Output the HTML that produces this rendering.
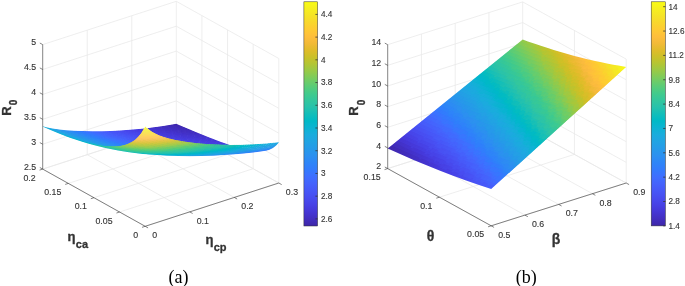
<!DOCTYPE html>
<html><head><meta charset="utf-8"><style>
html,body{margin:0;padding:0;background:#fff;}
body{width:685px;height:286px;overflow:hidden;font-family:"Liberation Sans", sans-serif;}
svg{display:block;}
.s path{fill:currentColor}
</style></head><body>
<svg width="685" height="286" viewBox="0 0 685 286" font-family='"Liberation Sans", sans-serif'>
<rect width="685" height="286" fill="#fff"/>
<line x1="42.7" y1="169.1" x2="176.3" y2="125.8" stroke="#e8e8e8" stroke-width="0.75"/>
<line x1="42.7" y1="144.2" x2="176.3" y2="100.9" stroke="#e8e8e8" stroke-width="0.75"/>
<line x1="42.7" y1="119.3" x2="176.3" y2="76" stroke="#e8e8e8" stroke-width="0.75"/>
<line x1="42.7" y1="94.4" x2="176.3" y2="51.1" stroke="#e8e8e8" stroke-width="0.75"/>
<line x1="42.7" y1="69.5" x2="176.3" y2="26.2" stroke="#e8e8e8" stroke-width="0.75"/>
<line x1="42.7" y1="44.6" x2="176.3" y2="1.3" stroke="#e8e8e8" stroke-width="0.75"/>
<line x1="87.23" y1="154.67" x2="87.23" y2="30.17" stroke="#e8e8e8" stroke-width="0.75"/>
<line x1="131.77" y1="140.23" x2="131.77" y2="15.73" stroke="#e8e8e8" stroke-width="0.75"/>
<line x1="176.3" y1="125.8" x2="176.3" y2="1.3" stroke="#e8e8e8" stroke-width="0.75"/>
<line x1="278.8" y1="183" x2="176.3" y2="125.8" stroke="#e8e8e8" stroke-width="0.75"/>
<line x1="278.8" y1="158.1" x2="176.3" y2="100.9" stroke="#e8e8e8" stroke-width="0.75"/>
<line x1="278.8" y1="133.2" x2="176.3" y2="76" stroke="#e8e8e8" stroke-width="0.75"/>
<line x1="278.8" y1="108.3" x2="176.3" y2="51.1" stroke="#e8e8e8" stroke-width="0.75"/>
<line x1="278.8" y1="83.4" x2="176.3" y2="26.2" stroke="#e8e8e8" stroke-width="0.75"/>
<line x1="278.8" y1="58.5" x2="176.3" y2="1.3" stroke="#e8e8e8" stroke-width="0.75"/>
<line x1="278.8" y1="183" x2="278.8" y2="58.5" stroke="#e8e8e8" stroke-width="0.75"/>
<line x1="253.17" y1="168.7" x2="253.17" y2="44.2" stroke="#e8e8e8" stroke-width="0.75"/>
<line x1="227.55" y1="154.4" x2="227.55" y2="29.9" stroke="#e8e8e8" stroke-width="0.75"/>
<line x1="201.92" y1="140.1" x2="201.92" y2="15.6" stroke="#e8e8e8" stroke-width="0.75"/>
<line x1="145.2" y1="226.3" x2="42.7" y2="169.1" stroke="#e8e8e8" stroke-width="0.75"/>
<line x1="189.73" y1="211.87" x2="87.23" y2="154.67" stroke="#e8e8e8" stroke-width="0.75"/>
<line x1="234.27" y1="197.43" x2="131.77" y2="140.23" stroke="#e8e8e8" stroke-width="0.75"/>
<line x1="278.8" y1="183" x2="176.3" y2="125.8" stroke="#e8e8e8" stroke-width="0.75"/>
<line x1="145.2" y1="226.3" x2="278.8" y2="183" stroke="#e8e8e8" stroke-width="0.75"/>
<line x1="119.57" y1="212" x2="253.17" y2="168.7" stroke="#e8e8e8" stroke-width="0.75"/>
<line x1="93.95" y1="197.7" x2="227.55" y2="154.4" stroke="#e8e8e8" stroke-width="0.75"/>
<line x1="68.32" y1="183.4" x2="201.92" y2="140.1" stroke="#e8e8e8" stroke-width="0.75"/>
<line x1="42.7" y1="169.1" x2="176.3" y2="125.8" stroke="#e8e8e8" stroke-width="0.75"/>
<defs><mask id="mkA" maskUnits="userSpaceOnUse" x="0" y="0" width="685" height="286"><path fill="#fff" d="M42.70 126.30 45.40 127.07 47.40 127.56 50.00 128.09 53.00 128.62 59.60 129.52 66.20 130.17 73.80 130.70 83.00 131.10 92.60 131.26 102.00 131.20 110.60 130.96 119.80 130.52 129.40 129.87 138.60 129.05 144.20 128.46 145.00 126.82 145.20 126.55 145.80 127.08 146.40 127.74 146.80 128.06 147.00 128.14 153.80 127.31 161.40 126.25 170.60 124.81 176.20 123.84 176.40 123.86 178.00 124.52 186.40 128.11 196.40 132.27 208.20 137.02 219.80 141.43 226.40 143.78 229.80 144.89 236.00 144.86 241.60 144.74 247.20 144.56 253.80 144.24 260.40 143.82 266.00 143.39 272.60 142.79 278.80 142.14 278.80 142.53 277.80 143.81 276.20 145.50 274.60 146.87 273.00 148.00 272.20 148.45 271.00 149.09 269.00 149.92 268.00 150.26 266.20 150.73 264.20 151.09 255.80 152.18 246.80 153.19 235.60 154.25 224.20 155.09 213.00 155.68 201.40 156.06 189.80 156.18 178.40 156.05 167.20 155.68 156.60 155.08 148.20 154.43 140.40 153.68 132.40 152.74 125.60 151.79 118.00 150.55 111.60 149.36 104.40 147.83 97.20 146.11 89.60 144.07 82.80 142.05 75.20 139.60 68.20 137.15 59.40 133.80 51.00 130.32 42.80 126.68z"/></mask></defs>
<g class="s" mask="url(#mkA)">
<path color="#16afda" d="M42.7 124.8L43.5 125.0 43.5 127.2 42.7 127.0z"/>
<path color="#16afd9" d="M43.3 125.0L44.1 125.3 44.1 127.5 43.3 127.2z"/>
<path color="#16afd9" d="M43.9 125.3L44.7 125.6 44.7 127.8 43.9 127.5z"/>
<path color="#16afd9" d="M44.5 125.6L45.3 125.9 45.3 128.1 44.5 127.8z"/>
<path color="#15afd9" d="M45.1 125.9L45.9 126.1 45.9 128.3 45.1 128.1z"/>
<path color="#15afd9" d="M45.7 126.1L46.5 126.4 46.5 128.6 45.7 128.3z"/>
<path color="#15b0d8" d="M46.3 126.4L47.1 126.7 47.1 128.9 46.3 128.6z"/>
<path color="#15b0d8" d="M46.9 126.7L47.7 126.9 47.7 129.1 46.9 128.9z"/>
<path color="#14b0d8" d="M47.5 126.9L48.3 127.2 48.3 129.4 47.5 129.1z"/>
<path color="#14b0d8" d="M48.1 127.2L48.9 127.4 48.9 129.6 48.1 129.4z"/>
<path color="#14b0d7" d="M48.7 127.4L49.5 127.7 49.5 129.9 48.7 129.6z"/>
<path color="#13b0d7" d="M49.3 127.7L50.1 128.0 50.1 130.2 49.3 129.9z"/>
<path color="#13b1d7" d="M49.9 128.0L50.7 128.2 50.7 130.4 49.9 130.2z"/>
<path color="#13b1d7" d="M50.5 128.2L51.3 128.5 51.3 130.7 50.5 130.4z"/>
<path color="#12b1d6" d="M51.1 128.5L51.9 128.8 51.9 131.0 51.1 130.7z"/>
<path color="#12b1d6" d="M51.7 128.8L52.5 129.0 52.5 131.2 51.7 131.0z"/>
<path color="#12b1d6" d="M52.3 129.0L53.1 129.3 53.1 131.5 52.3 131.2z"/>
<path color="#11b1d6" d="M52.9 129.3L53.7 129.5 53.7 131.7 52.9 131.5z"/>
<path color="#11b1d6" d="M53.5 129.5L54.3 129.8 54.3 132.0 53.5 131.7z"/>
<path color="#10b2d5" d="M54.1 129.8L54.9 130.0 54.9 132.2 54.1 132.0z"/>
<path color="#10b2d5" d="M54.7 130.0L55.5 130.3 55.5 132.5 54.7 132.2z"/>
<path color="#0fb2d5" d="M55.3 130.3L56.1 130.5 56.1 132.7 55.3 132.5z"/>
<path color="#0eb2d4" d="M55.9 130.5L56.7 130.8 56.7 133.0 55.9 132.7z"/>
<path color="#0eb2d4" d="M56.5 130.8L57.3 131.0 57.3 133.2 56.5 133.0z"/>
<path color="#0eb3d4" d="M57.1 131.0L57.9 131.3 57.9 133.5 57.1 133.2z"/>
<path color="#0cb3d3" d="M57.7 131.3L58.5 131.5 58.5 133.7 57.7 133.5z"/>
<path color="#0cb3d3" d="M58.3 131.5L59.1 131.7 59.1 133.9 58.3 133.7z"/>
<path color="#0cb3d2" d="M58.9 131.7L59.7 132.0 59.7 134.2 58.9 133.9z"/>
<path color="#0bb4d2" d="M59.5 132.0L60.3 132.2 60.3 134.4 59.5 134.2z"/>
<path color="#0bb4d2" d="M60.1 132.2L60.9 132.4 60.9 134.6 60.1 134.4z"/>
<path color="#09b4d1" d="M60.7 132.4L61.5 132.7 61.5 134.9 60.7 134.6z"/>
<path color="#09b4d1" d="M61.3 132.7L62.1 132.9 62.1 135.1 61.3 134.9z"/>
<path color="#09b4d1" d="M61.9 132.9L62.7 133.1 62.7 135.3 61.9 135.1z"/>
<path color="#07b5d0" d="M62.5 133.1L63.3 133.4 63.3 135.6 62.5 135.3z"/>
<path color="#07b5d0" d="M63.1 133.4L63.9 133.6 63.9 135.8 63.1 135.6z"/>
<path color="#06b5cf" d="M63.7 133.6L64.5 133.8 64.5 136.0 63.7 135.8z"/>
<path color="#05b5cf" d="M64.3 133.8L65.1 134.1 65.1 136.3 64.3 136.0z"/>
<path color="#05b5cf" d="M64.9 134.1L65.7 134.3 65.7 136.5 64.9 136.3z"/>
<path color="#04b6ce" d="M65.5 134.3L66.3 134.5 66.3 136.7 65.5 136.5z"/>
<path color="#04b6cd" d="M66.1 134.5L66.9 134.7 66.9 136.9 66.1 136.7z"/>
<path color="#04b6cd" d="M66.7 134.7L67.5 135.0 67.5 137.2 66.7 136.9z"/>
<path color="#03b6cd" d="M67.3 135.0L68.1 135.2 68.1 137.4 67.3 137.2z"/>
<path color="#03b6cd" d="M67.9 135.2L68.7 135.4 68.7 137.6 67.9 137.4z"/>
<path color="#03b6cc" d="M68.5 135.4L69.3 135.6 69.3 137.8 68.5 137.6z"/>
<path color="#02b7cb" d="M69.1 135.6L69.9 135.8 69.9 138.0 69.1 137.8z"/>
<path color="#02b7cb" d="M69.7 135.8L70.5 136.0 70.5 138.2 69.7 138.0z"/>
<path color="#01b7cb" d="M70.3 136.0L71.1 136.2 71.1 138.4 70.3 138.2z"/>
<path color="#01b7cb" d="M70.9 136.2L71.7 136.5 71.7 138.7 70.9 138.4z"/>
<path color="#01b7cb" d="M71.5 136.5L72.3 136.7 72.3 138.9 71.5 138.7z"/>
<path color="#01b7cb" d="M72.1 136.7L72.9 136.9 72.9 139.1 72.1 138.9z"/>
<path color="#01b7ca" d="M72.7 136.9L73.5 137.1 73.5 139.3 72.7 139.1z"/>
<path color="#01b8ca" d="M73.3 137.1L74.1 137.3 74.1 139.5 73.3 139.3z"/>
<path color="#01b8ca" d="M73.9 137.3L74.7 137.5 74.7 139.7 73.9 139.5z"/>
<path color="#01b8ca" d="M74.5 137.5L75.3 137.7 75.3 139.9 74.5 139.7z"/>
<path color="#01b8ca" d="M75.1 137.7L75.9 137.9 75.9 140.1 75.1 139.9z"/>
<path color="#01b8ca" d="M75.7 137.9L76.5 138.1 76.5 140.3 75.7 140.1z"/>
<path color="#01b8c9" d="M76.3 138.1L77.1 138.3 77.1 140.5 76.3 140.3z"/>
<path color="#01b8ca" d="M76.9 138.3L77.7 138.5 77.7 140.7 76.9 140.5z"/>
<path color="#01b8ca" d="M77.5 138.5L78.3 138.7 78.3 140.9 77.5 140.7z"/>
<path color="#01b8c9" d="M78.1 138.7L78.9 138.9 78.9 141.1 78.1 140.9z"/>
<path color="#00b8c9" d="M78.7 138.9L79.5 139.1 79.5 141.3 78.7 141.1z"/>
<path color="#00b8c9" d="M79.3 139.1L80.1 139.3 80.1 141.5 79.3 141.3z"/>
<path color="#00b8c9" d="M79.9 139.3L80.7 139.5 80.7 141.7 79.9 141.5z"/>
<path color="#00b8c9" d="M80.5 139.5L81.3 139.7 81.3 141.9 80.5 141.7z"/>
<path color="#00b8c8" d="M81.1 139.7L81.9 139.8 81.9 142.0 81.1 141.9z"/>
<path color="#00b9c8" d="M81.7 139.8L82.5 140.0 82.5 142.2 81.7 142.0z"/>
<path color="#00b9c8" d="M82.3 140.0L83.1 140.2 83.1 142.4 82.3 142.2z"/>
<path color="#00b9c7" d="M82.9 140.2L83.7 140.4 83.7 142.6 82.9 142.4z"/>
<path color="#00b9c7" d="M83.5 140.4L84.3 140.6 84.3 142.8 83.5 142.6z"/>
<path color="#00b9c8" d="M84.1 140.6L84.9 140.8 84.9 143.0 84.1 142.8z"/>
<path color="#00b9c7" d="M84.7 140.8L85.5 140.9 85.5 143.1 84.7 143.0z"/>
<path color="#00b9c7" d="M85.3 140.9L86.1 141.1 86.1 143.3 85.3 143.1z"/>
<path color="#00b9c7" d="M85.9 141.1L86.7 141.3 86.7 143.5 85.9 143.3z"/>
<path color="#00b9c7" d="M86.5 141.3L87.3 141.5 87.3 143.7 86.5 143.5z"/>
<path color="#00b9c7" d="M87.1 141.5L87.9 141.7 87.9 143.9 87.1 143.7z"/>
<path color="#00b9c7" d="M87.7 141.7L88.5 141.8 88.5 144.0 87.7 143.9z"/>
<path color="#00b9c7" d="M88.3 141.8L89.1 142.0 89.1 144.2 88.3 144.0z"/>
<path color="#00b9c6" d="M88.9 142.0L89.7 142.2 89.7 144.4 88.9 144.2z"/>
<path color="#00b9c6" d="M89.5 142.2L90.3 142.3 90.3 144.5 89.5 144.4z"/>
<path color="#00bac6" d="M90.1 142.3L90.9 142.5 90.9 144.7 90.1 144.5z"/>
<path color="#00b9c6" d="M90.7 142.5L91.5 142.7 91.5 144.9 90.7 144.7z"/>
<path color="#00b9c6" d="M91.3 142.7L92.1 142.8 92.1 145.0 91.3 144.9z"/>
<path color="#01bac5" d="M91.9 142.8L92.7 143.0 92.7 145.2 91.9 145.0z"/>
<path color="#01bac5" d="M92.5 143.0L93.3 143.2 93.3 145.4 92.5 145.2z"/>
<path color="#00b9c6" d="M93.1 143.2L93.9 143.3 93.9 145.5 93.1 145.4z"/>
<path color="#00b9c6" d="M93.7 143.3L94.5 143.5 94.5 145.7 93.7 145.5z"/>
<path color="#01bac5" d="M94.3 143.5L95.1 143.6 95.1 145.8 94.3 145.7z"/>
<path color="#00bac6" d="M94.9 143.6L95.7 143.8 95.7 146.0 94.9 145.8z"/>
<path color="#01bac6" d="M95.5 143.8L96.3 144.0 96.3 146.2 95.5 146.0z"/>
<path color="#01bac5" d="M96.1 144.0L96.9 144.1 96.9 146.3 96.1 146.2z"/>
<path color="#01bac5" d="M96.7 144.1L97.5 144.3 97.5 146.5 96.7 146.3z"/>
<path color="#01bac5" d="M97.3 144.3L98.1 144.4 98.1 146.6 97.3 146.5z"/>
<path color="#01bac5" d="M97.9 144.4L98.7 144.6 98.7 146.8 97.9 146.6z"/>
<path color="#01bac5" d="M98.5 144.6L99.3 144.7 99.3 146.9 98.5 146.8z"/>
<path color="#01bac5" d="M99.1 144.7L99.9 144.9 99.9 147.1 99.1 146.9z"/>
<path color="#01bac5" d="M99.7 144.9L100.5 145.0 100.5 147.2 99.7 147.1z"/>
<path color="#01bac5" d="M100.3 145.0L101.1 145.1 101.1 147.3 100.3 147.2z"/>
<path color="#01bac5" d="M100.9 145.1L101.7 145.3 101.7 147.5 100.9 147.3z"/>
<path color="#01bac5" d="M101.5 145.3L102.3 145.4 102.3 147.6 101.5 147.5z"/>
<path color="#01bac5" d="M102.1 145.4L102.9 145.6 102.9 147.8 102.1 147.6z"/>
<path color="#01bac5" d="M102.7 145.6L103.5 145.7 103.5 147.9 102.7 147.8z"/>
<path color="#01bac5" d="M103.3 145.7L104.1 145.8 104.1 148.0 103.3 147.9z"/>
<path color="#01bac5" d="M103.9 145.8L104.7 146.0 104.7 148.2 103.9 148.0z"/>
<path color="#01bac5" d="M104.5 146.0L105.3 146.1 105.3 148.3 104.5 148.2z"/>
<path color="#01bac5" d="M105.1 146.1L105.9 146.2 105.9 148.4 105.1 148.3z"/>
<path color="#01bac5" d="M105.7 146.2L106.5 146.4 106.5 148.6 105.7 148.4z"/>
<path color="#01bac5" d="M106.3 146.4L107.1 146.5 107.1 148.7 106.3 148.6z"/>
<path color="#01bac5" d="M106.9 146.5L107.7 146.6 107.7 148.8 106.9 148.7z"/>
<path color="#01bac5" d="M107.5 146.6L108.3 146.8 108.3 149.0 107.5 148.8z"/>
<path color="#01bac5" d="M108.1 146.8L108.9 146.9 108.9 149.1 108.1 149.0z"/>
<path color="#01bac5" d="M108.7 146.9L109.5 147.0 109.5 149.2 108.7 149.1z"/>
<path color="#01bac5" d="M109.3 147.0L110.1 147.1 110.1 149.3 109.3 149.2z"/>
<path color="#00b9c6" d="M109.9 147.1L110.7 147.3 110.7 149.5 109.9 149.3z"/>
<path color="#00b9c6" d="M110.5 147.3L111.3 147.4 111.3 149.6 110.5 149.5z"/>
<path color="#01bac5" d="M111.1 147.4L111.9 147.5 111.9 149.7 111.1 149.6z"/>
<path color="#00b9c6" d="M111.7 147.5L112.5 147.6 112.5 149.8 111.7 149.7z"/>
<path color="#00b9c6" d="M112.3 147.6L113.1 147.7 113.1 149.9 112.3 149.8z"/>
<path color="#00b9c6" d="M112.9 147.7L113.7 147.8 113.7 150.0 112.9 149.9z"/>
<path color="#00b9c6" d="M113.5 147.8L114.3 148.0 114.3 150.2 113.5 150.0z"/>
<path color="#00b9c6" d="M114.1 148.0L114.9 148.1 114.9 150.3 114.1 150.2z"/>
<path color="#00b9c6" d="M114.7 148.1L115.5 148.2 115.5 150.4 114.7 150.3z"/>
<path color="#00b9c7" d="M115.3 148.2L116.1 148.3 116.1 150.5 115.3 150.4z"/>
<path color="#00b9c6" d="M115.9 148.3L116.7 148.4 116.7 150.6 115.9 150.5z"/>
<path color="#00b9c7" d="M116.5 148.4L117.3 148.5 117.3 150.7 116.5 150.6z"/>
<path color="#00b9c7" d="M117.1 148.5L117.9 148.6 117.9 150.8 117.1 150.7z"/>
<path color="#00b9c7" d="M117.7 148.6L118.5 148.7 118.5 150.9 117.7 150.8z"/>
<path color="#00b9c8" d="M118.3 148.7L119.1 148.8 119.1 151.0 118.3 150.9z"/>
<path color="#00b9c8" d="M118.9 148.8L119.7 148.9 119.7 151.1 118.9 151.0z"/>
<path color="#00b8c8" d="M119.5 148.9L120.3 149.0 120.3 151.2 119.5 151.1z"/>
<path color="#00b9c8" d="M120.1 149.0L120.9 149.1 120.9 151.3 120.1 151.2z"/>
<path color="#00b8c8" d="M120.7 149.1L121.5 149.2 121.5 151.4 120.7 151.3z"/>
<path color="#00b8c9" d="M121.3 149.2L122.1 149.3 122.1 151.5 121.3 151.4z"/>
<path color="#00b8c9" d="M121.9 149.3L122.7 149.4 122.7 151.6 121.9 151.5z"/>
<path color="#01b8c9" d="M122.5 149.4L123.3 149.5 123.3 151.7 122.5 151.6z"/>
<path color="#01b8ca" d="M123.1 149.5L123.9 149.6 123.9 151.8 123.1 151.7z"/>
<path color="#01b8ca" d="M123.7 149.6L124.5 149.7 124.5 151.9 123.7 151.8z"/>
<path color="#01b8ca" d="M124.3 149.7L125.1 149.8 125.1 152.0 124.3 151.9z"/>
<path color="#01b8ca" d="M124.9 149.8L125.7 149.9 125.7 152.1 124.9 152.0z"/>
<path color="#01b8ca" d="M125.5 149.9L126.3 150.0 126.3 152.2 125.5 152.1z"/>
<path color="#01b7ca" d="M126.1 150.0L126.9 150.1 126.9 152.3 126.1 152.2z"/>
<path color="#01b7cb" d="M126.7 150.1L127.5 150.2 127.5 152.4 126.7 152.3z"/>
<path color="#02b7cb" d="M127.3 150.2L128.1 150.2 128.1 152.4 127.3 152.4z"/>
<path color="#02b7cc" d="M127.9 150.2L128.7 150.3 128.7 152.5 127.9 152.4z"/>
<path color="#02b7cc" d="M128.5 150.3L129.3 150.4 129.3 152.6 128.5 152.5z"/>
<path color="#03b7cc" d="M129.1 150.4L129.9 150.5 129.9 152.7 129.1 152.6z"/>
<path color="#03b6cd" d="M129.7 150.5L130.5 150.6 130.5 152.8 129.7 152.7z"/>
<path color="#04b6cd" d="M130.3 150.6L131.1 150.7 131.1 152.9 130.3 152.8z"/>
<path color="#04b6cd" d="M130.9 150.7L131.7 150.7 131.7 152.9 130.9 152.9z"/>
<path color="#04b6ce" d="M131.5 150.7L132.3 150.8 132.3 153.0 131.5 152.9z"/>
<path color="#04b6ce" d="M132.1 150.8L132.9 150.9 132.9 153.1 132.1 153.0z"/>
<path color="#05b6ce" d="M132.7 150.9L133.5 151.0 133.5 153.2 132.7 153.1z"/>
<path color="#05b5cf" d="M133.3 151.0L134.1 151.0 134.1 153.2 133.3 153.2z"/>
<path color="#06b5cf" d="M133.9 151.0L134.7 151.1 134.7 153.3 133.9 153.2z"/>
<path color="#06b5cf" d="M134.5 151.1L135.3 151.2 135.3 153.4 134.5 153.3z"/>
<path color="#07b5d0" d="M135.1 151.2L135.9 151.3 135.9 153.5 135.1 153.4z"/>
<path color="#07b5d0" d="M135.7 151.3L136.5 151.3 136.5 153.5 135.7 153.5z"/>
<path color="#08b5d0" d="M136.3 151.3L137.1 151.4 137.1 153.6 136.3 153.5z"/>
<path color="#09b4d1" d="M136.9 151.4L137.7 151.5 137.7 153.7 136.9 153.6z"/>
<path color="#09b4d1" d="M137.5 151.5L138.3 151.5 138.3 153.7 137.5 153.7z"/>
<path color="#0ab4d2" d="M138.1 151.5L138.9 151.6 138.9 153.8 138.1 153.7z"/>
<path color="#0ab4d2" d="M138.7 151.6L139.5 151.7 139.5 153.9 138.7 153.8z"/>
<path color="#0bb3d2" d="M139.3 151.7L140.1 151.7 140.1 153.9 139.3 153.9z"/>
<path color="#0bb3d2" d="M139.9 151.7L140.7 151.8 140.7 154.0 139.9 153.9z"/>
<path color="#0cb3d3" d="M140.5 151.8L141.3 151.9 141.3 154.1 140.5 154.0z"/>
<path color="#0db3d3" d="M141.1 151.9L141.9 151.9 141.9 154.1 141.1 154.1z"/>
<path color="#0eb3d4" d="M141.7 151.9L142.5 152.0 142.5 154.2 141.7 154.1z"/>
<path color="#0eb3d4" d="M142.3 152.0L143.1 152.0 143.1 154.2 142.3 154.2z"/>
<path color="#0fb2d4" d="M142.9 152.0L143.7 152.1 143.7 154.3 142.9 154.2z"/>
<path color="#10b2d5" d="M143.5 152.1L144.3 152.2 144.3 154.4 143.5 154.3z"/>
<path color="#10b2d5" d="M144.1 152.2L144.9 152.2 144.9 154.4 144.1 154.4z"/>
<path color="#11b1d6" d="M144.7 152.2L145.5 152.3 145.5 154.5 144.7 154.4z"/>
<path color="#12b1d6" d="M145.3 152.3L146.1 152.3 146.1 154.5 145.3 154.5z"/>
<path color="#12b1d6" d="M145.9 152.3L146.7 152.4 146.7 154.6 145.9 154.5z"/>
<path color="#13b1d7" d="M146.5 152.4L147.3 152.4 147.3 154.6 146.5 154.6z"/>
<path color="#13b0d7" d="M147.1 152.4L147.9 152.5 147.9 154.7 147.1 154.6z"/>
<path color="#13b0d7" d="M147.7 152.5L148.5 152.6 148.5 154.8 147.7 154.7z"/>
<path color="#14b0d8" d="M148.3 152.6L149.1 152.6 149.1 154.8 148.3 154.8z"/>
<path color="#15b0d8" d="M148.9 152.6L149.7 152.7 149.7 154.9 148.9 154.8z"/>
<path color="#16afd9" d="M149.5 152.7L150.3 152.7 150.3 154.9 149.5 154.9z"/>
<path color="#16afd9" d="M150.1 152.7L150.9 152.8 150.9 155.0 150.1 154.9z"/>
<path color="#16afda" d="M150.7 152.8L151.5 152.8 151.5 155.0 150.7 155.0z"/>
<path color="#17aeda" d="M151.3 152.8L152.1 152.8 152.1 155.0 151.3 155.0z"/>
<path color="#17aeda" d="M151.9 152.8L152.7 152.9 152.7 155.1 151.9 155.0z"/>
<path color="#17aeda" d="M152.5 152.9L153.3 152.9 153.3 155.1 152.5 155.1z"/>
<path color="#18aedb" d="M153.1 152.9L153.9 153.0 153.9 155.2 153.1 155.1z"/>
<path color="#18addb" d="M153.7 153.0L154.5 153.0 154.5 155.2 153.7 155.2z"/>
<path color="#19addc" d="M154.3 153.0L155.1 153.1 155.1 155.3 154.3 155.2z"/>
<path color="#19addc" d="M154.9 153.1L155.7 153.1 155.7 155.3 154.9 155.3z"/>
<path color="#19acdc" d="M155.5 153.1L156.3 153.2 156.3 155.4 155.5 155.3z"/>
<path color="#19acdc" d="M156.1 153.2L156.9 153.2 156.9 155.4 156.1 155.4z"/>
<path color="#1aacdd" d="M156.7 153.2L157.5 153.2 157.5 155.4 156.7 155.4z"/>
<path color="#1aacdd" d="M157.3 153.2L158.1 153.3 158.1 155.5 157.3 155.4z"/>
<path color="#1babde" d="M157.9 153.3L158.7 153.3 158.7 155.5 157.9 155.5z"/>
<path color="#1babde" d="M158.5 153.3L159.3 153.4 159.3 155.6 158.5 155.5z"/>
<path color="#1babde" d="M159.1 153.4L159.9 153.4 159.9 155.6 159.1 155.6z"/>
<path color="#1baade" d="M159.7 153.4L160.5 153.4 160.5 155.6 159.7 155.6z"/>
<path color="#1caadf" d="M160.3 153.4L161.1 153.5 161.1 155.7 160.3 155.6z"/>
<path color="#1caadf" d="M160.9 153.5L161.7 153.5 161.7 155.7 160.9 155.7z"/>
<path color="#1ca9df" d="M161.5 153.5L162.3 153.5 162.3 155.7 161.5 155.7z"/>
<path color="#1da9e0" d="M162.1 153.5L162.9 153.6 162.9 155.8 162.1 155.7z"/>
<path color="#1da9e0" d="M162.7 153.6L163.5 153.6 163.5 155.8 162.7 155.8z"/>
<path color="#1da8e0" d="M163.3 153.6L164.1 153.6 164.1 155.8 163.3 155.8z"/>
<path color="#1da8e0" d="M163.9 153.6L164.7 153.7 164.7 155.9 163.9 155.8z"/>
<path color="#1ea8e1" d="M164.5 153.7L165.3 153.7 165.3 155.9 164.5 155.9z"/>
<path color="#1ea7e1" d="M165.1 153.7L165.9 153.7 165.9 155.9 165.1 155.9z"/>
<path color="#1ea7e1" d="M165.7 153.7L166.5 153.7 166.5 155.9 165.7 155.9z"/>
<path color="#1ea7e1" d="M166.3 153.7L167.1 153.8 167.1 156.0 166.3 155.9z"/>
<path color="#1fa6e2" d="M166.9 153.8L167.7 153.8 167.7 156.0 166.9 156.0z"/>
<path color="#1fa6e2" d="M167.5 153.8L168.3 153.8 168.3 156.0 167.5 156.0z"/>
<path color="#1fa6e2" d="M168.1 153.8L168.9 153.8 168.9 156.0 168.1 156.0z"/>
<path color="#1fa5e2" d="M168.7 153.8L169.5 153.9 169.5 156.1 168.7 156.0z"/>
<path color="#20a5e2" d="M169.3 153.9L170.1 153.9 170.1 156.1 169.3 156.1z"/>
<path color="#20a5e3" d="M169.9 153.9L170.7 153.9 170.7 156.1 169.9 156.1z"/>
<path color="#20a4e3" d="M170.5 153.9L171.3 153.9 171.3 156.1 170.5 156.1z"/>
<path color="#21a4e3" d="M171.1 153.9L171.9 154.0 171.9 156.2 171.1 156.1z"/>
<path color="#21a3e3" d="M171.7 154.0L172.5 154.0 172.5 156.2 171.7 156.2z"/>
<path color="#21a3e3" d="M172.3 154.0L173.1 154.0 173.1 156.2 172.3 156.2z"/>
<path color="#21a3e3" d="M172.9 154.0L173.7 154.0 173.7 156.2 172.9 156.2z"/>
<path color="#21a3e4" d="M173.5 154.0L174.3 154.0 174.3 156.2 173.5 156.2z"/>
<path color="#22a2e4" d="M174.1 154.0L174.9 154.1 174.9 156.3 174.1 156.2z"/>
<path color="#22a2e4" d="M174.7 154.1L175.5 154.1 175.5 156.3 174.7 156.3z"/>
<path color="#22a2e4" d="M175.3 154.1L176.1 154.1 176.1 156.3 175.3 156.3z"/>
<path color="#22a1e4" d="M175.9 154.1L176.7 154.1 176.7 156.3 175.9 156.3z"/>
<path color="#23a1e4" d="M176.5 154.1L177.3 154.1 177.3 156.3 176.5 156.3z"/>
<path color="#23a1e5" d="M177.1 154.1L177.9 154.1 177.9 156.3 177.1 156.3z"/>
<path color="#23a0e5" d="M177.7 154.1L178.5 154.2 178.5 156.4 177.7 156.3z"/>
<path color="#23a0e5" d="M178.3 154.2L179.1 154.2 179.1 156.4 178.3 156.4z"/>
<path color="#249fe5" d="M178.9 154.2L179.7 154.2 179.7 156.4 178.9 156.4z"/>
<path color="#249fe5" d="M179.5 154.2L180.3 154.2 180.3 156.4 179.5 156.4z"/>
<path color="#249fe6" d="M180.1 154.2L180.9 154.2 180.9 156.4 180.1 156.4z"/>
<path color="#249ee6" d="M180.7 154.2L181.5 154.2 181.5 156.4 180.7 156.4z"/>
<path color="#249ee6" d="M181.3 154.2L182.1 154.2 182.1 156.4 181.3 156.4z"/>
<path color="#259de6" d="M181.9 154.2L182.7 154.2 182.7 156.4 181.9 156.4z"/>
<path color="#259de6" d="M182.5 154.2L183.3 154.2 183.3 156.4 182.5 156.4z"/>
<path color="#259de6" d="M183.1 154.2L183.9 154.2 183.9 156.4 183.1 156.4z"/>
<path color="#259de7" d="M183.7 154.2L184.5 154.2 184.5 156.4 183.7 156.4z"/>
<path color="#259ce7" d="M184.3 154.2L185.1 154.3 185.1 156.5 184.3 156.4z"/>
<path color="#259ce7" d="M184.9 154.3L185.7 154.3 185.7 156.5 184.9 156.5z"/>
<path color="#259ce7" d="M185.5 154.3L186.3 154.3 186.3 156.5 185.5 156.5z"/>
<path color="#259be8" d="M186.1 154.3L186.9 154.3 186.9 156.5 186.1 156.5z"/>
<path color="#259be8" d="M186.7 154.3L187.5 154.3 187.5 156.5 186.7 156.5z"/>
<path color="#269ae8" d="M187.3 154.3L188.1 154.3 188.1 156.5 187.3 156.5z"/>
<path color="#269ae8" d="M187.9 154.3L188.7 154.3 188.7 156.5 187.9 156.5z"/>
<path color="#269ae9" d="M188.5 154.3L189.3 154.3 189.3 156.5 188.5 156.5z"/>
<path color="#2699e9" d="M189.1 154.3L189.9 154.3 189.9 156.5 189.1 156.5z"/>
<path color="#2699e9" d="M189.7 154.3L190.5 154.3 190.5 156.5 189.7 156.5z"/>
<path color="#2699e9" d="M190.3 154.3L191.1 154.3 191.1 156.5 190.3 156.5z"/>
<path color="#2698ea" d="M190.9 154.3L191.7 154.3 191.7 156.5 190.9 156.5z"/>
<path color="#2698ea" d="M191.5 154.3L192.3 154.3 192.3 156.5 191.5 156.5z"/>
<path color="#2798ea" d="M192.1 154.3L192.9 154.3 192.9 156.5 192.1 156.5z"/>
<path color="#2797eb" d="M192.7 154.3L193.5 154.3 193.5 156.5 192.7 156.5z"/>
<path color="#2797eb" d="M193.3 154.3L194.1 154.3 194.1 156.5 193.3 156.5z"/>
<path color="#2797eb" d="M193.9 154.3L194.7 154.3 194.7 156.5 193.9 156.5z"/>
<path color="#2796eb" d="M194.5 154.3L195.3 154.3 195.3 156.5 194.5 156.5z"/>
<path color="#2896ec" d="M195.1 154.3L195.9 154.2 195.9 156.4 195.1 156.5z"/>
<path color="#2895ec" d="M195.7 154.2L196.5 154.2 196.5 156.4 195.7 156.4z"/>
<path color="#2895ec" d="M196.3 154.2L197.1 154.2 197.1 156.4 196.3 156.4z"/>
<path color="#2995ec" d="M196.9 154.2L197.7 154.2 197.7 156.4 196.9 156.4z"/>
<path color="#2994ed" d="M197.5 154.2L198.3 154.2 198.3 156.4 197.5 156.4z"/>
<path color="#2994ed" d="M198.1 154.2L198.9 154.2 198.9 156.4 198.1 156.4z"/>
<path color="#2994ed" d="M198.7 154.2L199.5 154.2 199.5 156.4 198.7 156.4z"/>
<path color="#2a93ed" d="M199.3 154.2L200.1 154.2 200.1 156.4 199.3 156.4z"/>
<path color="#2a93ee" d="M199.9 154.2L200.7 154.2 200.7 156.4 199.9 156.4z"/>
<path color="#2a93ee" d="M200.5 154.2L201.3 154.2 201.3 156.4 200.5 156.4z"/>
<path color="#2a92ee" d="M201.1 154.2L201.9 154.1 201.9 156.3 201.1 156.4z"/>
<path color="#2b92ee" d="M201.7 154.1L202.5 154.1 202.5 156.3 201.7 156.3z"/>
<path color="#2b92ef" d="M202.3 154.1L203.1 154.1 203.1 156.3 202.3 156.3z"/>
<path color="#2b91ef" d="M202.9 154.1L203.7 154.1 203.7 156.3 202.9 156.3z"/>
<path color="#2b91ef" d="M203.5 154.1L204.3 154.1 204.3 156.3 203.5 156.3z"/>
<path color="#2c90ef" d="M204.1 154.1L204.9 154.1 204.9 156.3 204.1 156.3z"/>
<path color="#2c90f0" d="M204.7 154.1L205.5 154.1 205.5 156.3 204.7 156.3z"/>
<path color="#2c90f0" d="M205.3 154.1L206.1 154.0 206.1 156.2 205.3 156.3z"/>
<path color="#2c90f0" d="M205.9 154.0L206.7 154.0 206.7 156.2 205.9 156.2z"/>
<path color="#2c8ff0" d="M206.5 154.0L207.3 154.0 207.3 156.2 206.5 156.2z"/>
<path color="#2c8ff1" d="M207.1 154.0L207.9 154.0 207.9 156.2 207.1 156.2z"/>
<path color="#2d8ef1" d="M207.7 154.0L208.5 154.0 208.5 156.2 207.7 156.2z"/>
<path color="#2d8ef1" d="M208.3 154.0L209.1 153.9 209.1 156.1 208.3 156.2z"/>
<path color="#2d8ef2" d="M208.9 153.9L209.7 153.9 209.7 156.1 208.9 156.1z"/>
<path color="#2d8ef2" d="M209.5 153.9L210.3 153.9 210.3 156.1 209.5 156.1z"/>
<path color="#2d8df2" d="M210.1 153.9L210.9 153.9 210.9 156.1 210.1 156.1z"/>
<path color="#2d8df2" d="M210.7 153.9L211.5 153.8 211.5 156.0 210.7 156.1z"/>
<path color="#2d8cf3" d="M211.3 153.8L212.1 153.8 212.1 156.0 211.3 156.0z"/>
<path color="#2d8cf3" d="M211.9 153.8L212.7 153.8 212.7 156.0 211.9 156.0z"/>
<path color="#2d8cf3" d="M212.5 153.8L213.3 153.8 213.3 156.0 212.5 156.0z"/>
<path color="#2d8bf4" d="M213.1 153.8L213.9 153.7 213.9 155.9 213.1 156.0z"/>
<path color="#2d8bf4" d="M213.7 153.7L214.5 153.7 214.5 155.9 213.7 155.9z"/>
<path color="#2d8af4" d="M214.3 153.7L215.1 153.7 215.1 155.9 214.3 155.9z"/>
<path color="#2d8af5" d="M214.9 153.7L215.7 153.7 215.7 155.9 214.9 155.9z"/>
<path color="#2d8af5" d="M215.5 153.7L216.3 153.6 216.3 155.8 215.5 155.9z"/>
<path color="#2d8af5" d="M216.1 153.6L216.9 153.6 216.9 155.8 216.1 155.8z"/>
<path color="#2d89f5" d="M216.7 153.6L217.5 153.6 217.5 155.8 216.7 155.8z"/>
<path color="#2d89f6" d="M217.3 153.6L218.1 153.5 218.1 155.7 217.3 155.8z"/>
<path color="#2d89f6" d="M217.9 153.5L218.7 153.5 218.7 155.7 217.9 155.7z"/>
<path color="#2d88f6" d="M218.5 153.5L219.3 153.5 219.3 155.7 218.5 155.7z"/>
<path color="#2d88f6" d="M219.1 153.5L219.9 153.4 219.9 155.6 219.1 155.7z"/>
<path color="#2d87f7" d="M219.7 153.4L220.5 153.4 220.5 155.6 219.7 155.6z"/>
<path color="#2e87f7" d="M220.3 153.4L221.1 153.4 221.1 155.6 220.3 155.6z"/>
<path color="#2e87f7" d="M220.9 153.4L221.7 153.3 221.7 155.5 220.9 155.6z"/>
<path color="#2e87f7" d="M221.5 153.3L222.3 153.3 222.3 155.5 221.5 155.5z"/>
<path color="#2e86f7" d="M222.1 153.3L222.9 153.3 222.9 155.5 222.1 155.5z"/>
<path color="#2e85f8" d="M222.7 153.3L223.5 153.2 223.5 155.4 222.7 155.5z"/>
<path color="#2e86f8" d="M223.3 153.2L224.1 153.2 224.1 155.4 223.3 155.4z"/>
<path color="#2e85f8" d="M223.9 153.2L224.7 153.2 224.7 155.4 223.9 155.4z"/>
<path color="#2e85f8" d="M224.5 153.2L225.3 153.1 225.3 155.3 224.5 155.4z"/>
<path color="#2e84f8" d="M225.1 153.1L225.9 153.1 225.9 155.3 225.1 155.3z"/>
<path color="#2e84f8" d="M225.7 153.1L226.5 153.0 226.5 155.2 225.7 155.3z"/>
<path color="#2e84f9" d="M226.3 153.0L227.1 153.0 227.1 155.2 226.3 155.2z"/>
<path color="#2e83f9" d="M226.9 153.0L227.7 153.0 227.7 155.2 226.9 155.2z"/>
<path color="#2e83f9" d="M227.5 153.0L228.3 152.9 228.3 155.1 227.5 155.2z"/>
<path color="#2e82f9" d="M228.1 152.9L228.9 152.9 228.9 155.1 228.1 155.1z"/>
<path color="#2f82f9" d="M228.7 152.9L229.5 152.8 229.5 155.0 228.7 155.1z"/>
<path color="#2f82fa" d="M229.3 152.8L230.1 152.8 230.1 155.0 229.3 155.0z"/>
<path color="#2f82fa" d="M229.9 152.8L230.7 152.7 230.7 154.9 229.9 155.0z"/>
<path color="#2f81fa" d="M230.5 152.7L231.3 152.7 231.3 154.9 230.5 154.9z"/>
<path color="#2f81fa" d="M231.1 152.7L231.9 152.7 231.9 154.9 231.1 154.9z"/>
<path color="#2f81fa" d="M231.7 152.7L232.5 152.6 232.5 154.8 231.7 154.9z"/>
<path color="#2f81fa" d="M232.3 152.6L233.1 152.6 233.1 154.8 232.3 154.8z"/>
<path color="#2f80fa" d="M232.9 152.6L233.7 152.5 233.7 154.7 232.9 154.8z"/>
<path color="#2f80fb" d="M233.5 152.5L234.3 152.5 234.3 154.7 233.5 154.7z"/>
<path color="#2f7ffb" d="M234.1 152.5L234.9 152.4 234.9 154.6 234.1 154.7z"/>
<path color="#307ffb" d="M234.7 152.4L235.5 152.4 235.5 154.6 234.7 154.6z"/>
<path color="#307ffb" d="M235.3 152.4L236.1 152.3 236.1 154.5 235.3 154.6z"/>
<path color="#307efb" d="M235.9 152.3L236.7 152.3 236.7 154.5 235.9 154.5z"/>
<path color="#307efb" d="M236.5 152.3L237.3 152.2 237.3 154.4 236.5 154.5z"/>
<path color="#307efc" d="M237.1 152.2L237.9 152.2 237.9 154.4 237.1 154.4z"/>
<path color="#317dfc" d="M237.7 152.2L238.5 152.1 238.5 154.3 237.7 154.4z"/>
<path color="#317dfc" d="M238.3 152.1L239.1 152.0 239.1 154.2 238.3 154.3z"/>
<path color="#317dfc" d="M238.9 152.0L239.7 152.0 239.7 154.2 238.9 154.2z"/>
<path color="#317dfc" d="M239.5 152.0L240.3 151.9 240.3 154.1 239.5 154.2z"/>
<path color="#327cfc" d="M240.1 151.9L240.9 151.9 240.9 154.1 240.1 154.1z"/>
<path color="#327cfc" d="M240.7 151.9L241.5 151.8 241.5 154.0 240.7 154.1z"/>
<path color="#327cfc" d="M241.3 151.8L242.1 151.8 242.1 154.0 241.3 154.0z"/>
<path color="#327bfc" d="M241.9 151.8L242.7 151.7 242.7 153.9 241.9 154.0z"/>
<path color="#337bfc" d="M242.5 151.7L243.3 151.7 243.3 153.9 242.5 153.9z"/>
<path color="#337bfd" d="M243.1 151.7L243.9 151.6 243.9 153.8 243.1 153.9z"/>
<path color="#347afd" d="M243.7 151.6L244.5 151.5 244.5 153.7 243.7 153.8z"/>
<path color="#347afd" d="M244.3 151.5L245.1 151.5 245.1 153.7 244.3 153.7z"/>
<path color="#347afd" d="M244.9 151.5L245.7 151.4 245.7 153.6 244.9 153.7z"/>
<path color="#3479fd" d="M245.5 151.4L246.3 151.4 246.3 153.6 245.5 153.6z"/>
<path color="#3579fd" d="M246.1 151.4L246.9 151.3 246.9 153.5 246.1 153.6z"/>
<path color="#3578fd" d="M246.7 151.3L247.5 151.2 247.5 153.4 246.7 153.5z"/>
<path color="#3678fd" d="M247.3 151.2L248.1 151.2 248.1 153.4 247.3 153.4z"/>
<path color="#3678fd" d="M247.9 151.2L248.7 151.1 248.7 153.3 247.9 153.4z"/>
<path color="#3677fe" d="M248.5 151.1L249.3 151.0 249.3 153.2 248.5 153.3z"/>
<path color="#3677fe" d="M249.1 151.0L249.9 151.0 249.9 153.2 249.1 153.2z"/>
<path color="#3777fe" d="M249.7 151.0L250.5 150.9 250.5 153.1 249.7 153.2z"/>
<path color="#3777fe" d="M250.3 150.9L251.1 150.8 251.1 153.0 250.3 153.1z"/>
<path color="#3777fe" d="M250.9 150.8L251.7 150.8 251.7 153.0 250.9 153.0z"/>
<path color="#3776fe" d="M251.5 150.8L252.3 150.7 252.3 152.9 251.5 153.0z"/>
<path color="#3876fe" d="M252.1 150.7L252.9 150.6 252.9 152.8 252.1 152.9z"/>
<path color="#3876fe" d="M252.7 150.6L253.5 150.6 253.5 152.8 252.7 152.8z"/>
<path color="#3975fe" d="M253.3 150.6L254.1 150.5 254.1 152.7 253.3 152.8z"/>
<path color="#3975fe" d="M253.9 150.5L254.7 150.4 254.7 152.6 253.9 152.7z"/>
<path color="#3974ff" d="M254.5 150.4L255.3 150.3 255.3 152.5 254.5 152.6z"/>
<path color="#3a74ff" d="M255.1 150.3L255.9 150.3 255.9 152.5 255.1 152.5z"/>
<path color="#3a74ff" d="M255.7 150.3L256.5 150.2 256.5 152.4 255.7 152.5z"/>
<path color="#3a73ff" d="M256.3 150.2L257.1 150.1 257.1 152.3 256.3 152.4z"/>
<path color="#3b73ff" d="M256.9 150.1L257.7 150.1 257.7 152.3 256.9 152.3z"/>
<path color="#3b73ff" d="M257.5 150.1L258.3 150.0 258.3 152.2 257.5 152.3z"/>
<path color="#3b73ff" d="M258.1 150.0L258.9 149.9 258.9 152.1 258.1 152.2z"/>
<path color="#3b72ff" d="M258.7 149.9L259.5 149.8 259.5 152.0 258.7 152.1z"/>
<path color="#3c72ff" d="M259.3 149.8L260.1 149.8 260.1 152.0 259.3 152.0z"/>
<path color="#3c72ff" d="M259.9 149.8L260.7 149.7 260.7 151.9 259.9 152.0z"/>
<path color="#3c72ff" d="M260.5 149.7L261.3 149.6 261.3 151.8 260.5 151.9z"/>
<path color="#3c71ff" d="M261.1 149.6L261.9 149.5 261.9 151.7 261.1 151.8z"/>
<path color="#3c71ff" d="M261.7 149.5L262.5 149.4 262.5 151.6 261.7 151.7z"/>
<path color="#3d71ff" d="M262.3 149.4L263.1 149.4 263.1 151.6 262.3 151.6z"/>
<path color="#3d71ff" d="M262.9 149.4L263.7 149.3 263.7 151.5 262.9 151.6z"/>
<path color="#3d71ff" d="M263.5 149.3L264.3 149.2 264.3 151.4 263.5 151.5z"/>
<path color="#3c72ff" d="M264.1 149.2L264.9 149.1 264.9 151.3 264.1 151.4z"/>
<path color="#3a74ff" d="M264.7 149.1L265.5 149.0 265.5 151.2 264.7 151.3z"/>
<path color="#3875fe" d="M265.3 149.0L266.1 148.9 266.1 151.1 265.3 151.2z"/>
<path color="#3677fe" d="M265.9 148.9L266.7 148.7 266.7 150.9 265.9 151.1z"/>
<path color="#3479fd" d="M266.5 148.7L267.3 148.6 267.3 150.8 266.5 150.9z"/>
<path color="#337bfc" d="M267.1 148.6L267.9 148.4 267.9 150.6 267.1 150.8z"/>
<path color="#317dfc" d="M267.7 148.4L268.5 148.2 268.5 150.4 267.7 150.6z"/>
<path color="#307ffb" d="M268.3 148.2L269.1 148.0 269.1 150.2 268.3 150.4z"/>
<path color="#2f81fa" d="M268.9 148.0L269.7 147.8 269.7 150.0 268.9 150.2z"/>
<path color="#2e83f9" d="M269.5 147.8L270.3 147.5 270.3 149.7 269.5 150.0z"/>
<path color="#2e85f8" d="M270.1 147.5L270.9 147.3 270.9 149.5 270.1 149.7z"/>
<path color="#2d87f7" d="M270.7 147.3L271.5 147.0 271.5 149.2 270.7 149.5z"/>
<path color="#2d8af5" d="M271.3 147.0L272.1 146.7 272.1 148.9 271.3 149.2z"/>
<path color="#2d8cf3" d="M271.9 146.7L272.7 146.3 272.7 148.5 271.9 148.9z"/>
<path color="#2d8ef1" d="M272.5 146.3L273.3 145.9 273.3 148.1 272.5 148.5z"/>
<path color="#2b91ef" d="M273.1 145.9L273.9 145.5 273.9 147.7 273.1 148.1z"/>
<path color="#2a93ee" d="M273.7 145.5L274.5 145.1 274.5 147.3 273.7 147.7z"/>
<path color="#2896ec" d="M274.3 145.1L275.1 144.6 275.1 146.8 274.3 147.3z"/>
<path color="#2698ea" d="M274.9 144.6L275.7 144.1 275.7 146.3 274.9 146.8z"/>
<path color="#259be8" d="M275.5 144.1L276.3 143.6 276.3 145.8 275.5 146.3z"/>
<path color="#249ee6" d="M276.1 143.6L276.9 143.0 276.9 145.2 276.1 145.8z"/>
<path color="#23a1e5" d="M276.7 143.0L277.5 142.3 277.5 144.5 276.7 145.2z"/>
<path color="#21a3e3" d="M277.3 142.3L278.1 141.7 278.1 143.9 277.3 144.5z"/>
<path color="#1ea7e1" d="M277.9 141.7L278.7 140.9 278.7 143.1 277.9 143.9z"/>
<path color="#3e27ac" d="M175.5 125.6l3.3-.9-2.3-1.4-3.3 .9z"/>
<path color="#3f28af" d="M172.9 126.1l3.3-.9-2.3-1.4-3.3 .9z"/>
<path color="#3f28ae" d="M177.4 126.5l3.4-.9-2.3-1.4-3.4 .9z"/>
<path color="#3f29b2" d="M170.3 126.5l3.4-.9-2.3-1.4-3.4 .9zM181.3 128.1l3.4-.9-2.2-1.3-3.4 .9z"/>
<path color="#3f29b1" d="M174.9 126.9l3.3-.9-2.3-1.4-3.3 .9z"/>
<path color="#3f29b0" d="M179.4 127.3l3.4-.9-2.3-1.4-3.4 .9z"/>
<path color="#402ab5" d="M167.8 126.9l3.3-.8-2.3-1.5-3.3 .9zM178.8 128.6l3.3-.9-2.2-1.4-3.4 .9z"/>
<path color="#402ab4" d="M172.3 127.3l3.3-.8-2.2-1.4-3.4 .9zM183.3 129l3.4-1-2.3-1.3-3.4 .9z"/>
<path color="#402ab3" d="M176.8 127.8l3.4-.9-2.3-1.4-3.4 .9z"/>
<path color="#412cb8" d="M165.3 127.3l3.3-.8-2.4-1.5-3.3 .9z"/>
<path color="#402bb7" d="M169.8 127.8l3.3-.9-2.3-1.4-3.3 .9zM180.7 129.4l3.4-.9-2.3-1.3-3.3 .8z"/>
<path color="#402bb6" d="M174.3 128.2l3.3-.9-2.3-1.4-3.3 .9zM185.2 129.8l3.4-.9-2.2-1.4-3.4 .9z"/>
<path color="#412dbb" d="M162.7 127.7l3.3-.8-2.3-1.5-3.3 .9zM173.7 129.4l3.3-.8-2.3-1.4-3.3 .8zM184.6 131l3.3-.9-2.2-1.3-3.4 .9z"/>
<path color="#412cba" d="M167.2 128.1l3.3-.8-2.3-1.4-3.3 .8zM178.2 129.8l3.3-.8-2.2-1.4-3.4 .9zM189 131.4l3.4-.9-2.2-1.4-3.4 .9z"/>
<path color="#412cb9" d="M171.7 128.6l3.3-.9-2.2-1.4-3.4 .9zM182.6 130.2l3.4-.9-2.2-1.3-3.4 .9z"/>
<path color="#402bb8" d="M176.2 129l3.4-.9-2.3-1.3-3.3 .8zM187.1 130.6l3.4-.9-2.2-1.4-3.4 .9z"/>
<path color="#422ebf" d="M160.3 128l3.2-.8-2.3-1.4-3.3 .8zM166.7 129.4l3.3-.9-2.3-1.4-3.3 .9zM177.5 131.1l3.4-.9-2.3-1.4-3.3 .9zM188.3 132.6l3.4-.9-2.1-1.3-3.4 .9z"/>
<path color="#412ebd" d="M164.7 128.5l3.3-.8-2.3-1.4-3.3 .8z"/>
<path color="#412dbc" d="M169.2 129l3.3-.9-2.3-1.3-3.3 .8zM180.1 130.6l3.3-.8-2.2-1.4-3.4 .9zM190.9 132.1l3.4-.9-2.2-1.3-3.4 .9z"/>
<path color="#422fc2" d="M157.8 128.4l3.2-.8-2.3-1.4-3.3 .8zM164.2 129.7l3.3-.8-2.3-1.4-3.3 .8zM175 131.4l3.3-.8-2.2-1.3-3.3 .8zM181.4 132.6l3.3-.8-2.2-1.3-3.3 .8zM196.5 134.4l3.4-.9-2.1-1.2-3.4 .9z"/>
<path color="#422fc0" d="M162.2 128.9l3.3-.8-2.3-1.4-3.3 .8z"/>
<path color="#412ebe" d="M171.1 129.8l3.4-.8-2.3-1.4-3.3 .8zM182 131.4l3.4-.8-2.3-1.4-3.3 .9zM192.8 132.9l3.4-.9-2.2-1.3-3.4 .9z"/>
<path color="#4330c5" d="M155.3 128.7l3.2-.8-2.3-1.4-3.2 .8zM172.5 131.8l3.3-.8-2.2-1.4-3.3 .9zM189.5 134.6l3.4-.9-2.1-1.3-3.4 .9zM193.9 134.9l3.4-.9-2.1-1.3-3.4 .9z"/>
<path color="#412dbd" d="M175.6 130.2l3.3-.8-2.2-1.4-3.3 .9zM186.5 131.8l3.3-.9-2.2-1.3-3.3 .9z"/>
<path color="#4230c4" d="M159.7 129.2l3.3-.8-2.3-1.4-3.3 .8zM166.1 130.6l3.3-.8-2.3-1.4-3.2 .8zM176.9 132.3l3.3-.9-2.2-1.3-3.3 .8zM198.4 135.2l3.4-.9-2.1-1.3-3.4 .9z"/>
<path color="#422fc1" d="M168.6 130.2l3.3-.8-2.2-1.4-3.3 .8zM179.4 131.9l3.4-.9-2.2-1.3-3.4 .8zM185.8 133l3.4-.8-2.2-1.4-3.4 .9zM190.2 133.4l3.4-.9-2.1-1.3-3.4 .9z"/>
<path color="#4332c9" d="M152.8 129l3.3-.7-2.4-1.5-3.2 .8zM159.2 130.4l3.3-.8-2.3-1.4-3.3 .8zM165.6 131.7l3.2-.8-2.2-1.3-3.3 .8zM176.3 133.4l3.3-.8-2.2-1.3-3.3 .8zM182.6 134.6l3.3-.8-2.1-1.3-3.4 .8zM193.2 136.1l3.4-.9-2.1-1.3-3.4 .9zM197.6 136.4l3.4-.9-2.1-1.3-3.4 .9z"/>
<path color="#422ec0" d="M173.1 130.6l3.3-.8-2.3-1.4-3.3 .9zM183.9 132.2l3.4-.8-2.2-1.4-3.4 .9zM194.7 133.7l3.4-.9-2.2-1.3-3.4 .9z"/>
<path color="#4331c7" d="M157.3 129.6l3.2-.8-2.3-1.4-3.2 .7zM163.6 130.9l3.3-.8-2.3-1.4-3.2 .8zM174.4 132.6l3.3-.8-2.2-1.3-3.3 .8zM180.7 133.8l3.4-.8-2.2-1.3-3.4 .8zM191.4 135.3l3.4-.8-2.2-1.3-3.3 .8zM195.8 135.6l3.4-.8-2.1-1.3-3.4 .9z"/>
<path color="#4331c6" d="M161.7 130.1l3.3-.8-2.3-1.4-3.3 .8zM168.1 131.4l3.2-.8-2.2-1.4-3.3 .8zM185.1 134.2l3.4-.8-2.2-1.3-3.3 .8zM200.2 135.9l3.4-.9-2.1-1.2-3.4 .9z"/>
<path color="#4433cc" d="M150.4 129.3l3.2-.7-2.3-1.5-3.2 .8zM156.8 130.7l3.2-.7-2.3-1.4-3.2 .7zM173.8 133.8l3.3-.8-2.2-1.3-3.3 .8zM180.1 135l3.3-.8-2.2-1.3-3.3 .8zM190.7 136.5l3.4-.9-2.2-1.2-3.3 .8zM195.1 136.8l3.4-.9-2.1-1.2-3.4 .8zM205.6 138.1l3.4-.9-2-1.2-3.4 .9z"/>
<path color="#4230c3" d="M170.6 131l3.3-.8-2.3-1.4-3.3 .8zM187.7 133.8l3.3-.9-2.1-1.3-3.4 .9z"/>
<path color="#4332cb" d="M154.8 129.9l3.2-.8-2.3-1.4-3.2 .8zM178.2 134.2l3.3-.8-2.2-1.3-3.3 .8z"/>
<path color="#4434d0" d="M148 129.6l3.2-.7-2.4-1.5-3.1 .8zM154.3 131l3.2-.7-2.3-1.4-3.2 .7zM160.7 132.4l3.2-.8-2.3-1.4-3.2 .8zM167 133.7l3.2-.8-2.2-1.3-3.3 .7zM198.7 138.2l3.4-.8-2.1-1.2-3.4 .8z"/>
<path color="#4434ce" d="M152.4 130.2l3.2-.8-2.3-1.4-3.2 .8zM158.7 131.6l3.2-.8-2.2-1.4-3.3 .8zM165 132.9l3.3-.8-2.3-1.4-3.2 .8zM181.9 135.8l3.4-.9-2.2-1.3-3.3 .9zM192.5 137.2l3.4-.8-2.1-1.3-3.4 .9zM207.4 138.8l3.4-.9-2-1.2-3.4 .9z"/>
<path color="#4432cb" d="M161.2 131.2l3.2-.7-2.3-1.4-3.2 .7zM199.4 137.1l3.5-.9-2.1-1.2-3.4 .9z"/>
<path color="#4536d3" d="M145.6 129.9l3.1-.7-2.3-1.5-3.1 .7zM151.9 131.3l3.2-.7-2.3-1.4-3.2 .7zM158.2 132.7l3.2-.7-2.2-1.4-3.2 .7zM164.5 134l3.2-.7-2.2-1.4-3.2 .7zM181.3 136.9l3.3-.8-2.1-1.3-3.3 .8zM191.8 138.3l3.4-.8-2.1-1.2-3.4 .8zM202.2 139.6l3.5-.8-2.1-1.2-3.4 .8zM206.6 139.9l3.4-.9-2-1.1-3.4 .8z"/>
<path color="#4435d1" d="M150 130.5l3.1-.8-2.3-1.4-3.2 .7zM156.3 131.9l3.2-.8-2.3-1.4-3.2 .8zM173.2 134.9l3.3-.8-2.2-1.3-3.3 .8zM179.4 136.1l3.4-.8-2.2-1.3-3.3 .8zM190 137.6l3.3-.8-2-1.3-3.4 .9zM204.8 139.2l3.4-.9-2-1.1-3.4 .8z"/>
<path color="#4331c8" d="M170 132.2l3.3-.8-2.3-1.4-3.2 .8zM202 136.6l3.4-.8-2-1.3-3.5 .9z"/>
<path color="#4331c5" d="M178.8 133l3.4-.8-2.2-1.3-3.4 .8z"/>
<path color="#4537d6" d="M143.2 130.2l3.1-.7-2.3-1.5-3.1 .7zM149.5 131.6l3.2-.7-2.3-1.4-3.2 .7zM155.8 133l3.2-.7-2.3-1.4-3.2 .7zM162.1 134.3l3.2-.7-2.2-1.4-3.3 .7zM178.8 137.2l3.3-.8-2.1-1.2-3.3 .7zM189.3 138.7l3.3-.8-2-1.2-3.4 .8zM199.7 140l3.4-.8-2-1.2-3.4 .8zM214.4 141.4l3.4-.9-1.9-1.1-3.5 .9z"/>
<path color="#4330c4" d="M183.2 133.4l3.4-.8-2.2-1.3-3.3 .8z"/>
<path color="#4433cd" d="M163.1 132.1l3.3-.8-2.3-1.4-3.2 .8zM169.4 133.4l3.3-.8-2.2-1.4-3.3 .8zM186.3 136.1l3.4-.8-2.2-1.3-3.3 .8zM201.2 137.8l3.5-.9-2.1-1.2-3.4 .9z"/>
<path color="#4536d5" d="M147.6 130.8l3.1-.8-2.3-1.4-3.2 .7zM153.9 132.2l3.2-.8-2.3-1.4-3.2 .7zM160.2 133.5l3.2-.7-2.3-1.4-3.2 .7z"/>
<path color="#4433cb" d="M167.5 132.5l3.3-.7-2.3-1.4-3.2 .8zM184.5 135.4l3.3-.9-2.1-1.3-3.4 .9z"/>
<path color="#422fc3" d="M192.1 134.1l3.4-.9-2.2-1.2-3.4 .8z"/>
<path color="#4332ca" d="M171.9 133l3.3-.8-2.2-1.4-3.3 .8zM188.8 135.7l3.4-.8-2.1-1.3-3.4 .9zM203.8 137.4l3.5-.9-2.1-1.2-3.4 .8z"/>
<path color="#4639d9" d="M140.8 130.4l3.1-.7-2.3-1.5-3.1 .7zM147.1 131.9l3.2-.7-2.3-1.5-3.2 .7zM153.4 133.3l3.2-.7-2.3-1.5-3.2 .8zM159.6 134.6l3.2-.7-2.2-1.4-3.2 .7zM165.9 135.9l3.2-.7-2.2-1.4-3.2 .8zM182.5 138.7l3.3-.8-2.1-1.2-3.3 .7zM192.9 140.1l3.3-.8-2-1.2-3.4 .8zM207.5 141.6l3.4-.8-1.9-1.1-3.5 .8z"/>
<path color="#4538d8" d="M145.2 131l3.1-.7-2.3-1.4-3.2 .7zM151.5 132.4l3.1-.7-2.3-1.4-3.1 .7zM157.7 133.8l3.2-.7-2.2-1.4-3.2 .7zM164 135.1l3.2-.7-2.2-1.4-3.2 .8zM170.2 136.4l3.2-.8-2.1-1.3-3.3 .7zM180.7 138l3.3-.8-2.2-1.3-3.3 .8zM186.8 139.1l3.3-.8-2.1-1.3-3.3 .8zM191.1 139.4l3.3-.8-2-1.2-3.4 .8zM201.5 140.7l3.4-.8-2-1.2-3.4 .8zM216.1 142l3.4-.8-1.9-1.1-3.5 .8z"/>
<path color="#463bdc" d="M138.5 130.6l3.1-.6-2.4-1.5-3.1 .7zM169.6 137.4l3.2-.7-2.1-1.3-3.3 .7zM215.2 143.1l3.5-.9-1.9-1-3.5 .8z"/>
<path color="#463adb" d="M142.8 131.3l3.1-.7-2.3-1.5-3.1 .7zM149.1 132.7l3.1-.7-2.3-1.4-3.1 .7zM155.3 134.1l3.2-.7-2.3-1.4-3.1 .7zM161.5 135.4l3.3-.7-2.3-1.4-3.2 .7zM167.7 136.7l3.3-.8-2.2-1.3-3.2 .7zM173.9 137.9l3.3-.8-2.2-1.3-3.3 .8zM184.3 139.4l3.3-.8-2.1-1.2-3.3 .8zM194.6 140.8l3.4-.8-2-1.2-3.4 .8zM204.9 142l3.5-.8-2-1.1-3.4 .8zM209.2 142.2l3.5-.8-2-1.1-3.4 .8z"/>
<path color="#4535d2" d="M162.6 133.2l3.2-.8-2.2-1.3-3.3 .7zM168.9 134.5l3.2-.8-2.2-1.3-3.3 .7zM175.1 135.7l3.3-.8-2.2-1.3-3.3 .8zM185.6 137.2l3.4-.8-2.1-1.2-3.4 .8zM196.1 138.6l3.4-.8-2-1.2-3.4 .8zM200.5 138.9l3.4-.8-2.1-1.2-3.4 .8zM210.9 140.1l3.5-.9-2-1.1-3.5 .9z"/>
<path color="#4332c8" d="M187 135l3.4-.9-2.2-1.3-3.4 .9z"/>
<path color="#4434cf" d="M171.3 134.1l3.3-.7-2.2-1.4-3.3 .8zM177.6 135.4l3.3-.8-2.2-1.4-3.3 .8zM188.1 136.9l3.4-.9-2.1-1.2-3.4 .8zM203 138.5l3.5-.9-2.1-1.2-3.4 .9z"/>
<path color="#463cdf" d="M136.2 130.9l3-.7-2.4-1.5-3 .7zM142.4 132.3l3.1-.6-2.3-1.5-3.1 .7zM148.7 133.8l3.1-.7-2.3-1.4-3.1 .7zM154.9 135.2l3.1-.7-2.2-1.4-3.2 .7zM161 136.5l3.2-.7-2.2-1.4-3.2 .7zM167.2 137.7l3.2-.7-2.2-1.3-3.2 .7zM183.6 140.5l3.3-.8-2-1.2-3.3 .7zM193.9 141.8l3.4-.7-2-1.2-3.4 .8zM208.4 143.3l3.4-.8-1.9-1.1-3.4 .8z"/>
<path color="#4433ce" d="M175.7 134.6l3.3-.8-2.2-1.3-3.3 .8zM196.9 137.5l3.4-.8-2.1-1.3-3.4 .9z"/>
<path color="#463bde" d="M140.5 131.5l3-.7-2.3-1.4-3.1 .6zM165.3 137l3.2-.8-2.1-1.3-3.3 .7zM181.8 139.8l3.3-.8-2.1-1.2-3.3 .7zM202.4 142.4l3.4-.8-1.9-1.1-3.4 .8zM221.1 143.8l3.5-.8-1.9-1-3.5 .8z"/>
<path color="#463adc" d="M144.8 132.1l3.1-.7-2.3-1.4-3.1 .7zM151 133.5l3.2-.7-2.3-1.4-3.2 .7zM157.2 134.9l3.2-.7-2.2-1.4-3.2 .7zM163.4 136.2l3.2-.7-2.2-1.4-3.2 .7zM180 139l3.3-.7-2.1-1.3-3.3 .8zM190.4 140.5l3.3-.8-2-1.2-3.4 .8zM200.7 141.8l3.4-.8-2-1.2-3.4 .8zM219.4 143.2l3.5-.8-1.8-1-3.5 .8z"/>
<path color="#473ee2" d="M133.8 131.1l3.1-.7-2.4-1.5-3 .7zM170.9 139.2l3.2-.7-2.1-1.3-3.3 .7zM187.2 141.8l3.3-.7-2-1.2-3.3 .7zM216 144.7l3.4-.8-1.8-1.1-3.5 .8z"/>
<path color="#463de0" d="M138.1 131.7l3.1-.6-2.4-1.5-3 .6zM144.4 133.2l3.1-.7-2.3-1.4-3.1 .7zM150.6 134.6l3.1-.7-2.3-1.4-3.1 .7zM156.8 136l3.1-.7-2.2-1.4-3.2 .7zM162.9 137.2l3.2-.7-2.2-1.3-3.2 .7zM169 138.5l3.3-.7-2.2-1.3-3.2 .7zM179.4 140.1l3.3-.8-2.1-1.2-3.3 .7zM185.4 141.2l3.3-.8-2-1.2-3.3 .7zM189.7 141.5l3.3-.8-2-1.1-3.4 .7zM199.9 142.8l3.4-.8-2-1.1-3.4 .7zM210.1 143.9l3.4-.8-1.9-1.1-3.4 .8zM214.3 144.1l3.5-.8-1.9-1.1-3.5 .8zM218.5 144.3l3.5-.9-1.8-1-3.5 .8z"/>
<path color="#463bdd" d="M146.7 132.9l3.1-.6-2.3-1.5-3.1 .7zM152.9 134.3l3.2-.7-2.3-1.3-3.1 .7zM159.1 135.7l3.2-.7-2.2-1.4-3.2 .7zM175.7 138.6l3.3-.7-2.1-1.3-3.3 .7zM186.1 140.1l3.3-.7-2-1.3-3.4 .8zM192.1 141.2l3.4-.8-2-1.2-3.4 .8zM196.4 141.5l3.4-.8-2-1.2-3.4 .8zM206.7 142.7l3.4-.9-1.9-1.1-3.5 .8zM210.9 142.9l3.5-.8-1.9-1.1-3.5 .8z"/>
<path color="#4740e4" d="M131.5 131.2l3-.6-2.3-1.5-3 .7zM137.8 132.8l3-.7-2.3-1.4-3.1 .6zM144 134.2l3-.6-2.2-1.4-3.1 .6zM156.3 137l3.1-.7-2.2-1.3-3.1 .6zM162.4 138.3l3.2-.7-2.2-1.3-3.2 .7zM168.5 139.5l3.2-.7-2.1-1.3-3.3 .7zM174.5 140.7l3.3-.7-2.1-1.3-3.3 .7zM184.7 142.1l3.3-.7-2-1.2-3.3 .8zM194.9 143.5l3.4-.8-2-1.1-3.4 .7zM209.2 144.9l3.5-.8-1.9-1.1-3.5 .8zM213.4 145.1l3.5-.8-1.9-1-3.4 .7zM227.6 146l3.6-.8-1.8-.9-3.6 .8z"/>
<path color="#4537d5" d="M166.4 134.8l3.2-.7-2.2-1.4-3.2 .8zM172.6 136l3.3-.7-2.2-1.3-3.3 .7zM183.1 137.6l3.4-.8-2.2-1.2-3.3 .7zM193.6 139l3.4-.8-2.1-1.2-3.4 .8zM204 140.3l3.4-.8-2-1.2-3.4 .8zM208.3 140.5l3.5-.8-2-1.2-3.5 .9z"/>
<path color="#4536d4" d="M170.7 135.3l3.3-.8-2.2-1.3-3.2 .7zM177 136.5l3.3-.8-2.2-1.3-3.3 .8zM187.5 138l3.3-.8-2.1-1.3-3.3 .8zM197.9 139.3l3.4-.8-2-1.2-3.4 .8zM212.6 140.8l3.5-.9-2-1.1-3.4 .8z"/>
<path color="#473fe3" d="M135.8 131.9l3-.6-2.3-1.5-3 .6zM166.6 138.8l3.2-.7-2.1-1.3-3.2 .7zM172.7 139.9l3.2-.7-2.1-1.2-3.2 .7zM183 141.5l3.3-.8-2.1-1.2-3.3 .8zM193.2 142.8l3.3-.7-1.9-1.2-3.4 .8zM203.3 144l3.4-.7-1.9-1.1-3.4 .7zM221.8 145.4l3.5-.8-1.8-1-3.5 .8zM226 145.5l3.5-.8-1.8-1-3.5 .8z"/>
<path color="#473ee1" d="M140.1 132.6l3-.7-2.3-1.4-3 .6zM146.3 134l3.1-.7-2.3-1.4-3.1 .7zM158.6 136.7l3.2-.7-2.2-1.3-3.2 .7zM164.8 138l3.2-.7-2.2-1.3-3.2 .7zM181.2 140.8l3.3-.8-2.1-1.2-3.3 .7zM191.4 142.2l3.4-.8-2-1.1-3.4 .7zM201.6 143.4l3.4-.8-1.9-1.1-3.4 .8zM220.2 144.8l3.5-.8-1.9-1-3.5 .8zM224.4 145l3.5-.9-1.8-.9-3.5 .8z"/>
<path color="#4742e6" d="M129.2 131.4l3-.6-2.3-1.5-3 .6zM135.5 133l3-.7-2.4-1.4-3 .6zM141.6 134.4l3.1-.6-2.3-1.4-3.1 .6zM147.8 135.9l3.1-.7-2.3-1.4-3.1 .7zM153.9 137.2l3.2-.6-2.3-1.4-3.1 .7zM160 138.5l3.2-.7-2.2-1.3-3.2 .7zM166.1 139.8l3.2-.7-2.2-1.3-3.2 .7zM172.1 140.9l3.2-.6-2-1.3-3.3 .7zM182.3 142.5l3.3-.8-2-1.2-3.3 .8zM192.4 143.8l3.4-.7-2-1.2-3.3 .8zM202.5 145l3.4-.8-1.9-1-3.4 .7zM206.7 145.2l3.4-.7-1.8-1.1-3.5 .8zM220.9 146.3l3.5-.8-1.8-.9-3.5 .8zM225 146.4l3.6-.8-1.8-.9-3.5 .8zM229.2 146.5l3.6-.8-1.8-.9-3.5 .8z"/>
<path color="#4435d0" d="M183.8 136.5l3.3-.8-2.1-1.3-3.3 .8zM194.3 137.9l3.4-.8-2.1-1.2-3.4 .8zM209.1 139.4l3.5-.8-2-1.2-3.5 .9z"/>
<path color="#4741e5" d="M133.5 132.1l3-.6-2.3-1.5-3.1 .6zM139.7 133.6l3.1-.6-2.4-1.5-3 .7zM145.9 135.1l3.1-.7-2.3-1.4-3.1 .6zM152 136.4l3.2-.6-2.3-1.4-3.1 .7zM158.2 137.8l3.1-.7-2.2-1.4-3.1 .7zM164.2 139l3.2-.7-2.1-1.3-3.2 .7zM170.3 140.2l3.2-.7-2.1-1.2-3.2 .7zM180.5 141.8l3.3-.7-2-1.3-3.3 .8zM186.5 142.8l3.3-.7-2-1.2-3.3 .7zM190.7 143.2l3.3-.8-1.9-1.1-3.4 .7zM196.6 144.1l3.4-.7-1.9-1.1-3.4 .7zM200.8 144.4l3.4-.8-1.9-1.1-3.4 .8zM210.9 145.4l3.4-.7-1.8-1-3.5 .7zM215.1 145.6l3.4-.8-1.8-1-3.5 .8zM219.3 145.8l3.4-.8-1.8-1-3.5 .8zM223.4 145.9l3.5-.8-1.7-.9-3.6 .8z"/>
<path color="#4537d7" d="M168.3 135.6l3.2-.8-2.2-1.3-3.2 .8zM185 138.3l3.3-.7-2.1-1.3-3.3 .8zM210.1 141.2l3.4-.9-2-1.1-3.4 .9z"/>
<path color="#473fe2" d="M142 133.4l3.1-.7-2.3-1.4-3.1 .7zM148.2 134.8l3.1-.6-2.2-1.4-3.1 .6zM154.4 136.2l3.1-.7-2.2-1.4-3.1 .7zM160.5 137.5l3.2-.7-2.2-1.3-3.2 .7zM176.9 140.4l3.3-.7-2.1-1.3-3.2 .7zM197.4 143.1l3.4-.7-2-1.2-3.4 .8zM207.5 144.3l3.5-.8-1.9-1.1-3.5 .8zM211.8 144.5l3.4-.8-1.9-1.1-3.4 .8z"/>
<path color="#4744e9" d="M127 131.6l2.9-.6-2.3-1.5-3 .6zM175.7 142.3l3.2-.6-2-1.3-3.2 .7zM195.9 145l3.3-.7-1.9-1.1-3.3 .8zM210 146.4l3.5-.8-1.9-1-3.4 .8z"/>
<path color="#4743e7" d="M131.2 132.3l3-.6-2.4-1.5-2.9 .6zM137.4 133.8l3-.6-2.3-1.5-3 .7zM143.6 135.3l3-.7-2.2-1.4-3.1 .7zM149.7 136.7l3.1-.7-2.2-1.4-3.1 .7zM155.8 138l3.1-.7-2.2-1.3-3.1 .7zM161.9 139.3l3.1-.7-2.1-1.3-3.2 .7zM167.9 140.5l3.2-.7-2.1-1.3-3.2 .7zM178.1 142.1l3.3-.7-2.1-1.3-3.2 .7zM184.1 143.1l3.3-.7-2-1.2-3.3 .7zM194.2 144.4l3.3-.7-1.9-1.1-3.4 .7zM198.3 144.7l3.4-.7-1.9-1.1-3.4 .7zM208.4 145.8l3.4-.7-1.9-1.1-3.4 .8zM212.5 146l3.5-.8-1.8-1-3.5 .8zM230.8 147l3.5-.8-1.7-.9-3.5 .8z"/>
<path color="#4538d7" d="M174.5 136.8l3.3-.8-2.2-1.3-3.3 .8zM195.4 139.7l3.4-.8-2.1-1.2-3.4 .8zM205.8 141l3.4-.9-2-1.1-3.4 .8z"/>
<path color="#4746eb" d="M124.7 131.8l3-.6-2.4-1.5-3 .5zM173.3 142.6l3.2-.7-2-1.2-3.2 .7zM203.4 146.5l3.4-.7-1.9-1.1-3.4 .8zM225.7 147.8l3.5-.7-1.8-.9-3.5 .7z"/>
<path color="#4745e9" d="M129 132.5l2.9-.6-2.3-1.5-3 .6zM135.1 134l3-.6-2.3-1.5-3 .6zM141.3 135.5l3-.7-2.3-1.4-3 .6zM147.4 136.9l3.1-.7-2.3-1.4-3.1 .7zM153.5 138.2l3.1-.6-2.2-1.4-3.1 .7zM159.5 139.5l3.2-.6-2.2-1.4-3.1 .7zM165.5 140.7l3.2-.6-2.1-1.3-3.2 .7zM171.5 141.9l3.2-.7-2-1.2-3.2 .7zM181.6 143.4l3.3-.7-2-1.2-3.3 .7zM191.7 144.7l3.3-.7-1.9-1.1-3.3 .7zM201.7 145.9l3.4-.7-1.9-1.1-3.4 .8zM205.9 146.1l3.4-.7-1.9-1-3.4 .7zM219.9 147.2l3.5-.7-1.7-1-3.5 .8zM224.1 147.3l3.5-.7-1.8-.9-3.5 .7zM228.2 147.4l3.5-.8-1.7-.8-3.5 .7zM232.4 147.5l3.5-.8-1.7-.9-3.6 .8z"/>
<path color="#4744e8" d="M133.2 133.2l3-.7-2.4-1.4-3 .6zM139.3 134.6l3.1-.6-2.3-1.4-3.1 .6zM145.5 136.1l3.1-.7-2.3-1.4-3.1 .7zM151.6 137.4l3.1-.6-2.2-1.4-3.1 .7zM157.7 138.8l3.1-.7-2.2-1.3-3.1 .6zM163.7 140l3.2-.7-2.1-1.2-3.2 .6zM169.7 141.2l3.2-.7-2.1-1.2-3.2 .7zM179.9 142.7l3.3-.7-2.1-1.2-3.2 .7zM185.8 143.8l3.3-.7-2-1.2-3.3 .7zM190 144.1l3.3-.7-1.9-1.1-3.4 .7zM200 145.3l3.4-.7-1.9-1.1-3.4 .8zM214.2 146.5l3.4-.7-1.8-1-3.4 .8zM218.3 146.7l3.5-.8-1.8-.9-3.5 .7zM222.5 146.8l3.5-.7-1.8-1-3.5 .8z"/>
<path color="#463ee1" d="M152.5 135.4l3.1-.7-2.2-1.4-3.2 .7zM175.1 139.7l3.3-.8-2.1-1.2-3.3 .7zM205.8 143.7l3.5-.8-1.9-1.1-3.5 .8z"/>
<path color="#4639da" d="M172 137.1l3.3-.7-2.2-1.3-3.2 .7zM178.2 138.3l3.3-.8-2.1-1.2-3.3 .7zM188.6 139.8l3.3-.8-2-1.2-3.4 .8zM198.9 141.1l3.4-.8-2-1.2-3.4 .8zM203.2 141.4l3.4-.8-2-1.2-3.4 .8zM213.5 142.5l3.5-.9-2-1.1-3.4 .9zM217.8 142.6l3.4-.8-1.9-1.1-3.4 .9z"/>
<path color="#4849ed" d="M122.5 131.9l2.9-.6-2.4-1.5-2.9 .6zM124.5 132.8l2.9-.6-2.4-1.5-2.9 .6zM130.6 134.3l3-.6-2.4-1.4-2.9 .6zM136.7 135.8l3-.6-2.3-1.4-3 .6zM142.8 137.3l3-.7-2.2-1.4-3.1 .7zM148.8 138.6l3.1-.6-2.2-1.3-3.1 .6zM154.9 139.9l3.1-.6-2.2-1.3-3.1 .6zM160.8 141.2l3.2-.6-2.1-1.3-3.2 .6zM166.8 142.4l3.2-.7-2.1-1.2-3.2 .6zM172.7 143.5l3.2-.6-2-1.2-3.2 .6zM176.8 143.9l3.3-.6-2-1.2-3.3 .7zM182.7 145l3.3-.7-2-1.1-3.2 .6zM192.7 146.2l3.3-.6-1.9-1.1-3.3 .7zM196.8 146.5l3.4-.7-1.9-1-3.4 .7zM206.7 147.6l3.4-.7-1.8-1-3.4 .7zM210.8 147.8l3.4-.7-1.8-1-3.4 .7zM224.7 148.6l3.5-.7-1.7-.8-3.5 .7zM228.8 148.7l3.5-.7-1.7-.8-3.5 .7zM232.8 148.7l3.6-.7-1.7-.8-3.5 .8zM236.9 148.7l3.6-.7-1.6-.8-3.6 .8z"/>
<path color="#4539d9" d="M176.3 137.6l3.3-.8-2.1-1.3-3.3 .8z"/>
<path color="#4847eb" d="M126.7 132.6l2.9-.6-2.3-1.5-3 .6zM185.1 144.7l3.3-.7-1.9-1.1-3.3 .7z"/>
<path color="#4746ea" d="M130.9 133.3l3-.6-2.4-1.5-2.9 .6zM137.1 134.8l3-.6-2.3-1.4-3 .6zM143.2 136.3l3-.7-2.2-1.4-3.1 .7zM149.3 137.7l3.1-.7-2.3-1.3-3.1 .6zM155.3 139l3.2-.7-2.2-1.3-3.2 .7zM161.4 140.2l3.1-.6-2.1-1.3-3.2 .7zM167.4 141.5l3.1-.7-2-1.3-3.2 .7zM177.5 143l3.2-.7-2-1.2-3.3 .7zM183.4 144.1l3.3-.7-2-1.2-3.3 .7zM193.4 145.3l3.4-.6-2-1.1-3.3 .7zM197.6 145.6l3.3-.7-1.9-1-3.3 .7zM207.5 146.7l3.4-.7-1.8-1-3.4 .7zM211.7 146.9l3.4-.7-1.8-1-3.5 .7zM229.8 147.9l3.5-.8-1.7-.8-3.5 .7zM233.9 147.9l3.6-.8-1.7-.8-3.6 .8z"/>
<path color="#4740e3" d="M150.1 135.6l3.2-.6-2.3-1.4-3.1 .7zM178.7 141.1l3.3-.7-2.1-1.3-3.2 .8zM189 142.5l3.3-.7-2-1.2-3.3 .7zM199.1 143.8l3.4-.8-1.9-1.1-3.4 .8zM217.6 145.2l3.5-.8-1.8-1-3.5 .8z"/>
<path color="#484bef" d="M120.3 132l2.9-.5-2.4-1.6-2.9 .6zM128.4 134.5l2.9-.6-2.3-1.5-3 .6zM134.5 136l2.9-.6-2.3-1.4-2.9 .5zM158.5 141.4l3.1-.6-2.1-1.3-3.1 .6zM164.5 142.6l3.1-.6-2.1-1.3-3.1 .7zM170.4 143.7l3.2-.6-2.1-1.2-3.2 .6zM180.3 145.2l3.3-.6-2-1.2-3.2 .7zM190.3 146.5l3.3-.6-1.9-1.1-3.3 .6zM200.1 147.6l3.4-.6-1.8-1-3.4 .6zM204.2 147.9l3.4-.7-1.8-1-3.4 .7zM218.1 148.9l3.4-.7-1.7-.9-3.5 .7zM222.1 149l3.5-.7-1.7-.8-3.5 .7zM226.2 149.1l3.5-.7-1.6-.8-3.6 .7zM230.3 149.1l3.5-.7-1.6-.8-3.6 .7zM234.4 149.1l3.5-.7-1.6-.7-3.6 .7zM238.4 149.1l3.6-.7-1.6-.7-3.6 .7z"/>
<path color="#4848ec" d="M128.7 133.5l2.9-.6-2.3-1.5-3 .6zM134.8 135l3-.6-2.3-1.5-3 .7zM140.9 136.5l3-.7-2.3-1.4-3 .6zM147 137.9l3-.7-2.2-1.3-3.1 .6zM153 139.2l3.1-.6-2.2-1.4-3.1 .7zM159 140.5l3.2-.7-2.2-1.3-3.1 .7zM165 141.7l3.2-.7-2.1-1.2-3.2 .6zM170.9 142.8l3.3-.6-2.1-1.2-3.2 .6zM181 144.3l3.3-.6-2-1.2-3.3 .7zM191 145.6l3.3-.6-1.9-1.1-3.3 .7zM200.9 146.8l3.4-.7-1.9-1-3.3 .7zM205 147l3.4-.7-1.8-1-3.4 .7zM214.9 147.9l3.4-.7-1.7-.9-3.5 .7zM219 148.1l3.5-.8-1.8-.8-3.5 .7zM223.1 148.2l3.5-.7-1.7-.9-3.5 .7zM227.2 148.3l3.5-.8-1.7-.8-3.5 .7zM231.3 148.3l3.6-.7-1.7-.8-3.6 .7zM235.4 148.3l3.6-.7-1.7-.8-3.5 .8z"/>
<path color="#484df0" d="M118.1 132.1l2.9-.5-2.5-1.5-2.8 .5zM132.2 136.1l3-.6-2.3-1.4-3 .6zM138.3 137.6l3-.6-2.3-1.4-3 .6zM144.3 139l3-.6-2.2-1.4-3 .6zM150.3 140.3l3-.6-2.1-1.3-3.1 .6zM156.2 141.6l3.1-.6-2.1-1.3-3.1 .6zM162.1 142.8l3.2-.6-2.1-1.3-3.1 .7zM178 145.5l3.2-.7-2-1.1-3.2 .6zM187.8 146.8l3.3-.7-1.9-1-3.3 .6zM197.7 147.9l3.3-.6-1.8-1-3.4 .6zM201.7 148.2l3.4-.7-1.8-1-3.4 .7zM215.5 149.2l3.5-.7-1.7-.8-3.5 .7zM219.6 149.3l3.5-.6-1.7-.9-3.5 .7zM223.7 149.4l3.5-.7-1.7-.8-3.5 .7zM227.7 149.5l3.6-.7-1.7-.8-3.5 .7zM239.9 149.5l3.6-.7-1.6-.7-3.6 .7z"/>
<path color="#4747eb" d="M132.9 134.2l2.9-.6-2.3-1.5-3 .6zM139 135.6l3-.6-2.3-1.4-3 .6zM145.1 137.1l3-.7-2.2-1.3-3.1 .6zM151.1 138.4l3.1-.6-2.2-1.4-3.1 .7zM157.2 139.7l3.1-.6-2.2-1.3-3.1 .6zM163.2 141l3.1-.7-2.1-1.3-3.1 .7zM169.2 142.2l3.2-.7-2.1-1.2-3.2 .6zM179.2 143.7l3.3-.7-2-1.2-3.3 .7zM189.3 145l3.3-.7-1.9-1.1-3.4 .7zM199.2 146.2l3.4-.7-1.9-1-3.3 .7zM213.3 147.4l3.4-.7-1.8-.9-3.4 .7zM217.4 147.6l3.5-.8-1.8-.9-3.5 .8zM221.5 147.7l3.5-.7-1.7-.9-3.5 .7z"/>
<path color="#463cde" d="M171.5 138.2l3.2-.7-2.1-1.3-3.3 .7zM177.6 139.4l3.2-.8-2.1-1.2-3.2 .7zM187.9 140.8l3.3-.7-2-1.2-3.4 .7zM198.2 142.1l3.4-.8-2-1.1-3.4 .8zM212.6 143.5l3.5-.8-1.9-1.1-3.5 .8zM216.9 143.7l3.4-.9-1.8-1-3.5 .8z"/>
<path color="#484cef" d="M122.3 132.9l2.9-.6-2.4-1.5-2.9 .6zM136.4 136.8l3-.6-2.3-1.4-3 .6zM142.4 138.2l3-.6-2.2-1.4-3 .6zM148.4 139.6l3.1-.6-2.2-1.4-3.1 .6zM154.4 140.9l3.1-.6-2.2-1.3-3.1 .6zM160.3 142.1l3.2-.6-2.1-1.3-3.2 .7zM176.2 144.8l3.3-.6-2-1.2-3.3 .7zM186.2 146.2l3.2-.7-1.9-1.1-3.3 .7zM196 147.4l3.4-.7-1.9-1-3.3 .7zM209.9 148.6l3.4-.7-1.7-.9-3.5 .7zM214 148.7l3.4-.6-1.7-.9-3.5 .7z"/>
<path color="#484aee" d="M126.4 133.6l3-.6-2.4-1.4-2.9 .5zM132.5 135.2l3-.6-2.3-1.5-3 .6zM138.6 136.6l3-.6-2.2-1.4-3 .6zM144.7 138l3-.6-2.2-1.3-3.1 .6zM150.7 139.4l3.1-.6-2.2-1.4-3.1 .7zM156.7 140.7l3.1-.6-2.1-1.3-3.1 .6zM162.7 141.9l3.1-.6-2.1-1.3-3.1 .6zM168.6 143.1l3.2-.7-2.1-1.2-3.2 .7zM178.6 144.6l3.3-.7-2-1.1-3.3 .6zM184.4 145.6l3.3-.7-1.9-1.1-3.3 .7zM188.6 145.9l3.3-.6-2-1.1-3.3 .6zM194.4 146.8l3.3-.7-1.9-1-3.3 .7zM198.5 147.1l3.3-.7-1.8-1-3.4 .7zM208.3 148.1l3.4-.7-1.8-.9-3.4 .6zM212.4 148.3l3.4-.7-1.7-1-3.5 .7zM216.5 148.4l3.4-.7-1.7-.9-3.5 .7zM220.6 148.5l3.5-.7-1.8-.8-3.5 .7z"/>
<path color="#484ff2" d="M115.9 132.2l2.9-.5-2.5-1.5-2.8 .5zM122 133.9l2.9-.6-2.4-1.5-2.8 .6zM124 134.7l2.9-.5-2.4-1.5-2.9 .5zM130 136.3l2.9-.6-2.3-1.4-2.9 .5zM136.1 137.7l2.9-.5-2.3-1.4-2.9 .5zM142 139.1l3-.5-2.2-1.4-3 .6zM148 140.5l3-.6-2.1-1.3-3.1 .6zM153.9 141.8l3.1-.6-2.1-1.3-3.1 .6zM159.8 143l3.2-.6-2.1-1.2-3.2 .6zM165.7 144.2l3.2-.6-2.1-1.2-3.1 .6zM175.6 145.7l3.2-.6-1.9-1.2-3.3 .6zM181.4 146.7l3.2-.6-1.9-1.1-3.2 .6zM185.5 147l3.2-.6-1.9-1.1-3.2 .7zM191.2 147.9l3.3-.6-1.8-1-3.4 .6zM195.2 148.2l3.4-.6-1.8-1-3.4 .6zM205 149.2l3.4-.7-1.8-.9-3.4 .7zM209 149.4l3.4-.7-1.7-.9-3.4 .7zM213.1 149.5l3.4-.6-1.7-.9-3.5 .7zM217.1 149.7l3.5-.7-1.7-.8-3.5 .6z"/>
<path color="#484ef1" d="M120.1 133l2.8-.5-2.4-1.5-2.8 .5zM128.1 135.4l2.9-.5-2.3-1.5-2.9 .6zM134.2 136.9l2.9-.5-2.3-1.5-2.9 .6zM140.2 138.4l3-.6-2.3-1.4-3 .6zM146.2 139.8l3-.6-2.2-1.4-3 .6zM152.1 141.1l3.1-.6-2.2-1.4-3 .7zM158 142.3l3.1-.6-2.1-1.3-3.1 .6zM163.9 143.5l3.2-.6-2.1-1.2-3.1 .6zM169.8 144.6l3.2-.6-2-1.2-3.2 .6zM173.9 145l3.2-.6-2-1.1-3.2 .6zM179.7 146.1l3.2-.7-1.9-1.1-3.3 .7zM189.5 147.3l3.3-.6-1.8-1-3.4 .6zM193.6 147.6l3.3-.6-1.8-1-3.4 .6zM199.3 148.5l3.4-.7-1.8-1-3.4 .7zM203.4 148.7l3.4-.7-1.8-.9-3.4 .6zM207.4 148.9l3.4-.7-1.7-.9-3.4 .7zM221.2 149.8l3.4-.7-1.6-.8-3.5 .7zM225.2 149.8l3.5-.6-1.6-.8-3.6 .7zM229.2 149.9l3.6-.7-1.6-.7-3.6 .6zM241.4 149.8l3.6-.7-1.6-.6-3.6 .7zM233.3 149.9l3.5-.7-1.6-.7-3.5 .7zM237.3 149.9l3.6-.7-1.6-.7-3.6 .7z"/>
<path color="#4538d9" d="M197.2 140.4l3.4-.8-2.1-1.2-3.4 .8zM211.8 141.8l3.4-.8-1.9-1.1-3.5 .8z"/>
<path color="#463ddf" d="M173.3 138.9l3.2-.7-2.1-1.3-3.2 .7zM204.1 143l3.5-.7-2-1.2-3.4 .8zM222.8 144.4l3.5-.8-1.9-1-3.5 .8z"/>
<path color="#484cf0" d="M124.2 133.8l2.9-.6-2.4-1.5-2.8 .6zM130.3 135.3l3-.6-2.4-1.4-2.9 .5zM166.2 143.3l3.2-.6-2-1.3-3.2 .7zM172.1 144.4l3.2-.6-2-1.2-3.2 .6zM182.1 145.8l3.2-.6-1.9-1.1-3.3 .6zM191.9 147.1l3.4-.7-1.9-1-3.3 .6zM205.8 148.4l3.4-.7-1.8-.9-3.4 .6zM231.8 149.5l3.5-.7-1.6-.7-3.5 .7zM235.9 149.5l3.5-.7-1.6-.7-3.6 .7z"/>
<path color="#4851f4" d="M113.8 132.3l2.8-.5-2.5-1.5-2.8 .5zM127.8 136.4l2.9-.6-2.3-1.4-2.9 .5zM163.4 144.4l3.1-.6-2-1.2-3.1 .6zM179 146.9l3.3-.6-2-1.1-3.2 .6zM188.8 148.1l3.3-.6-1.9-1-3.3 .6zM202.5 149.5l3.4-.7-1.7-.9-3.4 .6zM224.2 150.6l3.5-.7-1.6-.7-3.5 .6zM228.2 150.6l3.5-.7-1.6-.7-3.5 .7zM232.2 150.6l3.6-.7-1.6-.6-3.6 .6zM236.2 150.6l3.6-.7-1.6-.6-3.5 .6z"/>
<path color="#4850f3" d="M117.9 133.1l2.8-.5-2.4-1.5-2.8 .5zM125.9 135.6l2.9-.6-2.3-1.5-2.9 .6zM131.9 137.1l3-.6-2.3-1.4-3 .5zM155.8 142.5l3-.6-2.1-1.3-3.1 .6zM161.6 143.7l3.2-.6-2.1-1.2-3.1 .6zM167.5 144.8l3.1-.6-2-1.2-3.2 .6zM177.3 146.3l3.3-.6-2-1.1-3.2 .6zM187.1 147.6l3.3-.6-1.9-1.1-3.2 .7zM196.9 148.7l3.3-.6-1.8-1-3.3 .7zM200.9 149l3.4-.7-1.8-.9-3.4 .6zM214.6 150l3.5-.7-1.7-.8-3.5 .6zM218.7 150.1l3.4-.7-1.6-.8-3.5 .7zM222.7 150.2l3.5-.7-1.7-.8-3.5 .7zM242.8 150.1l3.6-.7-1.5-.6-3.6 .7z"/>
<path color="#4853f5" d="M111.6 132.4l2.8-.5-2.4-1.5-2.8 .5zM117.7 134.1l2.8-.6-2.4-1.5-2.8 .6zM125.7 136.5l2.8-.5-2.3-1.5-2.9 .5zM131.6 138l3-.6-2.3-1.4-2.9 .6zM137.6 139.4l3-.5-2.3-1.4-2.9 .6zM143.5 140.8l3-.6-2.2-1.3-3 .6zM149.4 142.1l3.1-.6-2.2-1.3-3 .6zM155.3 143.4l3.1-.6-2.1-1.3-3.1 .6zM161.1 144.5l3.1-.5-2-1.3-3.1 .6zM170.9 146.1l3.2-.6-1.9-1.1-3.2 .6zM176.7 147.1l3.2-.6-1.9-1.1-3.2 .6zM186.4 148.4l3.3-.6-1.8-1-3.3 .6zM190.4 148.7l3.4-.6-1.9-1-3.3 .6zM200.1 149.7l3.4-.6-1.8-.9-3.4 .6zM204.1 149.9l3.4-.6-1.7-.9-3.4 .6zM217.7 150.8l3.5-.6-1.7-.8-3.5 .6zM221.7 150.9l3.5-.7-1.6-.7-3.5 .7zM241.7 150.8l3.6-.7-1.6-.5-3.6 .6zM225.7 150.9l3.5-.6-1.6-.7-3.5 .6zM237.7 150.9l3.5-.7-1.5-.6-3.6 .7zM229.7 150.9l3.5-.6-1.6-.7-3.5 .7zM233.7 150.9l3.5-.6-1.5-.7-3.6 .7z"/>
<path color="#484df1" d="M126.2 134.6l2.9-.6-2.4-1.4-2.9 .5zM168 144l3.2-.7-2-1.2-3.2 .7zM183.8 146.4l3.2-.6-1.9-1.1-3.3 .6zM211.5 149.1l3.4-.7-1.7-.9-3.5 .7z"/>
<path color="#4852f4" d="M115.7 133.2l2.9-.5-2.5-1.5-2.8 .5zM121.8 134.8l2.9-.5-2.4-1.5-2.9 .6zM123.7 135.7l2.9-.6-2.4-1.4-2.8 .5zM129.7 137.2l2.9-.6-2.3-1.4-2.9 .6zM135.7 138.7l3-.6-2.3-1.4-2.9 .6zM141.7 140.1l3-.6-2.2-1.4-3 .6zM147.6 141.4l3-.6-2.1-1.3-3.1 .6zM153.5 142.7l3.1-.6-2.2-1.3-3 .6zM159.3 143.9l3.1-.6-2-1.2-3.1 .5zM165.2 145l3.1-.6-2-1.2-3.2 .6zM169.2 145.5l3.2-.6-2-1.2-3.2 .6zM175 146.5l3.2-.6-2-1.1-3.2 .6zM184.8 147.8l3.2-.6-1.8-1-3.3 .6zM194.5 149l3.3-.6-1.8-1-3.3 .6zM198.5 149.2l3.4-.6-1.8-.9-3.4 .6zM208.1 150.1l3.5-.6-1.8-.9-3.4 .7zM212.2 150.3l3.4-.7-1.7-.8-3.4 .6zM216.2 150.4l3.4-.6-1.6-.8-3.5 .6zM220.2 150.5l3.5-.6-1.7-.8-3.5 .6zM244.2 150.4l3.6-.7-1.5-.5-3.6 .7zM240.2 150.5l3.6-.7-1.5-.6-3.6 .7z"/>
<path color="#4851f3" d="M119.9 134l2.8-.6-2.4-1.5-2.8 .6zM133.8 137.9l3-.6-2.3-1.4-2.9 .6zM139.8 139.3l3-.6-2.2-1.4-3 .6zM145.8 140.7l3-.6-2.2-1.4-3 .6zM151.7 142l3-.6-2.1-1.3-3.1 .6zM157.6 143.2l3-.6-2-1.3-3.1 .6zM173.3 145.9l3.2-.6-2-1.2-3.2 .7zM183.1 147.3l3.3-.7-2-1-3.2 .6zM192.8 148.4l3.4-.6-1.9-1-3.3 .7zM206.6 149.7l3.4-.7-1.8-.9-3.4 .7zM210.6 149.8l3.4-.6-1.7-.9-3.4 .7z"/>
<path color="#4756f6" d="M109.5 132.5l2.8-.5-2.5-1.5-2.7 .5zM164.6 145.8l3.2-.5-2-1.2-3.2 .6z"/>
<path color="#4854f6" d="M113.6 133.3l2.8-.5-2.4-1.5-2.8 .5zM127.6 137.3l2.8-.5-2.3-1.5-2.8 .6zM162.9 145.2l3.1-.6-2-1.2-3.2 .6zM205.7 150.4l3.4-.6-1.7-.9-3.4 .6z"/>
<path color="#4758f8" d="M107.4 132.6l2.7-.5-2.4-1.6-2.7 .5zM115.4 135.1l2.8-.5-2.4-1.5-2.8 .5zM121.4 136.7l2.8-.5-2.4-1.5-2.8 .5zM129.2 139l2.9-.5-2.3-1.4-2.9 .5zM135.1 140.4l2.9-.5-2.2-1.4-2.9 .6zM141 141.8l2.9-.5-2.2-1.4-2.9 .6zM146.8 143.1l3-.5-2.1-1.3-3 .5zM152.6 144.3l3-.5-2.1-1.3-3 .6zM162.4 146l3.1-.6-2-1.1-3.2 .5zM168.1 147.1l3.1-.6-1.9-1.1-3.2 .5zM177.7 148.4l3.3-.5-1.9-1.1-3.2 .6zM187.4 149.6l3.2-.5-1.8-1-3.3 .6zM196.9 150.7l3.3-.6-1.7-.9-3.3 .6zM200.9 150.9l3.3-.6-1.7-.8-3.4 .5zM204.8 151.1l3.4-.6-1.7-.8-3.4 .6zM218.2 151.8l3.5-.6-1.6-.6-3.5 .5zM222.2 151.9l3.5-.6-1.6-.7-3.5 .6zM234 151.8l3.6-.6-1.5-.5-3.6 .6zM226.1 151.9l3.5-.6-1.5-.6-3.5 .6zM230.1 151.9l3.5-.6-1.5-.6-3.6 .6z"/>
<path color="#4756f7" d="M111.5 133.4l2.7-.5-2.4-1.6-2.7 .6zM117.5 135l2.8-.5-2.4-1.5-2.8 .5zM125.4 137.4l2.9-.5-2.4-1.5-2.8 .6zM131.4 138.9l2.9-.5-2.3-1.5-2.9 .6zM137.3 140.3l2.9-.5-2.2-1.4-3 .6zM143.2 141.7l2.9-.6-2.1-1.3-3 .6zM149 143l3-.6-2.1-1.3-3 .6zM154.8 144.2l3.1-.6-2.1-1.2-3.1 .6zM160.6 145.4l3.1-.6-2-1.2-3.1 .6zM170.4 146.9l3.1-.6-1.9-1.1-3.2 .6zM180.1 148.3l3.2-.6-1.9-1.1-3.2 .6zM189.7 149.4l3.3-.5-1.8-1-3.3 .6zM203.3 150.6l3.4-.5-1.8-.9-3.3 .6zM207.3 150.8l3.4-.6-1.7-.8-3.4 .6z"/>
<path color="#484bee" d="M140.5 137.4l3-.6-2.2-1.4-3 .6zM146.6 138.8l3-.6-2.2-1.4-3.1 .7zM152.6 140.1l3-.6-2.1-1.3-3.1 .6zM174.5 144.2l3.2-.7-2-1.2-3.2 .7z"/>
<path color="#4855f6" d="M115.6 134.2l2.8-.6-2.4-1.5-2.8 .6zM121.6 135.8l2.8-.6-2.3-1.4-2.9 .5zM129.5 138.1l2.9-.5-2.3-1.5-2.9 .6zM135.4 139.6l2.9-.6-2.2-1.4-2.9 .6zM141.3 140.9l3-.5-2.2-1.4-3 .6zM147.2 142.3l3-.6-2.1-1.3-3.1 .6zM153 143.5l3.1-.6-2.1-1.2-3.1 .6zM158.8 144.7l3.1-.6-2-1.2-3.1 .6zM168.6 146.3l3.2-.6-2-1.1-3.1 .5zM174.4 147.3l3.2-.6-2-1.1-3.2 .6zM178.4 147.7l3.2-.6-1.9-1.1-3.2 .6zM184.1 148.6l3.2-.6-1.8-1-3.3 .6zM188.1 148.9l3.3-.6-1.9-1-3.3 .6zM197.7 150l3.4-.6-1.8-.9-3.4 .6zM201.7 150.2l3.4-.6-1.8-.9-3.3 .6zM211.2 151l3.5-.6-1.7-.8-3.4 .6zM215.2 151.1l3.5-.6-1.7-.8-3.4 .6zM247 150.9l3.7-.7-1.5-.4-3.6 .6zM219.2 151.2l3.5-.6-1.6-.8-3.5 .7zM243.1 151.1l3.6-.7-1.5-.5-3.6 .6zM223.2 151.2l3.5-.6-1.6-.7-3.5 .6zM239.1 151.2l3.6-.7-1.5-.5-3.6 .6zM227.2 151.3l3.5-.7-1.6-.6-3.5 .6zM235.1 151.2l3.6-.6-1.5-.6-3.6 .6zM231.1 151.3l3.6-.7-1.6-.6-3.5 .6z"/>
<path color="#475af9" d="M105.4 132.6l2.6-.5-2.4-1.5-2.7 .5zM111.4 134.3l2.7-.5-2.4-1.5-2.8 .5zM113.3 135.2l2.7-.5-2.4-1.5-2.7 .5zM119.3 136.8l2.7-.5-2.3-1.5-2.8 .5zM125.2 138.3l2.8-.5-2.3-1.5-2.8 .6zM127.1 139.1l2.8-.5-2.3-1.4-2.8 .5zM132.9 140.5l2.9-.5-2.2-1.4-2.9 .6zM138.8 141.9l2.9-.5-2.2-1.4-2.9 .6zM144.6 143.2l3-.5-2.2-1.3-2.9 .5zM150.4 144.5l3-.6-2.1-1.2-3 .5zM160.1 146.1l3.1-.5-2-1.2-3.1 .6zM165.8 147.2l3.1-.5-1.9-1.1-3.2 .5zM175.4 148.6l3.2-.5-1.8-1.1-3.2 .6zM185 149.8l3.3-.5-1.8-1-3.3 .6zM194.5 150.9l3.4-.6-1.8-.8-3.3 .5zM198.5 151.1l3.3-.5-1.7-.9-3.3 .6zM202.4 151.3l3.4-.5-1.7-.9-3.4 .6zM215.8 152.1l3.4-.6-1.6-.7-3.4 .6zM239.3 152l3.6-.6-1.4-.5-3.6 .6zM219.7 152.2l3.5-.6-1.6-.7-3.5 .6zM235.4 152.1l3.6-.6-1.5-.5-3.6 .6zM223.6 152.2l3.5-.6-1.5-.6-3.5 .6zM231.5 152.1l3.5-.5-1.5-.6-3.5 .6zM227.6 152.2l3.5-.6-1.5-.6-3.6 .6z"/>
<path color="#4854f5" d="M119.7 134.9l2.8-.5-2.4-1.5-2.8 .5zM133.5 138.8l3-.6-2.3-1.4-2.9 .6zM139.5 140.2l2.9-.6-2.2-1.3-3 .5zM145.4 141.5l3-.5-2.2-1.3-3 .5zM151.2 142.8l3.1-.5-2.1-1.3-3.1 .5zM157.1 144l3.1-.5-2.1-1.3-3.1 .6zM166.9 145.7l3.2-.6-2-1.2-3.2 .6zM172.7 146.7l3.2-.6-2-1.1-3.2 .6zM182.4 148l3.3-.5-1.9-1.1-3.3 .6zM192.1 149.2l3.3-.6-1.8-1-3.3 .6zM196.1 149.5l3.3-.6-1.7-1-3.4 .6zM209.7 150.6l3.4-.7-1.7-.8-3.4 .6zM213.7 150.7l3.4-.6-1.6-.8-3.5 .6zM245.6 150.7l3.7-.7-1.5-.5-3.6 .7z"/>
<path color="#463de1" d="M195.7 142.5l3.3-.8-1.9-1.1-3.4 .7z"/>
<path color="#4759f8" d="M109.4 133.4l2.7-.5-2.4-1.5-2.7 .5zM117.3 135.9l2.8-.5-2.4-1.5-2.7 .6zM123.3 137.5l2.8-.5-2.3-1.5-2.8 .6zM136.9 141.2l3-.6-2.2-1.3-3 .5zM142.8 142.5l2.9-.5-2.1-1.3-3 .5zM158.4 145.5l3-.5-2-1.2-3.1 .5zM164.1 146.6l3.1-.5-2-1.2-3.1 .6zM173.8 148.1l3.2-.6-2-1.1-3.2 .6zM183.4 149.3l3.2-.5-1.8-1-3.3 .5zM192.9 150.4l3.4-.5-1.8-1-3.3 .6zM210.3 151.6l3.5-.5-1.7-.8-3.4 .6zM245.8 151.5l3.6-.7-1.4-.4-3.6 .6zM214.3 151.7l3.4-.5-1.6-.8-3.4 .6zM241.9 151.6l3.6-.6-1.5-.5-3.6 .7zM238 151.7l3.5-.6-1.4-.5-3.6 .6z"/>
<path color="#4741e6" d="M176.3 141.4l3.3-.7-2.1-1.3-3.3 .7z"/>
<path color="#4757f7" d="M113.5 134.2l2.7-.5-2.4-1.5-2.8 .5zM119.5 135.9l2.8-.6-2.4-1.4-2.8 .5zM127.3 138.2l2.9-.5-2.3-1.4-2.9 .5zM133.2 139.7l2.9-.6-2.2-1.4-2.9 .6zM139.1 141.1l3-.6-2.2-1.3-3 .5zM145 142.4l3-.6-2.2-1.3-3 .6zM150.8 143.7l3-.6-2.1-1.3-3 .6zM156.6 144.9l3.1-.6-2.1-1.2-3.1 .5zM166.4 146.5l3.1-.6-2-1.2-3.1 .6zM172.1 147.5l3.2-.6-2-1.1-3.2 .6zM176.1 147.9l3.2-.6-1.9-1.1-3.2 .6zM181.7 148.8l3.3-.6-1.9-1-3.2 .6zM185.7 149.1l3.3-.5-1.8-1-3.3 .5zM195.3 150.2l3.3-.6-1.7-.9-3.4 .6zM199.3 150.4l3.4-.5-1.8-.9-3.3 .6zM208.8 151.2l3.4-.5-1.6-.8-3.5 .5zM212.8 151.4l3.4-.6-1.6-.8-3.5 .6zM244.4 151.3l3.7-.7-1.5-.4-3.6 .6zM216.7 151.5l3.5-.6-1.6-.8-3.5 .6zM240.5 151.4l3.6-.6-1.5-.5-3.6 .6zM220.7 151.5l3.5-.6-1.6-.7-3.5 .7zM236.5 151.5l3.6-.6-1.5-.6-3.6 .7zM224.7 151.6l3.5-.6-1.6-.7-3.5 .6zM232.6 151.6l3.5-.7-1.5-.5-3.5 .6zM228.6 151.6l3.6-.6-1.6-.7-3.5 .7z"/>
<path color="#475cfa" d="M103.3 132.7l2.7-.5-2.5-1.6-2.7 .5zM109.3 134.4l2.7-.5-2.4-1.5-2.7 .4zM117.2 136.8l2.7-.5-2.3-1.4-2.8 .5zM123.1 138.4l2.8-.5-2.3-1.5-2.8 .5zM130.8 140.6l2.9-.5-2.3-1.4-2.8 .5zM136.6 142l2.9-.5-2.2-1.4-2.9 .6zM142.4 143.3l3-.5-2.2-1.3-2.9 .5zM148.2 144.6l3-.5-2.1-1.3-3 .5zM152.1 145.1l3.1-.5-2.1-1.2-3 .5zM157.9 146.3l3-.5-2-1.2-3 .5zM163.6 147.4l3.1-.6-2-1.1-3.1 .5zM173.1 148.8l3.2-.5-1.9-1.1-3.1 .5zM182.7 150l3.2-.5-1.8-1-3.2 .6zM192.2 151.1l3.3-.6-1.8-.8-3.3 .5zM196.1 151.3l3.3-.5-1.7-.9-3.3 .6zM251.1 151.4l3.6-.6-1.4-.3-3.6 .6zM209.4 152.2l3.4-.5-1.6-.7-3.4 .5zM240.7 152.2l3.6-.6-1.4-.5-3.6 .6zM213.3 152.3l3.5-.5-1.6-.7-3.5 .6zM236.8 152.3l3.6-.6-1.5-.5-3.5 .6zM217.2 152.4l3.5-.5-1.6-.7-3.4 .6zM232.9 152.4l3.6-.6-1.5-.5-3.6 .6zM221.2 152.5l3.5-.6-1.6-.6-3.5 .6zM229 152.4l3.5-.5-1.5-.6-3.5 .6zM225.1 152.5l3.5-.6-1.5-.6-3.5 .6z"/>
<path color="#475bf9" d="M107.3 133.5l2.7-.5-2.4-1.5-2.7 .5zM121.2 137.6l2.8-.5-2.4-1.5-2.8 .5zM156.1 145.7l3.1-.6-2.1-1.2-3 .6zM161.8 146.8l3.1-.6-1.9-1.1-3.2 .5zM171.5 148.2l3.1-.5-1.9-1.1-3.1 .6zM181.1 149.5l3.2-.5-1.8-1-3.3 .5zM190.6 150.6l3.3-.5-1.8-.9-3.3 .5zM207.9 151.9l3.4-.6-1.6-.7-3.4 .5zM211.8 152l3.5-.6-1.6-.7-3.5 .6zM243.3 151.8l3.6-.6-1.5-.4-3.6 .6z"/>
<path color="#4743e8" d="M173.9 141.6l3.3-.6-2.1-1.3-3.3 .7zM204.2 145.6l3.4-.8-1.9-1-3.4 .7zM226.6 146.9l3.6-.7-1.8-.9-3.5 .7z"/>
<path color="#465ffb" d="M101.3 132.7l2.6-.5-2.5-1.5-2.6 .4zM103.3 133.6l2.6-.5-2.5-1.5-2.6 .4zM109.2 135.3l2.7-.5-2.5-1.5-2.6 .4zM117 137.7l2.7-.5-2.3-1.5-2.7 .5zM122.9 139.2l2.7-.5-2.3-1.4-2.7 .5zM128.7 140.7l2.8-.5-2.2-1.4-2.9 .5zM134.5 142.1l2.9-.5-2.2-1.4-2.9 .6zM140.3 143.4l2.9-.5-2.2-1.3-2.9 .5zM146 144.7l3-.5-2.1-1.3-3 .5zM151.7 145.9l3-.5-2-1.2-3 .5zM157.4 147l3-.5-1.9-1.1-3.1 .5zM166.9 148.5l3.2-.5-1.9-1.1-3.2 .6zM172.5 149.5l3.2-.5-1.8-1.1-3.2 .6zM176.5 149.9l3.2-.6-1.9-1-3.2 .6zM185.9 151l3.3-.5-1.8-.9-3.2 .5zM199.2 152.1l3.4-.5-1.7-.7-3.4 .5zM249.8 151.9l3.6-.6-1.3-.3-3.6 .6zM203.1 152.3l3.4-.5-1.7-.7-3.3 .5zM245.9 152.1l3.7-.6-1.4-.3-3.6 .6zM242.1 152.3l3.6-.6-1.4-.3-3.6 .5z"/>
<path color="#465dfb" d="M105.3 133.5l2.6-.4-2.4-1.6-2.7 .5zM113.2 136.1l2.7-.5-2.4-1.5-2.7 .5zM138.5 142.7l2.9-.5-2.2-1.3-2.9 .5zM165.3 148l3.1-.6-2-1.1-3.1 .6zM174.8 149.3l3.2-.5-1.9-1-3.2 .5zM184.3 150.5l3.3-.5-1.8-.9-3.3 .5zM197.7 151.7l3.3-.5-1.7-.8-3.3 .5zM248.5 151.8l3.6-.6-1.3-.4-3.7 .6z"/>
<path color="#4661fc" d="M99.3 132.7l2.6-.4-2.6-1.6-2.5 .4zM113 136.9l2.7-.5-2.4-1.4-2.6 .5zM126.6 140.8l2.8-.5-2.3-1.4-2.8 .5zM132.4 142.2l2.8-.5-2.2-1.4-2.8 .5zM138.1 143.5l2.9-.5-2.1-1.3-2.9 .5zM143.9 144.8l2.9-.5-2.1-1.3-3 .5zM159.1 147.6l3.1-.5-2-1.1-3.1 .5zM164.7 148.7l3.1-.5-1.9-1.1-3.1 .5zM174.2 150l3.2-.5-1.9-1-3.1 .5zM187.5 151.4l3.3-.5-1.8-.8-3.2 .5zM200.7 152.5l3.4-.5-1.6-.7-3.4 .5zM243.4 152.4l3.6-.5-1.4-.3-3.6 .5z"/>
<path color="#4856f6" d="M123.5 136.6l2.8-.5-2.3-1.5-2.8 .5zM193.7 149.7l3.3-.6-1.8-.9-3.3 .6z"/>
<path color="#4850f2" d="M137.9 138.5l3-.6-2.2-1.3-3 .5zM143.9 139.9l3-.6-2.2-1.3-3 .6zM149.8 141.2l3.1-.6-2.2-1.3-3 .6zM171.5 145.3l3.2-.6-2-1.2-3.2 .6zM226.7 150.2l3.5-.6-1.6-.8-3.5 .7zM230.7 150.3l3.6-.7-1.6-.7-3.6 .7zM238.8 150.2l3.6-.7-1.6-.6-3.6 .7zM234.8 150.3l3.5-.7-1.6-.7-3.5 .7z"/>
<path color="#4742e7" d="M188.3 143.5l3.3-.7-2-1.2-3.3 .7zM216.7 146.2l3.5-.8-1.8-1-3.5 .8z"/>
<path color="#465efb" d="M107.2 134.4l2.7-.5-2.4-1.5-2.7 .5zM115.1 136.9l2.7-.5-2.4-1.5-2.7 .5zM121 138.4l2.7-.5-2.3-1.4-2.7 .5zM126.8 139.9l2.8-.5-2.2-1.4-2.8 .5zM132.7 141.4l2.8-.6-2.2-1.3-2.9 .5zM144.2 144l3-.5-2.1-1.3-3 .5zM150 145.3l3-.6-2.1-1.2-3 .5zM155.7 146.4l3-.5-2-1.2-3.1 .5zM161.3 147.5l3.1-.5-2-1.1-3 .5zM170.9 148.9l3.1-.5-1.8-1-3.2 .5zM180.4 150.2l3.2-.5-1.8-1-3.2 .5zM189.8 151.3l3.3-.5-1.7-.9-3.3 .5zM193.7 151.5l3.4-.5-1.7-.8-3.4 .5zM252.4 151.5l3.6-.6-1.3-.3-3.7 .6zM207 152.5l3.4-.6-1.6-.7-3.4 .6zM210.9 152.6l3.4-.5-1.6-.7-3.4 .5zM238.2 152.5l3.6-.6-1.5-.4-3.6 .6zM214.8 152.7l3.5-.6-1.6-.6-3.5 .5zM234.3 152.6l3.5-.6-1.4-.4-3.6 .5zM218.7 152.7l3.5-.5-1.6-.6-3.4 .5zM230.4 152.7l3.5-.6-1.4-.5-3.6 .6zM222.6 152.7l3.5-.5-1.5-.6-3.5 .6zM226.5 152.7l3.5-.5-1.5-.6-3.5 .6z"/>
<path color="#4563fd" d="M97.3 132.7l2.5-.4-2.5-1.6-2.5 .4zM111 137l2.7-.5-2.4-1.5-2.7 .5zM124.5 140.8l2.8-.5-2.3-1.4-2.7 .5zM130.3 142.2l2.8-.5-2.2-1.3-2.8 .5zM136 143.6l2.9-.5-2.2-1.3-2.8 .5zM141.7 144.9l2.9-.5-2.1-1.3-2.9 .5zM147.4 146.1l2.9-.5-2-1.2-3 .5zM162.5 148.8l3.1-.5-1.9-1.1-3.1 .5zM171.9 150.1l3.2-.4-1.8-1-3.2 .4zM181.3 151.3l3.3-.5-1.8-.9-3.2 .5zM194.5 152.5l3.3-.5-1.6-.7-3.4 .5zM198.4 152.7l3.3-.5-1.6-.7-3.4 .5zM244.7 152.5l3.6-.5-1.3-.3-3.7 .6z"/>
<path color="#475dfa" d="M111.2 135.2l2.7-.5-2.4-1.5-2.7 .5zM125 139.2l2.8-.5-2.3-1.5-2.8 .5zM153.9 145.8l3-.5-2-1.3-3 .6zM169.2 148.4l3.2-.5-2-1.1-3.1 .5zM178.7 149.7l3.3-.5-1.9-1-3.2 .5zM188.2 150.8l3.3-.5-1.7-.9-3.3 .5zM205.5 152.1l3.4-.5-1.6-.8-3.4 .6zM244.6 152l3.6-.6-1.4-.4-3.6 .6z"/>
<path color="#4741e4" d="M205 144.6l3.4-.7-1.9-1.1-3.4 .8z"/>
<path color="#4562fc" d="M101.2 133.6l2.6-.5-2.5-1.5-2.5 .4zM109.1 136.1l2.6-.4-2.4-1.5-2.6 .4zM115 137.7l2.6-.4-2.3-1.5-2.7 .5zM122.7 140.1l2.7-.5-2.3-1.4-2.7 .5zM128.5 141.5l2.8-.5-2.3-1.4-2.8 .5zM134.2 142.9l2.9-.5-2.2-1.3-2.9 .5zM139.9 144.2l2.9-.5-2.1-1.3-2.9 .5zM145.6 145.5l3-.5-2.1-1.3-3 .5zM151.3 146.6l3-.5-2-1.2-3 .5zM160.8 148.2l3.1-.5-2-1.1-3 .5zM166.4 149.2l3.1-.5-1.9-1-3.1 .5zM170.3 149.6l3.1-.5-1.8-1-3.2 .5zM175.8 150.5l3.2-.5-1.8-1-3.2 .5zM179.7 150.8l3.2-.4-1.7-1-3.3 .5zM189.1 151.9l3.3-.5-1.7-.8-3.3 .4zM193 152.1l3.3-.5-1.7-.8-3.3 .5zM254.9 151.6l3.7-.5-1.3-.2-3.7 .6zM251.1 151.9l3.6-.5-1.3-.3-3.6 .6zM206.1 153l3.4-.5-1.6-.6-3.4 .5zM237 152.9l3.6-.5-1.4-.4-3.6 .6zM210 153.1l3.4-.5-1.6-.6-3.4 .5zM233.2 153.1l3.5-.6-1.4-.4-3.6 .6zM213.8 153.2l3.5-.5-1.6-.6-3.4 .5zM229.3 153.2l3.5-.6-1.4-.4-3.5 .5zM217.7 153.2l3.5-.5-1.5-.5-3.5 .5zM225.4 153.2l3.5-.5-1.4-.5-3.5 .5zM221.6 153.2l3.5-.5-1.5-.5-3.5 .5z"/>
<path color="#475bfa" d="M115.2 136l2.8-.5-2.4-1.5-2.7 .5zM128.9 139.9l2.9-.6-2.3-1.4-2.8 .6zM134.8 141.3l2.9-.6-2.2-1.3-2.9 .5zM140.6 142.6l2.9-.5-2.1-1.3-3 .5zM146.4 143.9l3-.5-2.1-1.3-3 .5zM167.5 147.8l3.2-.5-2-1.1-3.1 .5zM177.1 149.2l3.2-.6-1.8-1-3.3 .5zM186.6 150.3l3.3-.5-1.8-.9-3.3 .5zM200 151.5l3.4-.5-1.7-.8-3.4 .5zM204 151.7l3.4-.5-1.7-.8-3.4 .5zM247.2 151.6l3.6-.6-1.4-.4-3.6 .7z"/>
<path color="#4660fc" d="M105.2 134.4l2.6-.4-2.4-1.6-2.6 .5zM111.1 136.1l2.7-.5-2.4-1.5-2.7 .5zM118.9 138.5l2.7-.5-2.3-1.4-2.7 .5zM124.7 140l2.8-.5-2.3-1.4-2.7 .5zM130.5 141.4l2.9-.5-2.3-1.3-2.8 .5zM136.3 142.8l2.9-.5-2.2-1.3-2.9 .5zM142.1 144.1l2.9-.5-2.1-1.3-3 .5zM147.8 145.4l3-.6-2.1-1.2-3 .5zM153.5 146.5l3-.5-2-1.2-3.1 .5zM163 148.1l3.1-.5-1.9-1.1-3.1 .5zM168.6 149.1l3.2-.5-1.9-1.1-3.2 .5zM178.1 150.4l3.2-.5-1.8-1-3.2 .5zM191.4 151.7l3.3-.5-1.7-.8-3.3 .5zM253.7 151.6l3.6-.6-1.3-.2-3.7 .6zM204.6 152.7l3.4-.5-1.6-.7-3.4 .5zM208.5 152.8l3.4-.5-1.6-.7-3.4 .5zM239.5 152.6l3.6-.5-1.4-.4-3.6 .6zM212.4 152.9l3.4-.5-1.5-.6-3.5 .5zM235.7 152.8l3.5-.6-1.4-.4-3.6 .6zM216.3 153l3.4-.6-1.5-.6-3.5 .6zM231.8 152.9l3.5-.6-1.4-.4-3.6 .5zM220.1 153l3.5-.5-1.5-.6-3.5 .5zM227.9 153l3.5-.6-1.4-.5-3.6 .6zM224 153l3.5-.5-1.5-.6-3.5 .6z"/>
<path color="#4466fd" d="M95.3 132.7l2.5-.4-2.5-1.6-2.5 .4zM103.2 135.3l2.5-.4-2.4-1.5-2.6 .4zM110.9 137.8l2.6-.5-2.3-1.4-2.7 .4zM116.7 139.4l2.7-.5-2.3-1.4-2.7 .4zM122.5 140.9l2.7-.5-2.3-1.4-2.7 .5zM145.2 146.2l3-.5-2.1-1.2-2.9 .5zM150.9 147.3l2.9-.4-2-1.2-2.9 .5zM156.4 148.4l3.1-.5-2-1.1-3 .5zM165.8 149.9l3.2-.5-1.9-1-3.1 .4zM175.2 151.1l3.2-.4-1.8-1-3.2 .5zM188.3 152.5l3.3-.5-1.7-.8-3.3 .5zM249.8 152.3l3.6-.5-1.3-.2-3.6 .5zM205.2 153.5l3.4-.4-1.6-.7-3.4 .5zM235.8 153.3l3.6-.5-1.4-.3-3.5 .5zM209 153.6l3.5-.4-1.6-.6-3.4 .4zM232 153.5l3.6-.5-1.4-.4-3.6 .5zM212.9 153.7l3.4-.5-1.5-.5-3.4 .4zM228.2 153.6l3.5-.5-1.4-.4-3.5 .5zM216.7 153.7l3.5-.5-1.5-.5-3.5 .5zM224.4 153.7l3.5-.5-1.5-.4-3.5 .4zM220.5 153.7l3.5-.5-1.4-.4-3.5 .4z"/>
<path color="#4464fd" d="M99.3 133.6l2.5-.4-2.5-1.6-2.5 .4zM107.1 136.2l2.6-.5-2.4-1.5-2.7 .5zM126.4 141.6l2.8-.5-2.3-1.4-2.8 .5zM132.1 143l2.8-.5-2.2-1.4-2.8 .5zM137.8 144.3l2.9-.5-2.2-1.3-2.8 .5zM143.5 145.5l2.9-.5-2.1-1.2-2.9 .5zM186.8 152l3.2-.4-1.7-.9-3.2 .5zM203.7 153.2l3.4-.5-1.6-.6-3.4 .5zM238.3 153l3.6-.5-1.4-.3-3.5 .5z"/>
<path color="#4847ec" d="M175.1 143.3l3.2-.7-2-1.2-3.2 .7zM195.1 145.9l3.4-.6-1.9-1.1-3.4 .7zM209.2 147.2l3.4-.7-1.8-.9-3.5 .7z"/>
<path color="#4563fc" d="M103.2 134.5l2.6-.5-2.5-1.5-2.6 .4zM116.9 138.5l2.7-.4-2.4-1.5-2.7 .5zM156.9 147.7l3.1-.5-2-1.1-3.1 .5zM185.2 151.6l3.3-.5-1.8-.8-3.2 .4zM202.2 152.9l3.4-.5-1.6-.7-3.4 .5zM240.9 152.7l3.5-.5-1.3-.3-3.6 .5z"/>
<path color="#4368fe" d="M93.4 132.7l2.4-.4-2.5-1.6-2.5 .4zM101.2 135.3l2.5-.4-2.4-1.5-2.6 .4zM107 137l2.6-.4-2.4-1.5-2.6 .4zM114.7 139.4l2.6-.5-2.3-1.4-2.7 .5zM120.4 140.9l2.7-.5-2.3-1.4-2.7 .5zM126.2 142.3l2.7-.4-2.2-1.4-2.8 .5zM131.8 143.7l2.9-.5-2.2-1.3-2.8 .5zM137.5 145l2.9-.5-2.2-1.2-2.8 .4zM143.1 146.3l2.9-.5-2-1.2-2.9 .4zM148.7 147.4l3-.5-2-1.1-3 .4zM158.1 149l3.1-.5-2-1.1-3 .5zM163.6 150l3.1-.5-1.8-1-3.1 .4zM167.5 150.4l3.1-.5-1.8-1-3.2 .5zM173 151.2l3.1-.4-1.8-.9-3.1 .4zM176.8 151.6l3.2-.5-1.8-.9-3.2 .5zM186 152.6l3.3-.4-1.7-.9-3.2 .5zM189.9 152.8l3.3-.4-1.7-.8-3.3 .5zM247.3 152.6l3.6-.5-1.3-.2-3.6 .6zM202.8 153.7l3.4-.4-1.5-.7-3.4 .5zM233.3 153.6l3.6-.5-1.4-.3-3.5 .5zM206.7 153.8l3.4-.4-1.6-.6-3.4 .4zM229.5 153.7l3.6-.4-1.4-.4-3.5 .5zM210.5 153.9l3.4-.5-1.5-.5-3.4 .4zM225.7 153.8l3.5-.4-1.4-.4-3.5 .4zM214.3 153.9l3.4-.4-1.4-.5-3.5 .4zM221.9 153.9l3.5-.5-1.4-.4-3.5 .5zM218.1 153.9l3.5-.4-1.5-.5-3.5 .5z"/>
<path color="#4745ea" d="M187.5 144.4l3.4-.7-2-1.1-3.3 .7zM215.8 147.1l3.5-.8-1.8-.9-3.5 .7z"/>
<path color="#4561fc" d="M107.2 135.3l2.6-.5-2.4-1.5-2.7 .5zM120.8 139.3l2.7-.5-2.3-1.4-2.7 .5zM149.5 146l3-.5-2-1.2-3 .5zM155.2 147.1l3-.5-2-1.1-3 .5zM183.6 151.2l3.3-.5-1.8-.9-3.3 .5zM196.8 152.3l3.4-.5-1.7-.7-3.3 .5zM247.2 152.2l3.7-.6-1.4-.2-3.6 .5z"/>
<path color="#4467fd" d="M97.3 133.6l2.5-.4-2.5-1.6-2.5 .4zM124.3 141.6l2.8-.5-2.3-1.3-2.7 .4zM130 143l2.8-.5-2.2-1.3-2.8 .5zM135.7 144.3l2.9-.4-2.2-1.3-2.8 .5zM141.4 145.6l2.9-.5-2.1-1.2-2.9 .5zM184.5 152.2l3.2-.5-1.7-.8-3.2 .5zM253.6 152l3.7-.6-1.3-.1-3.7 .6zM201.4 153.4l3.3-.5-1.5-.6-3.4 .4z"/>
<path color="#4465fd" d="M101.2 134.5l2.6-.5-2.5-1.5-2.6 .4zM109 137l2.6-.5-2.4-1.5-2.6 .5zM114.8 138.6l2.7-.5-2.4-1.4-2.6 .4zM120.6 140.1l2.7-.5-2.3-1.4-2.7 .5zM128.2 142.3l2.8-.5-2.2-1.3-2.8 .4zM133.9 143.7l2.9-.5-2.2-1.3-2.9 .4zM139.6 145l2.9-.5-2.1-1.3-2.9 .5zM149.1 146.7l3-.5-2-1.2-3 .5zM154.7 147.8l3.1-.4-2-1.2-3 .5zM160.3 148.9l3.1-.5-1.9-1.1-3.1 .5zM164.2 149.3l3.1-.5-1.9-1-3.1 .5zM169.7 150.3l3.2-.5-1.9-1-3.1 .5zM173.6 150.6l3.1-.4-1.8-1-3.1 .5zM179 151.5l3.3-.5-1.8-.9-3.2 .5zM182.9 151.8l3.3-.5-1.8-.9-3.2 .5zM256.2 151.6l3.7-.5-1.3-.2-3.7 .6zM192.2 152.7l3.3-.5-1.7-.7-3.3 .4zM196 152.9l3.4-.5-1.7-.7-3.3 .5zM246 152.6l3.6-.5-1.3-.2-3.6 .5zM199.9 153.1l3.3-.5-1.6-.7-3.3 .5zM242.2 152.8l3.6-.5-1.4-.2-3.6 .5z"/>
<path color="#416bfe" d="M91.5 132.7l2.4-.4-2.6-1.6-2.4 .4zM99.2 135.3l2.5-.4-2.4-1.5-2.5 .4zM107 137.8l2.5-.4-2.4-1.5-2.6 .4zM112.7 139.4l2.6-.4-2.3-1.5-2.7 .5zM120.3 141.7l2.7-.5-2.3-1.4-2.7 .5zM126 143.1l2.7-.5-2.2-1.3-2.8 .4zM131.6 144.4l2.8-.4-2.2-1.3-2.8 .4zM137.2 145.7l2.8-.4-2.1-1.3-2.8 .5zM146.6 147.5l2.9-.5-2-1.2-2.9 .5zM152.1 148.6l3-.5-1.9-1.1-3 .5zM161.5 150.1l3-.5-1.8-1-3.1 .4zM166.9 151l3.1-.5-1.8-.9-3.1 .4zM170.7 151.3l3.2-.4-1.8-.9-3.2 .4zM179.9 152.4l3.3-.4-1.7-.8-3.3 .4zM252.3 152.2l3.6-.5-1.2 0-3.7 .5zM192.9 153.5l3.3-.4-1.6-.7-3.3 .5zM196.7 153.7l3.3-.4-1.5-.6-3.4 .4zM238.4 153.4l3.6-.4-1.3-.2-3.6 .5zM200.5 153.9l3.4-.5-1.6-.6-3.4 .5zM234.7 153.7l3.5-.5-1.3-.2-3.6 .4z"/>
<path color="#4564fd" d="M105.1 135.3l2.6-.4-2.4-1.6-2.6 .5zM112.9 137.8l2.7-.5-2.4-1.5-2.7 .5zM118.7 139.3l2.8-.4-2.4-1.5-2.7 .5zM153 147.2l3-.4-2-1.2-3 .5zM158.6 148.3l3.1-.5-2-1.1-3 .5zM168.1 149.7l3.1-.4-1.9-1.1-3.1 .5zM177.4 151l3.3-.5-1.8-.9-3.2 .5zM190.6 152.3l3.3-.5-1.7-.8-3.3 .5zM252.4 152l3.6-.6-1.3-.2-3.6 .6zM248.5 152.3l3.7-.6-1.4-.2-3.6 .6zM207.6 153.3l3.4-.4-1.6-.7-3.4 .5zM234.5 153.2l3.6-.5-1.4-.4-3.6 .6zM211.4 153.4l3.5-.5-1.6-.6-3.4 .5zM230.7 153.3l3.5-.5-1.4-.4-3.6 .5zM215.3 153.5l3.4-.5-1.5-.6-3.4 .5zM226.8 153.4l3.5-.5-1.4-.4-3.5 .5zM219.1 153.5l3.5-.5-1.5-.5-3.5 .5zM223 153.5l3.5-.5-1.5-.5-3.5 .5z"/>
<path color="#4269fe" d="M95.3 133.6l2.5-.4-2.5-1.6-2.5 .4zM103.1 136.2l2.6-.5-2.5-1.5-2.5 .5zM116.6 140.2l2.6-.5-2.3-1.4-2.7 .4zM122.3 141.6l2.7-.4-2.3-1.4-2.7 .5zM128 143.1l2.7-.5-2.2-1.4-2.7 .5zM133.6 144.4l2.9-.5-2.2-1.3-2.8 .5zM139.3 145.7l2.8-.5-2.1-1.3-2.8 .5zM144.9 146.9l2.9-.5-2-1.2-3 .5zM159.8 149.5l3.1-.4-1.9-1.1-3.1 .5zM169.1 150.9l3.2-.5-1.9-.9-3.1 .4zM178.4 152l3.2-.4-1.7-.9-3.3 .5zM254.8 151.9l3.7-.5-1.2-.1-3.7 .6zM195.2 153.4l3.3-.4-1.6-.7-3.3 .4zM240.9 153.2l3.6-.5-1.3-.2-3.6 .5z"/>
<path color="#465dfa" d="M119.1 137.6l2.7-.5-2.3-1.4-2.8 .5zM159.6 146.9l3.1-.5-2-1.2-3.1 .6zM201.6 151.9l3.4-.5-1.7-.8-3.4 .6z"/>
<path color="#4367fd" d="M99.2 134.5l2.6-.5-2.5-1.5-2.5 .4zM105.1 136.2l2.6-.5-2.5-1.5-2.6 .5zM112.8 138.6l2.6-.5-2.3-1.4-2.7 .5zM118.6 140.1l2.7-.4-2.3-1.4-2.7 .4zM147 146.8l2.9-.5-2-1.2-2.9 .5zM152.6 147.9l3-.4-2-1.2-3 .5zM162 149.4l3.1-.4-1.9-1.1-3.1 .5zM171.3 150.8l3.2-.5-1.8-1-3.2 .5zM180.6 151.9l3.3-.5-1.8-.8-3.2 .4zM193.7 153.1l3.3-.5-1.6-.7-3.3 .4zM197.5 153.2l3.4-.4-1.6-.7-3.4 .4zM243.5 152.9l3.6-.5-1.4-.2-3.6 .5zM239.6 153.1l3.6-.5-1.3-.2-3.6 .5z"/>
<path color="#406dfe" d="M89.6 132.7l2.4-.4-2.6-1.6-2.4 .4zM97.3 135.3l2.5-.4-2.5-1.5-2.5 .4zM103.1 137l2.5-.4-2.4-1.5-2.5 .4zM110.7 139.4l2.6-.4-2.4-1.5-2.5 .5zM116.4 140.9l2.7-.4-2.3-1.4-2.7 .4zM122.1 142.4l2.7-.5-2.3-1.3-2.6 .4zM127.8 143.8l2.7-.5-2.2-1.3-2.7 .5zM133.4 145.1l2.8-.5-2.2-1.2-2.8 .4zM139 146.4l2.8-.5-2.1-1.2-2.8 .4zM144.5 147.5l2.9-.4-2-1.2-2.9 .5zM150 148.7l3-.5-2-1.1-2.9 .4zM153.8 149.1l3-.4-1.9-1.1-3 .5zM159.3 150.1l3.1-.4-1.9-1-3.1 .4zM168.5 151.4l3.2-.4-1.8-.9-3.2 .4zM259.8 151.4l3.7-.5-1.2 0-3.7 .6zM177.7 152.6l3.2-.5-1.7-.8-3.2 .4zM181.5 152.8l3.2-.4-1.6-.8-3.3 .5zM249.7 152.5l3.7-.4-1.3-.1-3.6 .5zM194.4 153.9l3.3-.4-1.6-.7-3.3 .4zM198.2 154l3.3-.4-1.5-.6-3.4 .4zM235.9 153.7l3.6-.4-1.3-.2-3.6 .4zM202 154.1l3.3-.4-1.5-.5-3.4 .4zM232.2 153.9l3.5-.4-1.3-.3-3.6 .5zM228.4 154.1l3.5-.5-1.3-.2-3.5 .4z"/>
<path color="#416cfe" d="M93.4 133.6l2.5-.4-2.6-1.6-2.4 .4zM101.2 136.2l2.5-.5-2.5-1.5-2.5 .5zM108.9 138.6l2.5-.4-2.4-1.5-2.5 .5zM114.6 140.2l2.6-.5-2.3-1.4-2.7 .5zM142.8 146.9l2.9-.4-2.1-1.2-2.9 .4zM148.3 148.1l3-.5-2-1.1-3 .4zM157.6 149.6l3.1-.4-1.9-1.1-3.1 .5zM176.1 152.1l3.2-.4-1.7-.9-3.2 .5zM256 151.8l3.7-.5-1.2 0-3.7 .6zM189.1 153.3l3.3-.4-1.6-.7-3.3 .4zM242.2 153.2l3.6-.5-1.3-.1-3.6 .5z"/>
<path color="#4848ed" d="M186.8 145.3l3.4-.7-2-1.1-3.3 .7z"/>
<path color="#4759f9" d="M131.1 139.8l2.9-.6-2.3-1.4-2.9 .6zM148.6 143.8l3-.6-2.1-1.2-3 .5zM154.4 145l3-.5-2-1.3-3.1 .6zM169.8 147.7l3.1-.6-1.9-1.1-3.2 .6zM179.4 149l3.2-.6-1.8-1-3.3 .6zM189 150.1l3.3-.5-1.8-.9-3.3 .5zM206.4 151.5l3.4-.6-1.7-.8-3.4 .6zM249.7 151.3l3.7-.7-1.4-.3-3.7 .6z"/>
<path color="#3e70ff" d="M87.7 132.6l2.3-.4-2.5-1.5-2.4 .3zM95.4 135.3l2.5-.4-2.6-1.6-2.4 .4zM108.8 139.4l2.5-.4-2.3-1.5-2.6 .5zM147.9 148.7l3-.4-2-1.2-2.9 .5zM157.2 150.2l3-.4-1.9-1.1-3 .5zM166.4 151.5l3.1-.4-1.8-.9-3.1 .4zM175.5 152.7l3.2-.4-1.7-.9-3.2 .4zM192.1 154l3.3-.4-1.6-.6-3.3 .4zM233.5 153.9l3.5-.4-1.3-.1-3.5 .4z"/>
<path color="#426afe" d="M97.3 134.5l2.5-.5-2.5-1.5-2.5 .4zM105 137l2.6-.4-2.4-1.5-2.6 .4zM110.8 138.6l2.6-.4-2.4-1.5-2.6 .5zM118.4 140.9l2.7-.4-2.3-1.4-2.7 .4zM124.1 142.4l2.8-.5-2.3-1.4-2.7 .5zM129.8 143.8l2.8-.5-2.2-1.3-2.8 .4zM135.4 145.1l2.9-.5-2.2-1.3-2.8 .5zM141 146.3l2.9-.5-2.1-1.2-2.8 .5zM150.4 148l3-.5-2-1.1-2.9 .5zM156 149.1l3-.5-1.9-1.1-3.1 .5zM165.3 150.5l3.1-.5-1.8-1-3.2 .5zM174.6 151.7l3.1-.4-1.7-.9-3.2 .4zM258.6 151.5l3.7-.5-1.2 0-3.7 .5zM187.6 153l3.3-.5-1.7-.7-3.3 .4zM191.4 153.2l3.3-.4-1.6-.8-3.3 .5zM244.7 152.9l3.6-.5-1.3-.1-3.6 .5zM204.3 154l3.4-.4-1.5-.6-3.4 .4zM208.1 154.1l3.4-.5-1.5-.5-3.4 .4zM227.1 154l3.5-.5-1.4-.3-3.5 .4zM211.9 154.1l3.4-.4-1.4-.5-3.5 .4zM223.3 154l3.5-.4-1.4-.4-3.5 .5zM215.7 154.1l3.5-.4-1.5-.5-3.5 .5zM219.5 154.1l3.5-.4-1.5-.4-3.4 .4z"/>
<path color="#3f6eff" d="M91.5 133.5l2.4-.3-2.5-1.6-2.4 .4zM99.3 136.2l2.4-.5-2.5-1.5-2.4 .4zM112.6 140.2l2.6-.5-2.4-1.4-2.5 .5zM118.3 141.7l2.6-.5-2.3-1.4-2.6 .5zM123.9 143.1l2.7-.4-2.2-1.4-2.7 .5zM129.6 144.5l2.7-.5-2.2-1.3-2.7 .5zM135.1 145.8l2.9-.5-2.2-1.3-2.8 .5zM140.7 147l2.9-.5-2.1-1.2-2.9 .5zM146.2 148.1l2.9-.4-2-1.2-2.9 .5zM155.5 149.7l3-.5-1.9-1-3 .4zM164.7 151.1l3.1-.5-1.8-.9-3.1 .4zM173.9 152.2l3.2-.4-1.7-.8-3.2 .4zM253.5 152.1l3.6-.4-1.2 0-3.6 .5zM186.8 153.5l3.3-.4-1.6-.8-3.3 .4zM239.7 153.4l3.6-.4-1.3-.1-3.6 .4zM210.9 154.5l3.5-.4-1.5-.4-3.4 .4zM214.7 154.5l3.5-.4-1.5-.4-3.4 .4zM218.5 154.5l3.4-.4-1.4-.4-3.4 .4z"/>
<path color="#3b72ff" d="M85.8 132.6l2.4-.4-2.6-1.6-2.4 .4zM93.6 135.2l2.3-.3-2.5-1.6-2.4 .4zM106.9 139.4l2.5-.4-2.4-1.5-2.5 .4zM145.8 148.8l3-.5-2-1.1-2.9 .4zM258.4 151.5l3.6-.4-1.1 .1-3.7 .5zM173.3 152.7l3.2-.3-1.7-.9-3.2 .4zM248.4 152.7l3.6-.4-1.2 0-3.6 .5zM186.1 153.9l3.2-.4-1.6-.6-3.2 .3zM234.7 153.9l3.6-.4-1.3-.1-3.5 .4z"/>
<path color="#406cfe" d="M95.4 134.4l2.4-.4-2.5-1.5-2.4 .4zM163.1 150.6l3.1-.5-1.9-1-3 .5zM172.3 151.8l3.2-.4-1.8-.9-3.1 .4zM185.3 153.1l3.3-.4-1.7-.8-3.3 .5zM246 152.9l3.6-.5-1.3-.1-3.6 .5zM205.7 154.2l3.4-.4-1.5-.5-3.4 .4zM209.5 154.3l3.5-.4-1.5-.5-3.5 .4zM224.6 154.2l3.6-.4-1.4-.4-3.5 .5zM213.3 154.3l3.5-.4-1.5-.4-3.4 .4zM220.9 154.3l3.5-.5-1.5-.3-3.4 .4zM217.1 154.3l3.5-.4-1.5-.4-3.4 .4z"/>
<path color="#3d71ff" d="M89.6 133.5l2.4-.4-2.5-1.5-2.4 .3zM97.4 136.1l2.4-.4-2.5-1.5-2.4 .4zM110.7 140.2l2.5-.4-2.3-1.5-2.6 .5zM138.6 147l2.9-.4-2.1-1.2-2.8 .4zM144.1 148.2l2.9-.5-2-1.1-2.9 .4zM254.7 152l3.6-.4-1.2 0-3.6 .5zM180.8 153.3l3.2-.4-1.6-.7-3.2 .4zM184.6 153.6l3.2-.4-1.6-.7-3.3 .4zM240.9 153.4l3.6-.4-1.2-.1-3.6 .5zM204.8 154.6l3.4-.4-1.5-.4-3.4 .3zM223.5 154.5l3.5-.4-1.3-.3-3.5 .4zM208.6 154.7l3.4-.4-1.5-.4-3.4 .3zM219.8 154.6l3.5-.4-1.4-.3-3.5 .4zM212.3 154.7l3.5-.4-1.5-.4-3.4 .4zM216.1 154.6l3.4-.3-1.4-.4-3.4 .4z"/>
<path color="#3975fe" d="M84 132.5l2.3-.3-2.6-1.6-2.3 .3zM91.7 135.2l2.3-.4-2.5-1.5-2.3 .4zM105 139.4l2.4-.4-2.4-1.5-2.4 .4zM143.8 148.8l2.9-.4-2-1.2-2.9 .5zM171.1 152.8l3.2-.4-1.7-.8-3.2 .4zM183.8 154l3.3-.3-1.6-.7-3.3 .3zM236 153.9l3.5-.4-1.2 0-3.6 .4z"/>
<path color="#3e6fff" d="M93.5 134.4l2.4-.4-2.5-1.5-2.5 .4zM101.2 137l2.5-.4-2.5-1.5-2.5 .4zM114.5 140.9l2.6-.4-2.4-1.4-2.6 .4zM120.1 142.4l2.7-.4-2.3-1.4-2.6 .4zM125.8 143.8l2.7-.4-2.3-1.4-2.7 .5zM131.3 145.1l2.8-.4-2.1-1.3-2.8 .5zM136.9 146.4l2.8-.5-2.1-1.2-2.8 .5zM142.4 147.6l2.9-.5-2-1.1-2.9 .4zM151.7 149.2l3-.4-2-1.1-2.9 .4zM257.2 151.7l3.7-.5-1.2 .1-3.7 .5zM179.3 153l3.2-.4-1.7-.8-3.2 .4zM247.2 152.8l3.6-.4-1.2 0-3.6 .4zM195.9 154.2l3.3-.4-1.5-.6-3.4 .4zM199.6 154.3l3.4-.4-1.5-.6-3.4 .4zM229.7 154.1l3.6-.4-1.4-.2-3.5 .4zM226 154.3l3.5-.4-1.4-.3-3.5 .4z"/>
<path color="#3a73ff" d="M87.8 133.5l2.3-.4-2.6-1.6-2.3 .4zM95.5 136.1l2.4-.4-2.5-1.5-2.4 .4zM108.8 140.2l2.5-.5-2.4-1.4-2.5 .4zM142.1 148.2l2.9-.4-2.1-1.2-2.8 .5zM242.2 153.4l3.6-.4-1.3-.1-3.6 .5zM198.8 154.7l3.3-.4-1.5-.5-3.3 .4zM202.5 154.8l3.4-.4-1.5-.5-3.4 .4zM206.2 154.8l3.4-.3-1.4-.5-3.4 .4zM221.1 154.7l3.5-.4-1.3-.2-3.5 .3zM217.4 154.8l3.5-.4-1.4-.3-3.5 .4z"/>
<path color="#484aed" d="M202.6 147.3l3.4-.6-1.9-1-3.4 .6z"/>
<path color="#3678fe" d="M82.2 132.4l2.2-.3-2.6-1.6-2.2 .4zM89.9 135.1l2.3-.3-2.6-1.6-2.3 .4zM141.8 148.8l2.8-.4-2-1.2-2.8 .5zM181.6 154.1l3.3-.3-1.6-.7-3.3 .3z"/>
<path color="#3c71ff" d="M91.6 134.4l2.4-.4-2.6-1.6-2.3 .4zM105 138.6l2.5-.4-2.4-1.5-2.5 .4zM123.8 143.8l2.6-.4-2.2-1.4-2.7 .5zM149.6 149.3l3-.5-2-1.1-2.9 .5zM158.8 150.7l3.1-.4-1.9-1-3 .4zM168 152l3.1-.4-1.8-.9-3.1 .4zM244.7 153.1l3.6-.4-1.3 0-3.6 .4zM197.3 154.4l3.4-.3-1.6-.6-3.3 .4zM201.1 154.5l3.3-.3-1.5-.6-3.3 .4zM227.3 154.3l3.5-.3-1.3-.3-3.6 .4z"/>
<path color="#3876fe" d="M86 133.4l2.3-.4-2.6-1.5-2.3 .3zM93.6 136l2.4-.3-2.5-1.6-2.4 .4zM106.9 140.1l2.4-.4-2.4-1.4-2.4 .4zM112.5 141.7l2.5-.5-2.3-1.4-2.6 .5zM134.6 147.1l2.8-.5-2.1-1.2-2.8 .5zM140.1 148.2l2.8-.4-2-1.2-2.9 .5zM149.2 149.8l2.9-.4-1.9-1.1-2.9 .5zM167.4 152.5l3.1-.4-1.7-.9-3.2 .4zM176.4 153.5l3.2-.4-1.7-.7-3.2 .4zM180.1 153.8l3.2-.4-1.6-.7-3.2 .4zM239.7 153.6l3.6-.4-1.3 0-3.5 .4zM196.5 154.8l3.3-.3-1.5-.6-3.3 .4zM200.2 154.9l3.4-.3-1.5-.5-3.4 .3zM203.9 154.9l3.4-.3-1.5-.4-3.3 .3zM222.4 154.7l3.5-.3-1.3-.2-3.5 .3zM207.6 155l3.4-.4-1.4-.3-3.4 .3zM218.7 154.8l3.5-.3-1.3-.2-3.5 .3zM211.3 155l3.5-.4-1.4-.3-3.5 .3zM215 154.9l3.5-.3-1.4-.3-3.4 .3z"/>
<path color="#337afd" d="M80.4 132.4l2.2-.4-2.6-1.5-2.2 .3zM88.1 135.1l2.2-.4-2.5-1.5-2.3 .3zM139.7 148.8l2.9-.4-2-1.1-2.9 .4zM234.8 154l3.5-.3-1.2 0-3.6 .4zM203 155.2l3.4-.3-1.5-.3-3.3 .3zM206.7 155.2l3.4-.3-1.4-.3-3.4 .3zM210.3 155.2l3.5-.3-1.4-.3-3.4 .3z"/>
<path color="#4369fe" d="M108.9 137.8l2.6-.4-2.4-1.5-2.6 .4zM154.3 148.5l3-.5-2-1.1-3 .5zM182.2 152.3l3.2-.4-1.7-.9-3.2 .5zM251 152.3l3.7-.5-1.3-.1-3.6 .5zM199 153.6l3.4-.5-1.6-.6-3.4 .4zM237.1 153.4l3.6-.5-1.3-.2-3.6 .5z"/>
<path color="#3a74ff" d="M89.8 134.3l2.3-.3-2.6-1.6-2.3 .4zM103.1 138.6l2.5-.4-2.5-1.5-2.4 .4zM121.8 143.8l2.6-.4-2.2-1.3-2.6 .4zM127.3 145.2l2.7-.5-2.1-1.3-2.7 .5zM147.5 149.3l3-.4-2-1.1-2.9 .4zM156.7 150.8l3-.4-1.8-1-3.1 .4zM165.8 152l3.1-.3-1.8-.9-3.1 .3zM178.6 153.4l3.2-.4-1.7-.7-3.2 .4zM191.3 154.4l3.3-.4-1.5-.5-3.3 .3zM195 154.5l3.4-.3-1.6-.6-3.3 .4zM228.6 154.4l3.5-.4-1.3-.2-3.5 .4zM224.9 154.5l3.5-.3-1.4-.2-3.5 .3z"/>
<path color="#3578fd" d="M84.2 133.3l2.2-.3-2.6-1.6-2.2 .4zM110.6 141.6l2.5-.4-2.4-1.4-2.5 .4zM132.6 147.1l2.8-.4-2.1-1.3-2.8 .5zM147.2 149.9l2.9-.4-2-1.1-2.9 .4zM197.9 155l3.3-.3-1.4-.5-3.4 .3zM220.1 154.9l3.4-.3-1.3-.2-3.5 .3zM216.4 155l3.4-.3-1.3-.2-3.5 .3z"/>
<path color="#317dfc" d="M78.7 132.3l2.1-.3-2.6-1.6-2.2 .3zM86.3 135l2.2-.3-2.6-1.6-2.2 .4zM93.8 137.6l2.3-.4-2.5-1.5-2.3 .4zM99.4 139.2l2.4-.3-2.5-1.5-2.3 .4zM106.8 141.6l2.5-.4-2.4-1.4-2.4 .4zM112.4 143l2.4-.4-2.3-1.3-2.5 .4zM117.8 144.5l2.6-.5-2.3-1.3-2.5 .4zM123.3 145.8l2.6-.4-2.2-1.3-2.6 .4zM128.7 147.1l2.7-.4-2.2-1.3-2.6 .4zM137.8 148.8l2.7-.4-2-1.1-2.8 .4zM143.1 149.9l2.9-.4-2-1.1-2.8 .4zM152.1 151.3l2.9-.3-1.8-1-3 .4zM161 152.6l3.1-.3-1.8-.9-3 .3zM173.6 154l3.1-.4-1.6-.7-3.2 .4zM177.2 154.2l3.2-.3-1.6-.6-3.2 .3zM236 153.9l3.5-.3-1.2 .1-3.5 .3zM232.3 154.2l3.6-.3-1.3 .1-3.5 .3zM189.7 155.1l3.3-.3-1.5-.5-3.3 .3zM193.4 155.2l3.3-.3-1.5-.4-3.3 .2zM197 155.3l3.4-.3-1.5-.4-3.3 .3zM200.7 155.3l3.4-.2-1.5-.4-3.3 .3zM219 155.1l3.4-.3-1.3-.1-3.4 .2zM204.4 155.3l3.3-.2-1.4-.3-3.3 .2zM215.3 155.2l3.5-.3-1.4-.2-3.4 .3zM208 155.3l3.4-.2-1.4-.3-3.4 .3zM211.7 155.3l3.4-.3-1.4-.2-3.4 .3z"/>
<path color="#3777fe" d="M87.9 134.3l2.3-.4-2.6-1.5-2.3 .3zM95.6 136.9l2.3-.4-2.5-1.5-2.3 .4zM108.7 140.9l2.5-.4-2.4-1.4-2.5 .4zM114.3 142.4l2.5-.4-2.3-1.4-2.5 .4zM119.9 143.8l2.6-.4-2.3-1.3-2.6 .4zM125.4 145.2l2.6-.5-2.1-1.3-2.7 .5zM130.9 146.5l2.7-.5-2.1-1.2-2.8 .4zM145.5 149.3l2.9-.4-2-1.1-2.9 .4zM159.9 151.7l3.1-.4-1.8-.9-3.1 .4zM172.7 153.2l3.1-.4-1.6-.7-3.2 .3zM243.4 153.2l3.6-.3-1.2 0-3.6 .4zM185.3 154.3l3.3-.3-1.6-.7-3.2 .4zM189 154.5l3.3-.3-1.5-.6-3.3 .3zM229.8 154.4l3.6-.4-1.3-.1-3.5 .4z"/>
<path color="#337bfc" d="M82.4 133.3l2.2-.4-2.6-1.5-2.2 .3zM90 135.9l2.3-.3-2.6-1.5-2.2 .3zM103.1 140.1l2.4-.4-2.4-1.5-2.4 .4zM130.6 147.1l2.8-.4-2.2-1.3-2.7 .4zM238.4 153.7l3.6-.3-1.2 0-3.6 .4zM191.9 155l3.4-.3-1.5-.5-3.3 .3zM221.3 154.9l3.5-.3-1.3-.1-3.5 .3zM217.7 155l3.4-.3-1.3-.1-3.4 .3z"/>
<path color="#307ffb" d="M76.9 132.2l2.2-.3-2.7-1.6-2.1 .3zM84.6 134.9l2.1-.3-2.6-1.5-2.2 .3zM90.2 136.7l2.2-.4-2.6-1.5-2.2 .4zM97.6 139.2l2.3-.4-2.5-1.4-2.3 .3zM103.2 140.8l2.3-.4-2.4-1.4-2.4 .3zM130.4 147.7l2.7-.4-2.1-1.3-2.7 .5zM135.8 148.8l2.7-.4-2-1.1-2.7 .4zM144.8 150.4l2.8-.4-1.9-1-2.9 .4zM153.7 151.8l3-.4-1.8-.9-3 .4zM162.6 153l3.1-.3-1.8-.9-3 .4zM175.1 154.3l3.2-.3-1.6-.7-3.2 .3zM178.7 154.5l3.2-.3-1.5-.6-3.2 .3zM229.9 154.4l3.5-.3-1.2 .1-3.5 .3zM198.4 155.4l3.4-.2-1.5-.4-3.3 .3zM202.1 155.5l3.3-.3-1.4-.3-3.3 .3zM205.7 155.4l3.4-.2-1.4-.3-3.4 .3zM209.3 155.4l3.5-.3-1.4-.2-3.4 .3z"/>
<path color="#3479fd" d="M86.1 134.2l2.3-.3-2.6-1.6-2.3 .4zM112.4 142.4l2.5-.4-2.3-1.4-2.5 .4zM117.9 143.8l2.6-.4-2.3-1.4-2.5 .5zM123.4 145.2l2.7-.5-2.2-1.3-2.7 .5zM128.9 146.5l2.7-.5-2.1-1.2-2.7 .4zM143.4 149.4l2.9-.5-2-1.1-2.8 .4zM170.5 153.3l3.2-.4-1.7-.8-3.2 .4zM186.8 154.6l3.3-.3-1.6-.6-3.2 .3zM227.4 154.5l3.5-.3-1.2-.1-3.6 .4z"/>
<path color="#3f6efe" d="M105 137.8l2.5-.4-2.4-1.5-2.5 .4zM190.6 153.7l3.3-.4-1.6-.7-3.3 .4z"/>
<path color="#307efc" d="M80.6 133.2l2.2-.3-2.6-1.6-2.2 .3zM88.2 135.9l2.3-.4-2.6-1.5-2.2 .3zM101.3 140l2.4-.4-2.5-1.4-2.3 .4zM169.9 153.7l3.1-.3-1.6-.8-3.1 .3z"/>
<path color="#3c72ff" d="M99.3 137l2.4-.4-2.5-1.5-2.4 .4zM112.5 140.9l2.6-.4-2.4-1.4-2.5 .4zM118.2 142.4l2.6-.4-2.3-1.4-2.6 .4zM129.3 145.2l2.8-.5-2.2-1.3-2.7 .5zM134.9 146.4l2.8-.4-2.1-1.3-2.8 .5zM140.4 147.6l2.8-.4-2-1.2-2.9 .4zM155 150.3l3.1-.5-1.9-1-3 .4zM164.2 151.6l3.1-.4-1.8-.9-3.1 .4zM177.1 153l3.2-.3-1.7-.8-3.2 .4zM189.8 154.1l3.3-.4-1.6-.6-3.2 .4zM193.6 154.3l3.3-.4-1.6-.6-3.3 .4zM231 154.2l3.6-.4-1.4-.2-3.5 .4z"/>
<path color="#2f82fa" d="M75.2 132.1l2.1-.3-2.7-1.6-2 .3zM82.8 134.8l2.2-.3-2.7-1.5-2.1 .3zM90.3 137.4l2.2-.3-2.5-1.5-2.2 .3zM103.2 141.4l2.3-.3-2.4-1.4-2.3 .3zM108.7 142.9l2.4-.3-2.4-1.4-2.4 .4zM114.1 144.4l2.5-.4-2.3-1.4-2.5 .4zM119.5 145.7l2.5-.4-2.2-1.3-2.5 .4zM139.1 149.9l2.8-.4-1.9-1.1-2.8 .4zM148 151.4l2.9-.4-1.8-1-2.9 .4zM156.9 152.6l3-.3-1.8-.9-3 .4zM169.3 154l3.1-.3-1.6-.7-3.1 .3zM188.9 155.3l3.3-.2-1.5-.4-3.3 .2zM192.5 155.4l3.3-.2-1.4-.4-3.3 .3zM196.2 155.5l3.3-.2-1.4-.4-3.4 .3zM214.3 155.3l3.4-.2-1.3-.1-3.4 .2zM207 155.5l3.4-.2-1.3-.2-3.4 .2zM210.7 155.4l3.4-.2-1.4-.1-3.4 .2z"/>
<path color="#327cfc" d="M84.4 134.1l2.2-.3-2.6-1.5-2.3 .3zM91.9 136.8l2.3-.4-2.5-1.5-2.3 .4zM105 140.8l2.4-.4-2.4-1.4-2.4 .4zM110.5 142.3l2.5-.4-2.4-1.4-2.4 .4zM116 143.8l2.6-.4-2.3-1.4-2.5 .4zM121.5 145.1l2.6-.4-2.2-1.3-2.6 .4zM127 146.4l2.6-.4-2.1-1.2-2.7 .4zM141.4 149.4l2.9-.4-2-1.2-2.8 .5zM155.8 151.8l3-.4-1.9-.9-3 .3zM168.4 153.3l3.1-.3-1.7-.8-3.1 .3zM180.9 154.5l3.2-.3-1.5-.7-3.3 .3zM184.6 154.7l3.2-.3-1.5-.6-3.3 .3zM228.7 154.5l3.5-.3-1.3 0-3.5 .3z"/>
<path color="#3d70ff" d="M103.1 137.8l2.5-.4-2.5-1.5-2.5 .4zM116.3 141.7l2.6-.5-2.3-1.3-2.6 .4zM122 143.1l2.6-.4-2.2-1.4-2.7 .5zM127.5 144.5l2.8-.5-2.2-1.3-2.7 .5zM133.1 145.8l2.8-.5-2.1-1.2-2.8 .4zM153.4 149.7l3-.4-1.9-1.1-3 .5zM162.6 151.1l3.1-.4-1.9-1-3 .5zM260.9 151.2l3.7-.5-1.1 .2-3.7 .5zM171.7 152.3l3.2-.4-1.8-.8-3.1 .4zM250.9 152.4l3.7-.4-1.2 0-3.7 .5zM188.3 153.8l3.3-.4-1.6-.7-3.3 .4zM237.2 153.7l3.6-.4-1.3-.1-3.6 .4z"/>
<path color="#4853f4" d="M180.7 147.5l3.3-.6-1.9-1.1-3.3 .6z"/>
<path color="#2f80fb" d="M78.9 133.1l2.1-.3-2.6-1.6-2.1 .3zM86.5 135.8l2.2-.4-2.6-1.5-2.2 .4zM99.5 139.9l2.3-.3-2.5-1.5-2.3 .4zM105 141.5l2.4-.4-2.4-1.4-2.4 .4zM110.5 143l2.4-.4-2.3-1.4-2.4 .4zM121.4 145.8l2.6-.4-2.3-1.3-2.5 .4zM126.8 147l2.6-.4-2.1-1.2-2.7 .4zM141.1 149.9l2.8-.4-1.9-1.1-2.8 .4zM158.9 152.6l3.1-.3-1.8-.9-3 .4zM187.5 155.1l3.3-.2-1.5-.5-3.3 .3zM191.1 155.3l3.3-.3-1.4-.4-3.3 .2zM220.2 155l3.5-.2-1.3-.1-3.4 .3zM216.6 155.2l3.5-.3-1.3-.1-3.5 .3z"/>
<path color="#3f6fff" d="M106.9 138.6l2.5-.4-2.4-1.5-2.5 .5zM161 150.6l3-.4-1.8-1-3.1 .4zM170.1 151.9l3.2-.4-1.8-.9-3.1 .4zM183 153.2l3.3-.4-1.7-.7-3.2 .4zM243.4 153.2l3.7-.5-1.3-.1-3.6 .5zM203.4 154.4l3.4-.4-1.5-.5-3.4 .4zM207.2 154.5l3.4-.4-1.5-.5-3.4 .4zM222.2 154.4l3.5-.4-1.4-.3-3.5 .4z"/>
<path color="#3974ff" d="M97.4 136.9l2.4-.4-2.5-1.5-2.4 .4zM110.6 140.9l2.5-.4-2.3-1.4-2.5 .4zM116.2 142.4l2.6-.4-2.3-1.4-2.6 .4zM132.9 146.5l2.7-.5-2.1-1.2-2.8 .4zM174.9 153.1l3.1-.3-1.6-.8-3.2 .3zM245.9 153l3.6-.4-1.2 0-3.6 .5zM232.3 154.1l3.5-.3-1.3-.1-3.5 .4z"/>
<path color="#2e84f9" d="M73.6 132l2-.3-2.7-1.6-2 .3zM81.1 134.7l2.1-.3-2.6-1.5-2.1 .3zM94.1 139l2.2-.3-2.5-1.5-2.2 .4zM131.9 148.8l2.7-.4-2-1.2-2.7 .4zM158.4 153l3.1-.3-1.7-.8-3.1 .3zM170.8 154.3l3.2-.2-1.6-.7-3.2 .3zM190.3 155.5l3.3-.2-1.4-.4-3.3 .2zM193.9 155.6l3.3-.2-1.4-.4-3.3 .2zM197.5 155.6l3.4-.2-1.4-.3-3.4 .2zM201.1 155.6l3.4-.2-1.4-.2-3.3 .2zM204.7 155.6l3.4-.2-1.3-.2-3.4 .2zM208.3 155.5l3.4-.2-1.3-.1-3.4 .2z"/>
<path color="#307efb" d="M82.6 134.1l2.2-.4-2.7-1.5-2.1 .3zM95.7 138.4l2.3-.4-2.5-1.5-2.3 .4zM108.7 142.3l2.4-.4-2.4-1.4-2.4 .4zM114.2 143.7l2.5-.4-2.4-1.3-2.4 .4zM119.6 145.1l2.6-.4-2.3-1.3-2.5 .4zM125 146.4l2.7-.4-2.2-1.2-2.6 .4zM134.1 148.3l2.7-.5-2-1.1-2.8 .4zM139.4 149.4l2.8-.4-1.9-1.2-2.8 .4zM148.4 150.9l2.9-.4-1.8-1-3 .4zM157.4 152.2l3-.3-1.8-.9-3 .3zM166.2 153.4l3.1-.4-1.6-.8-3.1 .4zM182.4 154.7l3.2-.3-1.5-.5-3.3 .3zM186 154.9l3.3-.3-1.5-.5-3.3 .3zM226.3 154.7l3.5-.3-1.3 0-3.5 .3zM222.6 154.9l3.5-.3-1.3-.1-3.5 .3z"/>
<path color="#3579fd" d="M91.8 136l2.3-.4-2.5-1.5-2.3 .4zM99.4 138.5l2.3-.4-2.4-1.5-2.4 .4zM105 140.1l2.4-.4-2.4-1.4-2.4 .4zM138 148.3l2.9-.5-2.1-1.1-2.8 .4zM152.5 150.9l3-.4-1.9-1.1-3 .4zM161.5 152.2l3.1-.4-1.8-.9-3 .4zM174.2 153.6l3.2-.4-1.7-.7-3.1 .3zM240.9 153.5l3.6-.4-1.2 .1-3.6 .4zM190.5 154.8l3.3-.4-1.5-.5-3.3 .3zM194.2 154.9l3.3-.3-1.5-.5-3.3 .3zM223.7 154.7l3.5-.3-1.3-.1-3.5 .3z"/>
<path color="#3b73ff" d="M101.2 137.8l2.4-.4-2.4-1.5-2.5 .4zM114.4 141.7l2.6-.4-2.4-1.4-2.5 .4zM120 143.1l2.6-.4-2.2-1.4-2.7 .5zM125.6 144.5l2.6-.4-2.2-1.3-2.6 .4zM131.1 145.8l2.8-.4-2.2-1.3-2.7 .5zM136.6 147.1l2.8-.5-2.1-1.2-2.8 .4zM151.3 149.8l3-.4-2-1.1-2.9 .4zM160.4 151.2l3.1-.4-1.8-1-3.1 .4zM169.5 152.4l3.2-.4-1.8-.8-3.1 .3zM252.1 152.3l3.6-.4-1.1 .1-3.7 .4zM182.3 153.7l3.3-.4-1.7-.7-3.2 .4zM238.5 153.7l3.5-.4-1.2-.1-3.6 .4zM210 154.8l3.4-.3-1.4-.4-3.5 .3zM213.7 154.8l3.4-.3-1.4-.4-3.4 .4z"/>
<path color="#2f82f9" d="M77.2 133l2.1-.3-2.7-1.6-2.1 .3zM84.8 135.7l2.1-.3-2.6-1.5-2.2 .3zM97.7 139.9l2.3-.4-2.5-1.4-2.2 .3zM124.9 147l2.6-.4-2.2-1.2-2.6 .4zM165.7 153.7l3.1-.3-1.7-.7-3.1 .3zM181.7 155l3.2-.2-1.5-.5-3.3 .2zM185.3 155.2l3.2-.2-1.4-.5-3.3 .2zM217.9 155.2l3.4-.3-1.2 0-3.5 .2z"/>
<path color="#2e86f7" d="M71.9 131.9l2-.3-2.7-1.6-2 .3zM79.5 134.6l2-.3-2.7-1.5-2 .3zM86.9 137.2l2.1-.3-2.6-1.4-2.1 .3zM92.4 138.9l2.2-.3-2.6-1.4-2.2 .3zM105.1 142.8l2.3-.4-2.4-1.3-2.3 .3zM110.5 144.2l2.4-.3-2.4-1.4-2.3 .4zM130 148.7l2.7-.3-2.1-1.2-2.6 .4zM144.1 151.3l2.8-.3-1.9-1-2.8 .3zM156.4 153l3-.3-1.7-.8-3 .3zM165.1 154.1l3.1-.3-1.6-.7-3.1 .3zM168.7 154.4l3.1-.3-1.6-.6-3.1 .2zM184.5 155.4l3.3-.2-1.5-.4-3.2 .2zM188.1 155.5l3.3-.2-1.4-.3-3.3 .2zM191.7 155.6l3.3-.2-1.4-.3-3.3 .2zM195.3 155.7l3.3-.2-1.4-.3-3.3 .2zM198.9 155.7l3.3-.2-1.3-.2-3.4 .2zM202.5 155.7l3.3-.2-1.3-.2-3.4 .2zM209.6 155.5l3.4-.2-1.3 0-3.4 .2zM206.1 155.6l3.3-.2-1.3-.1-3.4 .2z"/>
<path color="#2f81fa" d="M80.9 134l2.1-.3-2.6-1.6-2.2 .3zM88.4 136.6l2.2-.3-2.6-1.5-2.2 .3zM95.9 139.1l2.2-.4-2.5-1.4-2.2 .3zM101.4 140.7l2.3-.4-2.5-1.4-2.3 .4zM106.9 142.2l2.3-.3-2.3-1.4-2.4 .3zM112.3 143.7l2.5-.4-2.4-1.4-2.4 .4zM117.7 145.1l2.6-.4-2.3-1.3-2.5 .4zM123.1 146.4l2.6-.4-2.2-1.3-2.5 .4zM128.5 147.6l2.7-.4-2.2-1.2-2.6 .4zM133.8 148.8l2.8-.4-2.1-1.2-2.7 .4zM137.5 149.4l2.7-.4-1.9-1.2-2.8 .4zM142.8 150.4l2.8-.4-1.9-1-2.9 .3zM151.7 151.8l2.9-.3-1.8-1-3 .4zM160.5 153l3.1-.3-1.8-.8-3 .3zM164.1 153.4l3.1-.3-1.7-.8-3 .3zM172.9 154.3l3.2-.3-1.6-.6-3.2 .3zM176.6 154.6l3.2-.3-1.6-.6-3.2 .3zM227.5 154.6l3.5-.3-1.2 .1-3.5 .2zM199.8 155.5l3.3-.2-1.4-.3-3.3 .3zM203.4 155.5l3.4-.2-1.4-.2-3.4 .2z"/>
<path color="#3875fe" d="M99.3 137.7l2.4-.4-2.4-1.4-2.5 .4zM118 143.1l2.6-.4-2.2-1.4-2.6 .5zM123.6 144.5l2.6-.4-2.2-1.3-2.6 .4zM129.1 145.8l2.7-.4-2.1-1.3-2.7 .5zM158.3 151.3l3.1-.4-1.9-1-3 .4zM249.6 152.6l3.6-.4-1.2 .1-3.6 .4z"/>
<path color="#2e85f8" d="M75.5 132.9l2.1-.3-2.7-1.5-2 .2zM77.5 133.8l2-.3-2.6-1.6-2.1 .3zM83.1 135.6l2.1-.3-2.7-1.5-2.1 .3zM85 136.4l2.1-.3-2.6-1.5-2.1 .3zM90.5 138.1l2.2-.3-2.6-1.5-2.2 .4zM96 139.8l2.2-.3-2.5-1.5-2.2 .3zM103.3 142.1l2.3-.4-2.5-1.4-2.2 .4zM108.7 143.6l2.4-.4-2.4-1.4-2.4 .4zM114.1 145l2.4-.4-2.3-1.3-2.4 .4zM119.4 146.3l2.5-.4-2.2-1.3-2.5 .4zM128.3 148.2l2.7-.4-2.1-1.2-2.7 .4zM133.6 149.3l2.7-.4-2-1.1-2.7 .4zM142.4 150.9l2.9-.4-1.9-1-2.9 .3zM151.2 152.2l3-.3-1.8-.9-2.9 .3zM160 153.4l3-.3-1.6-.8-3.1 .3zM163.6 153.7l3.1-.2-1.7-.8-3.1 .3zM175.9 154.9l3.2-.3-1.6-.5-3.1 .2zM179.5 155.1l3.2-.3-1.5-.5-3.2 .3zM219.1 155.1l3.5-.2-1.3 0-3.4 .2z"/>
<path color="#2d88f6" d="M70.3 131.7l2-.2-2.8-1.6-1.9 .3zM75.9 133.6l2-.2-2.7-1.6-2 .3zM77.8 134.5l2-.3-2.7-1.5-2 .3zM83.3 136.3l2.1-.3-2.7-1.5-2 .3zM90.7 138.8l2.1-.3-2.6-1.4-2.1 .3zM96.1 140.5l2.2-.4-2.5-1.4-2.2 .3zM101.5 142l2.3-.3-2.5-1.4-2.2 .3zM106.9 143.5l2.3-.4-2.4-1.3-2.3 .3zM112.3 144.9l2.4-.4-2.4-1.3-2.3 .4zM117.6 146.2l2.5-.3-2.3-1.3-2.4 .4zM122.9 147.5l2.5-.4-2.1-1.2-2.6 .4zM128.1 148.7l2.7-.4-2.1-1.2-2.6 .4zM136.9 150.3l2.8-.3-2-1.1-2.7 .4zM145.7 151.8l2.8-.3-1.8-1-2.9 .3zM154.4 153l3-.3-1.8-.8-2.9 .3zM158 153.4l3-.3-1.7-.8-3 .3zM166.6 154.4l3.1-.3-1.6-.6-3.1 .2zM170.2 154.6l3.1-.2-1.5-.6-3.2 .2zM189.5 155.7l3.3-.2-1.4-.3-3.3 .2zM193.1 155.7l3.3-.1-1.4-.3-3.3 .2zM196.6 155.8l3.4-.2-1.4-.2-3.3 .1zM200.2 155.7l3.4-.1-1.4-.2-3.3 .2zM203.8 155.7l3.4-.2-1.4-.1-3.3 .2z"/>
<path color="#347afd" d="M93.7 136.8l2.4-.3-2.6-1.5-2.3 .3zM101.3 139.3l2.3-.4-2.4-1.5-2.4 .4zM106.8 140.9l2.5-.4-2.4-1.5-2.4 .4zM134.3 147.7l2.8-.4-2.1-1.2-2.7 .4zM148.8 150.4l2.9-.4-1.9-1.1-2.9 .4zM157.8 151.8l3.1-.4-1.8-1-3.1 .4zM166.8 152.9l3.1-.3-1.7-.8-3.1 .3zM179.4 154.2l3.2-.4-1.6-.6-3.2 .3zM183.1 154.4l3.3-.3-1.6-.7-3.3 .4zM231.1 154.3l3.5-.3-1.2 0-3.6 .3z"/>
<path color="#2e83f9" d="M79.2 133.9l2.1-.3-2.7-1.6-2.1 .3zM86.7 136.5l2.1-.3-2.6-1.5-2.1 .3zM92.2 138.2l2.2-.3-2.5-1.5-2.2 .4zM99.6 140.6l2.3-.3-2.5-1.5-2.3 .4zM105.1 142.2l2.3-.4-2.4-1.4-2.3 .4zM110.5 143.6l2.4-.3-2.3-1.4-2.4 .4zM115.9 145l2.5-.4-2.3-1.3-2.5 .4zM121.3 146.4l2.5-.4-2.2-1.3-2.5 .4zM126.6 147.6l2.6-.4-2.1-1.2-2.6 .4zM135.5 149.3l2.8-.3-2-1.2-2.8 .4zM140.8 150.4l2.8-.4-1.9-1-2.8 .3zM144.4 150.9l2.9-.4-1.9-1-2.9 .4zM149.6 151.8l3-.3-1.9-1-2.9 .4zM153.3 152.2l2.9-.3-1.8-.9-2.9 .3zM162.1 153.4l3-.3-1.7-.8-3 .3zM174.4 154.6l3.2-.3-1.6-.6-3.1 .3zM178 154.8l3.2-.2-1.5-.6-3.2 .3zM225.1 154.7l3.5-.2-1.2 .1-3.5 .2zM221.5 155l3.5-.3-1.3 0-3.5 .3z"/>
<path color="#3678fd" d="M97.5 137.7l2.3-.4-2.5-1.5-2.3 .4zM116.1 143.1l2.6-.4-2.3-1.4-2.6 .4zM121.7 144.5l2.6-.4-2.3-1.3-2.6 .4zM127.1 145.8l2.7-.4-2.1-1.3-2.7 .5zM156.2 151.3l3-.4-1.8-1-3 .4zM165.2 152.5l3.1-.3-1.7-.9-3.1 .4zM177.9 153.8l3.2-.3-1.6-.7-3.2 .3zM237.2 153.8l3.6-.3-1.3 0-3.5 .3zM201.6 155.1l3.4-.3-1.5-.5-3.4 .4zM205.3 155.1l3.4-.3-1.4-.4-3.4 .3zM209 155.1l3.4-.3-1.4-.3-3.4 .3zM212.7 155.1l3.4-.3-1.4-.3-3.4 .3z"/>
<path color="#2e87f7" d="M73.9 132.8l2-.3-2.7-1.5-2 .2zM81.4 135.5l2-.3-2.6-1.5-2.1 .3zM94.3 139.7l2.1-.3-2.5-1.5-2.2 .4zM99.7 141.3l2.2-.4-2.4-1.4-2.3 .4zM115.8 145.6l2.5-.4-2.3-1.3-2.4 .4zM121.2 146.9l2.5-.4-2.2-1.2-2.5 .4zM126.5 148.1l2.5-.3-2.1-1.2-2.6 .3zM135.3 149.8l2.7-.3-2-1.1-2.7 .3zM152.8 152.6l3-.3-1.8-.8-2.9 .3zM161.5 153.7l3.1-.2-1.7-.8-3 .3zM177.4 155.1l3.2-.2-1.6-.5-3.2 .2zM180.9 155.3l3.3-.2-1.5-.5-3.2 .2zM216.8 155.2l3.4-.2-1.2 .1-3.5 .2zM213.2 155.4l3.4-.2-1.2 0-3.5 .2z"/>
<path color="#2d8bf4" d="M68.7 131.6l1.9-.2-2.7-1.6-1.9 .2zM70.7 132.5l1.9-.2-2.7-1.6-1.9 .3zM76.2 134.4l2-.3-2.8-1.5-1.9 .3zM83.6 137l2-.3-2.6-1.4-2 .2zM90.9 139.5l2.1-.3-2.6-1.4-2.1 .3zM96.3 141.1l2.1-.3-2.5-1.4-2.1 .3zM101.7 142.6l2.2-.3-2.5-1.4-2.2 .4zM107 144.1l2.2-.4-2.3-1.3-2.3 .3zM112.3 145.5l2.3-.4-2.3-1.3-2.3 .4zM117.5 146.8l2.5-.4-2.3-1.2-2.4 .3zM126.3 148.6l2.6-.3-2.1-1.2-2.6 .4zM131.5 149.7l2.6-.3-2-1.1-2.6 .3zM140.2 151.3l2.8-.4-1.9-1-2.8 .4zM148.8 152.6l3-.3-1.8-.9-2.9 .3zM152.4 153l2.9-.3-1.7-.8-2.9 .3zM161 154l3.1-.2-1.7-.7-3 .3zM164.6 154.4l3-.3-1.5-.6-3.1 .2zM176.7 155.3l3.2-.2-1.5-.4-3.2 .2zM180.2 155.5l3.2-.2-1.4-.4-3.2 .2zM183.8 155.6l3.2-.2-1.4-.3-3.3 .2zM187.3 155.7l3.3-.1-1.4-.4-3.3 .2zM190.9 155.8l3.3-.2-1.4-.2-3.3 .1zM194.4 155.8l3.3-.1-1.3-.2-3.3 .1zM198 155.8l3.3-.1-1.3-.2-3.4 .2zM201.5 155.8l3.4-.2-1.3-.1-3.4 .2zM208.6 155.6l3.4-.2-1.3 0-3.4 .2zM205.1 155.7l3.3-.2-1.3 0-3.3 .1z"/>
<path color="#3776fe" d="M101.2 138.5l2.4-.4-2.4-1.4-2.4 .4zM154.6 150.8l3-.4-1.9-1-3 .4zM163.7 152.1l3-.4-1.7-.9-3.1 .4zM192.8 154.7l3.3-.4-1.5-.5-3.4 .3zM226.1 154.6l3.6-.4-1.3-.1-3.6 .3z"/>
<path color="#2d89f5" d="M72.3 132.6l1.9-.2-2.7-1.5-1.9 .2zM79.8 135.4l2-.3-2.7-1.5-2 .2zM92.6 139.6l2.1-.3-2.6-1.4-2.1 .3zM98 141.2l2.2-.3-2.5-1.4-2.2 .3zM119.3 146.9l2.5-.4-2.2-1.3-2.5 .4zM124.6 148.1l2.6-.4-2.2-1.2-2.5 .4zM133.4 149.8l2.7-.4-2-1.1-2.7 .4zM150.8 152.6l3-.3-1.8-.9-2.9 .4zM159.5 153.7l3-.2-1.6-.8-3.1 .3zM175.2 155.1l3.2-.2-1.5-.5-3.2 .2zM178.8 155.3l3.2-.2-1.5-.5-3.2 .2zM214.5 155.3l3.4-.2-1.3 .1-3.4 .2z"/>
<path color="#337bfd" d="M95.6 137.6l2.4-.3-2.5-1.5-2.4 .4zM108.7 141.6l2.4-.4-2.3-1.4-2.5 .4zM114.2 143.1l2.5-.4-2.3-1.4-2.5 .4zM119.7 144.5l2.6-.4-2.2-1.4-2.6 .5zM125.2 145.8l2.6-.4-2.1-1.3-2.7 .4zM145.1 149.9l2.9-.4-1.9-1.1-2.9 .4zM154.1 151.3l3-.4-1.8-.9-3 .4zM163.1 152.6l3.1-.4-1.7-.8-3.1 .3zM175.7 153.9l3.2-.3-1.6-.7-3.2 .3zM195.6 155.1l3.4-.3-1.5-.4-3.3 .3zM199.3 155.2l3.4-.3-1.5-.4-3.3 .3zM214 155.1l3.5-.2-1.4-.3-3.4 .3z"/>
<path color="#2d8df2" d="M67.2 131.5l1.8-.2-2.8-1.6-1.8 .2zM69.2 132.4l1.8-.2-2.8-1.6-1.8 .2zM74.6 134.2l1.9-.2-2.7-1.5-1.9 .2zM82 136.9l1.9-.3-2.6-1.4-2 .2zM87.4 138.6l2-.3-2.6-1.4-2 .3zM94.6 141l2.1-.3-2.5-1.4-2.1 .3zM100 142.5l2.1-.3-2.5-1.4-2.1 .4zM105.3 144l2.2-.3-2.4-1.4-2.2 .4zM110.5 145.4l2.3-.4-2.3-1.3-2.3 .4zM119.3 147.4l2.4-.4-2.2-1.2-2.4 .3zM124.5 148.6l2.5-.4-2.1-1.2-2.5 .4zM129.6 149.7l2.7-.4-2.1-1.1-2.6 .4zM133.1 150.2l2.7-.3-2-1.1-2.6 .4zM138.3 151.2l2.7-.3-1.9-1-2.7 .3zM141.8 151.7l2.8-.3-1.8-1-2.9 .3zM146.9 152.6l2.9-.3-1.8-.9-2.9 .3zM150.4 153l2.9-.3-1.7-.8-2.9 .2zM159 154l3-.2-1.6-.7-3 .2zM162.5 154.3l3.1-.2-1.6-.6-3.1 .2zM178.1 155.5l3.2-.2-1.5-.4-3.2 .2zM181.6 155.6l3.2-.1-1.4-.4-3.2 .2zM185.2 155.7l3.2-.1-1.4-.3-3.3 .1zM188.7 155.8l3.3-.1-1.4-.3-3.3 .2zM192.2 155.8l3.3-.1-1.3-.2-3.3 .2zM195.8 155.8l3.3-.1-1.4-.1-3.3 .1zM199.3 155.8l3.3-.1-1.3-.1-3.3 .1zM202.8 155.7l3.4-.1-1.3 0-3.4 .1zM206.3 155.6l3.4-.1-1.3 0-3.3 .2z"/>
<path color="#3677fe" d="M103.1 139.3l2.4-.4-2.4-1.4-2.4 .4zM136.3 147.7l2.8-.5-2-1.2-2.8 .5zM150.9 150.4l2.9-.5-1.9-1-2.9 .4zM169 152.9l3.1-.4-1.7-.8-3.2 .4zM247.1 152.9l3.6-.4-1.2 .1-3.6 .4zM233.5 154.1l3.6-.3-1.3-.1-3.5 .4z"/>
<path color="#2c8ff0" d="M65.7 131.3l1.7-.2-2.7-1.5-1.8 .2zM80.4 136.7l1.9-.2-2.7-1.4-1.9 .2zM98.3 142.4l2.1-.3-2.5-1.4-2.1 .3zM103.6 143.9l2.1-.3-2.4-1.4-2.2 .4zM122.7 148.5l2.5-.4-2.2-1.2-2.5 .4zM148.5 152.9l2.9-.2-1.8-.9-2.9 .3zM160.5 154.3l3-.2-1.6-.6-3 .2zM179.5 155.6l3.2-.1-1.4-.3-3.2 .1zM183 155.7l3.2-.1-1.4-.3-3.2 .2zM186.5 155.8l3.3-.1-1.4-.2-3.3 .1zM190 155.9l3.3-.1-1.3-.2-3.3 .1zM193.6 155.9l3.3-.1-1.4-.2-3.3 .1zM197.1 155.9l3.3-.1-1.3-.1-3.3 .1zM200.6 155.8l3.3-.1-1.3 0-3.3 .1zM204.1 155.7l3.3-.1-1.2 0-3.4 .1z"/>
<path color="#2d8af5" d="M74.3 133.5l1.9-.2-2.7-1.6-2 .3zM81.7 136.2l2-.3-2.7-1.5-2 .3zM87.1 137.9l2.1-.3-2.6-1.4-2.1 .3zM94.4 140.4l2.2-.4-2.6-1.4-2.1 .3zM99.8 141.9l2.2-.3-2.5-1.4-2.1 .3zM105.2 143.4l2.2-.3-2.4-1.4-2.2 .4zM110.5 144.8l2.3-.3-2.3-1.4-2.3 .4zM115.8 146.2l2.4-.4-2.3-1.3-2.4 .4zM129.8 149.2l2.7-.3-2.1-1.2-2.6 .4zM138.6 150.8l2.7-.3-1.9-1.1-2.8 .4zM147.3 152.2l2.9-.3-1.8-.9-2.9 .3zM155.9 153.4l3-.3-1.7-.8-3 .3zM168.1 154.6l3.1-.2-1.5-.6-3.2 .2zM171.7 154.9l3.1-.2-1.5-.6-3.2 .2z"/>
<path color="#327bfc" d="M97.5 138.4l2.4-.3-2.5-1.5-2.3 .4zM136.1 148.3l2.7-.5-2-1.1-2.8 .4zM150.5 150.9l2.9-.4-1.9-1-2.9 .4zM159.4 152.2l3.1-.4-1.8-.9-3 .4zM172 153.6l3.2-.3-1.6-.8-3.2 .4zM188.3 154.8l3.2-.3-1.5-.5-3.3 .3zM225 154.7l3.5-.3-1.3-.1-3.5 .4z"/>
<path color="#4757f8" d="M191.3 149.9l3.3-.5-1.7-1-3.4 .6zM248.4 151.1l3.6-.6-1.4-.5-3.6 .7z"/>
<path color="#2b91ef" d="M64.2 131.1l1.7-.1-2.8-1.5-1.7 .1zM71.5 133.9l1.8-.1-2.7-1.5-1.8 .2zM78.9 136.6l1.8-.2-2.7-1.5-1.8 .2zM84.2 138.3l1.9-.2-2.6-1.4-1.9 .2zM89.5 140l2-.3-2.6-1.4-2 .3zM110.6 145.9l2.2-.3-2.3-1.3-2.3 .3zM115.8 147.2l2.3-.3-2.3-1.3-2.3 .4zM120.9 148.4l2.4-.3-2.1-1.2-2.5 .3zM129.5 150.1l2.6-.3-2.1-1.1-2.5 .3zM138 151.6l2.8-.3-1.9-1-2.8 .3zM146.5 152.9l2.9-.3-1.7-.8-2.9 .2zM150 153.3l2.9-.3-1.7-.8-2.9 .3zM158.5 154.3l3-.2-1.6-.6-3 .1zM162 154.6l3-.2-1.5-.6-3.1 .2zM180.9 155.7l3.2-.1-1.4-.2-3.2 .1zM184.4 155.8l3.2-.1-1.4-.2-3.2 .1zM187.9 155.9l3.2-.1-1.3-.2-3.3 .1zM191.4 155.9l3.3-.1-1.4-.1-3.3 .1zM194.9 155.9l3.3-.1-1.3-.1-3.3 .1zM198.4 155.8l3.3 0-1.3-.1-3.3 .1z"/>
<path color="#2f7ffb" d="M92.1 137.5l2.2-.3-2.5-1.5-2.3 .3zM116 144.4l2.5-.4-2.3-1.3-2.5 .4zM150 151.4l3-.4-1.9-1-2.9 .4zM171.4 154l3.2-.3-1.6-.7-3.2 .3zM194.8 155.4l3.3-.3-1.4-.4-3.4 .3zM213 155.3l3.4-.2-1.3-.2-3.4 .3z"/>
<path color="#2d8cf3" d="M72.7 133.4l1.9-.2-2.8-1.6-1.9 .3zM80.1 136.1l1.9-.3-2.7-1.5-1.9 .3zM85.5 137.8l2-.3-2.6-1.4-2 .3zM92.8 140.2l2.1-.3-2.6-1.4-2.1 .3zM98.1 141.8l2.2-.3-2.5-1.4-2.2 .3zM103.5 143.3l2.2-.3-2.5-1.4-2.2 .4zM108.8 144.7l2.2-.3-2.3-1.3-2.3 .3zM114 146.1l2.4-.4-2.3-1.2-2.3 .3zM122.8 148l2.5-.4-2.2-1.2-2.5 .4zM128 149.2l2.6-.4-2.1-1.1-2.6 .3zM136.7 150.8l2.7-.4-1.9-1-2.8 .3zM145.3 152.2l2.9-.3-1.8-1-2.9 .3zM153.9 153.4l3-.3-1.7-.8-3 .3zM157.5 153.7l3-.2-1.7-.8-3 .3zM166 154.6l3.1-.2-1.5-.6-3.1 .2zM169.6 154.9l3.1-.2-1.5-.6-3.2 .2zM173.1 155.1l3.2-.2-1.5-.5-3.2 .2z"/>
<path color="#2c90f0" d="M67.6 132.2l1.8-.2-2.8-1.5-1.7 .2zM75 134.9l1.9-.2-2.8-1.4-1.8 .2zM82.3 137.5l1.9-.2-2.6-1.4-2 .2zM87.7 139.2l1.9-.2-2.6-1.4-2 .2zM93 140.9l2-.3-2.5-1.4-2.1 .3zM108.8 145.3l2.3-.4-2.4-1.3-2.2 .4zM114 146.6l2.4-.3-2.3-1.3-2.3 .4zM119.2 147.9l2.4-.4-2.2-1.2-2.4 .3zM127.8 149.6l2.6-.3-2.1-1.2-2.5 .4zM136.4 151.2l2.7-.4-1.9-1-2.7 .4zM145 152.5l2.8-.3-1.8-.9-2.8 .3zM153.5 153.6l3-.2-1.7-.7-3 .2zM157 154l3-.2-1.6-.7-3 .2zM169 155.1l3.1-.2-1.5-.5-3.1 .2zM172.5 155.3l3.1-.1-1.4-.5-3.2 .2zM176 155.5l3.2-.2-1.5-.3-3.2 .1z"/>
<path color="#2a93ed" d="M62.7 131l1.7-.2-2.8-1.5-1.7 .1zM70.1 133.8l1.7-.2-2.8-1.5-1.7 .2zM114.1 147.1l2.2-.3-2.3-1.3-2.2 .4zM127.7 150l2.5-.3-2-1.1-2.6 .3zM136.2 151.5l2.7-.3-1.9-1-2.7 .3zM160 154.5l3-.1-1.5-.6-3.1 .2z"/>
<path color="#2d8ef1" d="M71.1 133.2l1.9-.2-2.8-1.5-1.8 .2zM78.5 135.9l1.9-.2-2.7-1.5-1.9 .2zM83.9 137.7l2-.3-2.7-1.4-2 .2zM96.5 141.7l2.1-.3-2.6-1.4-2 .3zM101.8 143.2l2.1-.3-2.4-1.4-2.2 .4zM107.1 144.6l2.2-.3-2.4-1.3-2.2 .3zM121 147.9l2.4-.3-2.1-1.2-2.5 .3zM126.2 149.1l2.5-.4-2.1-1.1-2.5 .3zM134.8 150.7l2.7-.3-2-1.1-2.7 .4zM143.4 152.1l2.8-.3-1.8-.9-2.8 .3zM152 153.3l2.9-.2-1.7-.8-2.9 .2zM155.5 153.7l3-.2-1.7-.8-3 .3zM167.5 154.9l3.1-.2-1.5-.5-3.1 .1zM171 155.1l3.2-.2-1.5-.5-3.2 .2z"/>
<path color="#2b92ee" d="M66.1 132l1.8-.1-2.8-1.5-1.8 .1zM73.5 134.8l1.8-.2-2.8-1.5-1.8 .2zM86.1 139.1l1.9-.2-2.6-1.5-2 .3zM91.4 140.7l2-.2-2.6-1.4-2 .2zM107.1 145.2l2.2-.3-2.4-1.3-2.2 .3zM112.3 146.5l2.3-.3-2.3-1.3-2.3 .4zM126 149.5l2.5-.3-2-1.1-2.5 .3zM134.6 151.1l2.6-.3-1.9-1-2.7 .3zM143.1 152.5l2.8-.3-1.8-.9-2.8 .3zM155 153.9l3-.1-1.6-.7-3 .2zM170.4 155.3l3.1-.2-1.4-.4-3.2 .1zM173.9 155.4l3.2-.1-1.5-.3-3.2 .1z"/>
<path color="#2f80fa" d="M94 138.3l2.2-.3-2.5-1.5-2.3 .3zM132.1 148.2l2.7-.4-2-1.1-2.7 .4zM146.4 150.9l2.9-.4-1.9-1-2.9 .4zM155.3 152.2l3-.3-1.8-.9-3 .3zM167.8 153.7l3.1-.3-1.7-.7-3.1 .3zM180.2 154.8l3.2-.3-1.5-.6-3.2 .3zM183.8 155l3.3-.3-1.5-.5-3.3 .3zM223.9 154.8l3.5-.2-1.3 0-3.5 .2z"/>
<path color="#2895ec" d="M61.3 130.8l1.6-.1-2.8-1.5-1.7 .1zM68.6 133.6l1.7-.1-2.8-1.5-1.7 .1zM81.1 138l1.8-.2-2.7-1.4-1.8 .2zM86.4 139.7l1.9-.2-2.7-1.4-1.8 .2zM91.7 141.3l1.9-.2-2.6-1.4-1.9 .2zM96.9 142.8l2-.2-2.6-1.4-2 .3zM102.1 144.3l2-.3-2.4-1.3-2.1 .3zM107.2 145.7l2.2-.3-2.4-1.3-2.2 .3zM112.4 147l2.2-.3-2.3-1.3-2.2 .3zM120.9 148.9l2.3-.4-2.1-1.2-2.4 .4zM129.3 150.5l2.6-.3-2-1.1-2.6 .3zM137.7 151.9l2.8-.2-1.9-1-2.7 .3zM146.2 153.2l2.8-.3-1.7-.8-2.8 .3zM158 154.5l3-.2-1.5-.5-3.1 .1zM161.4 154.8l3.1-.2-1.5-.5-3.1 .1z"/>
<path color="#2e84f8" d="M88.6 137.3l2.2-.3-2.6-1.5-2.2 .3zM101.5 141.4l2.2-.4-2.4-1.4-2.3 .4zM106.9 142.9l2.3-.4-2.4-1.4-2.3 .4zM112.3 144.3l2.4-.4-2.3-1.3-2.4 .4zM117.7 145.7l2.5-.4-2.3-1.3-2.5 .4zM123 147l2.6-.4-2.2-1.3-2.6 .4zM137.2 149.9l2.8-.4-2-1.1-2.8 .4zM146 151.4l2.9-.4-1.8-1-2.9 .4zM154.8 152.6l3-.3-1.7-.8-3 .3zM167.2 154.1l3.1-.3-1.6-.7-3.1 .3zM183.1 155.2l3.2-.2-1.4-.5-3.3 .3zM186.7 155.4l3.3-.2-1.5-.5-3.3 .3zM215.5 155.3l3.5-.2-1.3-.1-3.4 .3zM211.9 155.4l3.5-.2-1.3-.1-3.5 .3z"/>
<path color="#2c90ef" d="M69.6 133.1l1.8-.2-2.8-1.5-1.8 .2zM100.1 143.1l2.1-.3-2.5-1.4-2.1 .4zM132.9 150.7l2.7-.4-2-1-2.6 .3zM141.5 152.1l2.8-.3-1.8-1-2.8 .3z"/>
<path color="#2994ed" d="M64.7 131.9l1.7-.2-2.8-1.5-1.7 .2zM72 134.6l1.7-.1-2.7-1.5-1.8 .2zM79.2 137.2l1.8-.2-2.7-1.4-1.8 .2zM84.5 138.9l1.9-.2-2.7-1.4-1.8 .2zM89.8 140.6l1.9-.3-2.6-1.3-1.9 .2zM95.1 142.1l1.9-.2-2.5-1.4-2 .3zM100.3 143.6l2-.2-2.5-1.4-2 .3zM105.5 145.1l2.1-.3-2.4-1.3-2.1 .3zM110.6 146.4l2.2-.3-2.3-1.3-2.2 .3zM115.8 147.7l2.3-.4-2.3-1.2-2.3 .3zM119.2 148.3l2.3-.3-2.1-1.2-2.4 .3zM124.3 149.5l2.4-.4-2.1-1.1-2.4 .3zM132.7 151l2.7-.3-2-1-2.6 .3zM141.2 152.4l2.8-.3-1.8-.9-2.8 .3zM144.6 152.8l2.9-.2-1.8-.9-2.8 .3zM153 153.9l3-.2-1.6-.7-3 .2zM156.5 154.2l3-.1-1.6-.7-3 .2zM168.4 155.2l3.1-.1-1.5-.4-3.1 .1zM171.8 155.4l3.2-.1-1.5-.3-3.1 .1zM175.3 155.6l3.2-.1-1.4-.3-3.2 .1zM178.8 155.7l3.2-.1-1.4-.2-3.2 .1zM182.3 155.8l3.2-.1-1.4-.2-3.2 .1zM185.7 155.9l3.3-.1-1.4-.1-3.2 0zM189.2 155.9l3.3-.1-1.4-.1-3.2 .1zM192.7 155.9l3.3-.1-1.3 0-3.3 0zM196.2 155.8l3.3 0-1.3 0-3.3 0z"/>
<path color="#2797ea" d="M59.9 130.6l1.6-.1-2.9-1.5-1.6 .1zM67.2 133.4l1.6-.1-2.8-1.4-1.6 .1zM79.6 137.9l1.8-.2-2.7-1.4-1.8 .2zM110.7 146.9l2.2-.3-2.4-1.3-2.1 .3zM144.3 153.1l2.8-.2-1.7-.8-2.8 .2zM159.5 154.7l3-.1-1.5-.5-3.1 .1z"/>
<path color="#2d8bf3" d="M78.1 135.2l2-.2-2.7-1.5-1.9 .2z"/>
<path color="#2c8ff1" d="M73.1 134.1l1.8-.2-2.7-1.5-1.9 .2zM85.8 138.5l1.9-.3-2.6-1.4-1.9 .2zM91.1 140.1l2.1-.3-2.6-1.4-2 .3zM112.3 146l2.3-.3-2.3-1.3-2.3 .3zM117.5 147.3l2.4-.4-2.2-1.2-2.4 .4zM131.3 150.2l2.6-.4-2-1.1-2.6 .4zM139.9 151.7l2.8-.4-1.9-.9-2.8 .3zM164 154.6l3.1-.2-1.6-.6-3.1 .2z"/>
<path color="#2a92ee" d="M68.1 132.9l1.7-.1-2.7-1.5-1.8 .1zM80.8 137.4l1.8-.2-2.7-1.5-1.8 .3zM117.5 147.8l2.3-.4-2.2-1.2-2.3 .4zM151.5 153.6l3-.2-1.7-.8-2.9 .3zM166.9 155l3.1-.1-1.5-.5-3.1 .2z"/>
<path color="#2896ec" d="M63.3 131.7l1.6-.1-2.8-1.5-1.7 .1zM75.8 136.3l1.8-.2-2.7-1.4-1.8 .1zM93.5 142l1.9-.2-2.6-1.4-1.9 .3zM98.7 143.5l2-.3-2.5-1.3-2 .3zM117.5 148.2l2.3-.3-2.2-1.2-2.4 .3zM125.9 149.9l2.5-.3-2.1-1.1-2.4 .3zM134.3 151.5l2.7-.3-1.9-1-2.7 .3zM142.7 152.8l2.9-.3-1.8-.8-2.8 .2zM154.5 154.2l3-.2-1.6-.6-2.9 .1zM180.2 155.8l3.2-.1-1.4-.2-3.2 .1zM183.6 155.9l3.2-.1-1.3-.1-3.2 0zM187.1 155.9l3.2 0-1.3-.1-3.3 0zM190.5 155.9l3.3 0-1.3-.1-3.3 .1zM194 155.9l3.3-.1-1.3 0-3.3 .1z"/>
<path color="#2699e9" d="M58.5 130.4l1.6 0-2.9-1.5-1.5 0zM65.8 133.3l1.6-.1-2.8-1.5-1.6 .1zM71 135.1l1.7-.1-2.8-1.4-1.6 .1zM78.2 137.7l1.7-.2-2.7-1.3-1.7 .1zM83.4 139.4l1.8-.2-2.7-1.4-1.8 .2zM88.6 141l1.8-.2-2.6-1.3-1.9 .2zM93.8 142.5l1.8-.2-2.6-1.3-1.8 .2zM98.9 144l1.9-.2-2.5-1.3-1.9 .2zM104 145.4l2-.3-2.4-1.2-2.1 .2zM112.4 147.4l2.2-.3-2.3-1.2-2.2 .3zM117.5 148.6l2.2-.3-2.2-1.2-2.3 .4zM125.8 150.3l2.5-.3-2.1-1.1-2.4 .3zM134.1 151.8l2.7-.3-1.9-1-2.7 .3zM145.8 153.4l2.9-.2-1.7-.7-2.9 .2zM157.5 154.6l3-.1-1.5-.5-3 .1zM160.9 154.9l3.1-.1-1.5-.4-3.1 0zM164.3 155.1l3.1 0-1.5-.4-3 0z"/>
<path color="#2d8ef2" d="M76.6 135.1l1.9-.2-2.7-1.5-1.9 .2zM89.3 139.4l2-.3-2.6-1.4-2 .2zM115.8 146.7l2.3-.4-2.2-1.2-2.4 .3zM174.6 155.3l3.1-.2-1.4-.4-3.2 .2z"/>
<path color="#2d89f6" d="M85.2 137.1l2.1-.3-2.6-1.4-2.1 .2zM103.4 142.7l2.2-.3-2.4-1.4-2.3 .3zM108.7 144.2l2.3-.4-2.3-1.3-2.3 .3zM114.1 145.6l2.3-.4-2.2-1.3-2.4 .4zM142.1 151.3l2.8-.3-1.8-1-2.9 .3zM163 154.1l3.1-.3-1.6-.7-3.1 .3zM182.4 155.4l3.2-.1-1.5-.4-3.2 .1zM185.9 155.6l3.3-.2-1.4-.4-3.3 .2zM210.9 155.5l3.4-.2-1.3 0-3.4 .2zM207.3 155.6l3.4-.2-1.3 0-3.3 .2z"/>
<path color="#2995ec" d="M66.6 132.8l1.7-.2-2.8-1.5-1.7 .2zM73.9 135.5l1.8-.2-2.8-1.5-1.7 .2zM149.6 153.5l2.9-.2-1.6-.7-3 .2zM164.9 155l3.1-.1-1.5-.5-3.1 .1z"/>
<path color="#2698ea" d="M61.9 131.5l1.6-.1-2.9-1.5-1.6 .1zM69.1 134.3l1.7-.1-2.8-1.5-1.7 .1zM76.3 136.9l1.7-.1-2.8-1.4-1.6 .1zM81.5 138.6l1.8-.1-2.7-1.4-1.8 .1zM86.7 140.3l1.9-.2-2.7-1.4-1.8 .2zM91.9 141.9l1.9-.3-2.6-1.3-1.9 .2zM97.1 143.4l1.9-.3-2.5-1.3-1.9 .3zM102.2 144.8l2.1-.3-2.5-1.3-2 .3zM107.4 146.2l2-.3-2.4-1.3-2 .3zM120.8 149.3l2.4-.4-2.2-1.1-2.3 .3zM129.2 150.9l2.5-.4-2-1-2.5 .3zM140.9 152.7l2.8-.3-1.8-.8-2.8 .2zM152.6 154.1l3-.1-1.6-.7-3 .2zM171.2 155.5l3.1 0-1.4-.3-3.1 0zM174.6 155.6l3.2 0-1.4-.2-3.2 0zM178.1 155.8l3.1-.1-1.3-.2-3.2 .1zM181.5 155.8l3.2 0-1.3-.1-3.3 0zM184.9 155.9l3.3 0-1.4-.1-3.2 0zM188.4 155.9l3.2 0-1.3-.1-3.2 .1z"/>
<path color="#259be8" d="M57.2 130.2l1.5 0-2.9-1.5-1.5 0zM64.4 133.1l1.6-.1-2.9-1.5-1.5 .1zM69.7 134.9l1.5-.1-2.8-1.4-1.5 .1zM76.8 137.5l1.6-.1-2.7-1.4-1.7 .1zM81.9 139.2l1.7-.2-2.7-1.3-1.7 .1zM87.1 140.8l1.8-.2-2.7-1.3-1.8 .2zM92.2 142.4l1.9-.2-2.7-1.3-1.8 .2zM97.4 143.9l1.8-.3-2.5-1.3-1.9 .3zM102.4 145.3l2-.3-2.5-1.3-2 .3zM110.8 147.3l2.1-.3-2.3-1.2-2.2 .3zM115.8 148.5l2.2-.3-2.2-1.2-2.2 .3zM124.1 150.2l2.4-.3-2.1-1.1-2.4 .3zM132.3 151.7l2.7-.3-1.9-1-2.6 .3zM135.7 152.2l2.7-.3-1.9-.9-2.6 .2zM143.9 153.3l2.9-.2-1.7-.7-2.8 .2zM147.3 153.7l2.9-.2-1.6-.7-2.9 .2zM159 154.8l3 0-1.5-.5-3 .1zM162.4 155.1l3-.1-1.5-.4-3 .1zM165.8 155.3l3.1-.1-1.5-.3-3.1 0z"/>
<path color="#2d87f7" d="M88.8 138l2.1-.3-2.6-1.4-2.1 .3zM140.5 150.8l2.8-.3-1.9-1-2.8 .3zM149.2 152.2l3-.3-1.8-.9-3 .3zM173.8 154.9l3.1-.2-1.5-.6-3.2 .2z"/>
<path color="#4660fb" d="M182 150.7l3.2-.5-1.7-1-3.3 .6zM195.3 151.9l3.3-.5-1.7-.8-3.3 .5z"/>
<path color="#2797eb" d="M65.2 132.6l1.7-.1-2.9-1.5-1.6 .1zM72.5 135.3l1.7-.2-2.8-1.4-1.7 .2zM84.9 139.5l1.8-.2-2.7-1.3-1.8 .2zM90.1 141.2l1.9-.3-2.6-1.3-1.9 .2zM95.3 142.7l1.9-.3-2.5-1.3-2 .3zM100.5 144.2l2-.3-2.5-1.3-2 .3zM105.6 145.6l2.1-.3-2.4-1.3-2.1 .3zM114.1 147.6l2.2-.4-2.3-1.2-2.2 .3zM119.1 148.7l2.4-.3-2.2-1.2-2.3 .4zM127.5 150.4l2.6-.3-2.1-1.1-2.5 .3zM135.9 151.9l2.7-.3-1.8-1-2.7 .3zM147.7 153.5l2.9-.2-1.7-.8-2.9 .2zM162.9 155l3.1-.1-1.5-.5-3.1 .1zM166.3 155.2l3.1-.1-1.4-.4-3.1 .1z"/>
<path color="#259de6" d="M55.9 130l1.5 0-2.9-1.5-1.4 0zM63.1 132.9l1.5-.1-2.9-1.4-1.4 0zM70.2 135.5l1.6 0-2.8-1.4-1.6 .1zM75.4 137.3l1.6-.1-2.8-1.3-1.6 .1zM80.5 139l1.7-.1-2.8-1.3-1.6 .1zM90.8 142.2l1.7-.2-2.6-1.3-1.8 .2zM95.8 143.7l1.9-.2-2.6-1.3-1.8 .2zM100.9 145.1l1.9-.2-2.5-1.3-1.9 .3zM114.2 148.4l2.1-.3-2.3-1.2-2.1 .3zM122.4 150.1l2.4-.3-2.2-1.1-2.3 .3zM130.6 151.6l2.6-.3-2-1-2.5 .3zM142.1 153.2l2.8-.2-1.7-.7-2.8 .2zM157 154.7l3 0-1.5-.4-3 0zM160.4 155l3 0-1.4-.4-3.1 0z"/>
<path color="#269ae9" d="M60.5 131.3l1.5-.1-2.8-1.4-1.5 0zM73 135.9l1.6-.1-2.8-1.4-1.6 .1zM90.4 141.7l1.8-.2-2.6-1.3-1.8 .2zM109.1 146.7l2.1-.3-2.4-1.2-2.1 .3zM122.5 149.7l2.3-.3-2.1-1.1-2.4 .3zM130.8 151.3l2.5-.3-1.9-1-2.6 .3zM142.4 153l2.8-.2-1.7-.8-2.8 .2zM154.1 154.3l3-.1-1.6-.5-3 .1z"/>
<path color="#249fe5" d="M54.7 129.8l1.4 0-2.9-1.5-1.4 0zM56.7 130.7l1.4 0-2.9-1.5-1.4 0zM61.8 132.6l1.5 0-2.9-1.4-1.4 0zM68.9 135.3l1.5 0-2.8-1.4-1.5 .1zM74 137.1l1.6-.1-2.8-1.3-1.6 .1zM79.1 138.8l1.6-.1-2.7-1.3-1.6 .1zM84.2 140.4l1.7-.1-2.7-1.3-1.7 .2zM89.3 142l1.7-.1-2.7-1.3-1.7 .1zM94.4 143.5l1.7-.2-2.6-1.2-1.7 .2zM99.4 144.9l1.8-.2-2.5-1.2-1.9 .2zM107.6 147l2-.3-2.4-1.2-2 .3zM112.6 148.2l2.1-.3-2.4-1.1-2 .3zM120.8 150l2.2-.3-2.1-1.2-2.3 .4zM128.9 151.5l2.5-.3-1.9-1-2.6 .3zM132.2 152l2.6-.3-1.9-1-2.6 .3zM140.3 153.1l2.8-.2-1.7-.7-2.8 .2zM143.6 153.5l2.8-.1-1.6-.7-2.8 .1zM155.1 154.6l3 0-1.5-.4-3 0zM158.5 154.9l3 0-1.5-.4-3 0zM161.8 155.1l3.1 0-1.5-.3-3 0zM165.2 155.3l3.1 0-1.5-.2-3 0z"/>
<path color="#2699ea" d="M63.8 132.4l1.6-.1-2.8-1.5-1.6 .1zM137.5 152.2l2.7-.2-1.8-.9-2.7 .2zM149.2 153.8l2.9-.2-1.6-.7-2.9 .2zM167.8 155.3l3.1 0-1.5-.4-3.1 .1z"/>
<path color="#259ce7" d="M59.2 131.1l1.5 0-2.9-1.5-1.5 0zM61.2 132l1.4-.1-2.8-1.4-1.5 0zM66.4 133.9l1.5-.1-2.8-1.4-1.5 .1zM73.5 136.5l1.6-.1-2.8-1.3-1.6 .1zM78.7 138.3l1.6-.2-2.7-1.3-1.7 .1zM83.8 139.9l1.7-.1-2.7-1.4-1.7 .2zM88.9 141.5l1.8-.2-2.7-1.3-1.7 .2zM94 143l1.9-.2-2.6-1.3-1.8 .3zM99.1 144.5l1.9-.2-2.5-1.3-1.9 .2zM104.2 145.9l2-.3-2.5-1.2-2 .2zM107.5 146.6l2-.3-2.4-1.2-2 .3zM112.5 147.8l2.1-.3-2.3-1.2-2.1 .3zM120.8 149.6l2.3-.3-2.2-1.1-2.3 .3zM129 151.2l2.5-.3-1.9-1-2.5 .3zM137.2 152.5l2.8-.2-1.8-.9-2.7 .2zM140.6 152.9l2.8-.2-1.8-.8-2.7 .2zM148.8 153.9l2.9-.1-1.6-.6-2.9 .1zM152.2 154.3l2.9-.1-1.5-.6-3 .1zM155.6 154.6l3-.1-1.6-.5-3 .1zM170.6 155.5l3.1 .1-1.4-.3-3.1 0zM174 155.7l3.1 0-1.4-.2-3.1 0zM177.4 155.8l3.1 0-1.3-.1-3.2-.1zM180.8 155.8l3.1 0-1.3 0-3.2 0z"/>
<path color="#2c91ef" d="M76.9 135.8l1.9-.2-2.7-1.5-1.9 .2zM94.8 141.6l2.1-.3-2.6-1.4-2 .3zM105.4 144.5l2.1-.3-2.4-1.3-2.2 .3zM124.4 149l2.5-.3-2.1-1.2-2.5 .4zM165.5 154.8l3.1-.1-1.6-.6-3.1 .2z"/>
<path color="#23a1e5" d="M53.5 129.6l1.3 0-2.9-1.5-1.3 0zM114.3 148.7l2.1-.3-2.4-1.1-2 .3zM122.4 150.4l2.3-.3-2.1-1.1-2.3 .3zM145.1 153.7l2.9-.1-1.6-.6-2.9 .1zM166.6 155.4l3.1 0-1.4-.1-3.1-.1zM169.9 155.5l3.1 .1-1.3-.1-3.1-.1z"/>
<path color="#249ee6" d="M57.9 130.9l1.4 0-2.8-1.5-1.5 0zM59.9 131.8l1.4 0-2.9-1.5-1.4 0zM65.1 133.7l1.4 0-2.8-1.5-1.5 .1zM67 134.5l1.5 0-2.9-1.4-1.4 0zM72.1 136.3l1.6 0-2.8-1.4-1.6 .1zM77.3 138.1l1.6-.1-2.8-1.4-1.6 .1zM82.4 139.7l1.6-.1-2.7-1.3-1.6 .1zM87.5 141.3l1.7-.1-2.7-1.3-1.7 .1zM92.6 142.9l1.7-.2-2.6-1.3-1.8 .2zM97.6 144.3l1.8-.2-2.5-1.2-1.8 .2zM102.7 145.7l1.8-.2-2.5-1.3-1.9 .3zM105.9 146.4l2-.2-2.5-1.2-1.9 .2zM110.9 147.7l2.1-.3-2.4-1.2-2.1 .3zM119.1 149.5l2.3-.3-2.2-1.2-2.3 .4zM127.3 151.1l2.5-.3-2-1.1-2.5 .3zM135.5 152.4l2.6-.2-1.8-.9-2.6 .2zM138.8 152.8l2.7-.2-1.7-.8-2.8 .2zM146.9 153.8l2.9-.1-1.6-.6-2.8 .1zM150.3 154.2l2.9-.1-1.5-.6-3 .1zM153.7 154.5l2.9-.1-1.5-.5-3 .1zM171.9 155.6l3.2 0-1.4-.1-3.1 0zM175.3 155.7l3.2 0-1.4-.1-3.1 0zM178.7 155.8l3.2 0-1.4 0-3.1-.1z"/>
<path color="#259ae8" d="M62.5 132.2l1.5-.1-2.8-1.4-1.6 0zM119.1 149.1l2.3-.3-2.2-1.1-2.3 .3z"/>
<path color="#2a93ee" d="M75.4 135.6l1.8-.2-2.7-1.4-1.8 .2zM82.7 138.2l1.8-.2-2.7-1.5-1.8 .3zM88 139.8l1.9-.2-2.7-1.4-1.9 .3zM93.2 141.4l2-.2-2.6-1.4-1.9 .3zM98.5 143l2-.3-2.5-1.4-2 .3zM103.7 144.4l2.1-.3-2.4-1.3-2.1 .3zM108.9 145.8l2.2-.3-2.4-1.3-2.2 .3zM122.6 148.9l2.4-.3-2.1-1.2-2.4 .4zM131.1 150.6l2.6-.3-2-1.1-2.6 .3zM139.6 152l2.8-.3-1.9-.9-2.7 .3zM148.1 153.2l2.9-.2-1.7-.8-2.9 .2zM163.4 154.8l3.1-.1-1.5-.6-3.1 .2z"/>
<path color="#2d8af4" d="M89 138.7l2.1-.3-2.6-1.4-2.1 .3zM121.1 147.4l2.5-.3-2.2-1.3-2.5 .4zM135 150.3l2.7-.4-1.9-1-2.7 .3zM143.7 151.7l2.9-.3-1.9-.9-2.8 .3z"/>
<path color="#22a2e4" d="M52.4 129.4l1.2 0-2.9-1.4-1.2-.1zM57.5 131.3l1.3 .1-2.9-1.4-1.3-.1zM64.5 134.1l1.4 0-2.9-1.4-1.4 0zM69.6 135.9l1.4 0-2.9-1.3-1.4 0zM74.6 137.7l1.5-.1-2.8-1.3-1.5 .1zM79.7 139.3l1.5 0-2.8-1.3-1.5 .1zM84.7 140.9l1.6-.1-2.7-1.2-1.6 .1zM89.7 142.5l1.6-.1-2.6-1.3-1.7 .1zM94.7 143.9l1.7-.1-2.6-1.2-1.7 .1zM99.7 145.3l1.7-.2-2.5-1.1-1.8 .1zM102.9 146.1l1.8-.2-2.5-1.2-1.8 .2zM107.8 147.4l1.9-.3-2.4-1.1-1.9 .2zM115.9 149.2l2.1-.3-2.2-1.1-2.1 .3zM124 150.8l2.3-.3-2-1-2.4 .3zM132 152.2l2.6-.3-1.9-.9-2.5 .3zM135.2 152.6l2.7-.2-1.7-.8-2.7 .2zM146.6 154l2.9-.1-1.6-.6-2.9 .1zM149.9 154.3l2.9-.1-1.5-.5-2.9 .1zM153.2 154.5l3 0-1.5-.4-3 0z"/>
<path color="#2896eb" d="M70.5 134.5l1.7-.2-2.7-1.4-1.7 .1zM83 138.8l1.8-.2-2.7-1.4-1.8 .2zM88.3 140.4l1.8-.2-2.6-1.4-1.9 .3zM103.8 144.9l2.1-.3-2.4-1.3-2.1 .3zM173.2 155.5l3.2 0-1.4-.3-3.2 .1zM176.7 155.7l3.2-.1-1.4-.2-3.2 0z"/>
<path color="#2e86f8" d="M97.9 140.5l2.2-.3-2.5-1.4-2.2 .3zM124.7 147.6l2.6-.4-2.1-1.3-2.6 .4zM138.8 150.4l2.8-.4-1.9-1.1-2.8 .4zM147.6 151.8l2.9-.3-1.8-1-2.9 .3zM172.3 154.6l3.2-.2-1.6-.6-3.2 .2z"/>
<path color="#20a4e3" d="M51.3 129.1l1.2 .1-3-1.4-1.2-.1zM58.3 132l1.2 0-2.9-1.4-1.2 0zM63.3 133.9l1.3 0-2.9-1.4-1.3 0zM93.3 143.7l1.6-.1-2.6-1.2-1.7 .1zM98.2 145.1l1.7-.1-2.6-1.2-1.7 .2zM106.3 147.2l1.9-.2-2.5-1.2-1.9 .2zM114.4 149l2-.2-2.3-1.2-2.1 .3zM122.4 150.7l2.2-.3-2.1-1.1-2.2 .3zM133.5 152.5l2.6-.2-1.7-.9-2.7 .2zM144.8 153.8l2.8 0-1.5-.6-2.9 .1zM148 154.1l3 0-1.6-.4-2.9 0z"/>
<path color="#22a1e4" d="M55.5 130.5l1.3 0-2.9-1.4-1.3-.1zM62.6 133.3l1.3 0-2.8-1.4-1.4 0zM67.6 135.1l1.5 0-2.9-1.4-1.4 .1zM97.9 144.7l1.8-.1-2.6-1.3-1.8 .2zM111 148.1l2-.3-2.3-1.2-2 .3zM119.2 149.8l2.2-.3-2.2-1.1-2.2 .3zM127.2 151.4l2.4-.3-1.9-1.1-2.5 .3zM138.5 153l2.8-.2-1.7-.7-2.8 .2zM156.5 154.8l3 0-1.4-.3-3-.1z"/>
<path color="#1fa6e2" d="M50.2 128.9l1.2 .1-3-1.5-1.1 0zM52.2 129.8l1.1 .1-2.9-1.4-1.1-.1zM57.2 131.7l1.2 .1-2.9-1.4-1.2 0zM62.2 133.6l1.2 .1-2.9-1.4-1.2 0zM67.1 135.5l1.3 0-2.8-1.3-1.3 0zM69 136.2l1.3 .1-2.8-1.3-1.3-.1zM74 138l1.3 0-2.8-1.3-1.3 0zM78.9 139.6l1.4 0-2.8-1.2-1.4 0zM87 142.1l1.5-.1-2.7-1.2-1.5 .1zM91.9 143.5l1.6-.1-2.7-1.1-1.6 .1zM96.8 144.9l1.7-.1-2.7-1.1-1.6 .1zM100 145.7l1.7-.2-2.6-1.1-1.7 .2zM104.9 147l1.7-.2-2.5-1.1-1.8 .2zM112.9 148.9l1.9-.3-2.4-1.1-1.9 .3zM120.8 150.5l2.2-.3-2.2-1-2.2 .3zM123.9 151.1l2.3-.3-2-1-2.3 .3zM131.8 152.4l2.6-.3-1.8-.8-2.6 .2zM135 152.8l2.7-.2-1.7-.8-2.7 .2zM143 153.7l2.8 0-1.5-.6-2.9 .1zM146.2 154l2.9 0-1.5-.4-2.9 0zM149.5 154.3l2.9 0-1.5-.4-2.9 0zM152.8 154.6l2.9 0-1.4-.3-3-.1z"/>
<path color="#2993ed" d="M77.3 136.4l1.8-.1-2.7-1.5-1.8 .2z"/>
<path color="#21a3e3" d="M54.4 130.2l1.2 .1-2.9-1.4-1.3-.1zM61.4 133l1.3 .1-2.9-1.4-1.3 0zM66.4 134.9l1.4 0-2.9-1.3-1.3 0zM91.5 143.1l1.6-.1-2.6-1.2-1.7 .1zM96.5 144.5l1.7-.1-2.6-1.2-1.7 .2zM104.6 146.6l1.8-.2-2.5-1.1-1.8 .2zM109.5 147.9l1.9-.3-2.4-1.1-1.9 .2zM117.6 149.7l2.1-.3-2.3-1.1-2.1 .3zM128.8 151.7l2.4-.3-1.9-.9-2.5 .3zM140 153.3l2.8-.2-1.6-.7-2.8 .2zM154.7 154.7l2.9 0-1.4-.3-3-.1zM158 154.9l3 .1-1.5-.3-3-.1zM161.3 155.1l3 .1-1.4-.2-3-.1zM164.6 155.3l3.1 .1-1.4-.2-3.1-.1z"/>
<path color="#23a0e5" d="M58.7 131.6l1.3 0-2.9-1.5-1.3 0zM63.8 133.5l1.4 0-2.8-1.4-1.5 0zM65.7 134.3l1.4 0-2.8-1.4-1.4 0zM70.8 136.1l1.5 0-2.8-1.4-1.5 .1zM75.9 137.9l1.6-.1-2.8-1.3-1.6 0zM81 139.5l1.6-.1-2.8-1.3-1.5 .1zM86.1 141.1l1.6-.1-2.7-1.3-1.6 .2zM91.1 142.7l1.7-.2-2.6-1.2-1.7 .1zM96.1 144.1l1.8-.1-2.6-1.3-1.8 .2zM101.1 145.5l1.9-.2-2.6-1.2-1.8 .2zM104.4 146.3l1.9-.3-2.5-1.2-1.9 .3zM109.4 147.5l1.9-.2-2.4-1.2-2 .3zM117.5 149.4l2.2-.3-2.2-1.2-2.2 .3zM125.6 151l2.4-.3-2-1.1-2.4 .3zM133.7 152.3l2.6-.2-1.8-.9-2.6 .2zM137 152.7l2.7-.2-1.7-.8-2.7 .2zM148.4 154.1l2.9-.1-1.5-.6-2.9 .1zM151.8 154.4l2.9-.1-1.5-.5-3 .1zM173.3 155.6l3.1 .1-1.3-.1-3.2-.1z"/>
<path color="#269ae8" d="M67.7 134.1l1.6-.1-2.8-1.4-1.6 .1zM74.9 136.7l1.6-.1-2.7-1.4-1.7 .1zM80.1 138.4l1.7-.1-2.7-1.4-1.7 .2zM85.3 140.1l1.7-.2-2.7-1.3-1.7 .2zM95.6 143.2l1.8-.2-2.5-1.3-1.9 .2zM100.7 144.6l1.9-.2-2.5-1.3-1.9 .3zM105.8 146l2-.3-2.5-1.2-2 .3zM114.1 148l2.2-.3-2.3-1.2-2.2 .3zM127.4 150.8l2.5-.4-2-1-2.5 .3zM139 152.6l2.8-.2-1.8-.9-2.7 .2zM150.7 154l2.9-.1-1.5-.6-3 .1zM169.2 155.5l3.1-.1-1.4-.3-3.1 .1zM172.6 155.6l3.1 0-1.4-.2-3.1 0zM176 155.7l3.2 0-1.4-.2-3.2 0zM179.4 155.8l3.2 0-1.4-.1-3.1 0zM182.8 155.9l3.2 0-1.3-.1-3.2 0zM186.3 155.9l3.2 0-1.3 0-3.3-.1z"/>
<path color="#1ea7e1" d="M49.3 128.6l1 .2-2.9-1.5-1.1-.1zM54.2 130.6l1.1 .1-2.9-1.3-1.1-.1zM59.1 132.6l1.2 .1-2.9-1.4-1.2-.1zM61.1 133.4l1.1 .1-2.9-1.4-1.1 0zM64.1 134.4l1.2 .1-2.9-1.3-1.2-.1zM66 135.2l1.2 .1-2.8-1.3-1.3-.1zM70.9 137l1.3 0-2.8-1.2-1.3-.1zM75.8 138.7l1.4 0-2.8-1.2-1.4-.1zM80.8 140.3l1.4 0-2.8-1.2-1.4 0zM85.7 141.8l1.4 0-2.7-1.2-1.5 .1zM88.8 142.7l1.5-.1-2.7-1.1-1.5 0zM93.7 144.1l1.6-.1-2.7-1.1-1.6 .1zM98.6 145.5l1.6-.1-2.6-1.2-1.7 .2zM101.7 146.2l1.7-.1-2.6-1.1-1.7 .1zM106.6 147.5l1.7-.2-2.5-1.1-1.8 .2zM109.7 148.2l1.9-.2-2.5-1.1-1.8 .2zM114.5 149.3l2-.2-2.4-1.1-1.9 .2zM117.6 149.9l2.1-.2-2.3-1.1-2 .3zM125.5 151.5l2.3-.3-2-1-2.3 .3zM128.6 151.9l2.5-.2-1.9-1-2.4 .3zM136.5 153l2.7-.1-1.6-.7-2.7 .1zM139.7 153.4l2.8-.1-1.6-.6-2.8 .1zM154.2 154.7l3 .1-1.5-.3-2.9-.1zM157.5 154.9l3 .1-1.4-.2-3-.1zM160.8 155.1l3 .1-1.4-.1-3-.2zM164.1 155.2l3 .2-1.4-.1-3-.2z"/>
<path color="#20a5e2" d="M53.3 130l1.2 .1-3-1.4-1.2-.1zM60.2 132.8l1.3 .1-2.9-1.4-1.3 0zM65.2 134.7l1.3 0-2.8-1.3-1.3-.1zM90.1 142.9l1.6-.1-2.7-1.2-1.6 .1zM95.1 144.3l1.6-.1-2.6-1.2-1.7 .2zM103.1 146.4l1.8-.1-2.5-1.2-1.8 .2zM127.1 151.6l2.4-.3-1.9-1-2.4 .3zM159.4 155l3 .1-1.4-.2-3-.1zM162.7 155.2l3 .1-1.4-.2-3-.1zM166 155.3l3.1 .2-1.4-.2-3.1-.1z"/>
<path color="#3975ff" d="M138.3 147.7l2.9-.5-2.1-1.2-2.8 .5zM152.9 150.3l3-.4-1.9-1-2.9 .4zM162.1 151.7l3-.4-1.8-1-3 .4zM187.6 154.2l3.3-.3-1.6-.7-3.3 .4z"/>
<path color="#1da9e0" d="M48.3 128.4l1 .1-2.9-1.4-1-.1zM53.2 130.4l1.1 .1-3-1.4-1-.1zM64.9 135l1.2 .1-2.9-1.3-1.2-.1zM69.8 136.7l1.2 .1-2.8-1.2-1.3-.1zM74.7 138.4l1.2 .1-2.8-1.2-1.3-.1zM87.5 142.5l1.4-.1-2.7-1.1-1.5 0zM92.3 143.9l1.5-.1-2.6-1.1-1.6 .1zM100.3 146l1.6-.1-2.6-1.1-1.6 .1zM108.2 148l1.8-.2-2.5-1.1-1.8 .2zM116.1 149.8l2-.3-2.3-1.1-2 .3zM123.9 151.3l2.3-.3-2.1-1-2.2 .3zM127 151.8l2.4-.3-1.9-.9-2.4 .2zM138 153.2l2.7 0-1.5-.7-2.8 .1z"/>
<path color="#4368fd" d="M257.4 151.6l3.7-.6-1.3 0-3.6 .5z"/>
<path color="#1baade" d="M47.5 128.2l.9 .1-3-1.4-.9-.1zM98.9 145.8l1.6-.1-2.7-1-1.5 0zM106.8 147.8l1.7-.2-2.5-1-1.7 .1zM125.5 151.6l2.3-.2-2-1-2.3 .3zM139.5 153.4l2.7 0-1.5-.5-2.8 0z"/>
<path color="#21a4e3" d="M56.3 131.1l1.3 .1-2.9-1.4-1.3-.1zM68.3 135.7l1.4 0-2.9-1.3-1.3 0zM73.3 137.4l1.5 0-2.9-1.3-1.4 0zM78.3 139.1l1.5 0-2.8-1.3-1.4 .1zM83.3 140.7l1.6 0-2.8-1.3-1.5 .1zM88.3 142.3l1.6-.1-2.7-1.2-1.6 .1zM101.4 145.9l1.8-.2-2.6-1.2-1.7 .2zM125.6 151.2l2.3-.3-2-1-2.4 .3zM136.7 152.9l2.8-.2-1.7-.7-2.7 .1zM151.3 154.4l3 0-1.5-.4-2.9 0z"/>
<path color="#2798ea" d="M74.4 136.1l1.7-.1-2.8-1.5-1.7 .2zM115.8 148.1l2.2-.3-2.2-1.2-2.3 .3zM124.2 149.9l2.4-.4-2.1-1.1-2.4 .3zM132.5 151.4l2.7-.3-2-1-2.6 .3zM156 154.4l3-.1-1.5-.6-3 .1z"/>
<path color="#23a1e4" d="M60.6 132.4l1.4 0-2.9-1.4-1.4 0zM72.7 136.9l1.5 0-2.8-1.4-1.5 .1zM77.8 138.6l1.5-.1-2.7-1.3-1.6 .1zM82.9 140.2l1.5 0-2.7-1.3-1.6 .1zM87.9 141.8l1.6-.1-2.7-1.3-1.6 .2zM92.9 143.3l1.7-.1-2.6-1.3-1.7 .2zM106.1 146.8l1.9-.2-2.4-1.2-2 .2zM130.4 151.8l2.6-.2-1.9-1-2.5 .3zM141.8 153.4l2.8-.1-1.6-.7-2.8 .1zM159.9 155l3 .1-1.4-.3-3.1-.1zM163.2 155.2l3.1 .1-1.4-.3-3.1 0z"/>
<path color="#1da8e0" d="M51.2 129.5l1.1 .1-3-1.3-1-.2zM58.1 132.3l1.1 .1-2.9-1.3-1.1-.1zM63 134.2l1.2 .1-2.9-1.3-1.2-.1zM67.9 136l1.2 .1-2.8-1.3-1.3-.1zM72.8 137.7l1.3 .1-2.8-1.3-1.3 0zM77.7 139.4l1.3 0-2.8-1.2-1.3 0zM82.6 140.9l1.4 0-2.8-1.1-1.4 0zM95.4 144.7l1.6-.1-2.6-1.1-1.6 .1zM103.4 146.8l1.7-.2-2.5-1.1-1.7 .2zM119.3 150.4l2-.3-2.2-1.1-2.1 .3zM130.2 152.2l2.5-.2-1.8-.9-2.6 .3zM141.2 153.6l2.8-.1-1.5-.5-2.8 0zM144.4 153.9l2.9 0-1.5-.5-2.9 0z"/>
<path color="#1aacdd" d="M46.7 127.9l.8 .2-2.9-1.4-.8-.1zM48.7 128.8l.8 .2-3-1.4-.8-.1zM51.4 129.9l.9 .2-2.9-1.4-.9-.1zM53.4 130.8l.9 .1-3-1.3-.8-.1zM58.1 132.7l1 .1-2.9-1.3-1-.1zM62.9 134.5l1 .1-2.9-1.2-1-.2zM67.6 136.2l1.1 .2-2.8-1.3-1.1-.1zM72.4 137.9l1.2 .1-2.9-1.1-1.1-.1zM80.2 140.5l1.2 0-2.7-1.1-1.3-.1zM85 142l1.3 0-2.8-1.1-1.3 0zM92.8 144.2l1.4 0-2.7-1.1-1.4 .1zM97.6 145.6l1.5-.1-2.7-1-1.5 0zM100.6 146.3l1.6 0-2.6-1.1-1.6 .1zM105.4 147.5l1.6-.1-2.6-1-1.6 .1zM108.5 148.2l1.7-.1-2.6-1-1.6 .1zM116.3 150l1.9-.3-2.4-1-1.9 .2zM127 152l2.3-.3-1.9-.9-2.4 .2zM140.9 153.6l2.8 0-1.5-.4-2.8-.1zM144.1 153.9l2.9 .1-1.5-.4-2.9-.1zM147.3 154.1l2.9 .2-1.4-.3-2.9-.1z"/>
<path color="#1fa5e2" d="M55.2 130.9l1.2 .1-2.9-1.4-1.2-.1zM72.1 137.2l1.4 0-2.9-1.3-1.3 0zM77.1 138.9l1.4 0-2.8-1.3-1.4 0zM82 140.5l1.5 0-2.8-1.2-1.4 0zM108 147.7l1.9-.2-2.5-1.1-1.9 .2zM116 149.5l2.1-.3-2.3-1.1-2.1 .3zM138.2 153.1l2.8-.1-1.6-.7-2.8 .2zM156.1 154.8l3 .1-1.5-.3-3-.1z"/>
<path color="#2796eb" d="M77.8 137.1l1.7-.2-2.7-1.4-1.8 .2zM109 146.3l2.1-.3-2.3-1.3-2.2 .3zM122.5 149.4l2.4-.4-2.1-1.1-2.4 .3zM130.9 151l2.6-.4-1.9-1-2.6 .3zM139.3 152.3l2.8-.2-1.8-1-2.8 .3zM151.1 153.8l3-.1-1.7-.7-2.9 .2zM169.8 155.4l3.1-.1-1.4-.3-3.2 0z"/>
<path color="#21a3e4" d="M59.4 132.2l1.3 0-2.9-1.4-1.3 0zM71.4 136.7l1.5 0-2.9-1.3-1.4 0zM76.5 138.4l1.5 0-2.8-1.3-1.5 0zM81.5 140l1.5 0-2.7-1.3-1.5 .1zM86.5 141.6l1.6-.1-2.7-1.2-1.6 .1zM112.7 148.6l2-.3-2.3-1.2-2 .3zM120.8 150.3l2.2-.3-2.2-1.1-2.2 .3zM143.3 153.6l2.8-.1-1.6-.6-2.8 .1zM168 155.4l3 .1-1.3-.1-3.1-.1zM171.3 155.5l3.1 .1-1.4 0-3.1-.1z"/>
<path color="#19addc" d="M46.1 127.7l.7 .2-3-1.4-.7-.1zM50.7 129.7l.8 .2-3-1.4-.8-.1zM55.3 131.6l.9 .2-2.9-1.3-.9-.2zM60 133.5l1 .1-2.9-1.3-1-.1zM64.8 135.2l1 .2-2.9-1.2-1-.2zM69.5 137l1.1 .1-2.8-1.2-1.1-.1zM74.3 138.6l1.1 .1-2.8-1.1-1.2-.1zM82 141.1l1.3 .1-2.8-1.1-1.3-.1zM86.8 142.6l1.3 0-2.8-1.1-1.3 0zM94.5 144.8l1.5 0-2.7-1.1-1.5 0zM102.3 146.8l1.6 0-2.6-1.1-1.6 .1zM110.1 148.7l1.7-.2-2.5-1-1.7 .2zM120.9 151l2-.3-2.2-1-2 .2zM131.5 152.6l2.6-.1-1.7-.8-2.6 .1zM134.6 152.9l2.7 0-1.6-.7-2.7 .1zM152 154.5l2.9 .2-1.4-.2-2.9-.2z"/>
<path color="#259de7" d="M68.3 134.7l1.5 0-2.8-1.4-1.5 0zM85.7 140.6l1.7-.1-2.7-1.3-1.7 .1zM109.2 147.2l2.1-.3-2.4-1.2-2.1 .2zM117.5 149l2.2-.3-2.2-1.2-2.2 .4zM125.7 150.7l2.4-.4-2-1-2.4 .3zM133.9 152.1l2.6-.3-1.8-.9-2.6 .2zM145.4 153.6l2.9-.2-1.6-.6-2.9 .1zM163.8 155.2l3 0-1.4-.3-3.1 0zM167.2 155.4l3.1 0-1.5-.3-3 0z"/>
<path color="#1caadf" d="M50.3 129.3l1 .1-3-1.4-.9-.1zM52.3 130.2l1 .1-3-1.4-1-.1zM57.1 132.1l1.1 .1-3-1.3-1-.1zM61.9 134l1.2 .1-2.9-1.3-1.2-.1zM66.8 135.7l1.2 .1-2.9-1.2-1.2-.1zM71.6 137.5l1.3 0-2.9-1.2-1.2-.1zM76.5 139.1l1.3 .1-2.8-1.2-1.3-.1zM81.4 140.7l1.3 0-2.8-1.1-1.3 0zM89.3 143.1l1.4 0-2.7-1.2-1.5 0zM94.1 144.5l1.5-.1-2.7-1.1-1.5 .1zM102 146.6l1.6-.2-2.6-1-1.6 .1zM109.9 148.5l1.8-.2-2.5-1.1-1.8 .2zM117.8 150.2l1.9-.3-2.3-1-1.9 .2zM128.5 152.1l2.5-.2-1.9-.9-2.4 .2zM131.6 152.5l2.6-.2-1.7-.8-2.6 .2zM142.7 153.7l2.8 .1-1.5-.5-2.8 0zM145.9 154l2.9 .1-1.5-.4-2.9 0zM149.1 154.3l2.9 .1-1.4-.3-2.9-.1z"/>
<path color="#18aedb" d="M45.5 127.6l.6 .1-3-1.4-.6-.1zM50 129.5l.7 .1-3-1.3-.7-.1zM66.7 136l1 .1-2.9-1.2-1-.1zM71.4 137.7l1.1 .1-2.9-1.2-1.1-.1zM76.1 139.3l1.2 .1-2.9-1.1-1.1-.1zM83.8 141.7l1.3 .1-2.8-1.1-1.3-.1zM88.5 143.2l1.4 0-2.8-1-1.3-.1zM96.3 145.3l1.4 0-2.7-1-1.4 0zM104 147.3l1.6-.1-2.6-1-1.6 .1zM114.8 149.7l1.8-.1-2.4-1-1.8 .2zM125.4 151.8l2.3-.3-2-.9-2.3 .3zM139.2 153.4l2.8 .1-1.5-.4-2.8-.1zM142.4 153.7l2.8 .1-1.5-.3-2.8-.1z"/>
<path color="#1babde" d="M49.5 129.1l.9 .1-3-1.4-.9-.1zM54.2 131l1 .1-2.9-1.3-1-.1zM59 132.9l1.1 .1-2.9-1.3-1.1-.1zM63.9 134.7l1.1 .1-2.9-1.2-1.1-.1zM68.7 136.5l1.2 .1-2.9-1.2-1.2-.1zM73.5 138.2l1.2 .1-2.8-1.2-1.2-.1zM78.3 139.8l1.3 .1-2.8-1.2-1.3-.1zM83.2 141.4l1.3 0-2.8-1.1-1.3-.1zM88 142.8l1.4 0-2.8-1.1-1.4 0zM91 143.7l1.5-.1-2.7-1.1-1.5 .1zM95.8 145l1.5 0-2.6-1.1-1.5 .1zM103.7 147.1l1.6-.2-2.5-1-1.7 .1zM111.6 148.9l1.7-.2-2.4-1-1.8 .2zM114.7 149.6l1.8-.3-2.4-1-1.8 .2zM122.4 151.1l2.2-.2-2.2-1.1-2.1 .3zM133.1 152.7l2.7-.1-1.7-.7-2.6 .1zM136.3 153.1l2.7-.1-1.6-.6-2.7 .1zM153.8 154.6l2.9 .2-1.4-.2-2.9-.1zM157 154.8l3 .2-1.4-.1-3-.2z"/>
<path color="#17afda" d="M45.2 127.4l.3 .1-3-1.3-.3-.1zM52 130.3l.7 .2-3-1.3-.7-.2zM73.2 138.4l1.1 .1-2.8-1.1-1.1-.2zM85.6 142.3l1.2 .1-2.7-1.1-1.3 0zM108.8 148.4l1.6-.1-2.6-.9-1.6 .1z"/>
<path color="#259be7" d="M71.6 135.7l1.6-.1-2.8-1.4-1.6 .1z"/>
<path color="#426bfe" d="M183.8 152.7l3.2-.4-1.7-.8-3.2 .4zM248.5 152.6l3.6-.5-1.2-.1-3.7 .5zM230.9 153.8l3.5-.4-1.4-.3-3.5 .4z"/>
<path color="#18addb" d="M48 128.6l.7 .2-2.9-1.4-.7-.1zM52.6 130.5l.8 .2-2.9-1.3-.8-.2zM57.3 132.4l.9 .2-3-1.3-.9-.2zM62 134.2l.9 .2-2.9-1.3-1-.1zM79 140.2l1.2 .1-2.8-1.1-1.2-.1zM91.5 144l1.4 0-2.7-1-1.4-.1zM99.3 146.1l1.5 0-2.7-1.1-1.5 .1zM107.1 148l1.6-.1-2.6-1-1.6 .1zM128.4 152.2l2.5-.2-1.8-.9-2.5 .3zM145.6 154l2.8 .1-1.4-.2-2.9-.2zM148.8 154.2l2.8 .2-1.4-.2-2.9-.2z"/>
<path color="#317cfc" d="M132.4 147.7l2.7-.4-2.1-1.2-2.7 .4zM146.8 150.4l2.9-.4-1.9-1-2.9 .3zM164.7 153l3.1-.4-1.7-.8-3.1 .3z"/>
<path color="#17aeda" d="M47.5 128.4l.6 .2-3-1.4-.6-.1zM54.6 131.4l.8 .1-3-1.3-.8-.1zM59.2 133.2l.9 .2-2.9-1.3-.9-.1zM63.9 135l.9 .2-2.9-1.3-.9-.1zM68.5 136.7l1.1 .2-2.9-1.2-1-.2zM80.8 140.8l1.3 .1-2.8-1-1.3-.1zM93.3 144.5l1.3 .1-2.7-1.1-1.4 0zM101 146.6l1.5 0-2.7-1-1.4 0zM111.8 149.1l1.7-.1-2.5-1-1.7 .1zM119.5 150.7l1.9-.2-2.3-1-1.9 .3zM122.5 151.3l2-.3-2.1-1-2.1 .3zM132.9 152.8l2.7-.1-1.6-.6-2.7 0zM136 153.1l2.8 0-1.5-.5-2.8 0z"/>
<path color="#1ea8e1" d="M56.1 131.5l1.2 .1-3-1.4-1.1-.1zM122.4 150.9l2.2-.3-2.1-1-2.2 .3zM133.3 152.6l2.7-.1-1.8-.8-2.6 .1zM150.9 154.4l3 .1-1.5-.3-2.9-.1z"/>
<path color="#16afd9" d="M47.2 128.3l.3 .1-3-1.3-.3-.1zM49.5 129.3l.5 .1-2.9-1.3-.6-.1zM53.9 131.2l.7 .1-2.9-1.3-.7-.1zM61.1 134l.9 .2-2.9-1.3-.9-.1zM65.7 135.7l1 .2-2.9-1.2-.9-.1zM70.4 137.4l1 .2-2.8-1.2-1.1-.1zM77.9 140l1.2 .1-2.8-1.1-1.2-.1zM82.6 141.5l1.3 .1-2.8-1.1-1.3-.1zM90.3 143.7l1.3 .1-2.7-1-1.4-.1zM98 145.8l1.4 0-2.7-.9-1.4-.1zM105.7 147.7l1.6 0-2.6-1-1.6 .1zM116.5 150.1l1.7-.1-2.4-1-1.8 .2zM126.9 152.1l2.4-.3-1.9-.9-2.4 .3zM129.9 152.4l2.5-.1-1.7-.8-2.5 .2zM143.8 153.8l2.9 .2-1.5-.3-2.8-.1zM147 154l2.9 .3-1.5-.2-2.8-.2zM150.2 154.3l2.9 .2-1.5-.1-2.8-.2z"/>
<path color="#1ca9df" d="M55.2 131.3l1 .1-2.9-1.4-1.1-.1zM84.4 141.6l1.4 0-2.8-1.2-1.4 0zM97.2 145.3l1.6-.1-2.7-1.1-1.6 .1zM113 149.1l1.9-.2-2.4-1.1-1.9 .3zM120.8 150.8l2.2-.3-2.2-1.1-2.1 .3zM134.8 152.9l2.7-.1-1.7-.8-2.7 .2zM152.4 154.5l2.9 .2-1.4-.3-3-.1zM155.6 154.8l3 .1-1.4-.2-3-.1z"/>
<path color="#15b0d8" d="M49.1 129.2l.4 .1-3-1.3-.3-.1zM55.8 132l.7 .1-2.9-1.2-.7-.2zM67.6 136.5l1 .1-2.9-1.1-1-.2zM79.7 140.6l1.2 .1-2.8-1.1-1.2-.1zM102.7 147l1.5 0-2.7-.9-1.4 0zM110.4 148.9l1.6-.1-2.5-1-1.7 .1zM121 151.1l2-.3-2.3-.9-1.9 .2zM137.5 153.2l2.8 .1-1.5-.4-2.8-.1z"/>
<path color="#2b92ef" d="M96.7 142.3l2-.3-2.5-1.4-2.1 .3zM101.9 143.8l2.1-.3-2.4-1.4-2.1 .3zM177.4 155.6l3.2-.1-1.4-.3-3.2 .1z"/>
<path color="#1aabdd" d="M56.2 131.8l1 .2-3-1.3-.9-.2zM61 133.7l1 .1-2.9-1.2-1-.2zM70.6 137.2l1.1 .1-2.8-1.2-1.2-.1zM75.4 138.9l1.2 .1-2.8-1.2-1.3-.1zM119.3 150.6l2-.3-2.2-1-2 .2zM130 152.4l2.5-.2-1.7-.9-2.6 .2zM150.5 154.4l3 .1-1.5-.2-2.9-.1z"/>
<path color="#15afd9" d="M51.4 130.1l.6 .2-3-1.3-.5-.1zM58.4 133l.8 .1-2.9-1.2-.8-.2zM75.1 139l1.1 .2-2.9-1.1-1.1-.2zM95 145.1l1.4 0-2.7-1-1.4 0zM113.4 149.5l1.7-.1-2.5-1-1.7 .2zM124 151.6l2.1-.2-2.1-1-2.1 .3zM140.7 153.5l2.8 .2-1.5-.3-2.8-.2z"/>
<path color="#1ca9e0" d="M60 133.2l1.1 .1-2.9-1.4-1.1-.1zM79.5 140l1.4 .1-2.8-1.2-1.4 0zM105.1 147.3l1.7-.2-2.5-1-1.7 .1zM158.9 154.9l3 .2-1.4-.1-3-.2z"/>
<path color="#2e82f9" d="M130.2 148.2l2.7-.4-2.1-1.2-2.7 .4z"/>
<path color="#14b0d8" d="M51.1 130l.3 .1-2.9-1.3-.4-.1zM53.4 131l.5 .1-2.9-1.3-.6-.1zM60.3 133.8l.8 .1-2.9-1.2-.8-.2zM72.2 138.1l1.1 .2-2.9-1.2-1-.1zM84.4 142.1l1.2 .1-2.8-1.1-1.2-.1zM92 144.3l1.4 0-2.8-.9-1.3-.1zM99.7 146.3l1.4 0-2.7-.9-1.4 0zM107.4 148.2l1.5-.1-2.6-.9-1.5 .1zM118.1 150.5l1.7-.2-2.4-.9-1.8 .2zM131.3 152.6l2.6-.1-1.6-.6-2.6 .1zM134.4 152.9l2.7 0-1.5-.5-2.7 0z"/>
<path color="#13b1d7" d="M53 130.9l.4 .1-3-1.3-.3-.1zM55.3 131.8l.6 .1-3-1.2-.6-.2zM62.2 134.5l.8 .2-2.9-1.2-.8-.2zM74.1 138.8l1 .1-2.8-1.1-1.1-.1zM81.5 141.2l1.2 .1-2.8-1-1.2-.1zM104.4 147.5l1.5 0-2.7-.9-1.5 0zM115.1 149.9l1.6-.1-2.5-1-1.6 .2zM125.4 151.9l2.3-.2-2-1-2.3 .3z"/>
<path color="#20a5e3" d="M70.2 136.5l1.4 0-2.9-1.3-1.3 0zM75.2 138.2l1.4 0-2.8-1.3-1.4 0zM80.2 139.8l1.5 0-2.8-1.3-1.5 .1zM85.2 141.4l1.5-.1-2.7-1.2-1.6 .1zM111.2 148.4l1.9-.3-2.4-1.1-1.9 .3zM119.2 150.1l2.1-.3-2.2-1.1-2.1 .3zM130.3 152.1l2.5-.3-1.8-.9-2.6 .2zM141.5 153.5l2.8-.1-1.6-.6-2.8 .1z"/>
<path color="#16afda" d="M56.5 132.2l.8 .2-2.9-1.3-.8-.2z"/>
<path color="#11b1d6" d="M55 131.7l.3 .1-2.9-1.3-.4-.1zM57.2 132.6l.6 .1-3-1.2-.5-.1zM64.1 135.2l.8 .2-2.9-1.1-.8-.2zM71.3 137.8l1 .2-2.9-1.1-.9-.2zM83.3 141.8l1.2 .1-2.8-1-1.2-.1zM90.9 144l1.2 .1-2.7-1-1.3-.1zM109 148.6l1.6 0-2.6-.9-1.6 0zM119.6 150.8l1.8-.1-2.4-1-1.8 .2zM135.8 153l2.8 .2-1.5-.4-2.7-.2z"/>
<path color="#2d87f6" d="M131.7 149.3l2.7-.4-2.1-1.1-2.6 .3z"/>
<path color="#13b0d7" d="M57.8 132.8l.6 .1-2.9-1.2-.7-.2zM69.5 137.2l.9 .1-2.8-1.1-1-.2zM89.1 143.5l1.3 .1-2.8-1-1.3-.1zM96.7 145.6l1.4 0-2.7-.9-1.4-.1zM128.3 152.3l2.5-.2-1.8-.8-2.4 .2z"/>
<path color="#1babdd" d="M65.8 135.5l1.1 .1-2.9-1.2-1.1-.1z"/>
<path color="#10b2d5" d="M56.9 132.5l.3 .1-2.9-1.3-.4-.1zM59.1 133.3l.6 .2-2.9-1.2-.6-.1zM61.6 134.3l.7 .2-3-1.2-.6-.2zM68.6 136.9l.9 .2-2.9-1.1-.9-.2zM80.5 140.9l1.1 .2-2.8-1-1.1-.2zM88 143.2l1.2 .1-2.8-.9-1.2-.2zM95.5 145.3l1.3 .1-2.7-.9-1.3-.1zM106.1 147.9l1.4 0-2.6-.9-1.5 0zM116.7 150.2l1.6-.1-2.5-.9-1.6 .1zM129.7 152.4l2.6 0-1.6-.7-2.6 .1z"/>
<path color="#12b1d6" d="M59.7 133.5l.7 .2-3-1.2-.7-.2zM66.8 136.2l.8 .2-2.8-1.2-.9-.1zM78.7 140.3l1.1 .2-2.8-1.1-1.1-.1zM86.2 142.6l1.2 .2-2.8-1-1.2-.2zM93.8 144.8l1.3 .1-2.7-1-1.4-.1zM101.4 146.8l1.4 0-2.7-.9-1.4 0zM112 149.2l1.6 0-2.5-.9-1.6 0zM122.6 151.4l1.9-.2-2.2-1-2 .3zM139 153.3l2.7 .2-1.4-.3-2.8-.2zM142.1 153.6l2.8 .2-1.4-.2-2.8-.2z"/>
<path color="#15afd8" d="M63 134.7l.9 .2-2.9-1.2-.9-.2zM87.3 142.9l1.3 .1-2.8-1-1.2-.1z"/>
<path color="#0eb3d4" d="M58.8 133.2l.3 .1-2.9-1.2-.3-.1zM61 134.1l.6 .2-2.9-1.2-.6-.2zM100.1 146.5l1.4 .1-2.7-.9-1.4-.1zM121.2 151.2l1.8-.2-2.4-.9-1.8 .2zM140.4 153.4l2.8 .3-1.5-.2-2.7-.3z"/>
<path color="#14b0d7" d="M64.9 135.5l.9 .2-2.9-1.2-.9-.2zM76.9 139.7l1.1 .1-2.8-1-1.1-.2z"/>
<path color="#0cb3d3" d="M60.7 134l.3 .1-2.9-1.2-.3-.1zM62.9 134.8l.6 .2-2.9-1.1-.6-.2zM65.3 135.7l.7 .2-2.9-1.1-.7-.2zM72.3 138.3l.9 .2-2.9-1.1-.8-.2zM79.5 140.7l1 .2-2.8-1.1-1-.1zM86.9 142.9l1.1 .2-2.8-1-1.1-.1zM104.7 147.6l1.4 .1-2.6-.8-1.4-.1zM115.3 149.9l1.6 0-2.6-.8-1.6 0zM131.1 152.5l2.7 .1-1.5-.5-2.7-.1z"/>
<path color="#0eb2d4" d="M63.4 135l.7 .2-2.9-1.1-.7-.2zM70.5 137.6l.8 .2-2.8-1.1-.9-.2zM77.7 140.1l1 .1-2.8-1-1-.2zM85.1 142.4l1.1 .1-2.7-1-1.2-.1zM92.6 144.5l1.2 .1-2.7-.9-1.3-.1zM110.7 149l1.5 0-2.6-.9-1.5 0zM124.1 151.7l2-.2-2.2-1-2 .3z"/>
<path color="#1ea6e1" d="M83.9 141.2l1.4-.1-2.7-1.2-1.5 .1z"/>
<path color="#0ab4d1" d="M62.6 134.7l.3 .1-2.9-1.1-.3-.1zM64.8 135.6l.5 .1-2.9-1.1-.5-.2zM98.9 146.2l1.3 .2-2.7-.9-1.3-.1zM109.3 148.7l1.5 0-2.6-.8-1.5 0zM122.7 151.4l1.8-.1-2.3-.9-1.8 .2z"/>
<path color="#0fb2d5" d="M66 136l.8 .2-2.9-1.2-.8-.2zM73.2 138.5l.9 .2-2.8-1.1-1-.2zM113.7 149.6l1.6 0-2.6-.9-1.6 0zM126.8 152.1l2.4-.2-1.9-.8-2.3 .2z"/>
<path color="#19acdc" d="M77.2 139.6l1.2 0-2.8-1.1-1.2-.1zM113.2 149.3l1.8-.1-2.5-1.1-1.7 .2z"/>
<path color="#08b5d0" d="M64.4 135.4l.4 .1-2.9-1.1-.4-.1zM69 137.1l.7 .2-2.9-1.1-.6-.2zM85.8 142.6l1.1 .2-2.8-.9-1.1-.2z"/>
<path color="#0db3d3" d="M67.9 136.7l.7 .2-2.8-1.2-.8-.1zM75 139.2l.9 .2-2.8-1.1-1-.2zM82.3 141.5l1.1 .2-2.8-1-1.1-.2zM89.7 143.7l1.2 .2-2.8-1-1.2-.1zM97.2 145.8l1.3 .1-2.7-.9-1.3-.1zM107.7 148.3l1.5 0-2.7-.8-1.4 0zM118.3 150.6l1.6-.1-2.5-.9-1.6 .1zM134.2 152.8l2.7 .2-1.5-.4-2.7-.2zM137.3 153.1l2.8 .2-1.5-.2-2.8-.3z"/>
<path color="#0ab4d2" d="M67.2 136.4l.7 .2-2.9-1.1-.7-.2zM84.1 142.1l1 .2-2.8-1-1-.2zM91.4 144.3l1.2 .1-2.7-.9-1.2-.2z"/>
<path color="#07b5d0" d="M66.6 136.2l.6 .2-2.9-1.1-.5-.1zM75.9 139.5l.9 .2-2.8-1-.9-.2zM83.1 141.8l1 .2-2.8-.9-1-.2zM93.2 144.7l1.2 .2-2.8-.9-1.2-.1zM103.5 147.4l1.3 .1-2.7-.8-1.3-.1zM113.9 149.7l1.5 0-2.6-.8-1.5 0zM126.8 152.2l2.3-.2-1.8-.8-2.3 .2zM129.6 152.3l2.6 .1-1.5-.5-2.7-.1z"/>
<path color="#06b5cf" d="M66.3 136.1l.3 .1-2.8-1.1-.4-.1zM70.9 137.8l.7 .2-2.9-1.1-.7-.2zM73.4 138.6l.7 .3-2.8-1.1-.8-.2zM80.4 141l.9 .2-2.8-1-.9-.2zM90.4 144l1.1 .2-2.8-.9-1.1-.2zM100.6 146.7l1.3 .1-2.7-.8-1.3-.1zM111 149l1.4 .1-2.6-.7-1.5-.1zM124.3 151.7l1.8-.2-2.3-.8-1.9 .2z"/>
<path color="#0bb4d2" d="M69.7 137.3l.8 .2-2.9-1-.8-.2zM76.8 139.8l.9 .2-2.8-1-.9-.2zM101.8 146.9l1.4 .1-2.7-.8-1.4-.1zM112.3 149.3l1.5 0-2.6-.8-1.5 0zM125.5 152l2.1-.3-2-.9-2.1 .3z"/>
<path color="#1da8e1" d="M90.6 143.3l1.5-.1-2.7-1.1-1.5 .1zM111.4 148.7l1.8-.3-2.4-1-1.9 .2zM147.7 154.2l2.9 0-1.5-.4-2.9 0z"/>
<path color="#1baadf" d="M86.2 142.2l1.4 0-2.8-1.1-1.4 0z"/>
<path color="#05b5cf" d="M68.5 136.9l.5 .2-2.8-1.1-.6-.1zM87.6 143.2l1 .2-2.7-.9-1.1-.2zM97.7 146l1.2 .1-2.7-.8-1.2-.2zM108 148.4l1.4 .1-2.6-.7-1.4-.1zM121.4 151.1l1.6 0-2.5-.8-1.6 .1z"/>
<path color="#04b6ce" d="M68.2 136.8l.3 .1-2.9-1-.3-.2zM75.2 139.3l.8 .2-2.9-1-.8-.2zM84.8 142.4l1 .2-2.7-.9-1.1-.2zM115.5 149.9l1.5 .1-2.6-.7-1.5 0zM131 152.2l2.7 .4-1.5-.2-2.7-.4z"/>
<path color="#11b2d5" d="M75.9 139.4l1 .2-2.8-1.1-1-.1zM98.4 146.1l1.4 0-2.7-.9-1.4-.1zM132.8 152.7l2.6 .1-1.5-.5-2.7-.1z"/>
<path color="#08b4d1" d="M71.5 138l.8 .2-2.8-1-.8-.2zM96 145.5l1.3 .1-2.8-.8-1.2-.2zM106.4 148l1.4 .1-2.7-.8-1.4-.1zM135.7 152.8l2.7 .4-1.5-.3-2.7-.2z"/>
<path color="#04b6cd" d="M70.3 137.6l.6 .2-2.9-1.1-.5-.2zM72.7 138.4l.7 .2-2.9-1-.7-.2zM82.2 141.5l.9 .3-2.8-1-1-.2zM92.1 144.5l1.1 .2-2.8-.9-1.1-.2zM102.2 147.1l1.3 .1-2.7-.7-1.3-.2z"/>
<path color="#249fe6" d="M115.9 148.9l2.1-.3-2.2-1.2-2.2 .3zM124 150.5l2.4-.3-2.1-1.1-2.3 .4zM168.6 155.5l3.1 0-1.4-.2-3.1 0z"/>
<path color="#09b4d1" d="M74.1 138.9l.9 .2-2.8-1-.9-.2zM81.3 141.3l1 .1-2.8-.9-1-.2zM88.6 143.5l1.1 .1-2.7-.9-1.2-.2zM119.8 150.8l1.7 0-2.5-.8-1.6 0z"/>
<path color="#02b7cc" d="M70 137.5l.3 .1-2.8-1.1-.4-.1zM72.1 138.2l.6 .2-2.9-1-.5-.2zM74.5 139l.7 .3-2.9-1-.6-.3zM83.9 142.1l1 .2-2.8-.9-1-.2zM86.6 142.9l1 .2-2.8-.9-1-.2zM93.8 144.9l1.1 .2-2.8-.8-1.1-.2zM96.6 145.7l1.1 .2-2.7-.8-1.2-.2zM106.8 148.1l1.3 .2-2.7-.7-1.3-.2zM120.1 150.7l1.5 .1-2.6-.6-1.5-.1z"/>
<path color="#1aacdc" d="M89.8 143.4l1.3 0-2.7-1-1.4-.1zM123.9 151.5l2.2-.3-2-1-2.2 .3zM137.7 153.2l2.8 .1-1.5-.6-2.8 0z"/>
<path color="#08b4d0" d="M78.6 140.4l.9 .2-2.8-1-.9-.2zM116.9 150.3l1.5-.1-2.5-.7-1.6 0zM132.6 152.5l2.7 .3-1.5-.3-2.7-.2z"/>
<path color="#05b6ce" d="M77.7 140.1l.9 .3-2.8-1-.9-.3zM94.9 145.2l1.2 .2-2.8-.8-1.2-.2zM105.1 147.8l1.4 .1-2.7-.8-1.3-.1zM118.5 150.5l1.5 0-2.6-.7-1.5 0z"/>
<path color="#03b7cc" d="M77 139.9l.8 .2-2.9-1-.8-.2zM123 151.3l1.6 0-2.6-.7-1.5 .1z"/>
<path color="#01b7ca" d="M76.3 139.6l.7 .3-2.9-1-.6-.2zM88.3 143.4l1 .2-2.8-.8-1-.2zM111.3 149.1l1.3 .1-2.6-.6-1.4-.2z"/>
<path color="#03b6cd" d="M79.5 140.7l.9 .2-2.8-.9-.9-.2zM89.3 143.7l1.1 .2-2.8-.9-1.1-.2zM99.4 146.4l1.2 .2-2.7-.8-1.2-.2zM109.7 148.7l1.3 .2-2.6-.7-1.4-.2zM112.6 149.4l1.4 .1-2.6-.7-1.4-.1zM125.8 152l1.8-.2-2.3-.9-1.8 .2zM128 152l2.6 .2-1.5-.4-2.6-.2z"/>
<path color="#01b7cb" d="M78.8 140.5l.7 .2-2.8-1-.8-.2zM101.1 146.8l1.2 .2-2.7-.8-1.3-.2z"/>
<path color="#02b7cb" d="M81.3 141.3l.9 .2-2.8-.9-.9-.2zM91 144.2l1.1 .2-2.8-.8-1-.3zM103.9 147.5l1.3 .1-2.7-.7-1.3-.2zM114.2 149.6l1.4 .2-2.6-.6-1.4-.2zM117.1 150.2l1.5 .1-2.6-.6-1.5-.1z"/>
<path color="#00b8c9" d="M80.5 141l.8 .3-2.8-.9-.8-.3zM102.7 147.2l1.2 .2-2.7-.7-1.2-.2zM115.8 149.9l1.4 .2-2.7-.6-1.4-.2z"/>
<path color="#01b8c9" d="M83.1 141.8l.8 .3-2.8-.9-.8-.3zM92.7 144.6l1.1 .3-2.8-.8-1-.3zM105.5 147.8l1.3 .2-2.7-.7-1.2-.2zM118.7 150.4l1.4 .2-2.6-.5-1.4-.2zM121.6 150.9l1.5 .2-2.6-.5-1.5-.2z"/>
<path color="#0bb3d2" d="M94.3 145l1.3 .2-2.8-.9-1.2-.2zM128.2 152.3l2.5-.1-1.7-.7-2.5 .1z"/>
<path color="#01b8ca" d="M85.7 142.6l.9 .3-2.8-.9-.9-.3zM95.5 145.4l1.1 .2-2.8-.8-1.1-.2zM98.2 146.1l1.2 .2-2.7-.8-1.2-.2zM108.4 148.4l1.3 .2-2.7-.6-1.3-.2zM124.6 151.3l1.5 .3-2.6-.5-1.5-.2z"/>
<path color="#00b9c8" d="M87.4 143.1l.9 .3-2.8-.9-.9-.2zM97.1 145.8l1.2 .2-2.8-.7-1.1-.2zM110 148.8l1.3 .2-2.7-.6-1.3-.2z"/>
<path color="#0fb2d4" d="M103.1 147.2l1.4 .1-2.7-.9-1.4-.1z"/>
<path color="#19addb" d="M117.9 150.4l1.9-.3-2.4-1-1.9 .3z"/>
<path color="#00b8c8" d="M90 143.9l1 .2-2.7-.8-1-.2zM99.9 146.5l1.2 .2-2.7-.7-1.2-.2zM112.9 149.3l1.3 .2-2.6-.5-1.4-.2z"/>
<path color="#00b9c7" d="M91.7 144.3l1 .3-2.7-.8-1-.2zM94.4 145.1l1.1 .2-2.8-.7-1-.3zM104.3 147.5l1.3 .3-2.7-.7-1.3-.2zM107.2 148.1l1.2 .3-2.7-.6-1.2-.3z"/>
<path color="#01bac5" d="M98.8 146.2l1.1 .3-2.7-.7-1.1-.3z"/>
<path color="#00b9c6" d="M101.6 146.9l1.1 .2-2.7-.6-1.1-.3z"/>
<path color="#12b1d7" d="M145.2 153.9l2.9 .2-1.4-.1-2.9-.3z"/>
<path color="#3a73ff" d="M262.1 151l3.7-.5-1.2 .2-3.7 .5z"/>
<path color="#3777fe" d="M263.2 150.8l3.7-.5-1.1 .3-3.7 .4z"/>
<path color="#3875fe" d="M259.5 151.3l3.7-.4-1.2 .2-3.6 .4z"/>
<path color="#3974ff" d="M255.8 151.8l3.7-.4-1.2 .2-3.6 .4z"/>
<path color="#337afd" d="M264.3 150.5l3.6-.5-1 .4-3.7 .4z"/>
<path color="#3579fd" d="M260.6 151.1l3.7-.5-1.1 .3-3.7 .5z"/>
<path color="#3678fe" d="M256.9 151.6l3.7-.4-1.1 .2-3.7 .5z"/>
<path color="#3776fe" d="M253.3 152.1l3.6-.4-1.2 .2-3.6 .4z"/>
<path color="#307efb" d="M265.3 150.1l3.7-.4-1.1 .4-3.6 .4zM259.1 151.1l3.7-.4-1.1 .3-3.7 .4zM249.3 152.4l3.7-.3-1.2 .2-3.6 .4zM239.6 153.5l3.6-.3-1.2 .2-3.6 .3z"/>
<path color="#327cfc" d="M261.7 150.8l3.7-.4-1.1 .3-3.7 .4zM251.9 152.2l3.6-.4-1.1 .2-3.7 .4zM242.1 153.3l3.5-.3-1.1 .1-3.6 .4z"/>
<path color="#337bfc" d="M258 151.4l3.7-.4-1.1 .3-3.7 .4z"/>
<path color="#347afd" d="M254.4 151.9l3.6-.4-1.1 .2-3.6 .5zM244.6 153.1l3.5-.4-1.1 .2-3.6 .3z"/>
<path color="#3578fd" d="M250.7 152.4l3.7-.4-1.2 .2-3.6 .4z"/>
<path color="#2f81fa" d="M266.3 149.7l3.7-.4-1 .5-3.7 .4zM260.2 150.7l3.6-.4-1 .5-3.7 .4zM250.4 152.2l3.7-.4-1.1 .4-3.7 .3zM240.8 153.3l3.5-.2-1.1 .2-3.6 .3z"/>
<path color="#2f80fb" d="M262.7 150.4l3.7-.4-1 .4-3.7 .5zM246.8 152.7l3.6-.4-1.1 .3-3.6 .3z"/>
<path color="#317dfc" d="M255.5 151.6l3.6-.3-1.1 .3-3.6 .4zM245.7 152.9l3.6-.3-1.1 .2-3.6 .3z"/>
<path color="#337bfd" d="M248.2 152.7l3.6-.4-1.1 .2-3.6 .4z"/>
<path color="#2e84f8" d="M267.3 149.3l3.7-.4-1 .6-3.7 .4zM251.5 151.8l3.6-.3-1 .4-3.6 .3zM232.3 154.1l3.5-.2-1.2 .1-3.5 .3z"/>
<path color="#2e83f9" d="M263.8 150l3.6-.4-1 .5-3.7 .4zM257.6 151l3.7-.4-1.1 .5-3.6 .3zM247.9 152.4l3.6-.3-1.1 .3-3.6 .3zM238.3 153.5l3.5-.2-1.1 .2-3.6 .3z"/>
<path color="#2f80fa" d="M256.6 151.3l3.6-.3-1.1 .3-3.6 .4zM237.1 153.7l3.6-.2-1.2 .1-3.5 .3z"/>
<path color="#307ffb" d="M253 151.9l3.6-.3-1.1 .3-3.6 .3zM243.2 153.1l3.6-.3-1.1 .2-3.6 .3z"/>
<path color="#2d88f6" d="M268.3 148.8l3.7-.4-1 .7-3.7 .3zM262.2 149.9l3.6-.4-1 .6-3.6 .4zM246.5 152.3l3.6-.3-1.1 .4-3.5 .3zM237 153.5l3.5-.3-1.1 .4-3.5 .2zM223.9 154.7l3.5-.2-1.2 .2-3.5 .2z"/>
<path color="#2e86f7" d="M264.7 149.6l3.7-.4-1 .6-3.6 .4zM249 152.1l3.6-.3-1.1 .4-3.5 .3zM239.4 153.3l3.6-.3-1.1 .3-3.6 .3zM229.9 154.3l3.5-.3-1.2 .2-3.5 .3z"/>
<path color="#2e85f8" d="M261.2 150.3l3.6-.3-1 .5-3.6 .3zM255.1 151.2l3.6-.3-1 .5-3.7 .3zM245.5 152.6l3.5-.3-1.1 .4-3.5 .3zM235.9 153.7l3.5-.2-1.2 .2-3.5 .3zM222.7 154.9l3.5-.2-1.2 0-3.5 .2z"/>
<path color="#2f82f9" d="M254 151.6l3.7-.3-1.1 .3-3.6 .4zM234.7 153.9l3.5-.2-1.1 .1-3.6 .3z"/>
<path color="#2d8bf3" d="M269.2 148.3l3.7-.4-.9 .7-3.7 .4zM228.6 154.2l3.5-.2-1.1 .3-3.5 .2zM212.2 155.4l3.4-.1-1.3 0-3.4 .2z"/>
<path color="#2d8af5" d="M265.7 149.1l3.7-.4-1 .7-3.6 .3zM259.6 150.1l3.7-.3-1 .6-3.6 .3zM244.1 152.5l3.5-.3-1 .5-3.6 .2zM234.6 153.6l3.5-.2-1.1 .4-3.6 .2zM221.6 154.8l3.4-.1-1.2 .1-3.4 .2zM218 155.1l3.5-.2-1.3 .1-3.4 .2z"/>
<path color="#2e87f7" d="M258.6 150.6l3.7-.4-1 .6-3.7 .3zM243 152.8l3.6-.2-1.1 .3-3.6 .3z"/>
<path color="#2c8ff1" d="M270.1 147.7l3.7-.3-.9 .7-3.7 .4z"/>
<path color="#2d8df2" d="M266.6 148.6l3.7-.4-.9 .7-3.7 .4zM260.6 149.6l3.6-.3-.9 .7-3.7 .3zM245.1 152.1l3.6-.2-1.1 .5-3.5 .2zM235.7 153.3l3.5-.1-1.1 .3-3.5 .2zM222.7 154.7l3.5-.2-1.2 .2-3.4 .2z"/>
<path color="#2f82fa" d="M244.4 152.9l3.5-.3-1.1 .3-3.6 .3zM231.1 154.3l3.5-.3-1.2 .1-3.5 .3z"/>
<path color="#2d8cf3" d="M263.1 149.4l3.7-.4-1 .7-3.6 .3zM257.1 150.4l3.6-.3-1 .6-3.6 .3zM251.1 151.3l3.6-.3-1 .6-3.6 .2zM241.6 152.7l3.6-.2-1.1 .4-3.6 .2zM232.2 153.8l3.5-.2-1.2 .3-3.5 .2zM219.2 155l3.5-.2-1.2 .2-3.5 .1zM215.7 155.2l3.4-.1-1.2 .1-3.4 .1z"/>
<path color="#2f7ffb" d="M233.5 154.1l3.6-.3-1.2 .1-3.6 .3z"/>
<path color="#2a92ee" d="M270.9 147.1l3.7-.3-.8 .8-3.7 .3zM265 148.3l3.6-.3-.9 .7-3.6 .4zM243.7 151.9l3.5-.2-1 .6-3.5 .2zM234.3 153.1l3.5-.1-1 .5-3.5 .1zM208.8 155.4l3.4-.1-1.2 .2-3.4 .1z"/>
<path color="#2d89f6" d="M256.1 150.8l3.6-.3-1 .5-3.6 .4zM227.5 154.4l3.5-.2-1.2 .2-3.5 .2z"/>
<path color="#2d87f7" d="M252.6 151.5l3.6-.3-1.1 .4-3.6 .4zM233.4 153.9l3.6-.2-1.2 .2-3.5 .3zM220.4 155l3.4-.2-1.2 .1-3.5 .2z"/>
<path color="#2c91ef" d="M267.5 148l3.7-.3-.9 .7-3.7 .4zM214.6 155.1l3.4-.1-1.2 .2-3.4 .1z"/>
<path color="#2c8ff0" d="M264.1 148.8l3.6-.3-.9 .7-3.6 .4zM258.1 149.9l3.6-.3-1 .7-3.6 .3zM242.7 152.3l3.5-.2-1 .5-3.6 .2zM233.3 153.5l3.5-.2-1.1 .4-3.5 .2zM220.4 154.8l3.4-.2-1.1 .3-3.5 .1z"/>
<path color="#2e84f9" d="M241.9 153.1l3.6-.3-1.2 .3-3.5 .3zM228.7 154.4l3.5-.2-1.2 .1-3.5 .3z"/>
<path color="#2896ec" d="M271.7 146.5l3.7-.4-.8 .9-3.7 .4zM265.8 147.7l3.6-.3-.8 .8-3.6 .3zM244.7 151.4l3.5-.2-1 .7-3.5 .2z"/>
<path color="#2994ed" d="M268.4 147.4l3.6-.3-.8 .8-3.7 .3zM262.4 148.5l3.6-.3-.8 .8-3.7 .3zM247.1 151.2l3.6-.2-1 .7-3.6 .2zM241.3 152l3.5-.1-1 .6-3.6 .1zM232 153.3l3.4-.2-1 .5-3.5 .2zM219.2 154.6l3.5-.1-1.2 .3-3.4 .1zM199.6 155.8l3.4-.1-1.3 .1-3.3 0zM203.1 155.6l3.3 0-1.2 .1-3.3 0z"/>
<path color="#2d8bf4" d="M253.6 151.1l3.6-.3-1 .5-3.6 .3zM247.6 151.9l3.6-.2-1.1 .4-3.6 .3zM238.1 153.2l3.5-.2-1.1 .3-3.5 .3zM225.1 154.5l3.5-.1-1.2 .2-3.5 .2z"/>
<path color="#2d89f5" d="M250.1 151.7l3.6-.3-1.1 .5-3.6 .3zM240.5 153l3.6-.2-1.1 .3-3.6 .3zM231 154.1l3.5-.3-1.1 .3-3.5 .2z"/>
<path color="#2699e9" d="M272.5 145.8l3.7-.3-.8 .9-3.6 .3zM266.6 147l3.6-.3-.8 .9-3.6 .3zM260.7 148.1l3.6-.2-.8 .8-3.6 .3zM245.6 150.9l3.6-.2-1 .7-3.5 .2zM230.6 153l3.5-.1-1.1 .6-3.4 .1zM218.1 154.4l3.4 0-1.2 .4-3.4 0zM205.5 155.3l3.4 0-1.2 .2-3.4 .1zM202.1 155.5l3.3 0-1.2 .2-3.3 0z"/>
<path color="#2b91ef" d="M261.5 149.1l3.6-.3-.9 .7-3.6 .3zM255.5 150.1l3.6-.2-.9 .6-3.6 .3zM240.2 152.5l3.6-.2-1.1 .5-3.5 .2zM230.9 153.6l3.5-.1-1.1 .4-3.5 .1zM218.1 154.9l3.4-.2-1.2 .3-3.4 .1z"/>
<path color="#2798ea" d="M269.2 146.8l3.6-.4-.8 .9-3.6 .3zM263.3 147.9l3.6-.3-.9 .9-3.6 .3zM242.2 151.6l3.6-.2-1 .7-3.5 .1zM223.8 153.9l3.4 0-1.1 .4-3.4 .1zM211.2 155l3.4 0-1.2 .3-3.4 0z"/>
<path color="#2d8ef1" d="M254.6 150.6l3.6-.3-1 .6-3.6 .3zM248.6 151.5l3.6-.2-1 .5-3.6 .3zM239.2 152.8l3.5-.2-1.1 .5-3.5 .2zM229.8 153.9l3.5-.1-1.2 .3-3.5 .2zM216.9 155l3.4-.1-1.2 .2-3.4 .1zM213.4 155.3l3.4-.1-1.2 .1-3.4 .1z"/>
<path color="#259de7" d="M273.2 145.1l3.7-.3-.7 .9-3.7 .4zM267.4 146.4l3.6-.3-.8 .9-3.6 .3zM261.5 147.5l3.6-.3-.8 .9-3.6 .3zM240.8 151.2l3.5-.1-1 .7-3.5 .1zM191 155.8l3.2 0-1.3 .1-3.2 0zM194.4 155.7l3.2 0-1.2 .2-3.3-.1z"/>
<path color="#259be8" d="M269.9 146.1l3.7-.3-.8 .9-3.6 .3zM264.1 147.3l3.6-.3-.8 .9-3.6 .3zM258.2 148.4l3.6-.3-.8 .9-3.6 .2zM243.2 151l3.5-.1-.9 .7-3.6 .2zM228.3 153.1l3.4-.1-1 .6-3.5 .1zM215.8 154.5l3.4-.1-1.2 .4-3.4 .1zM203.3 155.3l3.3 .1-1.2 .2-3.3 0zM196.5 155.7l3.3 0-1.3 .1-3.2 0zM199.9 155.5l3.3 0-1.2 .2-3.3 0z"/>
<path color="#2a93ee" d="M259 149.3l3.6-.2-.9 .7-3.6 .3zM253 150.3l3.6-.2-.9 .7-3.6 .2zM225 154.2l3.5-.2-1.1 .4-3.5 .1zM212.3 155.2l3.4-.1-1.2 .2-3.4 .1z"/>
<path color="#23a0e5" d="M273.9 144.5l3.6-.4-.6 1-3.7 .3zM268.1 145.7l3.6-.3-.7 .9-3.6 .3zM262.3 146.8l3.6-.2-.8 .9-3.6 .3zM256.5 147.9l3.6-.2-.8 .9-3.6 .2zM241.7 150.6l3.5-.1-.9 .8-3.5 .1zM227 152.7l3.4 0-1 .6-3.5 .1zM214.6 154.2l3.4 0-1.1 .5-3.4 0zM202.3 155.1l3.3 .1-1.2 .3-3.3 0zM199 155.3l3.2 .1-1.2 .3-3.3-.1zM176.7 155.7l3.1 .1-1.3-.1-3.2 0z"/>
<path color="#2e86f8" d="M226.3 154.6l3.5-.2-1.2 .1-3.5 .2z"/>
<path color="#2c90f0" d="M252.1 150.8l3.6-.2-1 .6-3.6 .3zM236.8 153l3.5-.2-1.1 .5-3.5 .2zM223.9 154.4l3.5-.1-1.2 .3-3.4 .1zM211.1 155.4l3.4-.1-1.2 .1-3.4 .1zM207.6 155.5l3.4-.1-1.3 .1-3.4 .1z"/>
<path color="#249ee6" d="M270.6 145.4l3.7-.3-.7 .9-3.7 .4zM264.8 146.6l3.6-.3-.7 1-3.6 .2zM244.1 150.5l3.5-.2-.9 .8-3.5 .2zM229.3 152.6l3.4 0-1 .6-3.4 .1zM220.3 153.7l3.4 0-1.1 .5-3.4 .1zM216.9 154.1l3.4 0-1.1 .5-3.4 0zM207.9 154.9l3.3 0-1.1 .4-3.4-.1zM204.5 155.1l3.3 .1-1.2 .3-3.3-.1zM182.1 155.8l3.2 0-1.4 .1-3.1-.1zM185.5 155.8l3.2 0-1.3 .1-3.2-.1z"/>
<path color="#2896eb" d="M259.9 148.8l3.6-.3-.9 .8-3.6 .3zM216.9 154.7l3.4-.1-1.1 .4-3.4 0zM197.4 155.8l3.3-.1-1.2 .1-3.3 0z"/>
<path color="#21a3e4" d="M274.5 143.8l3.6-.3-.6 .9-3.6 .3zM248.3 149.1l3.5-.2-.8 .9-3.5 .2zM233.6 151.5l3.5 0-1 .7-3.5 .1zM215.7 153.8l3.4 0-1.1 .6-3.4 0zM203.5 154.9l3.3 0-1.2 .4-3.3 0zM174.6 155.6l3.2 .1-1.4 0-3.1-.1zM178 155.7l3.1 .1-1.3 0-3.1-.1zM181.3 155.7l3.2 .1-1.3 .1-3.2-.1z"/>
<path color="#2995ec" d="M256.5 149.6l3.6-.3-1 .8-3.5 .2zM222.7 154.3l3.4-.1-1.1 .3-3.4 .1z"/>
<path color="#22a1e4" d="M271.3 144.7l3.6-.3-.6 1-3.6 .3zM245 149.9l3.5-.2-.9 .9-3.5 .1zM230.3 152.1l3.4 0-1 .7-3.4 .1zM221.3 153.3l3.4 0-1.1 .6-3.3 0zM193.4 155.5l3.3 .1-1.3 .2-3.2-.1z"/>
<path color="#2b92ee" d="M249.6 151l3.6-.2-1 .6-3.6 .3zM221.6 154.5l3.4-.1-1.2 .3-3.4 .1zM205.3 155.6l3.4-.1-1.3 .1-3.3 .1zM201.9 155.7l3.3 0-1.3 0-3.3 .1z"/>
<path color="#1fa6e2" d="M275 143.2l3.6-.3-.5 .8-3.6 .4zM269.3 144.3l3.7-.3-.6 1-3.6 .3zM249.1 148.4l3.5-.1-.8 .9-3.5 .2zM243.4 149.4l3.5-.1-.8 .9-3.5 .1zM234.5 150.9l3.5 0-1 .8-3.4 .1zM220.1 152.9l3.3 0-1 .7-3.4 0zM207.9 154.2l3.3 .1-1.1 .5-3.3-.1zM189.2 155.4l3.2 .1-1.2 .3-3.2-.1zM192.5 155.2l3.2 .2-1.2 .3-3.2-.1zM195.8 155.1l3.3 .1-1.2 .3-3.3-.1z"/>
<path color="#2c90ef" d="M246.1 151.7l3.6-.2-1 .5-3.6 .3zM227.4 154.1l3.5-.2-1.2 .4-3.4 .1z"/>
<path color="#2698ea" d="M257.4 149l3.6-.3-.9 .8-3.6 .3zM251.5 150l3.6-.2-1 .7-3.5 .2zM236.4 152.3l3.5-.1-1 .6-3.5 .1zM227.2 153.5l3.5-.1-1.1 .5-3.5 .1zM214.6 154.8l3.4-.1-1.1 .3-3.4 .1zM191.8 155.9l3.3-.1-1.3 .1-3.3 0zM195.3 155.8l3.2 0-1.2 0-3.3 .1z"/>
<path color="#20a4e3" d="M271.9 144.1l3.6-.3-.5 .9-3.7 .3zM251.6 148.3l3.5-.2-.8 .9-3.5 .2zM245.9 149.2l3.5-.1-.9 .9-3.5 .1zM222.3 152.8l3.4 0-1 .7-3.4 0zM210.1 154.2l3.4 .1-1.2 .5-3.3-.1zM198 155.1l3.2 .1-1.2 .3-3.2 0z"/>
<path color="#1da8e0" d="M275.4 142.7l3.7-.4-.4 .8-3.7 .3zM261.2 145.7l3.5-.3-.6 1-3.6 .2zM241 149.5l3.5-.1-.9 .9-3.4 .1zM226.6 151.7l3.4 0-1 .8-3.4 0zM217.8 152.9l3.3 .1-1 .7-3.4-.1zM205.7 154.2l3.3 .1-1.1 .5-3.3-.1zM190.4 155.2l3.2 .1-1.2 .4-3.2-.2zM193.7 155l3.2 .2-1.2 .3-3.2-.1z"/>
<path color="#2796eb" d="M254 149.8l3.6-.2-1 .7-3.5 .2zM238.8 152.2l3.5-.2-1 .6-3.5 .2zM229.6 153.4l3.4-.1-1 .5-3.5 .1zM200.9 155.7l3.3-.1-1.2 .1-3.4 .1z"/>
<path color="#2895ec" d="M250.6 150.5l3.5-.2-.9 .7-3.6 .2zM235.4 152.8l3.5-.2-1.1 .6-3.5 .1zM226.1 153.8l3.5-.1-1.1 .5-3.5 .1zM213.5 155l3.4-.1-1.2 .3-3.4 .1zM210 155.3l3.4-.1-1.2 .2-3.4 .1z"/>
<path color="#1caadf" d="M275.7 142.4l3.6-.4-.2 .5-3.7 .4zM272.8 143l3.7-.4-.4 .8-3.7 .3zM258.7 145.8l3.5-.2-.6 1-3.6 .2zM244.3 148.7l3.4-.1-.8 1-3.5 .1zM238.7 149.6l3.4-.1-.9 1-3.4 0zM229.8 151.1l3.4 0-.9 .8-3.4 0zM203.5 154.2l3.3 .1-1.1 .6-3.3-.2zM185.1 155.3l3.1 .1-1.2 .3-3.2-.1zM188.3 155.1l3.2 .2-1.2 .3-3.2-.1z"/>
<path color="#21a3e3" d="M268.7 145l3.7-.3-.7 1-3.6 .2zM263 146.1l3.6-.2-.7 1-3.6 .2zM242.6 150l3.5-.1-.9 .9-3.5 .1zM228 152.2l3.4 0-1 .7-3.4 0zM219 153.3l3.4 .1-1.1 .6-3.3 0zM206.8 154.6l3.3 0-1.1 .5-3.3-.1zM184.6 155.6l3.2 .1-1.3 .2-3.1-.1zM188 155.6l3.2 .1-1.3 .2-3.2-.1zM191.3 155.4l3.2 .2-1.2 .2-3.2-.1z"/>
<path color="#1ea7e1" d="M272.4 143.5l3.7-.4-.5 .9-3.7 .3zM258 146.5l3.6-.2-.8 1-3.5 .2zM252.3 147.6l3.6-.2-.8 1-3.5 .2zM237.8 150.2l3.5 0-.9 .9-3.5 0zM223.3 152.3l3.4 0-1 .8-3.4 0zM211.2 153.8l3.3 .1-1.1 .6-3.3-.1zM202.4 154.5l3.3 .1-1.2 .5-3.2-.1zM199.1 154.8l3.3 .1-1.2 .5-3.2-.2zM167.4 155.4l3 .1-1.3 0-3.1-.2zM170.7 155.4l3 .2-1.3 0-3.1-.1zM173.9 155.5l3.1 .2-1.3 0-3.1-.1zM177.2 155.5l3.2 .2-1.3 .1-3.2-.2zM180.5 155.5l3.2 .2-1.3 .1-3.1-.1zM183.8 155.4l3.2 .2-1.3 .2-3.1-.1z"/>
<path color="#22a2e4" d="M265.5 145.9l3.7-.3-.8 1-3.6 .3zM259.8 147l3.6-.2-.8 1-3.6 .2zM254 148.1l3.6-.2-.8 .9-3.6 .2zM239.3 150.7l3.5-.1-1 .9-3.4 .1zM224.6 152.8l3.4 0-1 .6-3.4 .1zM212.4 154.2l3.3 0-1.1 .5-3.3 0zM200.1 155.1l3.3 .1-1.2 .3-3.3 0zM196.8 155.3l3.2 .1-1.2 .3-3.2-.1z"/>
<path color="#269ae9" d="M254.9 149.2l3.5-.2-.8 .8-3.6 .2zM239.8 151.7l3.5-.1-1 .6-3.5 .2zM221.5 154l3.4 0-1.1 .4-3.4 .1zM209 155.1l3.3 0-1.2 .3-3.3 0z"/>
<path color="#2d8ef2" d="M226.3 154.3l3.4-.1-1.1 .2-3.5 .2zM209.9 155.5l3.4-.1-1.3 0-3.4 .2z"/>
<path color="#2797eb" d="M248.1 150.7l3.5-.2-.9 .7-3.6 .2zM220.4 154.3l3.4 0-1.1 .4-3.5 0zM207.8 155.3l3.3 0-1.2 .2-3.3 0zM204.3 155.5l3.4 0-1.3 .1-3.3 .1z"/>
<path color="#249fe6" d="M259 147.7l3.6-.2-.8 .9-3.6 .2zM238.4 151.3l3.5-.1-1 .8-3.5 .1zM188.8 155.7l3.3 .1-1.3 .1-3.2-.1z"/>
<path color="#1babde" d="M273.1 142.7l3.6-.4-.2 .5-3.7 .3zM270.3 143.2l3.6-.3-.4 .7-3.6 .4zM261.7 145l3.6-.2-.6 .9-3.5 .2zM247.4 147.9l3.5-.1-.7 .9-3.5 .2zM241.9 148.8l3.4-.1-.8 1-3.5 .1zM233.1 150.4l3.4 0-.9 .9-3.4 0zM218.8 152.4l3.3 .1-1 .7-3.3 0zM206.8 153.8l3.3 .1-1.1 .6-3.3-.1zM194.9 154.7l3.2 .2-1.2 .4-3.2-.1zM160.3 155l2.9 .2-1.3-.1-3-.2zM163.5 155.1l3 .2-1.3 0-3.1-.2zM166.8 155.2l3 .2-1.4 .1-3-.2zM170 155.3l3.1 .2-1.4 .1-3-.2zM173.3 155.3l3 .2-1.3 .2-3-.2zM176.5 155.3l3.1 .2-1.3 .2-3.1-.2z"/>
<path color="#20a5e2" d="M266.2 145.2l3.6-.2-.6 .9-3.7 .3zM260.5 146.3l3.6-.2-.7 1-3.6 .2zM240.2 150.1l3.5-.1-.9 .9-3.5 .1zM169.3 155.5l3.1 .1-1.4-.1-3-.1zM175.9 155.6l3.2 .1-1.4 .1-3.1-.2zM179.3 155.6l3.1 .1-1.3 .1-3.1-.1zM182.6 155.6l3.1 .1-1.2 .2-3.2-.2z"/>
<path color="#1da9e0" d="M269.9 143.7l3.6-.3-.5 .9-3.7 .3zM255.5 146.7l3.6-.2-.8 1-3.5 .2zM249.9 147.7l3.5-.1-.8 1-3.5 .1zM235.4 150.3l3.5 0-.9 .9-3.5 0zM209 153.8l3.3 .1-1.1 .6-3.3-.1zM197 154.8l3.2 .1-1.2 .5-3.2-.2zM162.1 155.1l3.1 .2-1.4-.1-3-.2zM165.4 155.2l3.1 .2-1.4 0-3-.2zM168.7 155.3l3 .2-1.3 0-3-.1zM172 155.4l3 .2-1.3 .1-3.1-.2z"/>
<path color="#259de6" d="M255.7 148.6l3.6-.2-.9 .8-3.5 .2zM249.9 149.6l3.5-.2-.8 .8-3.6 .2zM235 151.9l3.5 0-1 .7-3.5 0zM225.9 153.2l3.5-.1-1.1 .6-3.4 .1zM213.5 154.5l3.4 0-1.2 .4-3.3 0zM201.1 155.3l3.3 .1-1.2 .2-3.3 0zM197.7 155.5l3.3 .1-1.2 .2-3.3-.1z"/>
<path color="#2a93ed" d="M237.8 152.6l3.5-.1-1 .5-3.5 .2zM228.5 153.7l3.5-.1-1.1 .4-3.5 .2zM215.8 154.9l3.4-.1-1.2 .3-3.4 .1z"/>
<path color="#259ce7" d="M252.4 149.4l3.5-.2-.9 .8-3.5 .2zM246.6 150.3l3.5-.1-.9 .7-3.6 .2zM231.7 152.5l3.4 0-1 .6-3.5 .1zM222.6 153.6l3.4 0-1.1 .5-3.4 .1zM219.2 154.1l3.4 0-1.1 .4-3.4 .1zM210.1 154.8l3.4 0-1.2 .4-3.3 0zM206.7 155.1l3.4 0-1.2 .3-3.4 0zM184.2 155.8l3.2 .1-1.4 0-3.2-.1zM187.6 155.8l3.2 .1-1.3 0-3.2 0z"/>
<path color="#1da8e1" d="M266.8 144.6l3.6-.3-.6 .9-3.6 .3z"/>
<path color="#269ae8" d="M249 150.2l3.6-.2-1 .8-3.5 .1zM234 152.4l3.5-.1-1 .7-3.5 .1zM224.9 153.6l3.4-.1-1.1 .5-3.4 .1zM212.4 154.8l3.3 0-1.1 .3-3.4 .1zM189.7 155.8l3.2 .1-1.3 0-3.2 0zM193.1 155.8l3.3 0-1.3 .1-3.3 0z"/>
<path color="#19addc" d="M270.5 142.9l3.7-.3-.3 .5-3.6 .3zM267.7 143.4l3.6-.3-.4 .8-3.6 .3zM259.2 145.2l3.6-.2-.6 .9-3.5 .2zM245 148l3.5-.1-.8 1-3.5 .1zM239.5 148.9l3.4-.1-.8 1-3.5 .1zM216.5 152.4l3.3 .1-1 .8-3.3-.1zM204.6 153.8l3.3 .1-1.1 .6-3.3-.1zM155.2 154.7l2.9 .2-1.4-.1-2.9-.2zM158.4 154.8l3 .3-1.4-.1-3-.2zM192.8 154.7l3.2 .2-1.2 .4-3.2-.2zM161.6 155l3 .2-1.4 0-2.9-.2zM164.9 155.1l3 .2-1.4 .1-3-.2zM168.1 155.2l3 .2-1.3 .1-3-.2zM171.3 155.2l3.1 .2-1.4 .2-3-.2zM174.5 155.2l3.1 .2-1.3 .3-3-.3z"/>
<path color="#1ea6e1" d="M263.7 145.5l3.6-.3-.7 1-3.6 .2zM228.9 151.7l3.4 0-.9 .8-3.5 0z"/>
<path color="#1baade" d="M267.3 144l3.6-.3-.5 .8-3.6 .3zM253 146.9l3.6-.2-.7 1-3.6 .2zM224.3 151.8l3.4 0-1 .8-3.4 0zM215.5 152.9l3.4 .1-1.1 .7-3.3-.1zM191.6 154.9l3.2 .2-1.2 .4-3.2-.1z"/>
<path color="#249fe5" d="M253.2 148.8l3.6-.2-.9 .8-3.5 .2zM247.5 149.7l3.5-.1-.9 .8-3.5 .2zM232.7 152.1l3.4-.1-1 .7-3.4 .1zM223.6 153.2l3.4 0-1 .6-3.4 0zM211.3 154.5l3.3 .1-1.1 .4-3.4 0zM192.2 155.6l3.2 .1-1.2 .2-3.2-.1zM195.6 155.5l3.2 .1-1.2 .2-3.3-.1z"/>
<path color="#01b7cb" d="M71.8 138.1l.3 .1-2.8-1-.3-.1zM228.5 148.5l3.4 0-.8 1.1-3.4-.1zM129.5 151.9l2.6 .5-1.5-.1-2.6-.5zM132.5 152.3l2.7 .5-1.5-.1-2.7-.5zM183.7 153.8l3.1 .4-1.2 .6-3.1-.3zM166.3 154.3l2.9 .4-1.3 .4-2.9-.4z"/>
<path color="#1ca9df" d="M264.3 144.8l3.6-.3-.6 1-3.6 .2zM221 152.4l3.4 0-1 .8-3.4-.1zM212.3 153.4l3.3 .1-1.1 .6-3.3 0zM200.3 154.5l3.2 .1-1.1 .5-3.3-.1zM178.5 155.4l3.1 .2-1.2 .2-3.2-.2zM181.8 155.4l3.1 .1-1.2 .3-3.2-.2z"/>
<path color="#21a4e3" d="M257.3 147.2l3.5-.2-.7 1-3.6 .2zM236.9 150.8l3.5 0-1 .8-3.4 .1zM194.7 155.3l3.2 .1-1.2 .3-3.3-.1z"/>
<path color="#17aeda" d="M268 143.1l3.6-.3-.2 .5-3.7 .3zM265.2 143.7l3.6-.3-.4 .7-3.6 .3zM256.8 145.3l3.5-.1-.6 .9-3.5 .2zM242.6 148.1l3.5-.1-.8 1-3.5 .1zM228.4 150.5l3.4 0-.9 1-3.4-.1zM219.7 151.8l3.4 .1-1 .8-3.3 0zM211.1 152.9l3.3 .1-1.1 .8-3.3-.2zM202.5 153.7l3.2 .2-1.1 .6-3.2-.1zM187.5 154.8l3.1 .2-1.2 .4-3.1-.2z"/>
<path color="#1aacdd" d="M264.8 144.2l3.6-.3-.5 .9-3.6 .3zM256.2 146l3.5-.2-.6 1-3.6 .2zM250.6 147l3.5-.1-.7 1-3.5 .1zM236.3 149.7l3.4-.1-.9 1-3.4 0zM222 151.8l3.4 .1-1 .8-3.4-.1zM213.3 152.9l3.3 .1-1 .7-3.3-.1zM201.4 154.1l3.2 .2-1.1 .6-3.2-.2zM183 155.2l3.2 .2-1.3 .3-3.1-.2zM186.3 155.1l3.1 .2-1.2 .3-3.1-.2z"/>
<path color="#23a1e4" d="M250.8 148.9l3.5-.1-.9 .9-3.5 .1zM209 154.6l3.3 0-1.1 .4-3.3 0zM186.7 155.7l3.2 .1-1.2 .1-3.2-.1zM190.1 155.6l3.2 .1-1.3 .2-3.2-.1z"/>
<path color="#2797ea" d="M233 152.9l3.5-.1-1.1 .5-3.4 .1z"/>
<path color="#01b7ca" d="M74 138.8l.5 .2-2.8-1-.6-.1zM245.1 145.4l3.5-.1-.6 .9-3.4 .1zM126.7 151.2l2.4 .8-1.6 0-2.5-.6zM169.4 154.3l2.9 .4-1.3 .4-2.9-.4z"/>
<path color="#01b8c9" d="M73.6 138.7l.4 .1-2.9-.9-.3-.2zM247.9 144.7l3.5-.1-.4 .8-3.5 .1zM231.6 147.7l3.3 0-.7 1.1-3.4 0zM189.9 153.3l3.1 .3-1.1 .7-3.1-.3zM175.6 154.1l2.9 .3-1.2 .6-3-.4z"/>
<path color="#1fa5e2" d="M254.8 147.4l3.5-.2-.7 1-3.6 .2zM225.6 152.3l3.4 0-1 .7-3.4 0zM216.8 153.4l3.3 0-1.1 .6-3.3 0zM204.6 154.6l3.3 0-1.2 .5-3.2-.1zM185.9 155.5l3.2 .1-1.3 .2-3.2-.1z"/>
<path color="#259be7" d="M237.4 151.8l3.5-.1-1 .7-3.5 .1z"/>
<path color="#15b0d8" d="M265.4 143.4l3.7-.3-.3 .4-3.6 .3zM262.7 143.9l3.6-.3-.4 .8-3.6 .2zM254.3 145.5l3.5-.2-.6 1-3.5 .2zM217.5 151.8l3.3 .1-1 .9-3.3-.1zM197.1 154l3.2 .2-1.1 .6-3.2-.2zM182.2 154.9l3.1 .2-1.2 .4-3.1-.2z"/>
<path color="#18aedb" d="M262.3 144.4l3.5-.3-.5 .9-3.6 .3zM248.2 147.2l3.4-.1-.7 1-3.5 .1zM233.9 149.7l3.4 0-.8 1-3.4 0zM199.2 154.1l3.3 .2-1.2 .5-3.2-.1zM181 155.1l3.1 .2-1.2 .3-3.1-.2zM184.2 155l3.2 .2-1.3 .4-3.1-.3z"/>
<path color="#00b8c9" d="M75.8 139.4l.5 .2-2.8-.9-.6-.2zM78.1 140.2l.7 .2-2.9-.9-.6-.2zM239.8 146.1l3.4 0-.6 1-3.4 .1zM209.6 151.1l3.2 .2-1 1-3.2-.2zM140 153l2.7 .5-1.5 .1-2.6-.5zM143.1 153.3l2.6 .5-1.4 .1-2.7-.5zM146.1 153.5l2.7 .5-1.4 .1-2.7-.4zM149.1 153.7l2.8 .5-1.4 .2-2.8-.5zM152.2 153.9l2.8 .4-1.4 .3-2.8-.5zM178.7 153.9l3 .4-1.3 .5-3-.3z"/>
<path color="#2995ed" d="M206.6 155.5l3.3-.1-1.2 .2-3.4 0z"/>
<path color="#00b9c7" d="M75.4 139.3l.4 .1-2.9-.9-.3-.1zM77.5 140l.6 .2-2.8-.9-.6-.2zM79.9 140.8l.6 .2-2.8-.9-.7-.2zM82.3 141.6l.8 .2-2.8-.9-.8-.2zM84.8 142.3l.9 .3-2.8-.9-.9-.2zM248.2 144.4l3.5-.1-.3 .5-3.5 .1zM245.5 144.8l3.5-.1-.4 .8-3.5 .1zM242.7 145.4l3.4 0-.5 .9-3.4 .1zM234.5 146.9l3.4 .1-.7 1-3.3 0zM221 149.2l3.3 .1-.9 1.1-3.3-.1zM120.3 150.6l1.4 .3-2.7-.5-1.4-.2zM123.2 151l1.4 .3-2.6-.3-1.4-.3zM212.7 150.5l3.2 .2-.9 1-3.3-.2zM126 151.1l1.6 .7-2.5 0-1.6-.6zM204.4 151.6l3.1 .2-1 1-3.1-.3zM196.1 152.5l3.1 .3-1 .8-3.2-.3zM184.8 153.4l3.1 .4-1.2 .7-3-.4zM167.5 154.1l2.9 .4-1.3 .5-2.9-.4zM170.6 154l2.9 .4-1.3 .5-2.9-.4z"/>
<path color="#12b1d6" d="M262.9 143.6l3.6-.3-.2 .5-3.6 .2zM260.2 144l3.6-.2-.5 .8-3.5 .2zM243.3 147.4l3.5-.1-.7 1-3.5 .1zM229.3 149.8l3.3 .1-.8 1-3.4-.1zM203.5 153.3l3.2 .2-1 .7-3.3-.2zM191.8 154.3l3.2 .2-1.2 .5-3.1-.2zM173.9 154.9l3 .3-1.3 .3-3-.3zM177 154.9l3.1 .2-1.3 .4-3-.3z"/>
<path color="#16afd9" d="M259.8 144.6l3.5-.3-.5 .9-3.6 .3zM251.2 146.3l3.6-.1-.7 1-3.5 .1zM222.9 151.2l3.4 .1-1 .9-3.3-.1zM214.3 152.4l3.3 .1-1 .8-3.3-.1zM205.7 153.3l3.2 .2-1.1 .7-3.2-.2zM153.4 154.5l2.9 .2-1.4 0-2.9-.3zM193.9 154.3l3.2 .2-1.2 .6-3.1-.2zM166.2 155l3 .3-1.4 .1-3-.2zM169.4 155.1l3 .2-1.3 .2-3-.2zM172.6 155.1l3 .2-1.3 .3-3-.3zM175.8 155l3.1 .3-1.3 .3-3.1-.3z"/>
<path color="#23a1e5" d="M236 151.4l3.5-.1-1 .8-3.5 .1zM218 153.8l3.3 0-1 .5-3.4 0zM205.7 154.9l3.3 0-1.2 .4-3.3 0zM180 155.7l3.2 .1-1.3 0-3.2 0zM183.4 155.7l3.2 .1-1.3 .1-3.2-.1z"/>
<path color="#00bac6" d="M77.2 139.9l.3 .1-2.8-.9-.3-.1zM86.5 142.8l.9 .3-2.8-.8-.8-.3zM144.4 153.3l2.7 .5-1.4 .2-2.7-.5zM147.5 153.5l2.7 .5-1.5 .2-2.7-.5z"/>
<path color="#1ea8e1" d="M246.7 148.6l3.5-.2-.8 1-3.5 .1zM232.2 151l3.4 0-.9 .8-3.5 .1zM214.5 153.4l3.3 .1-1 .6-3.4-.1zM187.1 155.3l3.2 .2-1.2 .3-3.2-.2z"/>
<path color="#0eb3d4" d="M260.4 143.7l3.6-.2-.2 .5-3.6 .2zM257.7 144.2l3.6-.2-.5 .8-3.5 .2zM227 149.9l3.3 0-.9 1-3.3 0zM201.4 153.2l3.2 .2-1.1 .8-3.2-.2zM189.8 154.2l3.1 .2-1.2 .6-3.1-.3zM171.9 154.8l3 .3-1.3 .3-3-.3z"/>
<path color="#18addb" d="M253.7 146.2l3.5-.2-.6 1-3.6 .2zM225.2 151.2l3.4 0-1 .9-3.3 0zM207.9 153.4l3.2 .1-1.1 .7-3.2-.1zM196 154.4l3.2 .2-1.2 .5-3.1-.2zM177.8 155.2l3.1 .2-1.3 .3-3.1-.3z"/>
<path color="#13b1d7" d="M257.3 144.7l3.5-.2-.5 .9-3.5 .2zM220.7 151.2l3.3 .1-1 .9-3.3-.1zM212.1 152.4l3.3 .1-1.1 .8-3.2-.1zM148.4 154.1l2.9 .3-1.4-.1-2.9-.3zM151.6 154.3l2.9 .3-1.4 0-2.9-.3zM154.7 154.5l2.9 .3-1.3 0-2.9-.3zM164.3 154.9l3 .3-1.4 .1-2.9-.3zM167.5 154.9l3 .3-1.4 .2-2.9-.3zM170.7 154.9l3 .3-1.3 .3-3-.3z"/>
<path color="#2699ea" d="M198.7 155.7l3.3 0-1.3 .1-3.3 0z"/>
<path color="#01bac5" d="M79.3 140.6l.6 .2-2.9-.9-.5-.2zM81.6 141.3l.7 .3-2.8-.9-.7-.3zM84 142.1l.8 .2-2.8-.8-.8-.3zM96.1 145.5l1.1 .3-2.8-.7-1-.3zM240.3 145.5l3.5 0-.6 .9-3.4 .1zM108.8 148.4l1.2 .3-2.7-.5-1.2-.3zM111.6 149l1.3 .3-2.7-.5-1.3-.3zM224 148.5l3.3 .1-.8 1.1-3.3-.1zM215.7 149.9l3.3 .1-.9 1.1-3.3-.2zM207.4 151l3.2 .3-.9 .9-3.2-.2zM127.2 151.1l1.9 .8-2.2 .3-1.9-.8zM129.7 151.5l2.4 .8-1.8 .3-2.3-.8zM132.6 152l2.4 .7-1.6 .2-2.4-.7zM199.2 152l3.1 .3-1 .9-3.2-.3zM135.5 152.4l2.5 .6-1.5 .2-2.6-.6zM138.5 152.7l2.6 .6-1.5 .2-2.6-.6zM191 152.8l3.1 .3-1.2 .8-3-.3zM153.5 153.8l2.8 .5-1.4 .3-2.8-.5zM176.7 153.8l3 .3-1.2 .6-3-.3zM179.8 153.6l3 .3-1.2 .7-3-.4zM156.5 153.9l2.8 .4-1.3 .4-2.8-.5zM159.6 153.9l2.8 .5-1.3 .4-2.9-.5z"/>
<path color="#0ab4d1" d="M257.9 143.9l3.6-.2-.2 .5-3.6 .2zM255.2 144.4l3.6-.2-.4 .8-3.6 .1zM238.6 147.6l3.4-.1-.7 1.1-3.5 0zM216.2 151.2l3.3 .1-1 1-3.3-.2zM207.7 152.3l3.2 .2-1 .8-3.2-.2zM145 153.7l2.8 .4-1.5-.1-2.8-.3zM163.7 154.6l3 .4-1.4 .2-2.9-.3z"/>
<path color="#01bac4" d="M79 140.4l.3 .2-2.8-.9-.3-.1zM88.3 143.3l.8 .3-2.8-.8-.8-.3zM90.8 144l.9 .3-2.7-.7-.9-.3zM93.4 144.8l1 .3-2.7-.8-1-.3zM245.7 144.5l3.5-.1-.2 .5-3.5 .1zM243.1 144.9l3.5-.1-.4 .8-3.5 .1zM103.2 147.2l1.2 .3-2.8-.6-1.1-.3zM232.2 147l3.4 0-.7 1.1-3.4 0zM106 147.8l1.2 .3-2.7-.6-1.2-.2zM118.9 150.2l1.3 .4-2.6-.3-1.3-.4zM121.8 150.6l1.4 .5-2.6-.3-1.4-.4zM210.5 150.4l3.2 .2-.9 1.1-3.3-.2zM124.6 150.9l1.5 .6-2.5 0-1.5-.6zM202.3 151.5l3.1 .3-1 .9-3.2-.2zM162.6 153.9l2.9 .5-1.3 .4-2.9-.4zM165.7 153.9l2.8 .5-1.3 .4-2.8-.4z"/>
<path color="#0fb2d5" d="M254.8 144.9l3.5-.2-.5 .9-3.5 .2z"/>
<path color="#11b1d6" d="M251.8 145.6l3.6-.1-.6 1-3.6 .1zM237.9 148.3l3.4-.1-.8 1.1-3.4 0zM215.3 151.8l3.2 .1-1 .9-3.2-.1zM195 154l3.2 .2-1.2 .6-3.1-.2zM180.2 154.8l3.1 .2-1.2 .4-3.1-.2z"/>
<path color="#20a5e3" d="M231.3 151.6l3.4 0-1 .8-3.4 0zM213.5 153.8l3.3 .1-1.1 .5-3.3 0zM201.3 154.8l3.3 .1-1.2 .5-3.3-.1zM172.6 155.5l3.1 .2-1.3 0-3.1-.2z"/>
<path color="#02bac3" d="M81.1 141.1l.5 .2-2.8-.8-.5-.3zM83.4 141.8l.6 .3-2.8-.9-.6-.2zM85.8 142.6l.7 .2-2.7-.8-.8-.2zM100.5 146.6l1.1 .3-2.8-.7-1.1-.3zM218.7 149.2l3.3 .1-.9 1.1-3.2-.2zM194.1 152.4l3 .3-1 .8-3.1-.3zM168.7 153.9l2.9 .4-1.3 .5-2.8-.4z"/>
<path color="#13b0d7" d="M248.8 146.5l3.5-.2-.7 1.1-3.5 .1zM234.7 149.1l3.4-.1-.8 1.1-3.4 0zM157.9 154.7l2.9 .3-1.3 0-2.9-.3zM188.6 154.5l3.2 .2-1.2 .5-3.2-.2zM161.1 154.8l3 .3-1.4 .1-3-.3z"/>
<path color="#06b5cf" d="M255.5 144.1l3.5-.2-.2 .5-3.6 .2zM252.8 144.5l3.5-.2-.4 .8-3.5 .2zM227.8 149.2l3.3 0-.8 1.1-3.4-.1zM194 153.5l3.2 .2-1.2 .7-3.1-.2zM179.4 154.4l3.1 .3-1.3 .5-3-.3z"/>
<path color="#0bb3d2" d="M252.4 145l3.5-.1-.5 .9-3.6 .1zM244 146.7l3.4-.1-.6 1-3.5 .1zM181.4 154.5l3.1 .3-1.2 .5-3.1-.3z"/>
<path color="#03bbc2" d="M80.7 141l.4 .1-2.8-.8-.4-.2zM90 143.8l.8 .3-2.7-.8-.9-.3zM92.5 144.5l.9 .3-2.7-.7-.9-.3zM238 145.6l3.4-.1-.5 1-3.5 0zM107.6 148.1l1.2 .4-2.7-.6-1.2-.3zM221.7 148.5l3.3 .1-.8 1.1-3.3-.1zM213.5 149.8l3.2 .2-.9 1-3.2-.1zM205.3 151l3.2 .2-1 1-3.2-.2zM125.9 150.9l1.7 .8-2.3 .2-1.7-.8zM128.5 151.2l2 .9-1.9 .3-2.1-.8zM131.2 151.7l2.3 .8-1.7 .2-2.3-.7zM134 152.1l2.5 .7-1.6 .2-2.5-.7zM197.1 151.9l3.1 .3-1 .9-3.1-.3zM151.8 153.5l2.7 .6-1.4 .3-2.7-.5zM174.8 153.6l3 .4-1.3 .6-2.9-.4zM154.8 153.7l2.8 .5-1.4 .3-2.8-.5zM157.8 153.7l2.8 .5-1.3 .4-2.8-.5z"/>
<path color="#15afd9" d="M245.7 147.3l3.5-.1-.7 1-3.5 .1zM231.6 149.8l3.4 0-.9 1-3.4 0zM179 155l3.1 .2-1.3 .4-3-.3z"/>
<path color="#0db3d3" d="M249.4 145.8l3.5-.1-.6 .9-3.5 .2zM235.5 148.3l3.4 0-.8 1.1-3.4 0zM175.1 154.7l3 .3-1.3 .4-3-.3z"/>
<path color="#10b2d5" d="M246.4 146.6l3.5-.1-.7 1-3.5 .1zM232.4 149.1l3.4 0-.8 1-3.4 0zM223.8 150.6l3.4 0-1 1-3.3-.1zM198.2 153.6l3.2 .2-1.1 .7-3.2-.2zM183.4 154.6l3.1 .3-1.2 .4-3.1-.2z"/>
<path color="#03b7cc" d="M253 144.2l3.6-.2-.3 .5-3.5 .2zM177.5 154.2l3 .4-1.2 .5-3-.4z"/>
<path color="#03bbc1" d="M82.8 141.6l.6 .2-2.8-.8-.6-.2zM87.5 143l.8 .3-2.8-.7-.8-.3zM104.8 147.5l1.2 .4-2.7-.6-1.2-.3zM189 152.7l3 .3-1.1 .8-3-.3z"/>
<path color="#07b5d0" d="M249.9 145.1l3.5-.1-.5 .9-3.5 .2zM241.6 146.8l3.4-.1-.6 1.1-3.5 0zM219.3 150.6l3.3 .1-.9 1-3.3-.1zM210.8 151.8l3.3 .1-1 .9-3.3-.1zM202.4 152.7l3.2 .2-1.1 .8-3.2-.2zM190.9 153.8l3.1 .3-1.2 .6-3.1-.3zM176.3 154.5l3 .3-1.2 .5-3-.4z"/>
<path color="#05bcc0" d="M82.5 141.5l.3 .1-2.8-.8-.3-.1zM94.2 144.9l.9 .3-2.7-.7-1-.3zM96.8 145.6l1 .3-2.8-.6-1-.4zM224.7 147.7l3.3 .1-.8 1.1-3.3-.1zM111.9 149l1.3 .3-2.7-.4-1.2-.4zM114.7 149.5l1.3 .4-2.6-.4-1.3-.4zM216.5 149.1l3.3 .2-.9 1.1-3.2-.2zM192 152.3l3.1 .3-1.1 .8-3.1-.3zM180.9 153.1l3 .4-1.2 .7-3-.3zM166.9 153.7l2.9 .4-1.3 .6-2.9-.5z"/>
<path color="#14b0d8" d="M240.2 148.2l3.5-.1-.8 1.1-3.5 0zM226.1 150.5l3.4 .1-.9 .9-3.4 0zM208.9 152.9l3.2 .1-1 .8-3.3-.2zM185.4 154.7l3.1 .2-1.2 .5-3.1-.2z"/>
<path color="#09b4d1" d="M247 145.9l3.5-.1-.6 1-3.5 .1zM224.7 149.9l3.3 .1-.9 1-3.3-.1zM138.8 153.2l2.7 .3-1.4-.2-2.8-.3zM141.9 153.4l2.7 .4-1.4-.1-2.8-.3zM199.3 153.2l3.1 .2-1.1 .7-3.1-.2zM187.7 154.1l3.1 .2-1.1 .6-3.1-.2zM166.9 154.7l2.9 .3-1.3 .3-2.9-.3zM170 154.6l3 .4-1.3 .3-3-.3z"/>
<path color="#02b7cc" d="M250.3 144.6l3.5-.1-.4 .8-3.5 .1zM242.2 146.1l3.4-.1-.6 1-3.4 .1zM233.9 147.7l3.4 0-.8 1.1-3.4-.1zM211.8 151.2l3.2 .1-1 1-3.2-.2zM203.4 152.2l3.2 .2-1.1 .9-3.1-.2zM141.6 153.2l2.8 .5-1.5 .1-2.7-.5zM192 153.4l3.1 .2-1.2 .7-3.1-.2zM144.7 153.5l2.7 .4-1.4 .1-2.7-.4zM147.8 153.7l2.7 .5-1.4 .1-2.8-.4zM150.8 153.9l2.8 .4-1.4 .2-2.8-.4zM153.9 154.1l2.8 .4-1.4 .2-2.8-.4zM180.6 154l3 .4-1.2 .5-3-.3zM157 154.2l2.8 .4-1.3 .3-2.9-.5z"/>
<path color="#16afda" d="M237.1 149l3.4 0-.8 .9-3.4 .1zM156.6 154.7l2.9 .2-1.4 0-2.9-.2zM190.7 154.6l3.2 .2-1.2 .5-3.2-.2zM159.8 154.8l2.9 .3-1.3 0-3-.2zM163 154.9l2.9 .3-1.3 .1-3-.3z"/>
<path color="#00b9c6" d="M89.1 143.6l.9 .3-2.7-.8-1-.3zM237.5 146.2l3.4 0-.6 1-3.5 0zM229.2 147.7l3.4 .1-.7 1.1-3.4-.1zM114.5 149.6l1.3 .2-2.7-.5-1.3-.2zM117.3 150.1l1.4 .3-2.6-.5-1.4-.3zM187.9 153.1l3.1 .4-1.2 .7-3-.3zM173.7 153.9l2.9 .4-1.2 .6-3-.4z"/>
<path color="#04bbc1" d="M85.1 142.3l.7 .3-2.8-.8-.7-.3zM243.4 144.6l3.4-.1-.2 .5-3.5 .1zM240.7 145l3.5-.1-.4 .8-3.5 .1zM102.1 146.9l1.1 .3-2.7-.6-1.1-.3zM229.9 147l3.3 .1-.6 1-3.4 0zM120.4 150.4l1.4 .4-2.6-.2-1.4-.4zM123.2 150.7l1.5 .6-2.6-.1-1.4-.5zM177.9 153.4l2.9 .4-1.2 .6-2.9-.3zM160.9 153.7l2.8 .5-1.4 .5-2.8-.5zM163.9 153.7l2.8 .5-1.3 .5-2.8-.5z"/>
<path color="#01b8ca" d="M250.6 144.3l3.5-.1-.2 .5-3.6 .1zM236.9 146.9l3.4 0-.7 1-3.4 .1zM223.2 149.2l3.3 .1-.8 1.1-3.3-.1zM214.9 150.5l3.2 .2-.9 1-3.3-.2zM206.5 151.7l3.2 .2-1 .9-3.2-.2zM198.2 152.6l3.1 .2-1 .8-3.2-.2zM186.8 153.6l3.1 .3-1.2 .6-3-.3zM172.5 154.2l2.9 .4-1.2 .4-3-.3z"/>
<path color="#03b6cd" d="M247.5 145.3l3.5-.1-.5 .9-3.5 .1zM239.2 146.8l3.4 0-.6 1.1-3.4 0zM225.5 149.2l3.3 .1-.8 1-3.4-.1zM217.1 150.6l3.2 .1-.9 1-3.3-.1zM208.7 151.7l3.2 .2-1 .9-3.2-.2zM200.3 152.7l3.2 .2-1.1 .8-3.2-.2zM188.9 153.7l3 .3-1.1 .6-3.1-.3zM174.4 154.4l3 .3-1.3 .5-3-.4z"/>
<path color="#19acdc" d="M230.7 150.5l3.4 0-.9 .9-3.4 0zM189.5 154.9l3.2 .2-1.2 .4-3.2-.2z"/>
<path color="#06bcbf" d="M84.5 142.1l.6 .2-2.8-.8-.5-.2zM86.8 142.8l.7 .3-2.8-.8-.7-.3zM89.2 143.5l.8 .3-2.8-.7-.8-.3zM91.7 144.2l.8 .3-2.7-.7-.9-.3zM106.4 147.8l1.2 .4-2.7-.5-1.2-.4zM109.2 148.4l1.2 .4-2.7-.5-1.2-.3zM132.6 151.8l2.3 .8-1.7 .3-2.3-.8zM135.5 152.1l2.4 .8-1.6 .3-2.5-.8zM138.4 152.5l2.5 .6-1.6 .3-2.5-.6zM141.3 152.7l2.5 .7-1.5 .3-2.5-.7zM184 152.9l2.9 .3-1.1 .8-3-.4zM144.2 153l2.6 .6-1.5 .3-2.6-.6zM147.2 153.2l2.6 .5-1.4 .4-2.7-.6zM169.9 153.6l2.9 .4-1.3 .6-2.8-.4z"/>
<path color="#0eb2d4" d="M240.9 147.5l3.5-.1-.7 1.1-3.5 0zM143.5 153.7l2.8 .3-1.4-.2-2.8-.2zM168.8 154.8l2.9 .3-1.3 .3-2.9-.3z"/>
<path color="#1aabdd" d="M227.5 151.1l3.4 .1-.9 .8-3.4 0zM210.1 153.4l3.2 .1-1 .7-3.3-.1zM198.1 154.5l3.3 .1-1.2 .5-3.2-.1zM179.8 155.3l3.1 .2-1.3 .2-3.1-.2z"/>
<path color="#08bcbe" d="M84.2 142l.3 .1-2.7-.8-.4-.1zM241 144.7l3.4-.1-.2 .5-3.5 .1zM101 146.6l1.1 .3-2.7-.5-1.1-.4zM227.6 147l3.3 .1-.6 1.1-3.4-.1zM219.5 148.4l3.3 .2-.8 1.1-3.3-.2zM119.1 150.1l1.3 .5-2.6-.2-1.3-.5zM121.8 150.4l1.5 .6-2.6 0-1.4-.6zM187 152.5l3 .4-1.1 .8-3-.4zM156.1 153.5l2.7 .5-1.3 .5-2.8-.6z"/>
<path color="#05b6ce" d="M244.6 146l3.4-.1-.6 1-3.4 .1zM222.4 149.9l3.3 .1-.9 1-3.3-.1zM137.1 152.9l2.7 .4-1.4-.1-2.7-.4zM140.2 153.2l2.7 .4-1.4 0-2.7-.4zM165 154.5l2.9 .4-1.3 .3-2.9-.4z"/>
<path color="#09bdbd" d="M86.3 142.6l.5 .2-2.8-.7-.5-.3zM162.1 153.5l2.8 .5-1.3 .5-2.8-.5z"/>
<path color="#0cbdbc" d="M85.9 142.5l.4 .1-2.8-.8-.3-.1zM105.3 147.5l1.1 .4-2.7-.5-1.1-.4zM131.3 151.5l2.1 .8-1.8 .4-2.2-.9zM134 151.8l2.3 .8-1.6 .4-2.4-.8zM136.9 152.2l2.4 .7-1.6 .3-2.4-.7zM139.7 152.5l2.5 .6-1.5 .4-2.5-.7zM142.6 152.7l2.6 .7-1.5 .3-2.6-.6zM168.1 153.4l2.8 .4-1.2 .6-2.9-.4z"/>
<path color="#0abdbd" d="M88.5 143.2l.7 .3-2.8-.7-.6-.3zM90.9 143.9l.7 .3-2.7-.7-.8-.3zM93.3 144.6l.9 .3-2.8-.6-.8-.4zM110.7 148.6l1.2 .5-2.6-.5-1.2-.3zM113.5 149.2l1.2 .4-2.6-.4-1.3-.4zM214.3 149.1l3.2 .2-.8 1.1-3.2-.2zM206.2 150.3l3.2 .2-1 1.1-3.2-.3zM198.1 151.3l3.1 .3-1.1 1-3.1-.3zM179 153l2.9 .4-1.2 .7-2.9-.4z"/>
<path color="#05b5cf" d="M236.2 147.6l3.4 0-.7 1.1-3.4 0zM214 151.2l3.2 .1-.9 1-3.3-.2zM205.6 152.3l3.2 .2-1.1 .8-3.2-.2zM143.3 153.5l2.7 .4-1.4 0-2.8-.4zM146.4 153.7l2.8 .4-1.5 .1-2.8-.4zM149.5 153.9l2.8 .4-1.4 .1-2.8-.4zM152.6 154.1l2.8 .4-1.4 .2-2.8-.4zM155.7 154.3l2.8 .4-1.3 .1-2.9-.3zM182.6 154.2l3 .3-1.2 .5-3-.3zM158.8 154.4l2.9 .4-1.4 .2-2.9-.4z"/>
<path color="#0ebdbb" d="M88 143l.5 .3-2.8-.7-.5-.3zM97.5 145.6l.9 .4-2.7-.6-.9-.3zM217.3 148.4l3.2 .2-.8 1.1-3.2-.2zM120.5 150.2l1.4 .6-2.5-.1-1.4-.6zM193 151.7l3.1 .3-1.1 .9-3-.3zM151.5 153.2l2.6 .6-1.4 .4-2.7-.6zM171.1 153.2l2.9 .5-1.3 .6-2.9-.4z"/>
<path color="#08b4d0" d="M233.2 148.4l3.3 0-.7 1.1-3.4-.1zM173.2 154.6l3 .3-1.3 .4-3-.3z"/>
<path color="#10beba" d="M87.6 142.9l.4 .2-2.8-.8-.3-.1zM109.6 148.3l1.1 .5-2.6-.4-1.2-.4zM112.3 148.9l1.2 .4-2.7-.3-1.2-.5zM204.1 150.2l3.1 .3-.9 1-3.2-.2zM160.3 153.3l2.8 .5-1.3 .6-2.8-.6z"/>
<path color="#0bb4d2" d="M230.1 149.2l3.3 0-.8 1-3.4 0zM196.1 153.5l3.2 .3-1.2 .7-3.1-.3z"/>
<path color="#02bbc2" d="M95.1 145.2l1 .3-2.7-.7-1-.3zM110.4 148.7l1.2 .3-2.7-.5-1.2-.3zM136.9 152.4l2.6 .7-1.6 .2-2.5-.6zM139.9 152.7l2.6 .7-1.6 .2-2.5-.6zM142.8 153l2.7 .6-1.5 .2-2.6-.5zM145.8 153.2l2.7 .6-1.5 .3-2.6-.6zM148.8 153.4l2.7 .5-1.4 .3-2.7-.5z"/>
<path color="#0ebebb" d="M90.2 143.7l.7 .3-2.8-.7-.6-.3zM92.6 144.3l.7 .4-2.7-.7-.8-.3zM95 145l.8 .3-2.7-.6-.8-.3zM238.6 144.7l3.5 0-.3 .5-3.4 .1zM225.3 147l3.4 .1-.7 1.1-3.3-.1zM154.4 153.3l2.7 .5-1.4 .5-2.7-.6z"/>
<path color="#02bbc3" d="M97.8 145.9l1 .3-2.7-.7-1.1-.3zM235.1 146.2l3.4 .1-.6 1-3.4 0zM227 147.7l3.3 .1-.8 1.1-3.3-.1zM113.2 149.3l1.3 .3-2.7-.5-1.3-.3zM116 149.8l1.3 .3-2.6-.4-1.3-.3zM185.9 153l3.1 .3-1.2 .8-3-.3zM171.8 153.7l2.9 .5-1.3 .5-2.9-.4z"/>
<path color="#04b6ce" d="M230.8 148.4l3.4 .1-.8 1-3.3 0zM134.1 152.6l2.7 .4-1.5-.2-2.7-.3zM197.2 153.1l3.1 .2-1.1 .8-3.1-.3zM185.7 154l3.1 .3-1.2 .5-3.1-.2zM168.1 154.5l3 .3-1.3 .4-3-.3z"/>
<path color="#1ca9e0" d="M175.2 155.4l3.1 .2-1.3 .1-3.1-.1z"/>
<path color="#12beb9" d="M89.7 143.5l.5 .2-2.8-.7-.5-.2zM101.7 146.6l1 .4-2.7-.5-1-.4zM104.3 147.2l1 .4-2.7-.5-1-.4zM220.2 147.7l3.3 .1-.8 1.1-3.2-.1zM188 152l3 .4-1.1 .8-3-.3z"/>
<path color="#15bfb8" d="M89.3 143.3l.3 .2-2.7-.7-.3-.2zM236.3 144.8l3.4-.1-.2 .5-3.5 .1zM223.1 147l3.3 .1-.7 1.1-3.3-.1zM116.5 149.5l1.3 .5-2.6-.1-1.3-.6zM152.7 153l2.7 .6-1.4 .5-2.7-.6z"/>
<path color="#0cb3d3" d="M221.6 150.6l3.3 .1-.9 .9-3.4-.1zM213 151.8l3.3 .1-1 .9-3.3-.1zM204.6 152.8l3.2 .2-1.1 .8-3.2-.2zM193 153.9l3.1 .2-1.2 .6-3.1-.2zM178.3 154.6l3 .3-1.2 .5-3.1-.3z"/>
<path color="#0fb2d4" d="M218.4 151.2l3.3 .1-.9 .9-3.3-.1zM209.9 152.3l3.2 .2-1 .8-3.2-.1zM146.7 153.9l2.8 .3-1.4 0-2.9-.3zM149.8 154.1l2.9 .4-1.4-.1-2.9-.3zM153 154.3l2.8 .4-1.4 0-2.8-.3zM156.1 154.5l2.9 .3-1.4 .1-2.9-.3zM186.6 154.4l3.1 .3-1.2 .5-3.1-.3zM159.3 154.6l2.9 .4-1.4 .1-2.9-.3zM162.4 154.7l3 .3-1.4 .2-2.9-.3zM165.6 154.8l3 .3-1.4 .2-2.9-.3z"/>
<path color="#09bdbe" d="M95.9 145.3l.9 .3-2.8-.6-.9-.4zM238.4 145l3.4 0-.4 .8-3.4 .1zM98.4 145.9l1 .4-2.7-.6-1-.4zM116.3 149.6l1.2 .5-2.6-.3-1.3-.4zM176 153.2l2.9 .4-1.2 .7-2.9-.4z"/>
<path color="#13beb9" d="M91.9 144.1l.6 .3-2.7-.7-.7-.3zM94.2 144.7l.8 .4-2.8-.7-.7-.3zM96.6 145.3l.9 .4-2.7-.6-.9-.3zM99.1 146l.9 .4-2.7-.6-.9-.4zM129.9 151.2l2 .9-1.9 .4-2-.9zM132.6 151.5l2.2 .9-1.7 .4-2.2-.9zM135.4 151.9l2.3 .8-1.6 .4-2.4-.8zM138.3 152.2l2.4 .7-1.6 .4-2.5-.7zM141.1 152.4l2.5 .7-1.6 .4-2.4-.7zM166.3 153.2l2.8 .5-1.3 .6-2.8-.5z"/>
<path color="#04bcc1" d="M99.4 146.3l1.1 .3-2.8-.6-1-.4zM117.6 149.9l1.3 .5-2.6-.3-1.4-.4zM208.3 150.4l3.2 .2-.9 1-3.2-.2zM200.2 151.4l3.1 .3-1 .9-3.2-.2z"/>
<path color="#16bfb7" d="M91.3 143.9l.6 .2-2.8-.6-.5-.3zM108.5 148l1.1 .5-2.7-.4-1.1-.4zM111.1 148.5l1.2 .5-2.7-.3-1.1-.5zM183.1 152.2l2.9 .4-1.1 .9-3-.4zM172.2 152.9l2.9 .4-1.2 .7-2.9-.4zM155.7 153.1l2.7 .5-1.4 .6-2.7-.6z"/>
<path color="#19bfb5" d="M91 143.7l.3 .2-2.7-.7-.3-.1zM123.4 150.3l1.5 .8-2.4 .1-1.5-.7zM126 150.6l1.7 .9-2.3 .3-1.6-.9zM128.6 150.9l1.9 .9-2 .4-1.9-.9zM131.3 151.2l2.1 .9-1.9 .4-2.1-.8zM134 151.6l2.2 .8-1.7 .4-2.2-.8zM136.8 151.9l2.3 .8-1.6 .4-2.4-.8zM139.6 152.1l2.4 .8-1.6 .4-2.4-.7zM164.5 153l2.8 .5-1.3 .6-2.8-.5z"/>
<path color="#07bcbe" d="M235.6 145.6l3.4 0-.5 1-3.4 0zM124.6 150.7l1.6 .8-2.5 .1-1.5-.7z"/>
<path color="#00b9c8" d="M226.3 148.5l3.3 .1-.8 1-3.3 0zM128.3 151.4l2.3 .8-1.7 .2-2.4-.8zM131.1 151.9l2.5 .6-1.6 .1-2.5-.6zM193 152.9l3.1 .3-1.1 .8-3.1-.3zM181.8 153.7l3 .3-1.2 .7-3-.4zM164.4 154.1l2.9 .5-1.3 .4-2.9-.5z"/>
<path color="#11b2d5" d="M206.7 152.8l3.2 .2-1 .8-3.2-.2z"/>
<path color="#06bcc0" d="M232.8 146.3l3.4 0-.6 1-3.4 0z"/>
<path color="#0fbebb" d="M236 145.1l3.5-.1-.5 .9-3.4 0zM115 149.3l1.3 .5-2.7-.2-1.2-.5zM117.8 149.8l1.3 .5-2.6-.2-1.3-.5zM185 152.4l3 .3-1.1 .9-3-.4z"/>
<path color="#17bfb6" d="M93.5 144.4l.7 .4-2.7-.6-.7-.4zM100.7 146.3l1 .4-2.7-.5-1-.4zM103.3 146.9l1 .4-2.7-.4-1-.5zM210 149l3.2 .2-.9 1.1-3.2-.2zM202 150.1l3.1 .3-1 1.1-3.1-.3zM194 151.1l3 .3-1 1-3.1-.3z"/>
<path color="#14b0d7" d="M200.3 153.7l3.2 .2-1.1 .6-3.2-.2z"/>
<path color="#02b7cb" d="M220.2 149.9l3.2 .1-.8 1-3.3-.1zM135.6 152.6l2.6 .5-1.5 0-2.6-.5zM138.6 153l2.7 .4-1.5 0-2.7-.4zM195.1 153l3.1 .3-1.1 .7-3.1-.2zM160.1 154.3l2.9 .4-1.4 .3-2.9-.4zM163.2 154.3l2.9 .4-1.4 .3-2.8-.3z"/>
<path color="#1bc0b4" d="M93 144.2l.5 .3-2.7-.6-.5-.3zM234 144.8l3.4 0-.3 .5-3.4 0zM231.4 145.1l3.4 0-.4 .9-3.4-.1zM220.9 146.9l3.2 .2-.7 1.1-3.2-.1zM107.4 147.7l1.1 .5-2.7-.4-1-.4zM110 148.2l1.1 .5-2.6-.3-1.1-.5zM112.6 148.7l1.2 .5-2.6-.2-1.2-.5zM212.9 148.3l3.2 .2-.8 1.1-3.2-.2zM189 151.4l3 .4-1.1 .9-3-.3zM148.2 152.7l2.6 .6-1.5 .5-2.6-.6zM151.1 152.8l2.6 .6-1.4 .5-2.6-.6zM167.5 152.8l2.8 .5-1.3 .7-2.8-.5z"/>
<path color="#0dbdbb" d="M233.3 145.6l3.4 0-.5 1-3.4 0zM100.1 146.3l.9 .4-2.7-.6-1-.4zM209.2 149.7l3.2 .2-.9 1.1-3.2-.2zM123.3 150.5l1.5 .7-2.5 .1-1.5-.7z"/>
<path color="#1dc0b3" d="M92.7 144.1l.3 .2-2.7-.6-.4-.2zM199.9 150l3.1 .3-1 1.1-3.1-.3zM156.9 152.8l2.7 .6-1.4 .6-2.7-.6z"/>
<path color="#07bcbf" d="M103.7 147.2l1.1 .4-2.7-.6-1.1-.3zM211.3 149.8l3.2 .2-.9 1-3.2-.2zM203.2 150.9l3.1 .2-1 1-3.1-.2zM127.2 151l1.9 .9-2.2 .3-1.8-.9zM129.9 151.4l2.1 .8-1.9 .4-2.1-.9zM195.1 151.8l3 .3-1 .9-3.1-.3zM150.1 153.3l2.7 .6-1.4 .3-2.7-.5zM153.1 153.4l2.7 .6-1.4 .4-2.7-.6zM172.9 153.4l3 .4-1.3 .7-2.9-.4z"/>
<path color="#18bfb6" d="M95.9 145.1l.7 .3-2.7-.6-.8-.3zM98.3 145.7l.8 .4-2.7-.6-.8-.4zM225.9 146.3l3.3 .1-.6 1-3.3 0zM218 147.6l3.2 .2-.7 1.1-3.3-.1zM186 151.8l3 .4-1.1 .9-3-.4zM175.2 152.6l2.9 .5-1.2 .7-2.9-.4zM161.6 153l2.7 .6-1.3 .6-2.8-.6z"/>
<path color="#0bbdbd" d="M230.5 146.3l3.3 0-.6 1.1-3.3-.1zM108 148.1l1.1 .4-2.6-.5-1.2-.3zM222.4 147.7l3.3 .1-.7 1.1-3.3-.1zM190 152.1l3 .4-1.1 .8-3-.3zM165.1 153.5l2.8 .5-1.3 .5-2.8-.5z"/>
<path color="#15bfb7" d="M233.7 145.1l3.4 0-.4 .8-3.4 0zM113.8 149l1.2 .5-2.6-.2-1.2-.5z"/>
<path color="#1cc0b4" d="M95.2 144.8l.7 .3-2.8-.5-.6-.4zM97.5 145.4l.8 .4-2.8-.6-.7-.3zM99.9 146l.8 .4-2.7-.5-.8-.4zM102.3 146.6l1 .4-2.7-.4-.9-.5zM104.9 147.1l.9 .5-2.6-.4-1-.4zM181.1 152l3 .5-1.2 .8-2.9-.4zM154 152.8l2.6 .6-1.4 .6-2.6-.6z"/>
<path color="#0dbdbc" d="M102.7 146.9l1 .4-2.7-.5-1-.4zM125.9 150.8l1.7 .8-2.3 .3-1.6-.9zM201.1 150.8l3.1 .3-1 1-3.1-.3zM128.6 151.1l1.9 .9-2 .3-2-.8zM182 152.7l3 .4-1.2 .8-3-.4zM145.6 152.9l2.6 .6-1.5 .4-2.6-.6zM148.5 153.1l2.6 .6-1.4 .4-2.6-.6z"/>
<path color="#00b8c8" d="M217.9 149.9l3.3 .1-.9 1.1-3.3-.2zM201.3 152.1l3.1 .3-1 .8-3.2-.2zM134 152.3l2.6 .6-1.5 .1-2.6-.6zM137 152.7l2.6 .5-1.4 .1-2.7-.5zM155.2 154l2.8 .4-1.3 .3-2.8-.4zM158.3 154.1l2.8 .4-1.3 .3-2.9-.4zM161.4 154.1l2.8 .5-1.3 .3-2.9-.4z"/>
<path color="#1fc0b2" d="M94.6 144.6l.6 .3-2.7-.6-.6-.3zM116.8 149.3l1.2 .6-2.5 0-1.3-.7zM119.4 149.7l1.4 .7-2.5 0-1.4-.7zM122.1 150l1.4 .8-2.4 .1-1.4-.7zM124.7 150.3l1.6 .9-2.3 .2-1.6-.8zM127.4 150.7l1.7 .8-2.1 .4-1.8-.9zM130 151l1.9 .9-2 .4-1.9-.9zM132.7 151.3l2.1 .9-1.9 .4-2.1-.9zM135.4 151.6l2.2 .8-1.7 .5-2.2-.9zM138.2 151.8l2.3 .8-1.7 .5-2.3-.8zM141 152.1l2.4 .7-1.6 .5-2.4-.7zM162.7 152.7l2.8 .6-1.3 .6-2.8-.5z"/>
<path color="#14beb8" d="M231 145.6l3.4 .1-.6 1-3.3-.1zM207 149.6l3.2 .2-.9 1.1-3.2-.2zM122 150.2l1.4 .7-2.5 .1-1.4-.7zM199 150.7l3.1 .3-1 1-3.1-.3zM146.9 152.8l2.6 .6-1.5 .5-2.6-.7z"/>
<path color="#21c1b0" d="M94.3 144.5l.3 .2-2.7-.6-.3-.2z"/>
<path color="#11beb9" d="M228.2 146.3l3.3 .1-.6 1-3.3 0zM177.1 152.8l2.9 .4-1.2 .8-2.9-.4zM163.3 153.3l2.8 .5-1.3 .5-2.8-.5z"/>
<path color="#0ab4d2" d="M148.1 153.9l2.8 .4-1.4 0-2.8-.3zM151.2 154.1l2.8 .4-1.4 .1-2.8-.4zM154.3 154.3l2.9 .4-1.4 .1-2.9-.4zM184.6 154.3l3.1 .3-1.2 .5-3.1-.3zM157.5 154.5l2.8 .3-1.3 .2-2.9-.4zM160.6 154.6l2.9 .3-1.3 .2-3-.3z"/>
<path color="#20c1b1" d="M96.8 145.1l.7 .4-2.7-.5-.7-.4zM231.7 144.8l3.4 0-.3 .5-3.4 0zM99.1 145.7l.8 .4-2.7-.5-.8-.4zM226.4 145.6l3.4 .1-.6 1-3.3-.1zM101.5 146.3l.8 .4-2.7-.4-.8-.5zM103.9 146.8l.9 .5-2.6-.4-.9-.5zM106.4 147.4l1 .5-2.6-.4-1-.5zM109 147.9l1 .5-2.6-.3-1.1-.5zM111.5 148.4l1.1 .5-2.6-.2-1.1-.5zM210.8 148.2l3.1 .2-.8 1.2-3.2-.2zM114.2 148.9l1.1 .5-2.6-.1-1.1-.6zM202.8 149.4l3.1 .3-.9 1.1-3.1-.3zM194.9 150.4l3 .4-1 1-3-.3zM176.3 152.2l2.9 .4-1.2 .9-2.9-.5zM143.8 152.3l2.4 .7-1.5 .5-2.4-.7zM146.6 152.4l2.5 .7-1.4 .5-2.6-.7z"/>
<path color="#1abfb5" d="M228.7 145.6l3.4 .1-.6 1-3.3-.1zM118 149.6l1.3 .6-2.6 0-1.3-.7zM120.7 150l1.4 .7-2.5 0-1.4-.7zM142.5 152.4l2.4 .7-1.5 .4-2.5-.7zM178.2 152.4l2.9 .4-1.2 .8-2.9-.4zM145.3 152.5l2.5 .7-1.5 .5-2.5-.7z"/>
<path color="#23c1af" d="M96.3 144.9l.5 .3-2.7-.5-.5-.3zM221.5 146.2l3.2 .2-.6 1-3.3-.1zM213.6 147.5l3.2 .2-.7 1.2-3.2-.2zM205.7 148.8l3.2 .2-.9 1.2-3.1-.3zM197.8 149.9l3.1 .3-1 1.1-3-.3zM190 150.8l3 .4-1.1 1-3-.4zM171.5 152.2l2.8 .5-1.2 .8-2.8-.5zM158.1 152.6l2.7 .6-1.4 .6-2.6-.6z"/>
<path color="#11beba" d="M106.9 147.8l1.1 .4-2.7-.4-1.1-.4zM212.1 149l3.2 .2-.8 1.1-3.2-.2zM196 151.2l3.1 .3-1 1-3.1-.3z"/>
<path color="#25c2ae" d="M95.9 144.8l.4 .2-2.7-.6-.4-.2zM229.4 144.8l3.3 0-.2 .6-3.4-.1zM142.3 152l2.4 .7-1.6 .6-2.4-.8zM174.4 152l2.9 .5-1.2 .8-2.9-.5z"/>
<path color="#21c1b1" d="M229.1 145.1l3.4 0-.5 .9-3.3 0zM218.6 146.9l3.3 .2-.7 1.1-3.3-.2zM187 151.3l3 .4-1.1 .9-3-.4zM149.5 152.5l2.5 .7-1.4 .5-2.6-.6zM165.7 152.6l2.7 .5-1.2 .7-2.8-.5z"/>
<path color="#17bfb7" d="M105.8 147.5l1.1 .4-2.7-.4-1-.4zM158.6 153.1l2.7 .5-1.3 .6-2.7-.6z"/>
<path color="#24c1af" d="M98.4 145.4l.7 .4-2.7-.5-.7-.4zM118.2 149.4l1.3 .7-2.5 0-1.3-.7zM120.9 149.7l1.3 .8-2.4 .1-1.4-.7zM123.5 150.1l1.5 .8-2.4 .2-1.5-.8zM126.1 150.4l1.6 .8-2.2 .4-1.6-.9zM128.7 150.7l1.8 .9-2 .4-1.9-.9zM131.3 151l2 .9-1.9 .4-2-.8zM134 151.3l2.1 .8-1.8 .5-2.1-.8zM182.2 151.5l2.9 .4-1.1 1-3-.5z"/>
<path color="#26c2ad" d="M97.9 145.2l.5 .3-2.7-.5-.5-.3zM185.1 151.1l2.9 .4-1.1 1-2.9-.4zM147.9 152.2l2.5 .7-1.5 .6-2.5-.7zM163.9 152.4l2.7 .5-1.3 .8-2.7-.6zM150.8 152.3l2.5 .7-1.4 .6-2.6-.7z"/>
<path color="#1ec0b3" d="M223.7 146.3l3.3 .1-.6 1-3.3-.1zM207.9 148.9l3.1 .2-.9 1.1-3.1-.2zM192 151l3 .3-1.1 1-3-.3z"/>
<path color="#05b5ce" d="M161.9 154.5l2.9 .3-1.3 .3-2.9-.4z"/>
<path color="#28c2ab" d="M97.5 145.1l.4 .2-2.7-.5-.3-.2zM104.6 146.8l.9 .4-2.7-.3-.8-.5zM107 147.3l1 .5-2.7-.3-.9-.5zM109.5 147.8l1 .5-2.6-.2-1-.6zM211.5 147.4l3.1 .3-.7 1.1-3.2-.2zM112 148.2l1.1 .6-2.6-.1-1.1-.6zM114.5 148.7l1.2 .6-2.6-.1-1.1-.6zM117.1 149.1l1.2 .7-2.5 0-1.2-.7zM119.7 149.4l1.3 .8-2.5 .1-1.3-.7zM122.3 149.8l1.4 .8-2.4 .2-1.4-.8zM124.9 150.1l1.5 .9-2.3 .3-1.5-.9zM127.4 150.4l1.7 .9-2.1 .4-1.7-.9zM188 150.6l3 .4-1.1 1.1-3-.4zM130 150.7l1.9 .9-2 .5-1.8-.9zM132.7 151l2 .9-1.9 .5-2-.9zM135.4 151.2l2.1 .9-1.8 .5-2.1-.8zM180.3 151.3l2.8 .5-1.1 .9-2.9-.4zM169.7 152l2.8 .5-1.2 .9-2.8-.6zM156.5 152.3l2.6 .6-1.4 .7-2.6-.6z"/>
<path color="#25c2ad" d="M226.9 145.1l3.3 0-.4 .9-3.4-.1zM216.5 146.8l3.2 .2-.7 1.2-3.3-.2zM208.6 148.1l3.2 .3-.9 1.1-3.1-.2zM200.7 149.3l3.1 .3-.9 1.1-3.1-.3zM192.9 150.3l3 .4-1 1-3-.3zM145.1 152.1l2.4 .8-1.5 .5-2.4-.7z"/>
<path color="#24c1ae" d="M100.7 146l.8 .4-2.7-.4-.8-.5zM103.1 146.5l.8 .5-2.7-.4-.8-.5zM105.5 147.1l.9 .5-2.6-.4-1-.5zM108 147.6l1 .5-2.7-.3-1-.5zM110.5 148.1l1 .5-2.6-.2-1-.5zM113.1 148.6l1.1 .5-2.6-.1-1.1-.6zM115.6 149l1.2 .6-2.5-.1-1.2-.6zM136.7 151.5l2.3 .9-1.7 .5-2.3-.9zM139.5 151.8l2.3 .8-1.6 .5-2.3-.8z"/>
<path color="#04b6cd" d="M171.3 154.4l2.9 .4-1.3 .4-2.9-.3z"/>
<path color="#29c3aa" d="M227.1 144.8l3.4 0-.3 .6-3.4-.1zM99.5 145.5l.5 .3-2.7-.4-.5-.4zM224.6 145.1l3.3 0-.4 .9-3.3-.1zM214.3 146.8l3.2 .2-.7 1.1-3.2-.2zM206.5 148l3.1 .3-.8 1.1-3.1-.2zM198.7 149.2l3 .3-.9 1.1-3-.3zM190.9 150.1l3 .4-1 1.1-3-.4zM140.8 151.7l2.3 .8-1.6 .5-2.3-.8zM172.6 151.8l2.8 .5-1.2 .8-2.8-.5zM143.6 151.8l2.4 .8-1.6 .6-2.4-.8zM159.3 152.3l2.7 .6-1.4 .7-2.6-.6z"/>
<path color="#24c2ae" d="M224.2 145.6l3.3 .1-.5 1-3.3-.1zM161 152.5l2.7 .6-1.3 .7-2.7-.6z"/>
<path color="#27c2ac" d="M100 145.7l.7 .4-2.7-.4-.6-.4zM102.3 146.2l.8 .5-2.7-.4-.8-.5zM219.2 146.2l3.3 .1-.6 1.1-3.3-.1zM203.6 148.7l3.1 .2-.8 1.2-3.1-.3zM195.8 149.7l3 .4-.9 1.1-3.1-.3zM177.3 151.7l2.9 .4-1.2 .9-2.8-.4zM166.8 152.2l2.8 .6-1.3 .7-2.8-.5zM153.6 152.3l2.6 .7-1.4 .6-2.6-.6z"/>
<path color="#14bfb8" d="M215.1 148.3l3.2 .2-.8 1.2-3.2-.2zM119.2 149.9l1.4 .6-2.6-.1-1.3-.6zM191 151.6l3 .3-1 .9-3.1-.3zM149.8 152.9l2.6 .7-1.4 .4-2.6-.6zM169.3 153l2.8 .5-1.3 .7-2.8-.5z"/>
<path color="#2bc3a8" d="M99.1 145.4l.4 .2-2.7-.5-.3-.2zM217 146.1l3.3 .2-.7 1.1-3.2-.2zM106.2 146.9l.8 .6-2.6-.3-.8-.5zM108.6 147.4l.9 .6-2.6-.2-.9-.6zM111 147.9l1 .6-2.6-.2-1-.5zM209.3 147.4l3.2 .2-.8 1.2-3.1-.3zM113.5 148.3l1.1 .7-2.6-.1-1.1-.6zM116 148.8l1.2 .6-2.6 0-1.1-.6zM201.6 148.5l3 .3-.9 1.2-3-.3zM118.5 149.1l1.3 .8-2.5 .1-1.2-.8zM121.1 149.5l1.3 .8-2.4 .2-1.3-.8zM193.8 149.6l3 .4-1 1.1-3-.4zM123.6 149.8l1.5 .8-2.3 .3-1.5-.8zM126.2 150.1l1.6 .9-2.2 .4-1.6-.9zM128.8 150.4l1.7 .9-2 .5-1.8-.9zM186 150.5l3 .4-1.1 1-2.9-.4zM131.4 150.7l1.9 .9-1.9 .5-1.9-.9zM152 152.1l2.5 .6-1.4 .7-2.5-.7zM154.8 152.1l2.6 .6-1.4 .7-2.6-.7z"/>
<path color="#01bac6" d="M141.4 153l2.7 .6-1.5 .1-2.6-.5zM150.5 153.6l2.7 .5-1.4 .3-2.7-.5z"/>
<path color="#2cc4a7" d="M224.8 144.8l3.4 0-.3 .6-3.3-.1zM101.1 145.7l.5 .4-2.7-.4-.5-.4zM219.7 145.5l3.3 .2-.5 1-3.3-.2zM134 150.9l2.1 .9-1.9 .6-2-.9zM178.4 151.1l2.8 .5-1.1 .9-2.9-.4zM136.7 151.2l2.1 .8-1.7 .6-2.1-.9zM139.4 151.4l2.2 .8-1.6 .6-2.3-.9zM167.9 151.8l2.8 .5-1.3 .9-2.7-.6zM157.6 152l2.7 .6-1.4 .7-2.6-.6z"/>
<path color="#29c3ab" d="M222 145.6l3.2 .1-.5 1-3.3-.1z"/>
<path color="#1ec0b2" d="M215.8 147.6l3.2 .2-.7 1.1-3.3-.2zM184.1 151.7l2.9 .4-1.1 .9-2.9-.4zM173.3 152.4l2.9 .5-1.2 .8-2.9-.5zM159.8 152.8l2.7 .6-1.3 .6-2.7-.6z"/>
<path color="#2ac3a9" d="M101.6 146l.7 .4-2.7-.4-.6-.4zM103.9 146.5l.7 .4-2.6-.3-.8-.5zM183.2 150.9l2.9 .4-1.1 1-2.9-.4zM175.5 151.5l2.8 .5-1.2 .9-2.8-.5zM146.4 152l2.4 .7-1.5 .6-2.4-.7zM149.2 152l2.5 .7-1.5 .7-2.5-.7z"/>
<path color="#2dc4a6" d="M222.4 145l3.3 .1-.5 .9-3.3-.1zM103.2 146.2l.7 .4-2.7-.3-.7-.5zM105.4 146.7l.8 .4-2.7-.2-.7-.5zM212.1 146.7l3.2 .2-.7 1.2-3.2-.3zM204.4 147.9l3.1 .3-.8 1.2-3.1-.3zM196.7 149l3 .4-1 1.1-3-.3zM188.9 150l3 .4-1 1.1-3-.4zM181.3 150.7l2.8 .5-1.1 1-2.9-.5zM142.1 151.5l2.3 .8-1.6 .6-2.3-.8zM170.8 151.5l2.8 .6-1.3 .9-2.7-.6zM144.9 151.7l2.3 .7-1.5 .6-2.4-.7zM160.5 151.9l2.6 .6-1.3 .8-2.6-.6z"/>
<path color="#1ac0b5" d="M115.3 149.2l1.2 .5-2.6-.1-1.2-.6zM204.9 149.5l3.2 .3-1 1.1-3.1-.3zM196.9 150.6l3.1 .3-1 1-3.1-.3z"/>
<path color="#2dc4a5" d="M100.7 145.6l.4 .2-2.7-.4-.3-.2zM107.7 147.1l.9 .6-2.6-.3-.9-.5zM147.6 151.7l2.5 .8-1.5 .6-2.5-.7z"/>
<path color="#2fc5a3" d="M222.6 144.7l3.3 .1-.2 .5-3.4 0zM220.2 145l3.2 .1-.4 .9-3.3-.2zM217.6 145.5l3.2 .1-.6 1-3.2-.1zM104.7 146.4l.7 .4-2.6-.3-.7-.4zM135.3 150.8l2.1 .9-1.8 .6-2.1-.9zM176.5 150.9l2.8 .5-1.1 1-2.8-.5zM138 151.1l2.1 .8-1.7 .6-2.1-.8zM156 151.7l2.6 .7-1.4 .7-2.6-.6z"/>
<path color="#02bac4" d="M182.9 153.3l3 .4-1.2 .7-3-.4z"/>
<path color="#13beb8" d="M124.6 150.5l1.6 .8-2.3 .3-1.6-.8zM127.3 150.8l1.8 .9-2.2 .4-1.8-.9zM180.1 152.5l2.9 .5-1.2 .7-2.9-.4zM144 152.6l2.5 .7-1.5 .4-2.5-.6z"/>
<path color="#2ec5a4" d="M102.6 146l.6 .3-2.7-.3-.5-.4zM184.1 150.3l2.9 .4-1 1.1-3-.5zM130.1 150.4l1.8 .9-2 .5-1.8-.9zM153.2 151.8l2.5 .7-1.4 .7-2.5-.7z"/>
<path color="#32c69f" d="M220.4 144.7l3.3 .1-.3 .5-3.3-.1zM218 144.9l3.2 .1-.4 .9-3.3-.1zM103.9 146l.3 .3-2.7-.4-.3-.2zM108.5 147l.7 .5-2.6-.2-.7-.5zM174.7 150.7l2.8 .5-1.2 1-2.8-.5zM136.6 150.7l2.1 .9-1.7 .6-2.1-.8zM139.3 150.9l2.1 .9-1.6 .6-2.2-.9zM154.4 151.4l2.5 .7-1.4 .8-2.5-.7z"/>
<path color="#30c5a2" d="M102.3 145.8l.3 .3-2.6-.4-.4-.2zM210 146.6l3.1 .2-.7 1.2-3.1-.2zM109.2 147.3l.9 .5-2.6-.1-.9-.6zM111.6 147.7l.9 .6-2.5-.1-1-.6zM202.3 147.8l3.1 .3-.8 1.2-3.1-.3zM194.6 148.9l3 .3-.9 1.2-3-.4zM187 149.8l2.9 .4-1 1.1-3-.4zM179.4 150.5l2.8 .5-1.1 1-2.8-.5zM169 151.3l2.7 .6-1.2 .9-2.7-.6zM143.4 151.4l2.3 .7-1.6 .7-2.3-.8zM158.8 151.6l2.6 .7-1.3 .8-2.6-.7z"/>
<path color="#2ec4a4" d="M214.9 146l3.2 .2-.7 1.1-3.2-.1zM207.2 147.2l3.1 .3-.7 1.2-3.2-.3zM199.5 148.4l3 .3-.8 1.2-3.1-.3zM122.5 149.5l1.4 .8-2.4 .3-1.4-.8zM191.8 149.4l3 .4-1 1.1-3-.3zM125 149.8l1.5 .9-2.2 .3-1.5-.8zM127.6 150.1l1.6 .9-2.1 .4-1.7-.9zM150.4 151.8l2.5 .7-1.5 .7-2.4-.7z"/>
<path color="#31c5a1" d="M104.2 146.2l.5 .3-2.6-.3-.5-.3zM212.7 146l3.2 .2-.7 1.1-3.1-.2zM123.8 149.5l1.5 .9-2.3 .3-1.4-.9zM171.8 151l2.8 .6-1.2 .9-2.7-.5zM161.6 151.5l2.7 .6-1.3 .8-2.7-.6zM148.9 151.5l2.4 .7-1.5 .7-2.4-.7z"/>
<path color="#34c79b" d="M218.2 144.6l3.3 .1-.3 .6-3.3-.1zM213.2 145.3l3.2 .2-.5 1-3.2-.2zM105.4 146.2l.3 .3-2.6-.3-.3-.3zM110 147.1l.7 .5-2.5-.1-.8-.5zM135.3 150.4l2 .9-1.8 .6-2-.9zM172.9 150.5l2.7 .5-1.1 1-2.8-.5zM162.7 151l2.7 .7-1.3 .9-2.6-.7z"/>
<path color="#31c69f" d="M215.4 145.4l3.2 .2-.6 1-3.2-.2z"/>
<path color="#08bdbe" d="M159.1 153.5l2.8 .5-1.4 .5-2.8-.5z"/>
<path color="#2fc5a2" d="M106.9 146.8l.8 .5-2.6-.2-.8-.5zM140.7 151.2l2.2 .9-1.6 .6-2.3-.9z"/>
<path color="#2ec4a5" d="M110.1 147.6l.9 .6-2.6-.2-.9-.6zM112.5 148l1 .6-2.5 0-1.1-.7zM115 148.4l1.1 .7-2.6 0-1.1-.7zM117.4 148.8l1.2 .7-2.5 .1-1.1-.7zM120 149.2l1.2 .8-2.4 .1-1.3-.7zM173.7 151.3l2.8 .5-1.2 .9-2.8-.5zM163.3 151.8l2.7 .5-1.3 .8-2.7-.5z"/>
<path color="#35c79a" d="M215.8 144.8l3.2 .2-.4 .9-3.3-.2zM107.2 146.5l.6 .4-2.6-.2-.6-.4zM205.8 146.4l3.1 .2-.8 1.2-3.1-.2zM114.5 147.8l1 .7-2.5 .1-1-.7zM198.2 147.5l3 .3-.8 1.2-3-.3zM116.8 148.2l1.1 .7-2.4 .2-1.1-.8zM190.7 148.5l2.9 .4-.9 1.2-3-.4zM183.1 149.4l2.9 .5-1 1.1-2.9-.5zM137.9 150.6l2.1 .9-1.7 .6-2.1-.9zM140.5 150.7l2.2 .9-1.6 .6-2.2-.8zM165.5 150.8l2.7 .6-1.3 .9-2.6-.5zM155.6 151.1l2.5 .7-1.4 .8-2.5-.7z"/>
<path color="#31c6a0" d="M106.3 146.5l.6 .5-2.6-.2-.6-.5zM205.1 147.1l3.1 .3-.8 1.2-3.1-.3zM197.5 148.3l3 .3-.9 1.2-3-.3zM189.8 149.3l3 .4-1 1.1-3-.4zM126.4 149.8l1.5 .9-2.1 .4-1.6-.9zM128.9 150l1.7 1-2.1 .5-1.7-1zM182.2 150.1l2.9 .4-1.1 1.1-2.9-.4zM131.4 150.3l1.9 .9-2 .6-1.8-.9zM134 150.5l2 .9-1.9 .6-1.9-.9zM164.4 151.3l2.7 .6-1.3 .9-2.6-.6zM151.6 151.5l2.5 .7-1.4 .7-2.5-.7z"/>
<path color="#0fbeba" d="M174.1 153l2.9 .5-1.2 .7-2.9-.4zM157.4 153.3l2.7 .6-1.4 .4-2.7-.5z"/>
<path color="#37c897" d="M216 144.5l3.3 .1-.3 .6-3.3-.1zM211.1 145.2l3.1 .2-.5 1.1-3.2-.3zM111.4 147.1l.8 .6-2.5 0-.8-.6zM113.7 147.5l.8 .7-2.5 0-.9-.7zM178.5 149.7l2.8 .5-1.1 1.1-2.8-.5zM131.5 149.9l1.8 .9-2 .6-1.7-.9zM134 150.1l1.9 .9-1.8 .6-1.9-.9zM171.1 150.2l2.7 .6-1.2 1-2.7-.6zM161.1 150.8l2.6 .6-1.3 .9-2.6-.6zM148.6 150.9l2.3 .8-1.5 .7-2.3-.7z"/>
<path color="#33c69d" d="M105.7 146.3l.6 .4-2.7-.2-.5-.4zM117.8 148.5l1.2 .8-2.5 .1-1.1-.7zM120.3 148.9l1.2 .8-2.4 .2-1.2-.8zM177.5 150.3l2.8 .5-1.1 1-2.8-.4zM144.6 151.1l2.3 .8-1.5 .7-2.3-.8z"/>
<path color="#33c79c" d="M210.6 145.9l3.1 .2-.6 1.1-3.2-.2zM107.8 146.7l.7 .5-2.6-.2-.7-.5zM127.7 149.7l1.6 .9-2.1 .5-1.6-.9z"/>
<path color="#38c896" d="M213.6 144.7l3.2 .2-.4 .9-3.2-.2zM108.7 146.6l.6 .4-2.6-.2-.5-.4zM203.7 146.2l3.1 .3-.8 1.2-3-.3zM115.9 147.8l1 .8-2.4 .1-1-.7zM118.3 148.2l1.1 .8-2.5 .2-1.1-.8zM136.6 150.2l2 .9-1.8 .7-2-.9zM139.2 150.4l2.1 .9-1.7 .7-2.1-.9zM151.3 150.9l2.4 .7-1.5 .8-2.4-.7z"/>
<path color="#32c69e" d="M207.9 146.5l3.1 .2-.7 1.2-3.2-.2zM110.7 147.4l.9 .6-2.6-.1-.8-.6zM113 147.8l1 .6-2.5 0-1-.6zM200.3 147.6l3 .4-.8 1.2-3.1-.4zM115.4 148.2l1.1 .7-2.5 0-1.1-.7zM192.6 148.7l3 .4-.9 1.2-3-.4zM185 149.6l2.9 .5-1 1.1-2.9-.5zM167.3 151.1l2.7 .6-1.3 .9-2.7-.6zM142 151l2.2 .9-1.6 .6-2.3-.8zM157.2 151.4l2.5 .6-1.3 .8-2.6-.6z"/>
<path color="#3bc992" d="M213.9 144.4l3.2 .2-.3 .5-3.2-.1zM211.5 144.6l3.2 .2-.5 .9-3.2-.2zM209 145.1l3.1 .2-.6 1.1-3.1-.3zM115.1 147.5l.9 .7-2.5 .1-.9-.7zM117.3 147.8l1.1 .8-2.5 .2-1-.8zM132.8 149.7l1.8 1-1.9 .6-1.8-.9zM135.3 149.9l1.9 .9-1.8 .7-1.9-.9zM169.3 150l2.7 .6-1.2 1-2.7-.6zM159.4 150.5l2.6 .7-1.4 .9-2.5-.7zM149.7 150.5l2.4 .8-1.5 .8-2.3-.7z"/>
<path color="#30c5a1" d="M114 148.1l1 .7-2.5 0-1.1-.7zM116.4 148.5l1.1 .7-2.5 .1-1.1-.7zM118.9 148.9l1.2 .7-2.5 .2-1.2-.8zM121.3 149.2l1.4 .8-2.4 .3-1.3-.8zM146.1 151.4l2.4 .8-1.5 .7-2.4-.8z"/>
<path color="#36c898" d="M208.4 145.7l3.2 .3-.7 1.1-3.1-.2zM109.3 146.8l.7 .5-2.6-.1-.7-.5zM126.5 149.4l1.6 .9-2.2 .5-1.5-.9zM129 149.6l1.7 1-2.1 .5-1.6-.9zM168.3 150.5l2.7 .6-1.2 1-2.7-.6zM145.9 150.9l2.3 .8-1.6 .7-2.3-.8zM158.3 151l2.6 .6-1.4 .9-2.5-.7z"/>
<path color="#37c898" d="M106.9 146.3l.3 .3-2.6-.2-.3-.3zM201 146.9l3 .3-.8 1.2-3-.3zM193.4 147.9l3 .4-.9 1.2-3-.3zM185.9 148.9l2.9 .4-1 1.2-2.9-.4z"/>
<path color="#1cc0b3" d="M170.4 152.7l2.8 .5-1.2 .7-2.8-.5z"/>
<path color="#22c1b0" d="M179.2 151.9l2.9 .4-1.1 .9-2.9-.5zM168.6 152.4l2.8 .6-1.3 .7-2.8-.5zM152.4 152.6l2.6 .6-1.5 .6-2.6-.7z"/>
<path color="#3fca8e" d="M211.7 144.3l3.2 .2-.2 .6-3.3-.2zM206.9 144.9l3.1 .3-.6 1.1-3.1-.3zM196.9 146.5l3 .4-.8 1.2-3-.3zM116.5 147.5l.9 .7-2.4 .2-.9-.7zM189.5 147.6l2.9 .4-.9 1.2-2.9-.4zM182.1 148.5l2.9 .5-1 1.1-2.9-.4zM174.8 149.2l2.8 .5-1.1 1.2-2.8-.6zM131.6 149.4l1.7 .9-1.9 .7-1.7-1zM145.6 150.2l2.3 .9-1.6 .8-2.2-.9zM157.8 150.2l2.5 .7-1.3 .9-2.5-.7z"/>
<path color="#34c79c" d="M203 147l3.1 .3-.8 1.2-3.1-.3zM195.4 148.1l3 .4-.9 1.2-3-.4zM187.9 149.1l2.9 .4-1 1.2-2.9-.5zM130.2 150l1.7 .9-1.9 .5-1.8-.9zM180.3 149.9l2.9 .5-1.1 1-2.9-.4zM132.7 150.2l1.9 .9-1.9 .6-1.8-.9zM150.1 151.2l2.4 .7-1.5 .8-2.4-.8z"/>
<path color="#35c79b" d="M112.2 147.5l.9 .6-2.6-.1-.8-.6zM152.8 151.2l2.5 .7-1.4 .8-2.5-.8z"/>
<path color="#3ac994" d="M206.3 145.6l3.2 .3-.7 1.1-3.1-.2zM108.4 146.5l.3 .2-2.6-.2-.3-.2zM127.8 149.3l1.6 .9-2.1 .6-1.5-1zM166.6 150.3l2.6 .6-1.2 1-2.6-.6zM144.4 150.5l2.3 .9-1.6 .7-2.2-.8zM156.7 150.7l2.5 .7-1.4 .8-2.5-.7z"/>
<path color="#40ca8d" d="M209.4 144.5l3.1 .2-.4 .9-3.2-.2zM111.7 146.7l.5 .5-2.5-.1-.6-.5zM118.7 147.8l1.1 .8-2.4 .2-1.1-.7zM134.1 149.5l1.8 1-1.9 .7-1.8-1zM167.6 149.7l2.7 .6-1.2 1.1-2.7-.6zM148.3 150.2l2.3 .8-1.5 .9-2.3-.8z"/>
<path color="#22c1af" d="M155.2 152.6l2.7 .6-1.4 .6-2.6-.6z"/>
<path color="#28c3ab" d="M138.1 151.5l2.2 .8-1.7 .5-2.2-.8z"/>
<path color="#45cb89" d="M209.6 144.2l3.2 .2-.3 .6-3.2-.2zM204.8 144.8l3.1 .3-.6 1.1-3.1-.3zM173 148.9l2.8 .6-1.2 1.1-2.7-.5zM132.9 149.2l1.7 .9-1.9 .7-1.7-.9zM156.2 149.9l2.5 .7-1.4 1-2.4-.7z"/>
<path color="#39c994" d="M110.8 146.9l.6 .5-2.5-.1-.7-.5zM125.4 149l1.5 1-2.2 .4-1.5-.9z"/>
<path color="#3eca8f" d="M204.3 145.5l3.1 .3-.7 1.1-3.1-.2zM109.9 146.5l.3 .3-2.6-.1-.3-.3zM114.3 147.2l.8 .7-2.5 0-.8-.6zM126.7 148.9l1.5 1-2.1 .5-1.5-.9zM129.1 149.2l1.6 .9-2 .6-1.6-.9zM164.9 150l2.6 .6-1.2 1-2.7-.6zM143 150.2l2.2 .9-1.6 .7-2.2-.8zM155.1 150.4l2.5 .7-1.4 .9-2.5-.7z"/>
<path color="#3cc991" d="M110.2 146.6l.6 .5-2.6-.1-.5-.5zM201.6 146.1l3.1 .3-.8 1.2-3-.3zM194.2 147.2l3 .3-.9 1.3-3-.4zM119.6 148.1l1.2 .9-2.4 .2-1.1-.8zM186.8 148.2l2.9 .4-1 1.2-2.9-.4zM137.9 150l2 .9-1.8 .8-2-.9zM162.1 150.3l2.6 .6-1.2 1-2.6-.7z"/>
<path color="#46cb88" d="M207.3 144.4l3.1 .2-.5 .9-3.1-.2zM135.3 149.3l1.9 1-1.8 .7-1.9-.9zM165.9 149.4l2.6 .7-1.2 1-2.6-.6zM146.8 149.9l2.3 .8-1.6 .9-2.2-.9z"/>
<path color="#3ac993" d="M112.9 147.2l.8 .6-2.5 0-.8-.6zM198.9 146.7l3.1 .3-.8 1.3-3.1-.4zM191.5 147.8l2.9 .4-.9 1.2-2.9-.4zM184 148.7l2.9 .5-1 1.1-2.9-.4zM130.3 149.5l1.7 1-2 .5-1.7-.9zM147.1 150.6l2.3 .8-1.5 .8-2.3-.8z"/>
<path color="#4bcb84" d="M207.5 144.1l3.2 .2-.3 .6-3.2-.2zM202.7 144.7l3.1 .2-.6 1.1-3.1-.3zM119.3 147.4l.9 .8-2.3 .3-1-.8zM185.7 147.2l2.8 .4-.9 1.3-2.8-.5zM178.5 148l2.7 .5-1 1.2-2.8-.5zM171.3 148.7l2.7 .6-1.2 1.1-2.6-.6zM131.7 148.8l1.7 1-2 .6-1.6-.9z"/>
<path color="#2ac3aa" d="M162.2 152.1l2.7 .6-1.3 .8-2.7-.6z"/>
<path color="#2fc5a4" d="M132.7 150.6l1.9 .9-1.8 .6-2-.9zM166.2 151.6l2.7 .5-1.3 .9-2.7-.6z"/>
<path color="#33c79d" d="M122.7 149.2l1.4 .8-2.3 .3-1.4-.8zM125.2 149.5l1.5 .8-2.2 .5-1.5-.9zM170.1 150.8l2.7 .6-1.2 .9-2.7-.5zM147.4 151.2l2.3 .8-1.5 .7-2.3-.8zM160 151.2l2.5 .7-1.3 .8-2.6-.6z"/>
<path color="#35c799" d="M119.2 148.5l1.2 .8-2.4 .2-1.2-.7z"/>
<path color="#38c895" d="M196.2 147.3l3 .4-.9 1.2-3-.3zM188.7 148.4l2.9 .4-.9 1.2-2.9-.4zM163.8 150.6l2.6 .6-1.2 .9-2.6-.6z"/>
<path color="#2bc3a9" d="M165.1 152l2.7 .6-1.3 .7-2.7-.5z"/>
<path color="#3dca90" d="M112.2 146.9l.7 .6-2.5 0-.7-.6zM124.3 148.7l1.4 .9-2.2 .4-1.4-.9zM172.1 149.6l2.7 .6-1.1 1-2.8-.5z"/>
<path color="#43cb8a" d="M202.2 145.3l3.1 .3-.7 1.2-3.1-.3zM115.7 147.2l.9 .7-2.5 .1-.8-.7zM128 148.8l1.5 .9-2 .6-1.5-.9zM163.2 149.7l2.6 .7-1.3 1-2.6-.6zM153.6 150l2.4 .8-1.4 .9-2.4-.7z"/>
<path color="#4ccb83" d="M205.2 144.2l3.1 .3-.5 .9-3.1-.2zM121.5 147.6l1 .9-2.3 .4-1-.9zM134.1 148.9l1.8 1-1.9 .7-1.7-.9zM164.2 149.1l2.6 .7-1.2 1.1-2.6-.7zM145.4 149.5l2.2 .9-1.6 .9-2.1-.9z"/>
<path color="#36c799" d="M121.6 148.8l1.3 .9-2.3 .3-1.3-.8zM175.7 150.1l2.8 .5-1.2 1.1-2.8-.6zM143.2 150.8l2.2 .8-1.5 .7-2.3-.8z"/>
<path color="#41ca8c" d="M199.6 145.9l3 .4-.7 1.2-3.1-.3zM192.2 147l3 .4-.9 1.2-2.9-.4zM121 148.1l1.2 .8-2.4 .4-1.1-.9zM184.9 147.9l2.8 .5-.9 1.2-2.9-.4zM123.3 148.3l1.3 .9-2.3 .5-1.2-.9zM136.6 149.7l1.9 .9-1.8 .7-1.9-.9zM160.5 150l2.5 .7-1.3 .9-2.5-.6zM150.9 150.2l2.4 .7-1.5 .9-2.3-.8z"/>
<path color="#42ca8b" d="M111.4 146.6l.3 .3-2.6-.1-.3-.3zM113.7 146.9l.7 .6-2.5 .1-.7-.6zM125.7 148.6l1.4 .9-2.2 .5-1.4-.9zM177.6 148.7l2.7 .6-1 1.1-2.8-.5zM170.3 149.4l2.7 .5-1.2 1.1-2.6-.6zM139.1 149.8l2 .9-1.7 .7-2-.8z"/>
<path color="#52cc7f" d="M205.4 143.9l3.2 .3-.3 .5-3.2-.2zM120.6 147.3l1 .8-2.3 .4-1-.9zM176.6 147.8l2.8 .5-1.1 1.2-2.7-.5z"/>
<path color="#36c899" d="M124.1 149.1l1.4 .9-2.3 .4-1.4-.9z"/>
<path color="#39c895" d="M120.6 148.5l1.2 .8-2.3 .3-1.2-.8zM181.3 149.2l2.8 .5-1.1 1.1-2.8-.5zM154 150.8l2.4 .7-1.4 .8-2.4-.7z"/>
<path color="#49cb85" d="M200.2 145.2l3 .3-.7 1.2-3-.3zM117.1 147.1l.9 .7-2.4 .3-.9-.8zM127 148.4l1.4 1-2.1 .5-1.4-.9zM140.3 149.5l2 .9-1.6 .8-2-.9zM161.6 149.4l2.5 .7-1.3 1-2.5-.6zM152 149.7l2.4 .8-1.4 .9-2.4-.7z"/>
<path color="#53cc7e" d="M203.1 144.1l3.1 .3-.4 .9-3.1-.3zM132.9 148.6l1.7 .9-1.9 .8-1.6-1zM162.6 148.8l2.5 .7-1.2 1.1-2.6-.7zM144 149.2l2.1 .8-1.5 .9-2.1-.8z"/>
<path color="#47cb87" d="M197.6 145.8l3 .3-.8 1.2-3-.3zM115.1 146.9l.7 .6-2.5 .1-.7-.6zM190.3 146.8l2.9 .4-.9 1.3-2.9-.5zM122.4 148l1.1 .8-2.2 .5-1.2-.9zM183 147.7l2.8 .5-1 1.2-2.8-.4zM137.8 149.4l2 1-1.8 .7-1.9-.9zM158.9 149.7l2.5 .7-1.3 1-2.5-.7zM149.4 149.8l2.3 .8-1.4 .9-2.3-.8z"/>
<path color="#39c995" d="M123 148.8l1.3 .9-2.3 .3-1.3-.8zM173.9 149.9l2.7 .5-1.1 1.1-2.8-.6zM141.8 150.5l2.2 .8-1.7 .8-2.1-.9z"/>
<path color="#45cb88" d="M113.1 146.7l.6 .5-2.5 0-.6-.5zM120.1 147.7l1.1 .8-2.4 .4-1-.8z"/>
<path color="#44cb89" d="M194.9 146.4l3 .3-.8 1.3-3-.4zM117.9 147.5l.9 .7-2.4 .3-.9-.8zM187.6 147.4l2.9 .4-.9 1.3-2.9-.5zM180.3 148.3l2.8 .5-1 1.2-2.8-.5zM130.4 149l1.7 1-2 .6-1.7-1zM144.2 149.9l2.2 .8-1.6 .9-2.1-.9z"/>
<path color="#59cc79" d="M203.3 143.8l3.2 .2-.3 .6-3.1-.2zM198.7 144.3l3 .3-.6 1.2-3-.4zM117.3 146.5l.6 .6-2.4 .2-.6-.6zM181.9 146.7l2.8 .5-.9 1.3-2.8-.5zM122 147.1l1 .9-2.3 .4-1-.8zM174.9 147.5l2.7 .6-1.1 1.2-2.7-.6zM167.9 148.1l2.6 .7-1.2 1.1-2.6-.6zM131.8 148.2l1.6 .9-1.9 .8-1.6-1zM151.7 148.9l2.3 .8-1.4 1-2.4-.8z"/>
<path color="#52cc7e" d="M200.7 144.5l3 .3-.5 1.1-3.1-.3zM116 146.6l.5 .5-2.4 .2-.6-.5zM169.6 148.4l2.6 .6-1.1 1.2-2.7-.6zM153.1 149.2l2.4 .8-1.4 1-2.3-.8z"/>
<path color="#48cb86" d="M112.8 146.6l.3 .3-2.5 0-.3-.3zM124.6 148.2l1.3 .9-2.2 .5-1.3-.9zM175.8 148.5l2.7 .5-1.1 1.2-2.7-.5zM168.6 149.1l2.6 .6-1.1 1.1-2.7-.6z"/>
<path color="#50cc80" d="M198.1 145l3.1 .4-.7 1.1-3-.3zM118.5 147l.9 .8-2.4 .3-.9-.8zM128.2 148.2l1.5 1-2.1 .6-1.4-.9zM159.9 149.1l2.5 .7-1.3 1.1-2.4-.7zM150.6 149.4l2.3 .8-1.5 .9-2.3-.8z"/>
<path color="#3dc990" d="M122 148.4l1.2 .9-2.3 .4-1.2-.9zM179.4 149l2.8 .5-1.1 1.1-2.8-.5zM140.4 150.1l2.1 .9-1.6 .8-2.1-.9zM152.4 150.5l2.4 .7-1.4 .9-2.4-.8z"/>
<path color="#5acd79" d="M201.1 143.9l3.1 .3-.5 1-3.1-.3z"/>
<path color="#4dcc82" d="M195.6 145.6l2.9 .4-.7 1.2-3-.4zM123.7 147.8l1.2 .9-2.2 .5-1.2-.9z"/>
<path color="#4acb84" d="M192.9 146.2l3 .4-.8 1.2-3-.4zM142.8 149.5l2.2 .9-1.6 .9-2.2-.9z"/>
<path color="#60cd74" d="M201.3 143.6l3.1 .3-.3 .6-3.1-.3zM196.7 144.1l3 .4-.6 1.1-3-.4zM187.2 145.5l2.8 .5-.8 1.3-2.9-.5zM180.1 146.5l2.8 .5-1 1.3-2.7-.5zM173.1 147.2l2.7 .6-1.1 1.3-2.7-.6zM130.8 147.8l1.5 .9-2 .8-1.5-1zM166.2 147.8l2.5 .7-1.1 1.2-2.6-.7zM150.2 148.5l2.3 .9-1.5 1-2.2-.8z"/>
<path color="#4bcb83" d="M114.6 146.7l.5 .5-2.5 .1-.5-.5zM154.7 149.6l2.4 .7-1.4 1-2.4-.7z"/>
<path color="#4ecc81" d="M114.2 146.6l.4 .3-2.5 0-.4-.3zM116.5 146.8l.7 .7-2.4 .2-.8-.7zM188.4 146.6l2.8 .4-.8 1.3-2.9-.4zM181.1 147.5l2.8 .5-1 1.2-2.8-.5zM174 148.2l2.7 .6-1.1 1.2-2.7-.6z"/>
<path color="#3bc993" d="M176.6 149.4l2.8 .6-1.1 1.1-2.8-.5z"/>
<path color="#57cc7b" d="M196.2 144.8l2.9 .4-.6 1.2-3-.4zM149.1 149l2.2 .9-1.4 .9-2.3-.8z"/>
<path color="#61cd73" d="M199.1 143.7l3 .4-.5 .9-3-.3zM118.7 146.4l.6 .6-2.4 .2-.6-.5zM123.3 146.9l1 .9-2.2 .5-1.1-.9zM159.4 148.2l2.4 .7-1.3 1.2-2.4-.8zM141.4 148.4l2 .9-1.7 .9-1.9-.9z"/>
<path color="#54cc7d" d="M193.6 145.4l2.9 .4-.7 1.2-3-.4zM135.3 148.7l1.8 .9-1.8 .8-1.8-.9z"/>
<path color="#51cc7f" d="M191 146l2.9 .4-.8 1.3-2.9-.4zM183.8 146.9l2.8 .5-.9 1.3-2.8-.5zM130.6 148.4l1.6 1-2 .7-1.6-1zM141.5 149.2l2.1 .9-1.7 .8-2-.9z"/>
<path color="#67cd6f" d="M199.3 143.4l3.1 .3-.3 .6-3.1-.3zM185.3 145.3l2.8 .5-.8 1.3-2.9-.5zM122.5 146.6l1 .8-2.3 .5-.9-.8zM129.7 147.3l1.5 1-2 .8-1.5-1z"/>
<path color="#5ecd75" d="M194.2 144.6l2.9 .4-.6 1.2-3-.4zM128.5 147.6l1.4 1-2 .7-1.4-1zM156.8 148.5l2.4 .7-1.3 1.1-2.4-.7z"/>
<path color="#55cc7c" d="M115.6 146.5l.4 .3-2.5 .1-.4-.3zM117.9 146.7l.7 .7-2.4 .3-.8-.7zM186.4 146.4l2.9 .4-.9 1.3-2.8-.5zM179.3 147.2l2.8 .6-1 1.2-2.8-.5zM125 147.7l1.2 .9-2.1 .5-1.3-.9zM172.2 148l2.7 .6-1.1 1.2-2.7-.6zM155.7 149.1l2.5 .7-1.4 1-2.4-.7zM146.6 149.1l2.1 .9-1.5 .9-2.2-.8z"/>
<path color="#69cd6e" d="M197.1 143.5l3 .4-.5 .9-3-.3z"/>
<path color="#5bcd77" d="M191.6 145.2l3 .4-.8 1.3-2.9-.4z"/>
<path color="#58cc7a" d="M189.1 145.8l2.9 .4-.9 1.3-2.9-.4zM129.5 148l1.5 1-2 .7-1.5-1zM140.2 148.8l2 .9-1.7 .9-1.9-.9z"/>
<path color="#6fcd69" d="M197.3 143.2l3.1 .3-.3 .7-3.1-.4zM183.4 145.1l2.8 .5-.8 1.3-2.8-.5zM176.5 145.9l2.7 .6-1 1.3-2.7-.6z"/>
<path color="#68cd6e" d="M194.7 143.9l3 .4-.6 1.1-3-.3zM171.4 146.9l2.6 .6-1.1 1.3-2.6-.6zM164.5 147.5l2.6 .7-1.2 1.2-2.5-.7zM140.1 148l1.9 1-1.6 .9-1.9-.9zM148.8 148.2l2.2 .8-1.5 1.1-2.2-.9z"/>
<path color="#65cd70" d="M192.2 144.4l3 .4-.7 1.2-3-.4zM127.5 147.2l1.3 1-2 .6-1.3-.9zM146.3 148.3l2.1 .9-1.5 1-2.1-.9z"/>
<path color="#71cd68" d="M195.1 143.3l3 .4-.5 1-3-.4zM156.3 147.5l2.3 .8-1.3 1.1-2.3-.7z"/>
<path color="#63cd72" d="M189.7 145l2.9 .4-.8 1.3-2.9-.5zM125.4 147.1l1.2 .9-2.2 .6-1.2-.9zM143.8 148.4l2.1 .9-1.6 .9-2-.9zM152.7 148.4l2.3 .8-1.3 1-2.3-.8z"/>
<path color="#5dcd76" d="M117 146.4l.4 .3-2.5 .2-.3-.3zM126.3 147.5l1.2 .9-2.1 .6-1.3-.9zM163.6 148.2l2.5 .7-1.2 1.1-2.5-.6zM136.6 148.4l1.8 .9-1.8 .9-1.8-1z"/>
<path color="#4acb85" d="M129.3 148.6l1.6 1-2.1 .6-1.5-.9z"/>
<path color="#57cc7a" d="M119.9 146.9l.9 .8-2.4 .3-.9-.7zM158.4 148.8l2.4 .7-1.3 1.1-2.4-.7z"/>
<path color="#4fcc81" d="M125.9 148l1.4 1-2.2 .5-1.3-.9zM166.9 148.8l2.6 .6-1.2 1.1-2.6-.6zM139 149.1l2 1-1.7 .8-2-.9z"/>
<path color="#53cc7d" d="M122.8 147.5l1.1 .8-2.3 .5-1.1-.9z"/>
<path color="#43ca8a" d="M141.6 149.9l2.2 .8-1.7 .8-2.1-.8z"/>
<path color="#5ccd77" d="M184.6 146.1l2.8 .5-.9 1.3-2.8-.5zM119.2 146.6l.8 .7-2.4 .3-.8-.7zM177.5 147l2.7 .5-1 1.3-2.7-.5zM170.5 147.7l2.6 .6-1.1 1.2-2.6-.6zM154.2 148.7l2.4 .8-1.4 1-2.3-.7zM145.2 148.8l2.1 .8-1.5 1-2.2-.9z"/>
<path color="#78cd64" d="M195.3 143l3.1 .4-.3 .6-3.1-.4zM190.8 143.5l2.9 .4-.6 1.1-2.9-.4zM181.6 144.8l2.8 .5-.9 1.3-2.8-.5zM174.8 145.6l2.6 .6-1 1.3-2.6-.5zM168 146.3l2.5 .7-1 1.3-2.6-.7zM130 146.6l1.4 1-2 .8-1.4-1zM137.7 147.2l1.8 1-1.7 .9-1.8-1zM146.1 147.4l2 .9-1.5 1-2-.8z"/>
<path color="#70cd69" d="M192.7 143.7l3 .4-.6 1.1-3-.3zM123.8 146.3l1 .9-2.3 .5-.9-.8zM169.7 146.6l2.6 .7-1.1 1.2-2.6-.6zM131 147l1.4 1-1.9 .8-1.5-1zM162.9 147.2l2.5 .7-1.2 1.2-2.5-.7zM138.9 147.6l1.8 1-1.6 .9-1.9-1zM147.4 147.8l2.1 .9-1.4 1-2.2-.9z"/>
<path color="#6dcd6a" d="M190.3 144.2l2.9 .4-.7 1.3-2.9-.5zM136.6 147.6l1.7 1-1.7 .9-1.8-1z"/>
<path color="#79cd63" d="M193.1 143.1l3 .4-.5 1-3-.4z"/>
<path color="#6acd6c" d="M187.8 144.7l2.9 .5-.8 1.3-2.9-.5zM142.5 148l2 .9-1.6 1-2-.9z"/>
<path color="#64cd71" d="M118.4 146.3l.4 .3-2.5 .3-.3-.4zM120.6 146.4l.7 .8-2.3 .4-.8-.8zM175.7 146.7l2.7 .6-1 1.3-2.7-.6zM168.8 147.4l2.6 .6-1.1 1.3-2.6-.7zM135.4 148l1.7 .9-1.8 .9-1.7-1z"/>
<path color="#5fcd75" d="M121.2 146.8l.9 .8-2.3 .4-.9-.8zM139 148.4l1.9 .9-1.7 .9-1.9-.9z"/>
<path color="#63cd71" d="M182.7 145.9l2.8 .5-.9 1.3-2.8-.5z"/>
<path color="#56cc7b" d="M127.2 147.9l1.4 .9-2.1 .6-1.4-.9zM165.2 148.5l2.6 .7-1.2 1.1-2.6-.6zM137.8 148.8l1.9 .9-1.8 .8-1.9-.9z"/>
<path color="#5bcd78" d="M124.1 147.3l1.1 .9-2.2 .5-1.1-.9zM134.2 148.3l1.7 .9-1.9 .8-1.7-.9z"/>
<path color="#4ecc82" d="M136.5 149.1l1.9 .9-1.7 .8-1.9-1zM157.3 149.4l2.5 .7-1.4 1-2.4-.7zM148 149.5l2.2 .8-1.5 .9-2.2-.8z"/>
<path color="#80cd5f" d="M193.3 142.8l3.1 .4-.3 .6-3-.4zM179.8 144.5l2.7 .6-.9 1.3-2.7-.5zM136.6 146.7l1.7 1-1.7 1-1.7-1z"/>
<path color="#76cd65" d="M188.4 144l2.9 .4-.7 1.2-2.9-.4zM121.1 145.9l.4 .4-2.4 .4-.4-.4zM123.2 146l.8 .8-2.3 .5-.8-.8zM152.3 147.4l2.3 .8-1.4 1.2-2.2-.8z"/>
<path color="#73cd67" d="M185.9 144.5l2.9 .5-.8 1.3-2.9-.5zM125.8 146.4l1.1 .9-2.1 .7-1.1-.9zM133.2 147.1l1.6 1-1.9 .9-1.6-1zM149.9 147.6l2.2 .9-1.5 1.1-2.2-.9z"/>
<path color="#82cd5f" d="M191.2 142.9l3 .4-.5 1-3-.4z"/>
<path color="#69cd6d" d="M120.1 146.2l.6 .6-2.4 .4-.6-.6zM124.6 146.7l1 .9-2.2 .6-1-.9zM132 147.5l1.5 .9-1.9 .8-1.5-.9zM157.8 147.9l2.4 .7-1.3 1.2-2.4-.8z"/>
<path color="#6bcd6c" d="M180.9 145.6l2.7 .5-.9 1.4-2.7-.5zM174 146.4l2.6 .6-1 1.3-2.7-.6zM134.3 147.5l1.6 1-1.8 .9-1.7-1zM151.3 148l2.2 .8-1.4 1.1-2.2-.8z"/>
<path color="#67cd6e" d="M178.3 146.2l2.7 .5-.9 1.3-2.8-.5z"/>
<path color="#6dcd6b" d="M119.8 146.1l.3 .4-2.4 .3-.4-.4zM121.9 146.2l.8 .8-2.3 .5-.8-.8zM145 147.9l2 .9-1.5 1-2.1-.9z"/>
<path color="#81cd5f" d="M188.9 143.3l2.9 .4-.6 1.1-2.9-.4zM173 145.3l2.7 .6-1 1.4-2.7-.6zM166.3 146l2.6 .7-1.1 1.3-2.6-.7zM159.8 146.5l2.4 .7-1.3 1.3-2.4-.7zM144.8 147l2 .9-1.6 1.1-2-.9z"/>
<path color="#89cd5b" d="M191.4 142.6l3 .4-.3 .6-3-.4zM178 144.2l2.7 .6-.9 1.4-2.7-.6zM135.5 146.3l1.6 1-1.7 1-1.6-1zM143.5 146.5l1.9 1-1.5 1.1-2-.9z"/>
<path color="#7fcd60" d="M186.5 143.7l2.9 .5-.7 1.2-2.9-.4zM150.9 147l2.2 .9-1.4 1.1-2.2-.8z"/>
<path color="#7bcd62" d="M184.1 144.3l2.8 .4-.8 1.3-2.8-.4zM132.2 146.7l1.5 1-2 .8-1.4-1zM140.1 147.1l1.8 1-1.6 1-1.9-.9zM148.5 147.2l2.1 .9-1.4 1.1-2.2-.9z"/>
<path color="#5acd78" d="M161 148.5l2.5 .7-1.3 1.1-2.5-.6z"/>
<path color="#8bcd5a" d="M189.3 142.7l2.9 .4-.5 1-2.9-.4zM151.9 146.4l2.2 .8-1.3 1.2-2.2-.8z"/>
<path color="#5acc79" d="M142.7 148.8l2 .9-1.6 .9-2-.9z"/>
<path color="#74cd67" d="M179.1 145.4l2.7 .5-.9 1.3-2.8-.5z"/>
<path color="#72cd68" d="M121.4 146l.6 .6-2.3 .5-.7-.7z"/>
<path color="#8acd5a" d="M187 143l2.9 .5-.6 1.1-2.9-.4zM123.7 145.3l.4 .4-2.4 .6-.4-.4zM171.3 145l2.6 .6-1 1.4-2.6-.6zM125.7 145.4l.9 .8-2.2 .7-.9-.8zM164.7 145.7l2.5 .7-1.1 1.3-2.5-.7zM130.3 145.8l1.3 1-2 .8-1.2-.9zM158.2 146.1l2.4 .8-1.2 1.3-2.4-.8z"/>
<path color="#92cd56" d="M189.5 142.3l3 .4-.3 .7-3-.4zM185.1 142.7l2.9 .5-.6 1.2-2.9-.5zM176.2 143.9l2.7 .6-.9 1.4-2.7-.6zM169.6 144.7l2.6 .6-1 1.4-2.6-.6zM129.5 145.4l1.2 .9-2 .9-1.2-1zM163.1 145.3l2.5 .7-1.2 1.4-2.4-.7zM142.3 146.1l1.8 1-1.5 1.1-1.9-1z"/>
<path color="#62cd73" d="M133.1 147.9l1.6 1-1.9 .7-1.6-.9z"/>
<path color="#6ccd6b" d="M126.6 146.8l1.3 1-2.2 .6-1.2-.9zM160.4 147.5l2.4 .8-1.2 1.2-2.5-.8z"/>
<path color="#87cd5c" d="M184.6 143.5l2.9 .4-.7 1.3-2.9-.5zM128.3 145.8l1.1 .9-2 .8-1.2-.9zM149.5 146.6l2.2 .9-1.4 1.1-2.2-.8z"/>
<path color="#5ecd76" d="M147.7 148.7l2.2 .8-1.5 1-2.2-.8z"/>
<path color="#84cd5d" d="M182.2 144l2.8 .5-.8 1.3-2.8-.5zM126.3 145.7l1 .9-2.1 .7-1-.9zM147.1 146.8l2.1 .9-1.5 1.1-2-.8z"/>
<path color="#93cd55" d="M187.4 142.4l2.9 .5-.5 1-2.9-.5zM156.8 145.7l2.3 .8-1.3 1.3-2.3-.8z"/>
<path color="#65cd71" d="M162 147.9l2.4 .7-1.2 1.1-2.5-.6z"/>
<path color="#7ccd62" d="M177.3 145.1l2.7 .5-.9 1.4-2.8-.6zM122.7 145.7l.6 .7-2.3 .5-.6-.7z"/>
<path color="#6ccd6c" d="M167.1 147.1l2.6 .6-1.2 1.3-2.5-.6z"/>
<path color="#6ecd6a" d="M128.8 146.9l1.3 1-2 .7-1.3-.9zM153.8 147.8l2.3 .8-1.4 1.1-2.3-.8z"/>
<path color="#74cd66" d="M172.2 146.1l2.7 .7-1.1 1.3-2.6-.6zM165.5 146.8l2.5 .6-1.2 1.3-2.5-.7z"/>
<path color="#66cd70" d="M137.7 148l1.9 1-1.8 .8-1.8-.9zM155.3 148.1l2.3 .8-1.3 1.1-2.4-.8z"/>
<path color="#9acc52" d="M187.6 142.1l3 .4-.3 .6-3-.4zM126.4 144.7l.7 .7-2.2 .8-.7-.7zM141.1 145.7l1.8 .9-1.6 1.1-1.8-.9z"/>
<path color="#90cd57" d="M182.8 143.2l2.8 .5-.7 1.3-2.8-.5zM125.2 145.1l.7 .7-2.2 .7-.7-.7zM148.2 146.2l2.1 .9-1.5 1.2-2.1-.9z"/>
<path color="#80cd60" d="M122.4 145.6l.4 .4-2.4 .5-.4-.4zM124.5 145.7l.8 .8-2.2 .6-.9-.8zM129.1 146.2l1.3 1-2 .7-1.3-.9z"/>
<path color="#7acd63" d="M125.1 146l1 .9-2.2 .7-1-.9zM154.8 147.1l2.3 .8-1.3 1.2-2.3-.8z"/>
<path color="#75cd65" d="M127.9 146.5l1.2 1-2 .7-1.3-.9z"/>
<path color="#8dcd59" d="M180.4 143.7l2.8 .5-.8 1.4-2.8-.6zM145.8 146.4l2 .9-1.5 1.1-2-.9z"/>
<path color="#9bcc51" d="M185.5 142.1l2.9 .5-.5 1-2.9-.4zM183.3 142.5l2.8 .5-.6 1.2-2.8-.5zM168 144.4l2.5 .6-1 1.4-2.5-.6zM161.6 144.9l2.4 .8-1.2 1.3-2.4-.7zM155.3 145.3l2.2 .9-1.2 1.3-2.3-.8zM135.7 145.3l1.5 1.1-1.8 1-1.5-1z"/>
<path color="#85cd5d" d="M175.5 144.8l2.7 .6-.9 1.3-2.7-.5zM168.8 145.5l2.6 .7-1.1 1.3-2.5-.6z"/>
<path color="#7dcd61" d="M170.5 145.8l2.6 .7-1 1.3-2.6-.6zM127.1 146.1l1.1 .9-2.1 .8-1.1-1zM163.8 146.4l2.5 .7-1.1 1.3-2.5-.7zM134.4 146.7l1.6 1-1.9 .9-1.5-1zM157.3 146.8l2.3 .8-1.2 1.2-2.4-.7z"/>
<path color="#a2cc4d" d="M185.8 141.8l2.9 .5-.3 .6-2.9-.4z"/>
<path color="#86cd5d" d="M123.9 145.4l.7 .7-2.3 .6-.6-.7zM162.2 146.1l2.5 .7-1.2 1.3-2.4-.7zM133.4 146.3l1.5 1-1.9 .9-1.5-1z"/>
<path color="#98cc52" d="M181 142.9l2.8 .5-.8 1.3-2.7-.5zM133.6 145.4l1.4 1-1.9 1-1.4-1zM146.9 145.8l2 .9-1.5 1.2-2-.9z"/>
<path color="#75cd66" d="M135.4 147.2l1.7 .9-1.8 1-1.6-1zM158.8 147.2l2.4 .7-1.2 1.2-2.4-.7zM143.7 147.5l2 .9-1.6 1-2-.9z"/>
<path color="#72cd67" d="M141.3 147.6l1.9 .9-1.6 1-2-.9z"/>
<path color="#95cd54" d="M178.6 143.4l2.7 .6-.8 1.3-2.7-.5zM126.9 145l.9 .8-2.1 .8-.9-.8zM131.5 145.4l1.3 1-1.9 .9-1.3-1zM144.6 146l1.9 .9-1.5 1.1-2-.9z"/>
<path color="#79cd64" d="M161.3 146.8l2.5 .8-1.2 1.2-2.5-.7z"/>
<path color="#a4cc4d" d="M183.7 141.9l2.8 .4-.5 1.1-2.8-.5z"/>
<path color="#8ecd58" d="M173.8 144.5l2.6 .6-.9 1.4-2.7-.6zM167.2 145.2l2.5 .7-1.1 1.3-2.5-.6zM127.6 145.4l1 .9-2.1 .8-1-.9zM132.4 145.8l1.4 1-1.9 .9-1.4-.9zM160.7 145.7l2.4 .8-1.2 1.3-2.4-.7zM140 146.2l1.8 1-1.6 1-1.8-.9z"/>
<path color="#a3cc4d" d="M181.5 142.2l2.8 .5-.6 1.2-2.8-.5zM172.8 143.3l2.6 .6-.9 1.4-2.6-.6zM166.4 144l2.5 .7-1.1 1.4-2.5-.7zM129.9 144.5l1.1 1-2 .9-1.1-1zM160 144.6l2.4 .7-1.2 1.4-2.3-.8zM134.7 144.9l1.4 1-1.8 1-1.4-1zM153.9 144.9l2.2 .9-1.3 1.3-2.2-.8z"/>
<path color="#aacb4a" d="M183.9 141.5l2.9 .5-.3 .7-2.9-.5zM138.9 144.7l1.6 1-1.6 1.1-1.7-.9z"/>
<path color="#83cd5e" d="M131.2 146.2l1.4 1-1.9 .9-1.4-1zM138.9 146.7l1.8 1-1.7 1-1.8-1z"/>
<path color="#a1cc4e" d="M179.2 142.6l2.7 .6-.7 1.3-2.7-.6zM145.6 145.3l2 1-1.5 1.2-2-1z"/>
<path color="#9ecc50" d="M176.9 143.1l2.7 .6-.9 1.3-2.6-.5z"/>
<path color="#7ecd61" d="M142.4 147.1l1.9 .9-1.6 1.1-1.9-1z"/>
<path color="#accb49" d="M181.9 141.6l2.8 .5-.5 1-2.8-.5zM152.5 144.5l2.1 .9-1.3 1.3-2.1-.8zM146.6 144.6l2 1-1.5 1.2-1.9-.9z"/>
<path color="#9acc51" d="M174.5 143.6l2.6 .6-.9 1.4-2.6-.6z"/>
<path color="#96cd54" d="M172.1 144.2l2.6 .6-1 1.4-2.6-.6z"/>
<path color="#94cd55" d="M124.9 145l.4 .4-2.3 .6-.4-.4zM136.7 145.8l1.6 1-1.7 1-1.7-1zM150.5 146l2.2 .8-1.4 1.2-2.1-.8z"/>
<path color="#82cd5e" d="M153.3 146.8l2.3 .8-1.3 1.2-2.3-.8z"/>
<path color="#abcb49" d="M179.7 141.9l2.8 .5-.7 1.2-2.7-.5zM164.8 143.6l2.4 .7-1 1.5-2.5-.7zM158.6 144.2l2.3 .7-1.2 1.4-2.3-.7z"/>
<path color="#b2cb47" d="M182.1 141.3l2.9 .4-.3 .7-2.9-.5zM133 143.9l1.2 1-1.8 1.1-1.3-1z"/>
<path color="#86cd5c" d="M155.8 146.5l2.3 .8-1.3 1.2-2.3-.8zM141.2 146.7l1.8 .9-1.6 1.1-1.8-1z"/>
<path color="#a9cb4a" d="M177.4 142.3l2.7 .6-.7 1.3-2.7-.6zM129.3 144.1l1 .9-2.1 .9-.9-.8zM144.4 144.9l1.9 .9-1.5 1.2-1.9-.9z"/>
<path color="#a6cc4c" d="M175.1 142.8l2.7 .6-.8 1.4-2.7-.6z"/>
<path color="#b4cb46" d="M180.1 141.3l2.8 .5-.5 1-2.8-.5zM130.5 143.6l.9 .9-2 1-.9-.9zM151.1 144.1l2.1 .8-1.3 1.4-2.1-.9z"/>
<path color="#97cd53" d="M165.6 144.8l2.4 .7-1 1.4-2.5-.7zM159.2 145.4l2.3 .7-1.2 1.3-2.3-.7zM138.9 145.7l1.7 1-1.7 1.1-1.7-1zM152.9 145.7l2.2 .8-1.3 1.3-2.2-.8z"/>
<path color="#9fcc4f" d="M170.4 143.8l2.6 .7-1 1.4-2.6-.7zM128.1 144.6l.9 .8-2 .9-1-.9zM164 144.5l2.4 .7-1.1 1.4-2.4-.7zM157.7 145l2.3 .8-1.2 1.3-2.3-.8zM137.8 145.3l1.6 1-1.7 1.1-1.6-1z"/>
<path color="#8bcd59" d="M137.8 146.3l1.7 1-1.8 1-1.7-1z"/>
<path color="#91cd57" d="M134.5 145.8l1.5 1-1.8 1-1.5-1z"/>
<path color="#99cc52" d="M128.8 145l1 .9-2 .8-1.1-.9z"/>
<path color="#9ecc4f" d="M126.2 144.6l.4 .4-2.3 .7-.4-.4z"/>
<path color="#b3cb46" d="M177.9 141.6l2.8 .5-.7 1.2-2.7-.5zM169.5 142.6l2.5 .7-.9 1.4-2.6-.6zM163.2 143.2l2.4 .8-1 1.4-2.4-.7zM157.1 143.7l2.2 .9-1.1 1.4-2.3-.8z"/>
<path color="#8fcd58" d="M154.3 146.1l2.3 .8-1.3 1.2-2.3-.8z"/>
<path color="#baca44" d="M180.3 140.9l2.9 .5-.4 .7-2.8-.5z"/>
<path color="#b1cb47" d="M175.7 142l2.7 .6-.8 1.3-2.6-.6zM137.9 144.2l1.5 1-1.6 1.2-1.6-1zM143.2 144.4l1.8 1-1.5 1.2-1.8-1z"/>
<path color="#aecb48" d="M173.4 142.5l2.6 .6-.8 1.4-2.6-.6zM131.1 144l1.1 1-1.9 1-1.1-1zM135.8 144.3l1.5 1-1.8 1.1-1.4-1z"/>
<path color="#abcb4a" d="M171.1 143l2.6 .6-.9 1.4-2.6-.6zM133.8 144.4l1.4 1-1.9 1-1.3-.9z"/>
<path color="#9ccc50" d="M130.7 144.9l1.2 1-2 .9-1.2-.9z"/>
<path color="#bbca44" d="M178.3 141l2.8 .5-.5 1.1-2.8-.6zM176.2 141.2l2.7 .6-.6 1.3-2.7-.6zM167.8 142.3l2.5 .6-.9 1.5-2.5-.7zM161.7 142.8l2.3 .8-1 1.5-2.4-.8zM155.7 143.3l2.2 .8-1.2 1.5-2.2-.9zM149.8 143.6l2.1 .9-1.4 1.4-2-.9z"/>
<path color="#a7cc4b" d="M168.7 143.5l2.6 .7-1 1.4-2.5-.7zM162.4 144.1l2.4 .7-1.1 1.4-2.4-.7zM131.8 144.5l1.3 .9-1.9 1-1.3-.9zM156.2 144.6l2.3 .8-1.3 1.3-2.2-.8z"/>
<path color="#a4cc4c" d="M127.6 144.3l.8 .7-2.2 .8-.7-.7zM147.9 145.1l2 .9-1.4 1.3-2-.9z"/>
<path color="#c2c942" d="M178.5 140.6l2.9 .5-.4 .7-2.8-.5zM174.5 140.9l2.7 .6-.7 1.2-2.7-.5zM166.2 141.9l2.5 .7-.9 1.4-2.5-.7zM160.2 142.4l2.3 .8-1.1 1.5-2.3-.8zM133.4 142.9l1.1 .9-1.9 1.2-1.1-1zM154.3 142.9l2.1 .8-1.2 1.5-2.1-.9z"/>
<path color="#a8cb4b" d="M127.4 144.2l.4 .4-2.2 .8-.4-.4z"/>
<path color="#a0cc4f" d="M132.7 144.9l1.3 1-1.9 1-1.3-1zM151.5 145.3l2.2 .8-1.4 1.3-2.1-.9z"/>
<path color="#b9ca45" d="M174 141.7l2.6 .6-.7 1.3-2.6-.6zM130 143.3l.8 .8-2.1 .9-.8-.7zM136.9 143.7l1.5 1-1.7 1.2-1.5-1z"/>
<path color="#b6ca45" d="M171.7 142.1l2.6 .7-.8 1.3-2.6-.6z"/>
<path color="#9ccc51" d="M149.2 145.5l2.1 .9-1.4 1.3-2.1-.9z"/>
<path color="#afcb48" d="M167.1 143.1l2.5 .7-1 1.4-2.5-.6zM128.8 143.8l.8 .8-2.1 .9-.8-.8zM160.9 143.7l2.3 .8-1.1 1.4-2.3-.8zM154.8 144.1l2.2 .9-1.3 1.4-2.2-.9z"/>
<path color="#c3c942" d="M176.6 140.6l2.7 .6-.5 1.1-2.7-.6zM131.1 142.7l.8 .8-2 1.1-.8-.8zM138 143.1l1.5 1-1.7 1.2-1.5-1zM148.5 143.1l2 1-1.3 1.3-2-.9zM143.1 143.2l1.7 1-1.5 1.3-1.7-1z"/>
<path color="#9dcc50" d="M143.3 145.5l1.9 1-1.5 1.1-1.9-.9z"/>
<path color="#a2cc4e" d="M140 145.2l1.7 1-1.6 1.1-1.8-1z"/>
<path color="#c9c941" d="M176.8 140.3l2.8 .5-.3 .7-2.8-.5z"/>
<path color="#c0c943" d="M172.3 141.3l2.6 .6-.7 1.4-2.6-.6zM136 143.2l1.4 1-1.8 1.2-1.3-1zM141 143.4l1.7 1-1.6 1.3-1.7-1z"/>
<path color="#a6cc4b" d="M136.8 144.8l1.5 1-1.7 1.1-1.6-1z"/>
<path color="#beca43" d="M170.1 141.8l2.5 .6-.8 1.4-2.5-.6zM131.6 143.1l1 .9-2 1-.9-.9z"/>
<path color="#b3cb47" d="M128.6 143.7l.4 .5-2.2 .8-.4-.4z"/>
<path color="#a5cc4c" d="M142.2 145l1.8 1-1.6 1.2-1.8-1z"/>
<path color="#b7ca45" d="M165.5 142.8l2.5 .7-1 1.4-2.5-.7zM159.4 143.3l2.3 .8-1.1 1.4-2.3-.7zM153.4 143.7l2.1 .9-1.2 1.4-2.2-.9z"/>
<path color="#a8cc4b" d="M150.2 144.8l2.1 .9-1.4 1.3-2.1-.9z"/>
<path color="#cac841" d="M174.9 140.3l2.7 .6-.5 1-2.7-.5zM158.7 142l2.3 .8-1.1 1.5-2.3-.8zM152.9 142.4l2.1 .9-1.2 1.4-2.1-.8zM137.1 142.5l1.4 1.1-1.7 1.2-1.4-1zM147.3 142.6l1.9 1-1.3 1.4-2-1zM142 142.7l1.7 1-1.5 1.3-1.7-1z"/>
<path color="#c9c841" d="M172.8 140.5l2.6 .7-.6 1.2-2.6-.6zM164.7 141.5l2.4 .7-1 1.5-2.4-.8z"/>
<path color="#d0c840" d="M175.1 139.9l2.7 .6-.3 .7-2.7-.6zM171.2 140.2l2.6 .6-.7 1.3-2.6-.7zM163.1 141.1l2.4 .7-.9 1.5-2.4-.8zM132 141.9l.5 .5-2.1 1.2-.5-.5zM157.3 141.6l2.2 .8-1.1 1.5-2.2-.8zM136.2 142l1.3 1-1.7 1.3-1.3-1zM151.6 141.9l2.1 .9-1.3 1.5-2-.9zM141 142.1l1.6 1.1-1.6 1.3-1.6-1zM146.1 142.1l1.9 1-1.4 1.4-1.9-1z"/>
<path color="#adcb49" d="M141 144.6l1.8 1-1.6 1.1-1.8-.9z"/>
<path color="#c8c941" d="M170.7 140.9l2.5 .7-.7 1.3-2.6-.6zM132.7 142.5l1 .9-1.9 1.1-1-.9z"/>
<path color="#c5c941" d="M168.5 141.4l2.5 .7-.9 1.4-2.5-.7z"/>
<path color="#b0cb48" d="M148.9 144.4l2 .9-1.4 1.3-2-.9z"/>
<path color="#bfca43" d="M164 142.4l2.4 .7-1 1.5-2.4-.8zM157.9 142.9l2.3 .8-1.1 1.4-2.3-.8z"/>
<path color="#b8ca45" d="M132.2 143.5l1.2 .9-1.9 1.1-1.2-1zM147.6 143.9l2 .9-1.4 1.4-2-1zM142.1 143.9l1.7 1-1.5 1.2-1.8-.9z"/>
<path color="#b5ca46" d="M134.9 143.8l1.4 1-1.8 1.2-1.4-1.1zM139.9 144.1l1.7 1-1.6 1.2-1.7-1z"/>
<path color="#d1c840" d="M173.2 139.9l2.7 .6-.6 1.1-2.6-.6zM133.8 141.8l1 .9-1.8 1.2-1-.9z"/>
<path color="#bdca44" d="M129.7 143.1l.5 .5-2.1 1-.5-.5z"/>
<path color="#b4ca46" d="M145.4 144.2l1.9 .9-1.5 1.3-1.9-.9z"/>
<path color="#d6c741" d="M173.4 139.6l2.7 .6-.3 .7-2.7-.6zM133.3 141.4l.8 .8-1.9 1.2-.8-.7z"/>
<path color="#cec840" d="M169.1 140.6l2.5 .6-.8 1.4-2.5-.7z"/>
<path color="#bcca44" d="M134.1 143.3l1.3 1-1.9 1.2-1.2-1zM138.9 143.6l1.6 1-1.6 1.2-1.6-1zM144.2 143.7l1.8 1-1.4 1.2-1.9-.9z"/>
<path color="#ccc840" d="M166.9 141l2.5 .7-.9 1.4-2.5-.7zM132.2 142.1l.8 .8-1.9 1.1-.8-.7zM134.4 142.2l1.2 1-1.8 1.2-1.2-.9z"/>
<path color="#c6c941" d="M162.4 142l2.4 .7-1 1.5-2.4-.8zM130.9 142.6l.5 .5-2.1 1-.5-.5zM156.5 142.5l2.2 .8-1.1 1.4-2.2-.8zM135.2 142.7l1.3 1-1.8 1.2-1.3-1zM150.7 142.8l2.1 .9-1.3 1.4-2.1-.9zM140 142.9l1.6 1-1.6 1.3-1.6-1zM145.2 142.9l1.8 1-1.4 1.4-1.9-1z"/>
<path color="#d7c742" d="M171.6 139.5l2.6 .7-.6 1.1-2.6-.7zM169.5 139.8l2.6 .7-.7 1.2-2.5-.6zM161.7 140.6l2.3 .8-1 1.5-2.3-.8zM155.9 141.1l2.2 .8-1.1 1.6-2.2-.9zM150.3 141.4l2 1-1.2 1.4-2-.9zM140 141.6l1.5 1-1.6 1.4-1.5-1zM145 141.6l1.8 1-1.4 1.4-1.8-1z"/>
<path color="#bfc943" d="M152 143.3l2.1 .8-1.2 1.4-2.1-.8zM146.4 143.4l1.9 1-1.4 1.3-2-.9z"/>
<path color="#dcc744" d="M171.8 139.2l2.6 .6-.3 .7-2.7-.6zM139.1 141l1.4 1.1-1.6 1.3-1.4-1z"/>
<path color="#d5c741" d="M167.5 140.2l2.4 .7-.7 1.3-2.5-.6zM135.5 141.5l1.2 1-1.8 1.3-1.2-1z"/>
<path color="#d3c741" d="M165.3 140.6l2.4 .7-.8 1.5-2.5-.8zM138.1 141.8l1.4 1-1.6 1.4-1.5-1.1z"/>
<path color="#cdc840" d="M161 141.5l2.3 .8-1.1 1.5-2.3-.8zM155.1 142l2.2 .8-1.2 1.5-2.2-.8zM149.5 142.3l1.9 .9-1.3 1.5-2-1zM139 142.3l1.5 1.1-1.6 1.3-1.5-1zM144.1 142.4l1.7 1-1.4 1.4-1.8-1z"/>
<path color="#ddc645" d="M169.9 139.1l2.6 .7-.5 1.1-2.6-.6z"/>
<path color="#ddc644" d="M168 139.4l2.5 .7-.7 1.3-2.5-.7zM160.2 140.2l2.3 .8-1 1.5-2.3-.8zM154.6 140.6l2.1 .9-1.2 1.5-2.1-.9zM149.1 140.9l1.9 1-1.3 1.5-1.9-1zM143.9 141l1.7 1.1-1.4 1.4-1.7-1z"/>
<path color="#e2c647" d="M170.1 138.8l2.7 .7-.3 .7-2.7-.7zM138.3 140.5l1.3 1-1.6 1.4-1.4-1z"/>
<path color="#dbc743" d="M165.9 139.7l2.4 .8-.8 1.4-2.4-.7z"/>
<path color="#d9c743" d="M163.8 140.2l2.4 .7-.9 1.5-2.4-.8z"/>
<path color="#d4c741" d="M159.5 141.1l2.3 .8-1.1 1.5-2.3-.8zM153.8 141.5l2.1 .9-1.2 1.5-2.1-.9zM148.2 141.8l2 .9-1.4 1.5-1.9-.9zM143 141.9l1.7 1-1.5 1.4-1.7-1z"/>
<path color="#e3c648" d="M168.3 138.7l2.6 .7-.6 1.2-2.5-.7zM153.3 140.1l2 .9-1.1 1.5-2.1-.8zM135.9 140.3l1.1 .9-1.8 1.4-1.1-.9zM147.9 140.4l1.9 .9-1.3 1.6-1.9-1zM142.9 140.5l1.6 1-1.4 1.5-1.7-1z"/>
<path color="#e2c648" d="M166.4 139l2.5 .7-.7 1.3-2.5-.7zM158.8 139.7l2.2 .8-1 1.6-2.2-.9z"/>
<path color="#e7c64b" d="M168.5 138.4l2.7 .7-.4 .7-2.6-.7zM162.9 138.9l2.3 .7-.8 1.5-2.3-.8z"/>
<path color="#e1c647" d="M164.4 139.3l2.4 .8-.8 1.4-2.4-.8zM134.1 140.5l.6 .5-2 1.4-.5-.6z"/>
<path color="#dac743" d="M158.1 140.6l2.2 .9-1.1 1.5-2.2-.8zM134.9 141.1l1 .9-1.8 1.3-1-.9zM152.5 141l2 .9-1.2 1.5-2.1-.9zM147.1 141.3l1.8 .9-1.3 1.5-1.9-1zM141.9 141.3l1.7 1.1-1.5 1.4-1.7-1.1z"/>
<path color="#dfc646" d="M162.3 139.7l2.3 .8-.9 1.5-2.3-.8zM141 140.8l1.5 1-1.5 1.4-1.6-1z"/>
<path color="#d9c742" d="M133.1 141.3l.5 .5-2 1.2-.5-.5zM137.3 141.3l1.3 1-1.7 1.3-1.3-1z"/>
<path color="#e8c64c" d="M166.8 138.3l2.5 .7-.6 1.2-2.5-.8zM164.9 138.5l2.4 .8-.7 1.3-2.4-.7zM157.4 139.2l2.2 .9-1.1 1.5-2.1-.8zM152 139.6l2 .9-1.2 1.6-2-1zM141.9 139.9l1.6 1.1-1.5 1.4-1.6-1zM146.8 139.8l1.8 1-1.3 1.5-1.8-.9z"/>
<path color="#edc651" d="M167 138l2.6 .7-.4 .7-2.6-.7zM163.4 138.1l2.4 .7-.8 1.4-2.4-.8zM156 138.7l2.2 .9-1.1 1.6-2.1-.9zM141 139.4l1.5 1-1.5 1.5-1.5-1z"/>
<path color="#e0c646" d="M156.7 140.2l2.1 .8-1 1.5-2.2-.8zM151.2 140.5l2 .9-1.2 1.6-2-.9zM145.9 140.7l1.8 1-1.4 1.5-1.8-1z"/>
<path color="#e5c649" d="M160.8 139.3l2.3 .8-.9 1.5-2.3-.8zM140.1 140.2l1.4 1.1-1.5 1.4-1.5-1z"/>
<path color="#dec645" d="M134.4 140.7l.8 .8-1.8 1.3-.9-.8zM136.5 140.8l1.2 1-1.7 1.3-1.2-1z"/>
<path color="#edc652" d="M165.2 137.9l2.5 .7-.6 1.2-2.4-.8zM150.7 139l2 1-1.2 1.6-1.9-1zM145.7 139.2l1.7 1.1-1.3 1.5-1.7-1z"/>
<path color="#e6c64a" d="M155.3 139.7l2.1 .8-1 1.6-2.2-.9zM150 140l1.9 .9-1.3 1.6-1.9-1zM137.5 140l1.2 1-1.6 1.4-1.2-1z"/>
<path color="#ecc650" d="M161.4 138.4l2.3 .8-.8 1.4-2.3-.7z"/>
<path color="#f1c657" d="M165.4 137.5l2.6 .8-.4 .7-2.5-.7z"/>
<path color="#eac64e" d="M159.4 138.8l2.3 .8-1 1.5-2.2-.8zM136.9 139.5l1.1 .9-1.7 1.5-1.1-.9z"/>
<path color="#e6c64b" d="M135.4 139.9l.9 .8-1.8 1.4-.9-.8z"/>
<path color="#f2c658" d="M163.7 137.4l2.5 .8-.6 1.1-2.4-.7zM161.9 137.6l2.3 .8-.7 1.4-2.3-.8zM154.7 138.2l2.1 .9-1.1 1.6-2-.9zM149.6 138.5l1.8 1-1.2 1.5-1.8-.9zM144.7 138.7l1.6 1-1.3 1.6-1.7-1.1z"/>
<path color="#e5c64a" d="M144.8 140.2l1.7 1-1.3 1.5-1.8-1z"/>
<path color="#e9c64d" d="M135.2 139.7l.5 .6-1.9 1.4-.5-.5z"/>
<path color="#ebc64f" d="M154 139.1l2.1 1-1.1 1.5-2.1-.9zM148.8 139.4l1.8 1-1.2 1.6-1.9-1z"/>
<path color="#f1c656" d="M160 137.9l2.2 .8-.8 1.5-2.3-.8zM140.2 138.8l1.3 1-1.5 1.5-1.3-1z"/>
<path color="#efc654" d="M158 138.3l2.2 .9-.9 1.5-2.2-.9zM142.8 139l1.6 1.1-1.4 1.5-1.6-1z"/>
<path color="#f6c65d" d="M163.9 137l2.5 .8-.3 .8-2.5-.8z"/>
<path color="#eac64d" d="M139.2 139.7l1.4 1-1.6 1.4-1.3-1z"/>
<path color="#f6c65e" d="M162.3 136.9l2.4 .8-.6 1.2-2.4-.8zM160.5 137.1l2.3 .8-.8 1.4-2.3-.8zM153.4 137.6l2.1 1-1.1 1.6-2-1zM148.4 137.9l1.8 1-1.2 1.6-1.8-1zM143.7 138.1l1.6 1-1.4 1.6-1.6-1z"/>
<path color="#ebc64e" d="M143.8 139.6l1.6 1-1.4 1.5-1.6-1z"/>
<path color="#eec652" d="M136.4 139.1l.9 .8-1.8 1.5-.8-.8zM138.5 139.1l1.2 1-1.6 1.5-1.2-1z"/>
<path color="#f0c655" d="M152.7 138.6l2 .9-1.1 1.6-2-.9zM147.6 138.9l1.8 1-1.2 1.5-1.8-.9z"/>
<path color="#f5c65c" d="M158.6 137.4l2.2 .9-.8 1.4-2.3-.8zM137.4 138.2l.9 .8-1.7 1.6-.9-.8zM139.4 138.2l1.3 1-1.6 1.6-1.2-1z"/>
<path color="#f4c65a" d="M156.7 137.8l2.1 .9-.9 1.5-2.2-.9zM141.9 138.4l1.5 1.1-1.5 1.5-1.4-1z"/>
<path color="#fac762" d="M162.5 136.6l2.4 .8-.3 .7-2.5-.8zM159.1 136.6l2.2 .9-.7 1.3-2.3-.8zM152.2 137.1l2 .9-1.1 1.7-2-1zM142.8 137.5l1.5 1-1.4 1.6-1.5-1z"/>
<path color="#f0c656" d="M136.2 138.9l.5 .5-1.8 1.5-.6-.5z"/>
<path color="#f2c657" d="M137.9 138.7l1.1 .9-1.7 1.5-1.1-.9z"/>
<path color="#fbc762" d="M160.9 136.4l2.3 .9-.6 1.2-2.4-.9zM147.3 137.3l1.8 1-1.3 1.6-1.7-1z"/>
<path color="#f4c65b" d="M151.5 138.1l2 .9-1.2 1.6-1.9-.9zM146.5 138.3l1.8 1-1.3 1.6-1.8-1z"/>
<path color="#f9c761" d="M157.2 136.9l2.2 .9-.9 1.5-2.1-.9z"/>
<path color="#f8c760" d="M155.3 137.2l2.1 1-.9 1.5-2.1-.9zM138.8 137.7l1.1 1-1.6 1.5-1.1-.9zM145.5 137.7l1.7 1-1.3 1.6-1.7-1z"/>
<path color="#fdc963" d="M161 136l2.5 .9-.4 .8-2.4-.9zM155.9 136.3l2.1 1-.8 1.5-2.2-.9zM138.1 137.1l.5 .5-1.7 1.6-.5-.5zM142 136.9l1.4 1-1.5 1.6-1.4-1z"/>
<path color="#f7c65f" d="M137.1 138l.6 .5-1.8 1.6-.5-.5z"/>
<path color="#feca63" d="M159.5 135.9l2.3 .9-.7 1.2-2.3-.9zM151 136.5l1.9 1-1.1 1.6-1.9-1zM146.3 136.7l1.7 1-1.3 1.7-1.7-1.1z"/>
<path color="#f9c760" d="M150.3 137.5l1.9 1-1.1 1.6-1.9-1z"/>
<path color="#f8c65f" d="M141.1 137.9l1.4 1-1.5 1.6-1.4-1.1z"/>
<path color="#fec963" d="M157.7 136l2.2 1-.7 1.3-2.2-.8zM139.7 136.8l1.1 .9-1.5 1.6-1.1-.9z"/>
<path color="#fcc863" d="M154.1 136.7l2 .9-1 1.6-2-.9zM149.2 136.9l1.8 1-1.2 1.6-1.8-1zM144.5 137.1l1.6 1-1.3 1.7-1.6-1.1z"/>
<path color="#fecc63" d="M159.6 135.5l2.4 .9-.4 .8-2.3-.9zM154.6 135.8l2.1 .9-.9 1.5-2.1-.9zM139.2 136.3l.9 .8-1.5 1.7-1-.8zM141.2 136.3l1.3 1-1.5 1.6-1.2-.9z"/>
<path color="#fbc863" d="M138.3 137.3l.9 .8-1.6 1.6-.9-.8zM140.4 137.3l1.2 1-1.5 1.6-1.3-1z"/>
<path color="#fecd62" d="M158.1 135.4l2.3 .9-.7 1.2-2.2-.9zM156.4 135.5l2.2 .9-.8 1.4-2.2-.9zM149.9 135.9l1.8 1-1.1 1.6-1.8-1zM145.3 136.1l1.6 1-1.3 1.7-1.5-1.1zM139 136.1l.6 .5-1.7 1.7-.6-.5z"/>
<path color="#fecb63" d="M152.8 136.1l2 1-1 1.6-2-1zM148.1 136.3l1.7 1-1.1 1.7-1.8-1.1zM143.6 136.5l1.5 1-1.3 1.7-1.5-1.1z"/>
<path color="#fecf62" d="M158.3 135l2.3 .9-.4 .8-2.3-.9zM153.4 135.2l2 1-.9 1.5-2-1z"/>
<path color="#fed061" d="M156.8 134.8l2.2 .9-.7 1.3-2.2-1zM155.1 134.9l2.1 1-.8 1.4-2.1-1zM148.8 135.3l1.8 1-1.2 1.7-1.7-1.1zM144.4 135.4l1.5 1.1-1.3 1.7-1.5-1.1z"/>
<path color="#fece62" d="M151.7 135.5l1.9 1-1 1.6-2-1zM142.8 135.8l1.4 1.1-1.4 1.7-1.4-1zM147.1 135.6l1.6 1.1-1.2 1.7-1.6-1.1zM140.6 135.8l1.1 .9-1.5 1.7-1.1-.9z"/>
<path color="#fed360" d="M157 134.4l2.2 1-.4 .8-2.2-1zM155.5 134.2l2.2 1-.7 1.2-2.2-1zM153.9 134.3l2 1-.8 1.5-2-1zM147.8 134.6l1.7 1.1-1.2 1.7-1.7-1.1zM143.6 134.8l1.4 1-1.3 1.8-1.4-1.1zM141.4 134.7l1.2 .9-1.5 1.8-1.1-.9z"/>
<path color="#fed161" d="M150.5 134.9l1.9 1-1.1 1.6-1.8-1zM140.1 135.3l.9 .8-1.5 1.7-.9-.7zM142.1 135.3l1.2 1-1.4 1.7-1.2-1zM146.1 135l1.6 1.1-1.2 1.7-1.6-1.1z"/>
<path color="#fed260" d="M152.2 134.6l2 1-1 1.5-1.9-1zM139.8 135l.6 .6-1.5 1.8-.6-.5z"/>
<path color="#fed65f" d="M155.7 133.8l2.2 1-.4 .8-2.2-1zM152.7 133.7l2 1-.8 1.5-2-1zM151.1 133.9l1.9 1.1-1 1.5-1.9-1zM140.9 134.2l1 .8-1.5 1.8-.9-.7zM142.8 134.2l1.3 1-1.3 1.7-1.3-.9zM146.8 134l1.6 1-1.2 1.7-1.6-1z"/>
<path color="#fed75f" d="M154.3 133.6l2.1 1-.7 1.3-2.1-1z"/>
<path color="#fed460" d="M149.4 134.2l1.8 1.1-1 1.6-1.8-1z"/>
<path color="#fed560" d="M145.2 134.4l1.5 1-1.2 1.7-1.6-1z"/>
<path color="#fdd95e" d="M154.5 133.2l2.1 1-.4 .9-2.2-1.1zM150 133.3l1.8 1-1 1.6-1.8-1zM145.9 133.3l1.5 1.1-1.2 1.7-1.5-1.1z"/>
<path color="#fdda5d" d="M153.1 133l2 1-.7 1.3-2-1.1zM143.6 133.1l1.3 1-1.3 1.8-1.3-1z"/>
<path color="#fdd85e" d="M148.4 133.6l1.7 1.1-1.1 1.6-1.7-1zM142.2 133.6l1.2 1-1.4 1.8-1.2-1z"/>
<path color="#fed75e" d="M140.7 134l.6 .5-1.5 1.9-.6-.6z"/>
<path color="#fdda5e" d="M151.6 133l1.9 1.1-.9 1.5-1.9-1.1z"/>
<path color="#fed85e" d="M144.3 133.7l1.5 1.1-1.3 1.7-1.4-1z"/>
<path color="#fcdc5c" d="M153.3 132.5l2.1 1.1-.5 .9-2.1-1.1zM141.5 132.9l.6 .5-1.5 1.9-.6-.5zM145 132.6l1.5 1.1-1.2 1.8-1.5-1.1z"/>
<path color="#fcdb5d" d="M147.4 132.9l1.7 1.1-1.1 1.7-1.7-1.1z"/>
<path color="#fcdd5c" d="M152 132.3l1.9 1.1-.7 1.3-2-1.1zM150.5 132.4l1.8 1.1-.8 1.5-1.9-1.1zM143 132.5l1.1 1-1.3 1.8-1.2-.9z"/>
<path color="#fddb5d" d="M141.7 133.1l1 .9-1.4 1.8-1-.8z"/>
<path color="#fcdc5d" d="M149 132.6l1.7 1.1-1 1.6-1.7-1.1z"/>
<path color="#fae05b" d="M152.1 131.9l2.1 1.1-.5 .9-2-1.2zM149.5 131.7l1.7 1.1-.9 1.5-1.7-1.1z"/>
<path color="#fbde5c" d="M146.5 132.2l1.6 1.1-1.1 1.7-1.6-1z"/>
<path color="#fae05a" d="M150.9 131.6l1.9 1.1-.8 1.3-1.9-1.1z"/>
<path color="#fbdf5b" d="M148 131.9l1.7 1.1-1.1 1.7-1.6-1.1zM144.3 132l1.3 1-1.2 1.8-1.3-1z"/>
<path color="#fadf5b" d="M142.4 132l1 .8-1.3 1.9-1-.8z"/>
<path color="#f9e359" d="M151 131.2l2 1.2-.5 .8-1.9-1.2zM148.5 131l1.7 1.1-.9 1.6-1.7-1.2z"/>
<path color="#fae15a" d="M145.7 131.6l1.4 1-1.1 1.8-1.4-1.1zM142.2 131.7l.6 .6-1.3 1.9-.7-.5z"/>
<path color="#f9e259" d="M147.1 131.2l1.6 1.1-1.1 1.7-1.5-1.1z"/>
<path color="#f9e459" d="M149.8 130.9l1.9 1.2-.8 1.3-1.8-1.1zM144.9 130.9l1.4 1.1-1.2 1.7-1.3-1z"/>
<path color="#f9e25a" d="M143.6 131.4l1.2 1-1.2 1.8-1.2-.9z"/>
<path color="#f8e459" d="M143.1 130.9l1 .8-1.2 1.9-1-.8z"/>
<path color="#f8e658" d="M150 130.5l1.9 1.2-.5 .9-1.9-1.3zM146.3 130.5l1.4 1.1-1 1.7-1.5-1zM142.9 130.6l.6 .5-1.3 2-.6-.5z"/>
<path color="#f8e757" d="M148.9 130.2l1.7 1.2-.8 1.3-1.7-1.1z"/>
<path color="#f8e758" d="M147.6 130.3l1.6 1.1-.9 1.6-1.6-1.1zM144.3 130.3l1.2 1-1.2 1.8-1.2-.9z"/>
<path color="#f7ea56" d="M149 129.8l1.9 1.2-.6 .9-1.8-1.3zM146.7 129.6l1.6 1.1-1 1.6-1.5-1.1zM148 129.5l1.6 1.2-.8 1.3-1.6-1.1z"/>
<path color="#f7e957" d="M145.5 129.9l1.4 1-1.1 1.8-1.4-1.1zM143.8 129.8l1 .8-1.2 1.9-1-.8z"/>
<path color="#f7eb56" d="M143.5 129.5l.7 .5-1.2 2-.7-.5zM144.9 129.3l1.2 1-1.1 1.7-1.2-1z"/>
<path color="#f7ed55" d="M148.1 129l1.8 1.3-.6 .9-1.7-1.3zM146 128.9l1.4 1.1-1 1.6-1.4-1zM147.1 128.8l1.6 1.2-.8 1.4-1.6-1.2z"/>
<path color="#f7ee54" d="M144.4 128.7l1 .9-1.1 1.8-1.1-.8z"/>
<path color="#f7f053" d="M147.3 128.3l1.6 1.3-.5 .9-1.7-1.3zM146.4 128.1l1.4 1.2-.8 1.4-1.5-1.2z"/>
<path color="#f7ef53" d="M145.4 128.3l1.2 1-1 1.7-1.2-1zM144.1 128.4l.7 .5-1.2 2-.6-.5z"/>
<path color="#f7f252" d="M144.8 127.7l1.1 .9-1 1.8-1.1-.9z"/>
<path color="#f8f351" d="M146.5 127.6l1.6 1.3-.6 .9-1.5-1.3zM145.7 127.5l1.3 1-.8 1.5-1.3-1.1z"/>
<path color="#f8f451" d="M144.6 127.4l.7 .6-1 1.8-.7-.5z"/>
<path color="#f8f54f" d="M145.2 126.9l1.2 .9-.9 1.6-1.2-1z"/>
<path color="#f8f64f" d="M145.9 126.9l1.4 1.3-.6 1-1.4-1.3z"/>
<path color="#f9f74d" d="M145 126.5l.7 .6-.9 1.7-.7-.6z"/>
<path color="#f9f84d" d="M145.4 126.4l1.2 1.1-.6 1-1.3-1.1z"/>
<path color="#fafa4b" d="M145.2 126l.9 .7-.8 1.3-.9-.7z"/>
</g>
<line x1="42.7" y1="169.1" x2="42.7" y2="44.6" stroke="#333333" stroke-width="0.6"/>
<line x1="145.2" y1="226.3" x2="42.7" y2="169.1" stroke="#333333" stroke-width="0.6"/>
<line x1="145.2" y1="226.3" x2="278.8" y2="183" stroke="#333333" stroke-width="0.6"/>
<line x1="42.7" y1="169.1" x2="39.82" y2="167.49" stroke="#333333" stroke-width="0.6"/>
<line x1="42.7" y1="144.2" x2="39.82" y2="142.59" stroke="#333333" stroke-width="0.6"/>
<line x1="42.7" y1="119.3" x2="39.82" y2="117.69" stroke="#333333" stroke-width="0.6"/>
<line x1="42.7" y1="94.4" x2="39.82" y2="92.79" stroke="#333333" stroke-width="0.6"/>
<line x1="42.7" y1="69.5" x2="39.82" y2="67.89" stroke="#333333" stroke-width="0.6"/>
<line x1="42.7" y1="44.6" x2="39.82" y2="42.99" stroke="#333333" stroke-width="0.6"/>
<line x1="145.2" y1="226.3" x2="142.06" y2="227.32" stroke="#333333" stroke-width="0.6"/>
<line x1="119.57" y1="212" x2="116.44" y2="213.02" stroke="#333333" stroke-width="0.6"/>
<line x1="93.95" y1="197.7" x2="90.81" y2="198.72" stroke="#333333" stroke-width="0.6"/>
<line x1="68.32" y1="183.4" x2="65.19" y2="184.42" stroke="#333333" stroke-width="0.6"/>
<line x1="42.7" y1="169.1" x2="39.56" y2="170.12" stroke="#333333" stroke-width="0.6"/>
<line x1="145.2" y1="226.3" x2="148.08" y2="227.91" stroke="#333333" stroke-width="0.6"/>
<line x1="189.73" y1="211.87" x2="192.61" y2="213.47" stroke="#333333" stroke-width="0.6"/>
<line x1="234.27" y1="197.43" x2="237.15" y2="199.04" stroke="#333333" stroke-width="0.6"/>
<line x1="278.8" y1="183" x2="281.68" y2="184.61" stroke="#333333" stroke-width="0.6"/>
<defs><linearGradient id="cb303" x1="0" y1="1" x2="0" y2="0">
<stop offset="0.0000" stop-color="#3e26a8"/>
<stop offset="0.0312" stop-color="#422ebf"/>
<stop offset="0.0625" stop-color="#4536d5"/>
<stop offset="0.0938" stop-color="#4741e5"/>
<stop offset="0.1250" stop-color="#484cef"/>
<stop offset="0.1562" stop-color="#4757f7"/>
<stop offset="0.1875" stop-color="#4562fc"/>
<stop offset="0.2188" stop-color="#3f6eff"/>
<stop offset="0.2500" stop-color="#347afd"/>
<stop offset="0.2812" stop-color="#2e85f8"/>
<stop offset="0.3125" stop-color="#2c90f0"/>
<stop offset="0.3438" stop-color="#269ae9"/>
<stop offset="0.3750" stop-color="#21a3e3"/>
<stop offset="0.4062" stop-color="#1aacdd"/>
<stop offset="0.4375" stop-color="#0cb3d3"/>
<stop offset="0.4688" stop-color="#00b9c6"/>
<stop offset="0.5000" stop-color="#12beb9"/>
<stop offset="0.5312" stop-color="#28c2ab"/>
<stop offset="0.5625" stop-color="#34c79c"/>
<stop offset="0.5938" stop-color="#43cb8a"/>
<stop offset="0.6250" stop-color="#5ccc76"/>
<stop offset="0.6562" stop-color="#77cc60"/>
<stop offset="0.6875" stop-color="#94ca4a"/>
<stop offset="0.7188" stop-color="#afc636"/>
<stop offset="0.7500" stop-color="#c8c129"/>
<stop offset="0.7812" stop-color="#debc29"/>
<stop offset="0.8125" stop-color="#f1ba37"/>
<stop offset="0.8438" stop-color="#febe3c"/>
<stop offset="0.8750" stop-color="#feca33"/>
<stop offset="0.9062" stop-color="#f9d62d"/>
<stop offset="0.9375" stop-color="#f5e327"/>
<stop offset="0.9688" stop-color="#f6ef20"/>
<stop offset="1.0000" stop-color="#f9fb15"/>
</linearGradient></defs>
<rect x="303.9" y="1.8" width="13.700000000000045" height="224.2" fill="url(#cb303)" stroke="#333333" stroke-width="0.5"/>
<line x1="315.4" y1="14.4" x2="317.6" y2="14.4" stroke="#333333" stroke-width="0.8"/>
<line x1="315.4" y1="37.12" x2="317.6" y2="37.12" stroke="#333333" stroke-width="0.8"/>
<line x1="315.4" y1="59.84" x2="317.6" y2="59.84" stroke="#333333" stroke-width="0.8"/>
<line x1="315.4" y1="82.56" x2="317.6" y2="82.56" stroke="#333333" stroke-width="0.8"/>
<line x1="315.4" y1="105.28" x2="317.6" y2="105.28" stroke="#333333" stroke-width="0.8"/>
<line x1="315.4" y1="128" x2="317.6" y2="128" stroke="#333333" stroke-width="0.8"/>
<line x1="315.4" y1="150.72" x2="317.6" y2="150.72" stroke="#333333" stroke-width="0.8"/>
<line x1="315.4" y1="173.44" x2="317.6" y2="173.44" stroke="#333333" stroke-width="0.8"/>
<line x1="315.4" y1="196.16" x2="317.6" y2="196.16" stroke="#333333" stroke-width="0.8"/>
<line x1="315.4" y1="218.88" x2="317.6" y2="218.88" stroke="#333333" stroke-width="0.8"/>
<line x1="387.7" y1="168.6" x2="522.7" y2="125.8" stroke="#e8e8e8" stroke-width="0.75"/>
<line x1="387.7" y1="147.95" x2="522.7" y2="105.15" stroke="#e8e8e8" stroke-width="0.75"/>
<line x1="387.7" y1="127.3" x2="522.7" y2="84.5" stroke="#e8e8e8" stroke-width="0.75"/>
<line x1="387.7" y1="106.65" x2="522.7" y2="63.85" stroke="#e8e8e8" stroke-width="0.75"/>
<line x1="387.7" y1="86" x2="522.7" y2="43.2" stroke="#e8e8e8" stroke-width="0.75"/>
<line x1="387.7" y1="65.35" x2="522.7" y2="22.55" stroke="#e8e8e8" stroke-width="0.75"/>
<line x1="387.7" y1="44.7" x2="522.7" y2="1.9" stroke="#e8e8e8" stroke-width="0.75"/>
<line x1="421.45" y1="157.9" x2="421.45" y2="34" stroke="#e8e8e8" stroke-width="0.75"/>
<line x1="455.2" y1="147.2" x2="455.2" y2="23.3" stroke="#e8e8e8" stroke-width="0.75"/>
<line x1="488.95" y1="136.5" x2="488.95" y2="12.6" stroke="#e8e8e8" stroke-width="0.75"/>
<line x1="522.7" y1="125.8" x2="522.7" y2="1.9" stroke="#e8e8e8" stroke-width="0.75"/>
<line x1="626.2" y1="183" x2="522.7" y2="125.8" stroke="#e8e8e8" stroke-width="0.75"/>
<line x1="626.2" y1="162.35" x2="522.7" y2="105.15" stroke="#e8e8e8" stroke-width="0.75"/>
<line x1="626.2" y1="141.7" x2="522.7" y2="84.5" stroke="#e8e8e8" stroke-width="0.75"/>
<line x1="626.2" y1="121.05" x2="522.7" y2="63.85" stroke="#e8e8e8" stroke-width="0.75"/>
<line x1="626.2" y1="100.4" x2="522.7" y2="43.2" stroke="#e8e8e8" stroke-width="0.75"/>
<line x1="626.2" y1="79.75" x2="522.7" y2="22.55" stroke="#e8e8e8" stroke-width="0.75"/>
<line x1="626.2" y1="59.1" x2="522.7" y2="1.9" stroke="#e8e8e8" stroke-width="0.75"/>
<line x1="626.2" y1="183" x2="626.2" y2="59.1" stroke="#e8e8e8" stroke-width="0.75"/>
<line x1="574.45" y1="154.4" x2="574.45" y2="30.5" stroke="#e8e8e8" stroke-width="0.75"/>
<line x1="491.2" y1="225.8" x2="387.7" y2="168.6" stroke="#e8e8e8" stroke-width="0.75"/>
<line x1="524.95" y1="215.1" x2="421.45" y2="157.9" stroke="#e8e8e8" stroke-width="0.75"/>
<line x1="558.7" y1="204.4" x2="455.2" y2="147.2" stroke="#e8e8e8" stroke-width="0.75"/>
<line x1="592.45" y1="193.7" x2="488.95" y2="136.5" stroke="#e8e8e8" stroke-width="0.75"/>
<line x1="626.2" y1="183" x2="522.7" y2="125.8" stroke="#e8e8e8" stroke-width="0.75"/>
<line x1="491.2" y1="225.8" x2="626.2" y2="183" stroke="#e8e8e8" stroke-width="0.75"/>
<line x1="439.45" y1="197.2" x2="574.45" y2="154.4" stroke="#e8e8e8" stroke-width="0.75"/>
<line x1="387.7" y1="168.6" x2="522.7" y2="125.8" stroke="#e8e8e8" stroke-width="0.75"/>
<defs><mask id="mkB" maskUnits="userSpaceOnUse" x="0" y="0" width="685" height="286"><path fill="#fff" d="M491.20 189.10 626.20 66.90 618.44 65.59 613.26 64.65 608.09 63.65 600.33 62.06 595.15 60.93 587.39 59.14 579.62 57.23 574.45 55.88 566.69 53.77 561.51 52.29 553.75 49.98 548.58 48.36 540.81 45.85 535.64 44.10 527.88 41.38 522.70 39.50 387.70 148.50 400.64 154.32 413.57 159.93 426.51 165.32 439.45 170.50 452.39 175.47 465.32 180.23 478.26 184.77z"/></mask></defs>
<g class="s" mask="url(#mkB)">
<path color="#90ca4d" d="M521.8 43.7l4.1-3.6-3-1.5-4.1 3.6zM545.7 72.9l4.1-3.7-3-1.3-4.1 3.7zM568.2 106.8l4.1-4-3-1.1-4.1 3.9z"/>
<path color="#82cc58" d="M518.7 46.2l4.1-3.6-3-1.5-4.1 3.6zM552.3 88.8l4.1-3.8-3-1.3-4.1 3.9zM563.5 105.6l4.1-3.9-3-1.1-4.1 3.9z"/>
<path color="#73cd62" d="M515.7 48.7l4.1-3.6-3-1.5-4.2 3.6z"/>
<path color="#95ca49" d="M524.1 44.6l4.2-3.6-3.1-1.5-4.1 3.6zM553.7 82.2l4.1-3.8-3-1.2-4.1 3.8zM559.3 90.7l4.1-3.9-3-1.2-4.1 3.9zM565 99l4-3.9-2.9-1.1-4.1 3.9zM572.2 111.2l4.1-4-3-1.1-4.1 4z"/>
<path color="#65cd6e" d="M512.6 51.2l4.1-3.6-3-1.5-4.1 3.6zM561.4 115.5l4.1-3.9-3-1.1-4.1 3.9z"/>
<path color="#86cb54" d="M521.1 47.1l4.1-3.7-3-1.4-4.1 3.6zM567.5 110.1l4.1-4-3-1.1-4.1 3.9z"/>
<path color="#59cc79" d="M509.5 53.7l4.1-3.7-3-1.5-4.1 3.6zM527.8 74.4l4.1-3.7-3-1.4-4.1 3.7zM551 105.9l4.1-3.9-3-1.2-4.1 3.9zM556.7 114.4l4.1-4-3-1.1-4.1 3.9z"/>
<path color="#78cc5f" d="M518 49.6l4.1-3.7-3-1.5-4.1 3.7zM551.6 92.1l4.1-3.9-3-1.2-4.2 3.9zM562.8 108.9l4.1-3.9-3-1.1-4.1 3.9z"/>
<path color="#99c946" d="M526.5 45.4l4.1-3.6-3-1.5-4.1 3.7zM542.5 64.9l4.1-3.7-3-1.3-4.2 3.7z"/>
<path color="#4ccb83" d="M506.5 56.1l4.1-3.6-3.1-1.5-4.1 3.6zM520.8 72.1l4.1-3.7-3-1.4-4.1 3.7zM528.7 81.8l4.2-3.7-3.1-1.4-4.1 3.8zM532.7 86.6l4.1-3.8-3-1.3-4.1 3.8zM542.4 100l4.1-3.8-3.1-1.3-4.1 3.9z"/>
<path color="#69cd6a" d="M514.9 52l4.2-3.6-3.1-1.5-4.1 3.6zM542.9 86.1l4.1-3.8-3-1.2-4.1 3.7z"/>
<path color="#8bcb51" d="M523.4 47.9l4.1-3.6-3-1.5-4.1 3.6zM543.4 72.2l4.1-3.7-3-1.3-4.1 3.7zM553 85.5l4.1-3.8-3-1.2-4.1 3.8zM558.6 94l4.1-3.9-3-1.2-4.1 3.9zM571.5 114.5l4.1-4-3-1.1-4.1 4z"/>
<path color="#40ca8d" d="M503.4 58.6l4.1-3.6-3-1.5-4.1 3.6zM517.7 74.6l4.1-3.7-3-1.4-4.1 3.7zM521.7 79.5l4.1-3.7-3-1.4-4.1 3.7zM525.7 84.4l4.1-3.8-3-1.3-4.1 3.7zM529.7 89.2l4.1-3.8-3-1.3-4.1 3.8zM548.9 115.9l4.1-3.9-3-1.2-4.1 3.9zM554.5 124.4l4.1-4-3-1.1-4.1 3.9z"/>
<path color="#5ccc76" d="M511.9 54.5l4.1-3.6-3-1.5-4.2 3.6zM549.4 102l4.1-3.9-3-1.2-4.1 3.9zM560.7 118.9l4.1-4-3-1.1-4.1 3.9z"/>
<path color="#7ccc5c" d="M520.4 50.4l4.1-3.6-3-1.5-4.2 3.6zM566.8 113.4l4.1-4-3-1.1-4.1 4z"/>
<path color="#9dc943" d="M528.9 46.3l4.1-3.7-3.1-1.4-4.1 3.6zM540.8 60.9l4.1-3.7-3-1.4-4.1 3.8z"/>
<path color="#38c896" d="M500.3 61.1l4.1-3.6-3-1.5-4.1 3.6zM510.6 72.1l4.2-3.6-3.1-1.5-4.1 3.7zM514.6 77.1l4.2-3.7-3.1-1.4-4.1 3.7zM530.6 96.6l4.1-3.8-3-1.3-4.1 3.8zM549.8 123.2l4.1-4-3-1.1-4.1 3.9zM555.4 131.7l4.1-4-3-1.2-4.1 4z"/>
<path color="#4fcc80" d="M508.8 57l4.1-3.6-3-1.5-4.1 3.6zM540.7 96l4.1-3.8-3-1.2-4.1 3.8z"/>
<path color="#6dcd67" d="M517.3 52.9l4.1-3.6-3-1.5-4.1 3.6zM541.2 82.1l4.1-3.8-3-1.2-4.1 3.7z"/>
<path color="#8fcb4e" d="M525.8 48.8l4.1-3.7-3-1.4-4.1 3.6zM541.7 68.2l4.1-3.7-3-1.3-4.1 3.7zM551.3 81.6l4.2-3.8-3.1-1.3-4.1 3.8zM562.6 98.5l4.1-3.9-3-1.2-4.1 3.9z"/>
<path color="#32c69e" d="M497.3 63.6l4.1-3.6-3.1-1.6-4.1 3.6zM507.6 74.7l4.1-3.7-3-1.5-4.1 3.7zM531.5 103.9l4.1-3.8-3-1.3-4.1 3.8zM550.7 130.5l4.1-4-3-1.1-4.1 3.9z"/>
<path color="#43cb8a" d="M505.7 59.5l4.2-3.6-3.1-1.5-4.1 3.6zM520.1 75.4l4.1-3.7-3-1.4-4.2 3.7zM524 80.3l4.2-3.7-3.1-1.4-4.1 3.7zM528 85.1l4.1-3.7-3-1.4-4.1 3.8zM541.6 103.3l4.1-3.8-3-1.2-4.1 3.8z"/>
<path color="#60cd72" d="M514.2 55.4l4.1-3.6-3-1.5-4.1 3.6zM542.1 89.4l4.2-3.8-3.1-1.2-4.1 3.7z"/>
<path color="#80cc59" d="M522.7 51.3l4.1-3.7-3-1.4-4.1 3.6zM538.7 70.8l4.1-3.7-3-1.4-4.1 3.8z"/>
<path color="#a2c840" d="M531.2 47.1l4.1-3.7-3-1.4-4.1 3.6z"/>
<path color="#2dc4a6" d="M494.2 66.1l4.1-3.6-3-1.6-4.1 3.6zM504.5 77.2l4.1-3.7-3-1.4-4.1 3.6zM532.4 111.3l4.1-3.8-3-1.3-4.1 3.8z"/>
<path color="#3ac993" d="M502.7 62l4.1-3.6-3-1.5-4.2 3.6zM513 73l4.1-3.7-3-1.4-4.1 3.6zM517 77.9l4.1-3.7-3-1.4-4.1 3.7zM529 92.5l4.1-3.8-3.1-1.3-4.1 3.8zM542.6 110.6l4.1-3.8-3-1.2-4.2 3.8z"/>
<path color="#53cc7d" d="M511.2 57.9l4.1-3.6-3-1.5-4.2 3.6zM548.7 105.3l4.1-3.9-3-1.2-4.1 3.9zM554.3 113.8l4.1-4-3-1.1-4.1 3.9zM559.9 122.2l4.1-4-3-1.1-4.1 4z"/>
<path color="#71cd64" d="M519.6 53.7l4.2-3.6-3.1-1.5-4.1 3.7zM539.6 78.1l4.1-3.7-3-1.3-4.1 3.7zM549.2 91.4l4.1-3.8-3-1.2-4.1 3.8zM554.8 99.9l4.1-3.9-3-1.1-4.1 3.8zM560.5 108.3l4-3.9-2.9-1.1-4.1 3.9z"/>
<path color="#93ca4a" d="M528.1 49.6l4.2-3.7-3.1-1.4-4.1 3.6zM540.1 64.2l4.1-3.7-3-1.4-4.1 3.8z"/>
<path color="#26c2ad" d="M491.1 68.5l4.1-3.6-3-1.5-4.1 3.6zM497.5 74.6l4.1-3.6-3.1-1.5-4.1 3.6zM511.8 90.5l4.1-3.7-3-1.4-4.1 3.7zM515.8 95.4l4.1-3.7-3-1.4-4.2 3.8zM519.8 100.3l4.1-3.8-3.1-1.3-4.1 3.8zM523.7 105.1l4.1-3.8-3-1.3-4.1 3.8zM537.3 123.4l4.1-3.9-3-1.3-4.1 3.9z"/>
<path color="#34c79c" d="M499.6 64.5l4.1-3.6-3-1.6-4.1 3.7zM509.9 75.5l4.1-3.7-3-1.4-4.1 3.7zM529.9 99.9l4.1-3.8-3-1.3-4.1 3.8zM549.1 126.5l4.1-3.9-3-1.2-4.1 3.9z"/>
<path color="#46cb87" d="M508.1 60.4l4.1-3.7-3-1.4-4.1 3.6zM540 99.3l4.1-3.8-3-1.2-4.1 3.8z"/>
<path color="#63cd6f" d="M516.6 56.2l4.1-3.6-3-1.5-4.1 3.7z"/>
<path color="#85cb56" d="M525.1 52.1l4.1-3.7-3-1.4-4.2 3.6z"/>
<path color="#a6c83c" d="M533.6 47.9l4.1-3.7-3-1.4-4.2 3.7zM541.5 57.6l4.1-3.7-3-1.3-4.1 3.7z"/>
<path color="#1bc0b4" d="M488 71l4.2-3.6-3.1-1.5-4.1 3.6zM508.7 93.1l4.1-3.7-3-1.4-4.1 3.7zM512.7 98l4.1-3.7-3-1.4-4.1 3.7zM516.7 102.9l4.1-3.8-3-1.3-4.1 3.8zM520.7 107.7l4.1-3.7-3-1.4-4.1 3.8z"/>
<path color="#2ec5a4" d="M496.5 67l4.2-3.7-3.1-1.5-4.1 3.6zM506.9 78l4.1-3.6-3-1.5-4.2 3.7zM530.8 107.3l4.1-3.9-3-1.2-4.1 3.8z"/>
<path color="#3cc991" d="M505 62.9l4.1-3.7-3-1.5-4.1 3.7zM523.3 83.6l4.1-3.7-3-1.4-4.1 3.8zM546.5 115.2l4.1-3.9-3-1.1-4.1 3.9z"/>
<path color="#57cc7a" d="M513.5 58.7l4.1-3.6-3-1.5-4.1 3.7z"/>
<path color="#76cc61" d="M522 54.6l4.1-3.7-3-1.4-4.1 3.6zM538 74.1l4.1-3.8-3-1.3-4.2 3.8z"/>
<path color="#98ca47" d="M530.5 50.4l4.1-3.7-3-1.4-4.1 3.7zM538.5 60.1l4.1-3.7-3-1.3-4.2 3.7zM552.1 78.3l4.1-3.8-3-1.3-4.1 3.8zM557.7 86.8l4.1-3.9-3-1.2-4.1 3.9zM563.3 95.2l4.1-3.9-3-1.2-4.1 3.9z"/>
<path color="#0ebebb" d="M485 73.5l4.1-3.6-3-1.6-4.2 3.7zM539.2 138.1l4.1-3.9-3-1.2-4.1 3.9z"/>
<path color="#28c2ab" d="M493.5 69.5l4.1-3.7-3-1.5-4.2 3.6zM503.8 80.5l4.1-3.6-3-1.5-4.1 3.7zM531.7 114.6l4.1-3.8-3-1.3-4.1 3.9z"/>
<path color="#35c799" d="M502 65.4l4.1-3.7-3.1-1.5-4.1 3.7z"/>
<path color="#4acb84" d="M510.4 61.2l4.2-3.6-3.1-1.5-4.1 3.7zM548 108.6l4.1-3.9-3-1.2-4.1 3.9zM553.6 117.1l4.1-3.9-3-1.2-4.1 3.9zM559.2 125.5l4.1-4-3-1.1-4.1 4z"/>
<path color="#67cd6c" d="M518.9 57.1l4.1-3.7-3-1.4-4.1 3.6zM554.1 103.2l4.1-3.9-3-1.1-4.1 3.8zM559.7 111.6l4.1-3.9-3-1.1-4.1 3.9z"/>
<path color="#89cb52" d="M527.4 52.9l4.1-3.6-3-1.5-4.1 3.7zM535.4 62.7l4.1-3.7-3-1.4-4.1 3.7zM565.9 106.2l4.1-3.9-3-1.2-4.1 4z"/>
<path color="#03bbc2" d="M481.9 76l4.1-3.6-3-1.6-4.1 3.6zM488.3 82.1l4.1-3.6-3.1-1.5-4.1 3.6zM498.6 93.2l4.1-3.7-3-1.4-4.1 3.6zM526.5 127.4l4.1-3.9-3-1.2-4.1 3.8zM530.5 132.1l4.1-3.9-3-1.2-4.1 3.9zM540.1 145.5l4.1-3.9-3-1.2-4.1 4z"/>
<path color="#abc739" d="M535.9 48.7l4.1-3.7-3-1.4-4.1 3.7zM539.9 53.6l4.1-3.7-3-1.4-4.1 3.7zM543.9 58.4l4.1-3.8-3-1.3-4.1 3.7zM553.5 71.7l4.1-3.8-3-1.2-4.1 3.8zM564.7 88.6l4.1-3.9-3-1.1-4.1 3.9z"/>
<path color="#1ec0b2" d="M490.4 71.9l4.1-3.6-3-1.5-4.1 3.6z"/>
<path color="#30c5a2" d="M498.9 67.9l4.1-3.7-3-1.5-4.1 3.6zM513.2 83.8l4.1-3.7-3-1.4-4.1 3.7zM517.2 88.7l4.1-3.7-3-1.4-4.1 3.8zM521.2 93.6l4.1-3.7-3-1.4-4.1 3.8zM525.2 98.4l4.1-3.7-3-1.4-4.1 3.8zM529.2 103.2l4.1-3.8-3-1.3-4.2 3.8zM538.8 116.7l4.1-3.9-3-1.2-4.1 3.8zM548.4 129.9l4.1-4-3-1.1-4.1 3.9z"/>
<path color="#3fca8e" d="M507.4 63.7l4.1-3.6-3-1.5-4.2 3.6zM539.3 102.7l4.1-3.9-3-1.2-4.1 3.8z"/>
<path color="#5acc77" d="M515.9 59.6l4.1-3.7-3-1.4-4.2 3.6z"/>
<path color="#7bcc5d" d="M524.4 55.4l4.1-3.6-3.1-1.5-4.1 3.7zM540.3 74.8l4.1-3.7-3-1.3-4.1 3.7zM549.9 88.1l4.1-3.8-3-1.2-4.1 3.8zM555.5 96.6l4.1-3.8-3-1.2-4.1 3.8zM561.2 105l4.1-3.9-3-1.1-4.1 3.9z"/>
<path color="#00b8c8" d="M478.8 78.5l4.2-3.6-3.1-1.6-4.1 3.6zM485.2 84.6l4.1-3.6-3-1.5-4.1 3.6zM531.4 139.6l4.1-4-3-1.2-4.1 3.9z"/>
<path color="#9cc943" d="M532.8 51.2l4.2-3.7-3.1-1.4-4.1 3.7zM536.8 56.1l4.1-3.7-3-1.4-4.1 3.7z"/>
<path color="#12beb9" d="M487.3 74.4l4.2-3.6-3.1-1.5-4.1 3.6zM493.7 80.5l4.1-3.7-3-1.5-4.2 3.7zM508 96.4l4.1-3.7-3-1.4-4.1 3.7zM512 101.4l4.1-3.8-3-1.3-4.1 3.7zM520 111.1l4.1-3.8-3.1-1.3-4.1 3.8zM523.9 115.9l4.1-3.8-3-1.3-4.1 3.8zM537.5 134.1l4.1-3.9-3-1.2-4.1 3.9z"/>
<path color="#2ac3a9" d="M495.8 70.3l4.1-3.6-3-1.5-4.1 3.6zM506.1 81.4l4.2-3.7-3.1-1.4-4.1 3.6zM530.1 110.6l4.1-3.8-3-1.3-4.1 3.8zM549.3 137.2l4.1-4-3-1.1-4.1 4z"/>
<path color="#37c897" d="M504.3 66.2l4.1-3.6-3-1.5-4.1 3.6zM518.6 82.1l4.1-3.7-3-1.4-4.1 3.7zM522.6 86.9l4.1-3.7-3-1.3-4.1 3.7zM526.6 91.8l4.1-3.8-3-1.3-4.1 3.7zM540.2 110l4.1-3.9-3-1.2-4.1 3.8zM545.8 118.6l4.1-3.9-3-1.2-4.1 3.9z"/>
<path color="#4ecc82" d="M512.8 62.1l4.1-3.7-3-1.4-4.1 3.6zM546.3 104.6l4.1-3.8-3-1.2-4.1 3.8z"/>
<path color="#6ccd68" d="M521.3 57.9l4.1-3.6-3-1.5-4.1 3.7zM537.2 77.4l4.1-3.8-3-1.3-4.1 3.8z"/>
<path color="#05b5cf" d="M475.8 81l4.1-3.7-3-1.5-4.2 3.6zM482.1 87.1l4.1-3.6-3-1.5-4.1 3.6zM506.8 114.1l4.1-3.8-3-1.4-4.2 3.8zM510.8 119l4.1-3.8-3.1-1.4-4.1 3.8zM514.7 123.8l4.1-3.8-3-1.3-4.1 3.8zM518.7 128.7l4.1-3.9-3-1.3-4.1 3.9z"/>
<path color="#8ecb4f" d="M529.8 53.7l4.1-3.6-3-1.5-4.1 3.7zM533.8 58.6l4.1-3.7-3-1.4-4.2 3.7zM537.7 63.4l4.2-3.7-3.1-1.3-4.1 3.7z"/>
<path color="#05bcc0" d="M484.3 76.9l4.1-3.6-3-1.6-4.2 3.7zM504.9 99l4.1-3.7-3-1.4-4.1 3.7zM520.9 118.5l4.1-3.8-3-1.3-4.1 3.8zM524.9 123.3l4.1-3.8-3-1.3-4.1 3.9zM538.5 141.5l4.1-4-3-1.1-4.1 3.9z"/>
<path color="#afc636" d="M538.3 49.5l4.1-3.7-3-1.4-4.2 3.7zM542.2 54.3l4.2-3.7-3.1-1.3-4.1 3.7z"/>
<path color="#21c1b0" d="M492.8 72.8l4.1-3.6-3.1-1.5-4.1 3.6zM531 118l4.1-3.9-3-1.2-4.1 3.8z"/>
<path color="#31c69f" d="M501.2 68.7l4.2-3.6-3.1-1.5-4.1 3.6zM515.6 84.6l4.1-3.7-3-1.4-4.2 3.7zM523.5 94.4l4.1-3.8-3-1.3-4.1 3.7zM546.8 125.9l4-3.9-3-1.2-4.1 3.9z"/>
<path color="#42ca8b" d="M509.7 64.6l4.1-3.6-3-1.5-4.1 3.6zM537.6 98.7l4.2-3.9-3.1-1.2-4.1 3.8zM547.3 111.9l4.1-3.9-3-1.2-4.1 3.9zM552.9 120.4l4.1-3.9-3-1.2-4.1 4zM558.5 128.9l4.1-4-3-1.1-4.1 4z"/>
<path color="#5ecd74" d="M518.2 60.4l4.1-3.6-3-1.5-4.1 3.7zM534.2 80l4.1-3.8-3-1.3-4.1 3.7zM553.4 106.5l4.1-3.9-3-1.1-4.1 3.9z"/>
<path color="#7fcc5a" d="M526.7 56.2l4.1-3.6-3-1.5-4.1 3.7zM530.7 61.1l4.1-3.6-3-1.4-4.1 3.6zM534.7 66l4.1-3.7-3-1.4-4.1 3.7zM548.3 84.2l4.1-3.8-3-1.3-4.1 3.8zM565.2 109.5l4.1-4-3-1.1-4.1 4z"/>
<path color="#0fb2d5" d="M472.7 83.4l4.1-3.6-3-1.5-4.1 3.6zM479 89.6l4.2-3.6-3.1-1.5-4.1 3.6zM499.7 111.7l4.1-3.7-3-1.4-4.1 3.7zM523.6 141l4.1-4-3-1.2-4.1 3.9z"/>
<path color="#00b9c7" d="M481.2 79.4l4.1-3.6-3-1.6-4.1 3.6zM497.9 96.6l4.1-3.7-3-1.5-4.2 3.7zM501.9 101.6l4.1-3.7-3.1-1.5-4.1 3.8zM521.8 126l4.1-3.9-3-1.2-4.1 3.8zM525.8 130.8l4.1-3.9-3-1.3-4.1 3.9z"/>
<path color="#a1c840" d="M535.2 52l4.1-3.7-3-1.4-4.1 3.7zM539.2 56.9l4.1-3.7-3-1.4-4.1 3.7zM552.8 75l4.1-3.8-3-1.2-4.1 3.7zM558.4 83.5l4.1-3.8-3-1.2-4.1 3.8zM564 91.9l4.1-3.9-3-1.1-4.1 3.8z"/>
<path color="#15bfb7" d="M489.7 75.3l4.1-3.6-3-1.5-4.1 3.6z"/>
<path color="#2cc4a7" d="M498.2 71.2l4.1-3.6-3-1.5-4.2 3.6zM508.5 82.2l4.1-3.7-3-1.4-4.1 3.7zM524.5 101.8l4.1-3.8-3.1-1.3-4.1 3.8zM528.4 106.6l4.1-3.9-3-1.2-4.1 3.8zM547.7 133.2l4.1-3.9-3-1.2-4.1 4z"/>
<path color="#39c995" d="M506.7 67.1l4.1-3.6-3-1.5-4.2 3.6z"/>
<path color="#51cc7e" d="M515.1 62.9l4.2-3.6-3.1-1.5-4.1 3.7z"/>
<path color="#70cd65" d="M523.6 58.7l4.2-3.6-3.1-1.4-4.1 3.6zM527.6 63.7l4.1-3.7-3-1.4-4.1 3.7zM531.6 68.5l4.1-3.7-3-1.3-4.1 3.7zM535.6 73.4l4.1-3.8-3-1.3-4.1 3.7z"/>
<path color="#17aeda" d="M469.6 85.9l4.2-3.6-3.1-1.6-4.1 3.6zM476 92.1l4.1-3.6-3-1.6-4.2 3.7zM496.6 114.3l4.1-3.7-3-1.4-4.1 3.7zM524.6 148.5l4.1-4-3.1-1.2-4 3.9zM528.6 153.2l4-4-3-1.2-4.1 4z"/>
<path color="#03b6cd" d="M478.1 81.9l4.1-3.6-3-1.6-4.1 3.6zM484.5 88l4.1-3.6-3-1.5-4.2 3.6zM494.8 99.1l4.1-3.7-3-1.4-4.1 3.7zM530.7 143l4.1-4-3-1.2-4.1 3.9z"/>
<path color="#93ca4b" d="M532.1 54.5l4.1-3.7-3-1.4-4.1 3.7zM536.1 59.4l4.1-3.7-3-1.4-4.1 3.7zM566.6 102.9l4.1-3.9-3-1.1-4.1 3.9z"/>
<path color="#08bcbe" d="M486.6 77.8l4.1-3.6-3-1.5-4.1 3.6zM507.3 99.8l4.1-3.7-3-1.4-4.1 3.7zM511.3 104.7l4.1-3.7-3-1.4-4.2 3.8zM515.3 109.6l4.1-3.8-3.1-1.3-4.1 3.8zM519.2 114.5l4.1-3.9-3-1.3-4.1 3.8z"/>
<path color="#b4c534" d="M540.6 50.3l4.1-3.7-3-1.4-4.1 3.7z"/>
<path color="#24c1ae" d="M495.1 73.7l4.1-3.6-3-1.5-4.1 3.6zM505.4 84.7l4.1-3.6-3-1.5-4.1 3.7zM529.4 114l4.1-3.9-3-1.3-4.1 3.9z"/>
<path color="#33c69d" d="M503.6 69.6l4.1-3.6-3-1.5-4.1 3.6zM545.1 121.9l4.1-3.9-3-1.2-4.1 3.9z"/>
<path color="#45cb88" d="M512.1 65.4l4.1-3.6-3-1.5-4.1 3.7zM536 94.7l4.1-3.8-3-1.3-4.1 3.8zM545.6 108l4.1-3.9-3-1.2-4.1 3.8z"/>
<path color="#62cd70" d="M520.6 61.3l4.1-3.7-3-1.4-4.2 3.6zM546.1 94.1l4.1-3.9-3-1.2-4.1 3.8z"/>
<path color="#1baade" d="M466.6 88.4l4.1-3.6-3-1.6-4.2 3.6zM479.3 100.7l4.1-3.6-3.1-1.5-4.1 3.6z"/>
<path color="#0db3d3" d="M475.1 84.4l4.1-3.6-3.1-1.6-4.1 3.6zM481.4 90.5l4.1-3.6-3-1.5-4.1 3.6zM491.7 101.7l4.1-3.7-3-1.5-4.1 3.7zM506 117.5l4.2-3.8-3.1-1.4-4.1 3.8zM510 122.4l4.1-3.8-3-1.4-4.1 3.8zM514 127.2l4.1-3.8-3-1.3-4.1 3.8z"/>
<path color="#84cc56" d="M529.1 57l4.1-3.6-3-1.4-4.2 3.6zM533 61.9l4.2-3.7-3.1-1.3-4.1 3.6zM537 66.7l4.1-3.7-3-1.3-4.1 3.7zM569.1 113.9l4.1-4-3-1-4 3.9z"/>
<path color="#01bac5" d="M483.5 80.3l4.2-3.6-3.1-1.5-4.1 3.6zM489.9 86.4l4.1-3.7-3-1.5-4.1 3.7zM504.2 102.4l4.1-3.8-3-1.3-4.1 3.7zM508.2 107.3l4.1-3.7-3-1.4-4.1 3.7zM512.2 112.2l4.1-3.8-3-1.3-4.1 3.8zM516.2 117.1l4.1-3.8-3-1.3-4.1 3.8zM520.2 121.9l4.1-3.8-3-1.3-4.2 3.8zM524.1 126.7l4.1-3.9-3-1.2-4.1 3.8zM537.8 144.9l4-4-3-1.1-4.1 3.9z"/>
<path color="#a6c83d" d="M537.5 52.8l4.2-3.7-3.1-1.4-4.1 3.7z"/>
<path color="#19bfb6" d="M492 76.2l4.2-3.6-3.1-1.5-4.1 3.6zM530.3 121.3l4.1-3.8-3-1.3-4.1 3.9z"/>
<path color="#2dc4a5" d="M500.5 72.1l4.1-3.6-3-1.5-4.1 3.6zM536.4 116l4.1-3.9-3-1.2-4.1 3.9z"/>
<path color="#3bc992" d="M509 68l4.1-3.7-3-1.5-4.1 3.7zM536.9 102l4.1-3.8-3-1.3-4.1 3.8zM552.2 123.8l4.1-4-3-1.1-4.1 3.9z"/>
<path color="#55cc7b" d="M517.5 63.8l4.1-3.7-3-1.4-4.1 3.6z"/>
<path color="#1fa6e2" d="M463.5 90.9l4.1-3.6-3-1.6-4.1 3.6zM469.8 97.1l4.2-3.6-3.1-1.6-4.1 3.7zM476.2 103.3l4.1-3.7-3-1.5-4.1 3.6zM482.5 109.3l4.1-3.7-3-1.5-4.1 3.7zM486.5 114.4l4.1-3.7-3-1.5-4.1 3.8zM496.8 125.3l4.2-3.8-3.1-1.4-4.1 3.8zM500.8 130.3l4.1-3.8-3-1.4-4.1 3.8zM504.8 135.2l4.1-3.8-3-1.4-4.1 3.9zM508.8 140.1l4.1-3.9-3-1.3-4.1 3.9zM512.8 145l4.1-3.9-3-1.3-4.1 3.9zM516.8 149.8l4.1-3.9-3-1.3-4.1 3.9zM520.8 154.6l4.1-3.9-3-1.3-4.1 4zM524.8 159.4l4.1-4-3.1-1.2-4 4z"/>
<path color="#15afd9" d="M472 86.9l4.1-3.7-3-1.5-4.1 3.6zM478.3 93l4.1-3.6-3-1.5-4.1 3.6zM499 115.1l4.1-3.8-3-1.3-4.1 3.7zM522.9 144.4l4.1-4-3-1.2-4.1 3.9z"/>
<path color="#75cc61" d="M526 59.6l4.1-3.7-3-1.4-4.1 3.6zM534 69.3l4.1-3.7-3-1.4-4.2 3.7zM547.6 87.5l4.1-3.8-3-1.3-4.1 3.8zM564.4 112.8l4.1-4-3-1.1-4.1 4z"/>
<path color="#02b7cc" d="M480.5 82.8l4.1-3.6-3-1.6-4.2 3.7zM501.1 105l4.1-3.8-3-1.4-4.1 3.7zM505.1 109.9l4.1-3.7-3-1.4-4.1 3.7zM521.1 129.4l4.1-3.9-3-1.3-4.1 3.9zM525.1 134.2l4.1-3.9-3-1.3-4.1 3.9z"/>
<path color="#97ca47" d="M534.5 55.3l4.1-3.7-3-1.4-4.1 3.7zM570.6 107.3l4.1-3.9-3-1.1-4.1 3.9z"/>
<path color="#0bbdbd" d="M489 78.7l4.1-3.6-3-1.5-4.2 3.6zM499.3 89.8l4.1-3.7-3-1.4-4.1 3.7zM531.2 128.8l4.1-3.9-3-1.3-4.1 3.9z"/>
<path color="#b8c431" d="M543 51l4.1-3.7-3-1.3-4.2 3.7z"/>
<path color="#34c79b" d="M505.9 70.5l4.2-3.7-3.1-1.5-4.1 3.7zM533.9 104.6l4.1-3.8-3-1.3-4.1 3.9zM543.5 118l4.1-4-3-1.1-4.1 3.8z"/>
<path color="#49cb86" d="M514.4 66.3l4.1-3.7-3-1.4-4.1 3.6zM534.4 90.6l4.1-3.8-3-1.2-4.1 3.7z"/>
<path color="#22a2e4" d="M460.4 93.4l4.2-3.6-3.1-1.6-4.1 3.6zM469.1 100.6l4.1-3.7-3-1.5-4.1 3.6zM475.5 106.7l4.1-3.7-3-1.5-4.2 3.7zM479.5 111.8l4.1-3.6-3.1-1.5-4.1 3.7zM485.8 117.8l4.1-3.7-3-1.5-4.1 3.8zM489.8 122.9l4.1-3.8-3-1.4-4.1 3.8zM500.1 133.7l4.1-3.8-3-1.4-4.1 3.8zM504.1 138.6l4.1-3.8-3-1.4-4.1 3.9zM508.1 143.5l4.1-3.9-3-1.3-4.1 3.9zM512.1 148.4l4.1-3.9-3-1.3-4.1 3.9zM516.1 153.2l4.1-3.9-3-1.2-4.1 3.9zM520.1 158.1l4.1-4-3.1-1.2-4 3.9z"/>
<path color="#1aabdd" d="M468.9 89.3l4.1-3.6-3-1.5-4.1 3.6zM475.3 95.5l4.1-3.6-3-1.5-4.2 3.6z"/>
<path color="#66cd6d" d="M522.9 62.1l4.1-3.7-3-1.4-4.1 3.6zM526.9 67l4.1-3.7-3-1.4-4.1 3.7zM530.9 71.9l4.1-3.8-3-1.3-4.1 3.7zM544.5 90.1l4.1-3.8-3-1.3-4.1 3.8z"/>
<path color="#0ab4d2" d="M477.4 85.3l4.1-3.6-3-1.6-4.1 3.6zM494.1 102.5l4.1-3.7-3-1.4-4.1 3.6zM530 146.4l4.1-4-3-1.2-4.1 4z"/>
<path color="#89cb53" d="M531.4 57.8l4.1-3.6-3-1.4-4.1 3.6zM549 80.9l4.1-3.8-3-1.3-4.1 3.8z"/>
<path color="#02bac3" d="M485.9 81.2l4.1-3.6-3-1.5-4.1 3.6z"/>
<path color="#1cc0b4" d="M494.4 77.1l4.1-3.6-3-1.5-4.1 3.6zM524.7 112.5l4.1-3.8-3-1.3-4.2 3.8zM538.3 130.7l4.1-3.9-3-1.2-4.1 3.9z"/>
<path color="#2fc5a3" d="M502.9 73l4.1-3.7-3-1.5-4.2 3.7zM534.8 112l4.1-3.9-3-1.2-4.1 3.8zM544.4 125.3l4.1-4-3-1.1-4.1 3.9z"/>
<path color="#3eca8f" d="M511.4 68.8l4.1-3.7-3-1.4-4.2 3.6zM535.3 98l4.1-3.8-3-1.3-4.1 3.8zM544.9 111.3l4.1-3.9-3-1.2-4.1 3.9z"/>
<path color="#259de7" d="M457.4 95.8l4.1-3.6-3-1.6-4.2 3.6zM476.4 114.4l4.1-3.7-3-1.5-4.1 3.7zM486.7 125.5l4.1-3.8-3-1.4-4.1 3.7zM505 146.2l4.1-3.9-3-1.3-4.1 3.9zM509 151.1l4.1-3.9-3-1.3-4.1 3.9zM513 156l4.1-4-3-1.2-4.1 3.9zM517 160.8l4.1-3.9-3-1.3-4.1 4z"/>
<path color="#1ea7e1" d="M465.9 91.8l4.1-3.6-3.1-1.6-4.1 3.6zM472.2 98l4.1-3.6-3-1.5-4.1 3.6zM478.5 104.1l4.2-3.6-3.1-1.5-4.1 3.6zM488.9 115.2l4.1-3.7-3-1.4-4.2 3.7zM492.9 120.3l4.1-3.8-3.1-1.4-4.1 3.8zM503.2 131l4.1-3.8-3-1.3-4.1 3.8zM507.2 135.9l4.1-3.8-3-1.3-4.1 3.8zM511.2 140.8l4.1-3.8-3.1-1.3-4.1 3.8zM515.2 145.7l4-3.9-3-1.3-4.1 3.9zM519.1 150.5l4.1-3.9-3-1.3-4.1 3.9z"/>
<path color="#59cc78" d="M519.9 64.6l4.1-3.7-3.1-1.4-4.1 3.7zM523.8 69.5l4.2-3.7-3.1-1.4-4.1 3.7zM531.8 79.2l4.1-3.7-3-1.3-4.1 3.7zM562.3 122.8l4.1-4-3-1.1-4.1 4z"/>
<path color="#14b0d7" d="M474.3 87.8l4.2-3.6-3.1-1.6-4.1 3.6z"/>
<path color="#7acc5e" d="M528.3 60.4l4.2-3.7-3.1-1.4-4.1 3.6zM532.3 65.2l4.1-3.7-3-1.3-4.1 3.7zM568.4 117.2l4.1-4-3-1-4.1 3.9z"/>
<path color="#01b8ca" d="M482.8 83.7l4.1-3.6-3-1.5-4.1 3.6zM503.5 105.8l4.1-3.8-3-1.4-4.1 3.8zM507.5 110.7l4.1-3.8-3-1.3-4.1 3.7zM511.5 115.6l4.1-3.8-3-1.3-4.1 3.8zM515.5 120.5l4.1-3.9-3.1-1.3-4.1 3.8zM519.4 125.3l4.1-3.9-3-1.2-4.1 3.8zM523.4 130.1l4.1-3.9-3-1.3-4.1 3.9zM537 148.3l4.1-4-3-1.1-4.1 3.9z"/>
<path color="#0fbebb" d="M491.3 79.6l4.1-3.6-3-1.5-4.1 3.6zM501.6 90.6l4.2-3.6-3.1-1.5-4.1 3.7zM529.6 124.7l4.1-3.9-3-1.2-4.1 3.9z"/>
<path color="#29c3aa" d="M499.8 75.5l4.1-3.7-3-1.5-4.1 3.7zM510.1 86.4l4.2-3.7-3.1-1.4-4.1 3.7zM514.1 91.3l4.1-3.7-3-1.4-4.1 3.7zM518.1 96.2l4.1-3.7-3-1.4-4.1 3.7zM522.1 101l4.1-3.7-3-1.4-4.1 3.8zM526.1 105.8l4.1-3.8-3-1.3-4.1 3.8zM545.3 132.6l4.1-3.9-3-1.2-4.1 3.9z"/>
<path color="#bdc42e" d="M545.3 51.8l4.1-3.7-3-1.4-4.1 3.7z"/>
<path color="#36c898" d="M508.3 71.3l4.1-3.6-3-1.5-4.1 3.6zM551.5 127.1l4-3.9-3-1.2-4 4z"/>
<path color="#2698ea" d="M454.3 98.3l4.1-3.6-3-1.6-4.1 3.6zM479.7 123l4.1-3.8-3.1-1.4-4.1 3.7zM494 138.9l4.1-3.8-3-1.3-4.1 3.8z"/>
<path color="#21a3e4" d="M462.8 94.3l4.1-3.6-3-1.6-4.1 3.6zM496.1 128.7l4.1-3.8-3-1.4-4.1 3.8z"/>
<path color="#4ccc82" d="M516.8 67.1l4.1-3.7-3-1.4-4.1 3.7z"/>
<path color="#19acdc" d="M471.3 90.3l4.1-3.6-3-1.6-4.2 3.6zM477.6 96.4l4.1-3.6-3-1.5-4.1 3.6zM498.3 118.5l4.1-3.8-3-1.4-4.1 3.8zM522.2 147.8l4.1-4-3-1.2-4.1 3.9z"/>
<path color="#6bcd69" d="M525.3 62.9l4.1-3.7-3-1.4-4.1 3.7zM529.3 67.8l4.1-3.7-3-1.4-4.2 3.7zM533.2 72.6l4.2-3.7-3.1-1.4-4.1 3.8zM546.9 90.8l4.1-3.9-3.1-1.2-4.1 3.8zM563.7 116.1l4.1-4-3-1.1-4.1 4z"/>
<path color="#08b5d0" d="M479.8 86.2l4.1-3.6-3-1.6-4.2 3.7zM524.4 137.6l4.1-4-3.1-1.2-4.1 3.9z"/>
<path color="#1fc0b2" d="M496.7 78l4.2-3.7-3.1-1.5-4.1 3.7zM511.1 93.9l4.1-3.7-3.1-1.4-4.1 3.7zM515 98.8l4.2-3.8-3.1-1.3-4.1 3.7zM519 103.7l4.1-3.8-3-1.4-4.1 3.8zM523 108.5l4.1-3.8-3-1.3-4.1 3.8zM536.6 126.7l4.1-3.9-3-1.2-4.1 3.9zM546.2 140l4.1-4-3-1.2-4.1 4z"/>
<path color="#31c5a1" d="M505.2 73.8l4.1-3.6-3-1.5-4.1 3.6zM533.1 108l4.2-3.9-3.1-1.2-4.1 3.8z"/>
<path color="#2a93ed" d="M451.2 100.8l4.2-3.6-3.1-1.6-4.1 3.6zM486.9 136.6l4.1-3.8-3-1.4-4.1 3.7zM509.2 162.2l4.1-4-3-1.2-4.1 3.9zM513.2 167.1l4.1-4-3-1.3-4.1 4z"/>
<path color="#41ca8c" d="M513.7 69.6l4.1-3.6-3-1.5-4.1 3.7zM533.7 93.9l4.1-3.7-3-1.3-4.2 3.8zM543.3 107.3l4.1-3.9-3-1.2-4.1 3.9z"/>
<path color="#249ee6" d="M459.7 96.8l4.1-3.6-3-1.6-4.1 3.6zM466.1 103.1l4.1-3.7-3.1-1.5-4.1 3.6zM472.4 109.2l4.1-3.7-3-1.5-4.1 3.7zM478.7 115.3l4.2-3.7-3.1-1.5-4.1 3.7zM489.1 126.3l4.1-3.8-3-1.4-4.2 3.8zM493.1 131.3l4.1-3.8-3.1-1.4-4.1 3.8z"/>
<path color="#1da8e0" d="M468.2 92.8l4.1-3.6-3-1.6-4.1 3.6zM474.5 99l4.2-3.7-3.1-1.5-4.1 3.6zM480.9 105l4.1-3.7-3-1.4-4.1 3.6zM491.2 116.1l4.1-3.8-3-1.4-4.1 3.7zM495.2 121.1l4.1-3.8-3-1.4-4.1 3.8z"/>
<path color="#5dcd75" d="M522.2 65.4l4.1-3.7-3-1.4-4.1 3.7zM526.2 70.3l4.1-3.7-3-1.4-4.1 3.7zM530.2 75.2l4.1-3.8-3-1.3-4.1 3.7zM543.8 93.4l4.1-3.8-3-1.3-4.1 3.8z"/>
<path color="#12b1d6" d="M476.7 88.7l4.1-3.6-3-1.6-4.1 3.7zM497.4 110.9l4.1-3.7-3.1-1.4-4.1 3.7zM529.3 149.8l4.1-4-3-1.2-4.1 4z"/>
<path color="#2bc3a8" d="M502.2 76.3l4.1-3.6-3-1.5-4.2 3.7zM516.5 92.1l4.1-3.7-3-1.4-4.1 3.7zM520.5 97l4.1-3.8-3-1.3-4.2 3.7zM534.1 115.3l4.1-3.8-3-1.3-4.1 3.9zM543.7 128.6l4.1-3.9-3-1.2-4.1 3.9z"/>
<path color="#c1c32c" d="M547.7 52.5l4.1-3.7-3-1.3-4.1 3.7zM557.3 65.9l4.1-3.8-3-1.3-4.1 3.8zM562.9 74.3l4.1-3.8-3-1.2-4.1 3.8zM575.8 94.7l4.1-3.9-3-1.1-4.1 4z"/>
<path color="#2d8ef1" d="M448.2 103.3l4.1-3.6-3.1-1.6-4.1 3.6zM479.9 134.1l4.1-3.8-3-1.4-4.2 3.7zM494.2 150l4.1-3.8-3-1.4-4.1 3.9zM498.2 155l4.1-3.9-3-1.3-4.1 3.9z"/>
<path color="#2699e9" d="M456.7 99.3l4.1-3.6-3.1-1.6-4.1 3.6zM463 105.6l4.1-3.7-3-1.5-4.1 3.6zM469.3 111.7l4.1-3.6-3-1.5-4.1 3.6zM475.7 117.8l4.1-3.7-3-1.5-4.2 3.7zM486 128.9l4.1-3.8-3-1.4-4.1 3.8zM500.3 144.7l4.1-3.9-3-1.3-4.1 3.8zM504.3 149.6l4.1-3.8-3-1.4-4.1 3.9zM508.3 154.5l4.1-3.9-3-1.3-4.1 3.9zM512.3 159.4l4.1-3.9-3-1.3-4.1 3.9zM516.3 164.3l4.1-4-3-1.2-4.1 3.9z"/>
<path color="#21a4e3" d="M465.1 95.3l4.2-3.7-3.1-1.5-4.1 3.6zM471.5 101.5l4.1-3.7-3-1.5-4.1 3.6zM477.8 107.6l4.1-3.7-3-1.5-4.1 3.7zM488.2 118.6l4.1-3.7-3.1-1.4-4.1 3.7z"/>
<path color="#50cc7f" d="M519.1 67.9l4.2-3.6-3.1-1.5-4.1 3.7zM531.1 82.5l4.1-3.7-3-1.3-4.1 3.7zM561.6 126.1l4.1-4-3-1.1-4.1 4z"/>
<path color="#18addb" d="M473.6 91.2l4.1-3.6-3-1.6-4.1 3.7zM480 97.3l4.1-3.6-3-1.5-4.2 3.6zM490.3 108.4l4.1-3.7-3-1.4-4.1 3.7z"/>
<path color="#06bcc0" d="M490.6 83l4.1-3.6-3-1.6-4.1 3.7zM500.9 94l4.1-3.7-3-1.4-4.1 3.7z"/>
<path color="#22c1b0" d="M499.1 78.8l4.1-3.6-3-1.5-4.1 3.7zM535 122.7l4.1-3.9-3-1.2-4.1 3.9zM544.6 136l4.1-4-3-1.1-4.1 3.9z"/>
<path color="#b4c533" d="M544.6 55.1l4.1-3.7-3-1.4-4.1 3.7z"/>
<path color="#2d89f6" d="M445.1 105.8l4.1-3.6-3-1.6-4.1 3.5zM476.8 136.7l4.1-3.8-3-1.4-4.1 3.7z"/>
<path color="#2994ed" d="M453.6 101.8l4.1-3.6-3-1.6-4.2 3.6zM459.9 108.1l4.1-3.7-3-1.5-4.1 3.6zM466.3 114.3l4.1-3.7-3.1-1.5-4.1 3.6zM472.6 120.4l4.1-3.7-3-1.5-4.1 3.7zM482.9 131.5l4.1-3.8-3-1.4-4.1 3.7zM493.3 142.4l4.1-3.8-3-1.4-4.2 3.8zM497.3 147.4l4.1-3.9-3.1-1.3-4.1 3.8zM501.2 152.3l4.1-3.9-3-1.3-4.1 3.9z"/>
<path color="#249fe5" d="M462.1 97.8l4.1-3.7-3-1.5-4.2 3.6zM468.4 104l4.1-3.7-3-1.5-4.1 3.6zM474.8 110.1l4.1-3.7-3.1-1.5-4.1 3.7zM481.1 116.1l4.1-3.7-3-1.5-4.1 3.8zM485.1 121.2l4.1-3.7-3-1.4-4.1 3.7zM495.4 132.1l4.1-3.8-3-1.4-4.1 3.8zM499.4 137.1l4.1-3.8-3-1.4-4.1 3.8zM503.4 142l4.1-3.8-3-1.4-4.1 3.9zM519.3 161.5l4.1-3.9-3-1.3-4.1 4z"/>
<path color="#44cb89" d="M516.1 70.5l4.1-3.7-3-1.5-4.2 3.7zM532 89.9l4.1-3.8-3-1.3-4.1 3.8zM556.9 125l4.1-4-3-1.1-4.1 3.9z"/>
<path color="#1ca9df" d="M470.6 93.7l4.1-3.6-3.1-1.6-4.1 3.6zM476.9 99.9l4.1-3.7-3-1.5-4.1 3.6zM497.6 121.9l4.1-3.8-3.1-1.4-4.1 3.8zM521.5 151.2l4.1-3.9-3-1.3-4.1 3.9zM525.5 156l4.1-4-3-1.2-4.1 4z"/>
<path color="#62cd71" d="M524.6 66.2l4.1-3.7-3-1.4-4.2 3.7zM532.5 75.9l4.1-3.7-3-1.3-4.1 3.7zM563 119.4l4.1-3.9-3-1.1-4.1 3.9z"/>
<path color="#00b9c6" d="M487.5 85.5l4.2-3.6-3.1-1.5-4.1 3.6zM493.9 91.5l4.1-3.7-3-1.4-4.1 3.6zM529.8 135.5l4.1-3.9-3-1.2-4.1 3.9z"/>
<path color="#16bfb7" d="M496 81.4l4.1-3.7-3-1.5-4.1 3.7zM514.3 102.1l4.1-3.7-3-1.4-4.1 3.8zM518.3 107l4.1-3.8-3-1.3-4.1 3.8zM535.9 130.1l4.1-3.9-3-1.2-4.1 3.9z"/>
<path color="#2e83f9" d="M442 108.3l4.1-3.6-3-1.7-4.1 3.6zM448.4 114.6l4.1-3.6-3-1.6-4.2 3.6zM473.7 139.3l4.1-3.8-3-1.4-4.1 3.7zM484.1 150.3l4.1-3.8-3.1-1.4-4.1 3.8zM498.4 166.2l4.1-3.9-3-1.4-4.1 3.9zM502.4 171.1l4.1-3.9-3.1-1.3-4 3.9zM506.4 176.1l4.1-4-3.1-1.3-4.1 4z"/>
<path color="#2c8ff0" d="M450.5 104.3l4.1-3.6-3-1.6-4.1 3.6zM475.9 129l4.1-3.8-3-1.4-4.1 3.7zM486.2 140l4.1-3.8-3-1.4-4.1 3.8zM504.5 160.7l4.1-3.9-3-1.3-4.1 3.9zM508.5 165.6l4.1-3.9-3-1.3-4.1 3.9zM512.5 170.5l4.1-3.9-3-1.3-4.1 4z"/>
<path color="#c6c22a" d="M550 53.3l4.1-3.8-3-1.3-4.1 3.7zM559.6 66.5l4.1-3.8-3-1.2-4.1 3.8zM565.3 75l4.1-3.9-3-1.1-4.1 3.8zM579.8 99.1l4.1-4-3-1-4.1 3.9z"/>
<path color="#269ae8" d="M459 100.2l4.1-3.6-3-1.6-4.1 3.7zM465.3 106.5l4.2-3.7-3.1-1.5-4.1 3.6zM471.7 112.6l4.1-3.6-3-1.6-4.1 3.7zM492.3 134.7l4.2-3.8-3.1-1.3-4.1 3.7z"/>
<path color="#20a5e3" d="M467.5 96.2l4.1-3.6-3-1.6-4.1 3.6zM473.8 102.4l4.1-3.7-3-1.5-4.1 3.6zM494.5 124.5l4.1-3.8-3-1.4-4.1 3.8z"/>
<path color="#55cc7c" d="M521.5 68.7l4.1-3.7-3-1.4-4.1 3.7zM533.5 83.3l4.1-3.8-3.1-1.3-4.1 3.8z"/>
<path color="#75cc62" d="M530 64.5l4.1-3.7-3-1.4-4.1 3.7z"/>
<path color="#09bdbe" d="M493 83.9l4.1-3.7-3.1-1.5-4.1 3.7zM503.3 94.8l4.1-3.7-3-1.4-4.1 3.7zM523.2 119.3l4.1-3.9-3-1.3-4.1 3.9z"/>
<path color="#307efb" d="M439 110.7l4.1-3.6-3.1-1.6-4.1 3.6zM447.7 118.1l4.1-3.6-3.1-1.6-4.1 3.6zM454 124.4l4.1-3.7-3-1.5-4.1 3.6zM460.3 130.6l4.1-3.7-3-1.5-4.1 3.7zM466.7 136.7l4.1-3.7-3-1.5-4.2 3.7zM487.3 158.8l4.1-3.8-3-1.4-4.1 3.9zM501.7 174.6l4-3.9-3-1.3-4.1 3.9z"/>
<path color="#25c2ae" d="M501.4 79.7l4.2-3.7-3.1-1.4-4.1 3.6zM533.4 118.7l4.1-3.9-3.1-1.2-4.1 3.8zM543 132l4.1-3.9-3-1.2-4.1 3.9z"/>
<path color="#2d8af5" d="M447.4 106.8l4.2-3.7-3.1-1.6-4.1 3.6zM472.8 131.5l4.1-3.7-3-1.5-4.1 3.8zM483.1 142.6l4.1-3.8-3-1.4-4.1 3.8zM493.5 153.5l4.1-3.9-3-1.3-4.1 3.8zM497.5 158.5l4.1-3.9-3.1-1.3-4.1 3.8z"/>
<path color="#b9c431" d="M547 55.8l4.1-3.7-3-1.3-4.2 3.7zM556.6 69.1l4.1-3.8-3-1.2-4.1 3.8zM562.2 77.6l4.1-3.8-3-1.2-4.1 3.8zM575.1 98l4.1-3.9-3-1.1-4.1 3.9z"/>
<path color="#2895ec" d="M455.9 102.7l4.2-3.6-3.1-1.6-4.1 3.6zM462.3 109l4.1-3.6-3-1.6-4.2 3.6zM468.6 115.2l4.1-3.7-3-1.5-4.1 3.6zM475 121.2l4.1-3.7-3.1-1.4-4.1 3.7zM485.3 132.3l4.1-3.8-3-1.4-4.1 3.8zM489.3 137.4l4.1-3.8-3-1.4-4.1 3.8zM503.6 153.1l4.1-3.9-3-1.3-4.1 3.8zM507.6 158l4.1-3.9-3-1.3-4.1 3.9zM511.6 162.9l4.1-4-3-1.2-4.1 3.9zM515.6 167.8l4.1-4-3.1-1.3-4 4z"/>
<path color="#23a0e5" d="M464.4 98.7l4.1-3.6-3-1.6-4.1 3.6zM470.8 104.9l4.1-3.7-3-1.5-4.2 3.7zM477.1 111l4.1-3.7-3-1.5-4.1 3.7zM487.4 122.1l4.1-3.8-3-1.4-4.1 3.7zM491.4 127.1l4.1-3.8-3-1.4-4.1 3.8zM505.7 142.8l4.1-3.9-3-1.3-4.1 3.8zM509.7 147.7l4.1-3.9-3-1.3-4.1 3.9zM513.7 152.5l4.1-3.9-3-1.3-4.1 4zM517.7 157.4l4.1-4-3-1.2-4.1 3.9z"/>
<path color="#48cb86" d="M518.4 71.3l4.1-3.7-3-1.4-4.1 3.6zM530.4 85.9l4.1-3.8-3-1.3-4.1 3.7zM544 104l4.1-3.9-3-1.2-4.1 3.9z"/>
<path color="#1baadf" d="M472.9 94.6l4.1-3.6-3-1.6-4.1 3.7zM489.6 111.8l4.1-3.7-3-1.4-4.1 3.7z"/>
<path color="#3678fd" d="M435.9 113.2l4.1-3.6-3-1.6-4.1 3.6zM469.9 145.3l4.2-3.7-3.1-1.5-4.1 3.8zM480.3 156.4l4.1-3.8-3-1.4-4.1 3.8z"/>
<path color="#1abfb5" d="M498.4 82.2l4.1-3.6-3-1.5-4.1 3.6z"/>
<path color="#2e85f8" d="M444.4 109.2l4.1-3.6-3-1.6-4.2 3.6zM453.1 116.5l4.1-3.6-3-1.6-4.2 3.7zM459.4 122.8l4.1-3.7-3-1.5-4.1 3.6zM465.8 128.9l4.1-3.7-3.1-1.5-4.1 3.7zM472.1 135l4.1-3.8-3-1.4-4.1 3.7zM476.1 140.1l4.1-3.7-3-1.5-4.1 3.8zM482.4 146.1l4.1-3.8-3-1.5-4.1 3.8zM486.4 151.1l4.1-3.8-3-1.4-4.1 3.8zM500.7 166.9l4.1-3.9-3-1.3-4.1 3.9zM504.7 171.9l4.1-4-3-1.3-4.1 4z"/>
<path color="#2c90ef" d="M452.9 105.2l4.1-3.6-3-1.6-4.2 3.6zM492.6 145.8l4.1-3.8-3.1-1.4-4.1 3.8z"/>
<path color="#259be7" d="M461.4 101.2l4.1-3.6-3.1-1.6-4.1 3.6zM474 113.5l4.2-3.7-3.1-1.5-4.1 3.7zM498.7 140.5l4.1-3.8-3-1.4-4.1 3.8z"/>
<path color="#cac128" d="M552.4 54l4.1-3.7-3-1.3-4.1 3.7zM583.8 103.4l4.1-4-3-1-4.1 3.9z"/>
<path color="#3dca90" d="M515.4 73.8l4.1-3.7-3.1-1.4-4.1 3.7zM531.3 93.2l4.1-3.7-3-1.3-4.1 3.7zM556.2 128.3l4.1-4-3-1.1-4.1 4z"/>
<path color="#02b7cb" d="M486.8 88.9l4.1-3.7-3-1.5-4.1 3.7zM497.1 99.9l4.2-3.7-3.1-1.4-4.1 3.7zM529.1 138.9l4.1-3.9-3.1-1.2-4 3.9z"/>
<path color="#3c72ff" d="M432.8 115.7l4.1-3.6-3-1.6-4.1 3.6zM441.5 123.1l4.1-3.6-3-1.6-4.1 3.6zM473.2 154l4.1-3.8-3-1.5-4.1 3.8zM483.6 165l4.1-3.9-3.1-1.3-4.1 3.8z"/>
<path color="#0cbdbc" d="M495.3 84.7l4.1-3.6-3-1.5-4.1 3.7zM535.2 133.5l4.1-4-3-1.2-4.1 3.9z"/>
<path color="#307ffb" d="M441.3 111.7l4.1-3.6-3-1.6-4.1 3.6zM473 142.7l4.1-3.7-3-1.5-4.1 3.8zM483.3 153.8l4.1-3.8-3-1.4-4.1 3.8zM493.7 164.6l4.1-3.8-3-1.4-4.1 3.9zM497.7 169.7l4.1-4-3.1-1.3-4.1 3.9z"/>
<path color="#2d8bf4" d="M449.8 107.7l4.1-3.6-3-1.6-4.1 3.6zM456.1 114l4.2-3.6-3.1-1.6-4.1 3.7zM462.5 120.2l4.1-3.6-3-1.6-4.1 3.7zM468.8 126.4l4.1-3.7-3-1.5-4.1 3.7zM475.2 132.4l4.1-3.7-3.1-1.5-4.1 3.7zM485.5 143.4l4.1-3.8-3-1.4-4.1 3.8zM489.5 148.5l4.1-3.9-3-1.3-4.1 3.8zM507.8 169.1l4.1-3.9-3-1.3-4.1 3.9z"/>
<path color="#2797eb" d="M458.3 103.7l4.1-3.6-3-1.6-4.1 3.6zM477.3 122.1l4.1-3.7-3-1.5-4.1 3.7zM487.6 133.1l4.1-3.7-3-1.5-4.1 3.8zM509.9 158.7l4.1-3.9-3-1.3-4.1 3.9zM513.9 163.6l4.1-4-3-1.2-4.1 3.9z"/>
<path color="#bec32e" d="M549.3 56.5l4.1-3.7-3-1.3-4.1 3.7zM558.9 69.8l4.1-3.8-3-1.2-4.1 3.8zM564.5 78.2l4.1-3.8-3-1.2-4.1 3.8z"/>
<path color="#36c799" d="M512.3 76.3l4.1-3.7-3-1.4-4.1 3.7zM528.2 95.8l4.1-3.7-3-1.3-4.1 3.7z"/>
<path color="#22a1e4" d="M466.8 99.6l4.1-3.6-3-1.6-4.2 3.7zM473.1 105.8l4.1-3.7-3-1.5-4.1 3.7zM493.8 127.9l4.1-3.8-3-1.4-4.1 3.8z"/>
<path color="#0ab4d1" d="M483.8 91.4l4.1-3.6-3.1-1.5-4.1 3.6z"/>
<path color="#416cfe" d="M429.8 118.2l4.1-3.6-3.1-1.7-4.1 3.6zM438.5 125.6l4.1-3.6-3.1-1.6-4.1 3.6zM476.5 162.6l4.1-3.9-3-1.4-4.1 3.9zM490.8 178.6l4.1-3.9-3-1.3-4.1 3.9z"/>
<path color="#02bbc3" d="M492.2 87.3l4.2-3.7-3.1-1.5-4.1 3.7zM506.6 103.2l4.1-3.8-3.1-1.4-4.1 3.8zM510.5 108.1l4.2-3.8-3.1-1.3-4.1 3.7zM514.5 113l4.1-3.8-3-1.3-4.1 3.7zM518.5 117.8l4.1-3.8-3-1.3-4.1 3.8zM522.5 122.6l4.1-3.8-3-1.3-4.1 3.8zM536.1 140.9l4.1-4-3-1.2-4.1 4z"/>
<path color="#3479fd" d="M438.2 114.2l4.2-3.6-3.1-1.6-4.1 3.6zM453.3 127.8l4.1-3.6-3-1.6-4.2 3.7zM466 140.2l4.1-3.8-3.1-1.5-4.1 3.8z"/>
<path color="#1ec0b3" d="M500.7 83.1l4.1-3.7-3-1.5-4.1 3.7zM532.6 122l4.1-3.9-3-1.2-4.1 3.9zM542.3 135.4l4-4-3-1.2-4.1 4z"/>
<path color="#2e86f8" d="M446.7 110.2l4.2-3.6-3.1-1.6-4.1 3.6zM496.7 161.9l4.1-3.9-3-1.3-4.1 3.9z"/>
<path color="#b0c636" d="M546.2 59.1l4.1-3.7-3-1.4-4.1 3.8zM555.8 72.4l4.2-3.8-3.1-1.2-4.1 3.7zM561.5 80.9l4.1-3.9-3-1.2-4.1 3.9zM574.4 101.3l4.1-4-3-1-4.1 3.9z"/>
<path color="#2b91ef" d="M455.2 106.2l4.1-3.6-3-1.6-4.1 3.6zM461.6 112.4l4.1-3.6-3.1-1.6-4.1 3.7zM467.9 118.6l4.1-3.7-3-1.5-4.1 3.7zM478.2 129.8l4.1-3.7-3-1.5-4.1 3.8zM484.6 135.7l4.1-3.7-3-1.5-4.2 3.8zM488.6 140.8l4.1-3.8-3.1-1.4-4.1 3.8zM506.9 161.4l4.1-3.9-3-1.3-4.1 3.9zM510.9 166.4l4.1-4-3.1-1.3-4.1 4z"/>
<path color="#30c5a1" d="M509.2 78.9l4.1-3.7-3-1.5-4.1 3.7zM542.8 121.3l4.1-3.9-3-1.2-4.1 3.9z"/>
<path color="#259ce7" d="M463.7 102.1l4.1-3.6-3-1.6-4.1 3.7zM470.1 108.3l4.1-3.7-3.1-1.5-4.1 3.7zM480.4 119.5l4.1-3.7-3-1.4-4.1 3.7zM490.7 130.5l4.1-3.8-3-1.4-4.1 3.8zM494.7 135.5l4.1-3.8-3-1.4-4.1 3.8z"/>
<path color="#cfc027" d="M554.7 54.7l4.1-3.7-3-1.3-4.1 3.7zM571.6 80l4.1-3.8-3-1.2-4.1 3.9zM578.9 92l4.1-3.9-3-1.1-4.1 3.9z"/>
<path color="#13b0d7" d="M480.7 93.9l4.1-3.6-3-1.5-4.1 3.6zM505.3 120.8l4.1-3.8-3-1.3-4.1 3.8zM509.3 125.7l4.1-3.8-3-1.3-4.1 3.8zM513.3 130.6l4.1-3.8-3-1.3-4.1 3.8zM517.3 135.5l4.1-3.9-3-1.3-4.1 3.9z"/>
<path color="#4466fd" d="M426.7 120.7l4.1-3.6-3-1.7-4.2 3.6zM435.4 128.1l4.1-3.6-3-1.6-4.2 3.6zM444.1 135.5l4.1-3.7-3-1.6-4.2 3.7zM450.4 141.7l4.1-3.7-3-1.5-4.1 3.7zM456.8 147.9l4.1-3.7-3.1-1.5-4.1 3.7zM463.1 154l4.1-3.7-3-1.5-4.1 3.7zM473.4 165.2l4.1-3.8-3-1.4-4.1 3.8zM479.8 171.2l4.1-3.9-3.1-1.4-4.1 3.9zM483.8 176.3l4.1-3.9-3.1-1.4-4.1 3.9zM494.1 187.2l4.1-4-3-1.3-4.1 4z"/>
<path color="#01b8c9" d="M489.2 89.8l4.1-3.7-3-1.5-4.2 3.7zM499.5 100.8l4.1-3.7-3-1.5-4.1 3.7zM527.4 134.8l4.1-3.9-3-1.2-4.1 3.9z"/>
<path color="#3b73ff" d="M435.2 116.7l4.1-3.6-3-1.6-4.2 3.6zM450.2 130.4l4.1-3.7-3-1.5-4.1 3.6zM456.6 136.6l4.1-3.7-3.1-1.5-4.1 3.7zM462.9 142.7l4.1-3.7-3-1.5-4.1 3.7zM479.6 159.9l4.1-3.8-3.1-1.4-4.1 3.8zM493.9 175.9l4.1-3.9-3-1.4-4.1 3.9z"/>
<path color="#10beba" d="M497.7 85.6l4.1-3.7-3-1.4-4.2 3.6zM543.2 142.8l4.1-4-3-1.2-4.1 4z"/>
<path color="#2f80fa" d="M443.7 112.7l4.1-3.6-3.1-1.6-4.1 3.6zM475.4 143.6l4.1-3.8-3-1.4-4.2 3.7zM485.7 154.6l4.1-3.9-3-1.3-4.1 3.8zM504 175.4l4.1-4-3-1.3-4.1 4z"/>
<path color="#a2c83f" d="M543.2 61.6l4.1-3.7-3-1.3-4.1 3.7z"/>
<path color="#2d8cf3" d="M452.2 108.7l4.1-3.6-3.1-1.6-4.1 3.6zM458.5 115l4.1-3.7-3-1.5-4.1 3.6zM464.8 121.1l4.1-3.6-3-1.6-4.1 3.7zM471.2 127.2l4.1-3.7-3-1.5-4.2 3.7zM481.5 138.4l4.1-3.8-3-1.4-4.1 3.7zM491.8 149.3l4.1-3.9-3-1.3-4.1 3.8zM495.8 154.3l4.1-3.9-3-1.4-4.1 3.9zM499.8 159.2l4.1-3.9-3-1.3-4.1 3.9z"/>
<path color="#2798ea" d="M460.6 104.6l4.2-3.6-3.1-1.6-4.1 3.7zM467 110.8l4.1-3.6-3-1.6-4.1 3.7zM473.3 116.9l4.1-3.7-3-1.4-4.1 3.6zM483.7 128.1l4.1-3.8-3.1-1.4-4.1 3.7zM498 143.9l4.1-3.8-3-1.4-4.1 3.9z"/>
<path color="#c2c22b" d="M551.7 57.3l4.1-3.8-3-1.3-4.2 3.7zM583.1 106.7l4-4-2.9-1.1-4.1 4z"/>
<path color="#50cc80" d="M523.1 72.9l4.1-3.7-3-1.4-4.1 3.7zM527.1 77.7l4.1-3.7-3-1.4-4.1 3.8zM550.3 109.2l4.1-3.9-3-1.1-4.1 3.8zM556 117.7l4-3.9-3-1.2-4 3.9z"/>
<path color="#4660fc" d="M423.6 123.2l4.1-3.6-3-1.7-4.1 3.6zM432.3 130.6l4.1-3.6-3-1.6-4.1 3.6zM441 138l4.1-3.7-3-1.6-4.1 3.7zM447.3 144.3l4.2-3.7-3.1-1.6-4.1 3.7zM453.7 150.5l4.1-3.7-3-1.6-4.1 3.8zM460 156.6l4.1-3.7-3-1.5-4.1 3.7zM466.4 162.7l4.1-3.8-3.1-1.4-4.1 3.8zM476.7 173.9l4.1-3.9-3-1.4-4.1 3.9zM487 184.9l4.1-3.9-3-1.4-4.1 3.9z"/>
<path color="#07b5d0" d="M486.1 92.3l4.1-3.7-3-1.5-4.1 3.7zM496.4 103.3l4.1-3.7-3-1.4-4.1 3.7zM528.3 142.3l4.1-3.9-3-1.3-4.1 4z"/>
<path color="#406dfe" d="M432.1 119.2l4.1-3.6-3-1.7-4.1 3.6zM440.8 126.6l4.1-3.6-3-1.6-4.1 3.6zM466.2 151.4l4.1-3.8-3.1-1.4-4.1 3.7zM472.5 157.4l4.1-3.8-3-1.4-4.1 3.8zM482.8 168.5l4.1-3.9-3-1.4-4.1 3.9zM497.2 184.4l4-3.9-3-1.4-4.1 4z"/>
<path color="#04bbc1" d="M494.6 88.1l4.1-3.6-3-1.5-4.1 3.6zM512.9 108.9l4.1-3.8-3-1.4-4.1 3.8zM534.5 136.8l4.1-3.9-3-1.2-4.1 3.9z"/>
<path color="#337afd" d="M440.6 115.2l4.1-3.6-3-1.6-4.1 3.6z"/>
<path color="#2e87f7" d="M449.1 111.2l4.1-3.6-3-1.6-4.2 3.6zM468.1 129.8l4.1-3.7-3-1.5-4.1 3.7zM474.4 135.8l4.2-3.7-3.1-1.5-4.1 3.8zM484.8 146.9l4.1-3.8-3-1.4-4.1 3.8zM503.1 167.7l4.1-4-3-1.3-4.1 3.9zM507.1 172.6l4.1-4-3-1.2-4.1 3.9z"/>
<path color="#21c1b1" d="M503.1 83.9l4.1-3.7-3-1.4-4.1 3.7zM540.6 131.4l4.1-4-3-1.2-4.1 4z"/>
<path color="#2a93ee" d="M457.6 107.1l4.1-3.6-3-1.6-4.2 3.7zM470.3 119.5l4.1-3.7-3.1-1.5-4.1 3.7zM476.6 125.5l4.1-3.7-3-1.5-4.1 3.8zM490.9 141.6l4.1-3.8-3-1.4-4.1 3.8z"/>
<path color="#b5c533" d="M548.6 59.8l4.1-3.7-3-1.3-4.1 3.7zM571.1 93.6l4.1-3.9-3-1.1-4.1 3.9zM578.3 105.6l4.1-3.9-3-1.1-4 4z"/>
<path color="#32c69f" d="M511.6 79.7l4.1-3.7-3-1.4-4.2 3.6zM527.5 99.2l4.1-3.8-3-1.3-4.1 3.8zM541.1 117.3l4.1-3.9-3-1.2-4.1 3.9z"/>
<path color="#d3bf27" d="M557.1 55.4l4.1-3.7-3-1.3-4.1 3.7zM562.7 63.9l4.1-3.8-3-1.2-4.1 3.8zM568.3 72.3l4.1-3.8-3-1.2-4.1 3.8zM582.8 96.3l4.1-3.9-2.9-1.1-4.1 4z"/>
<path color="#11b1d6" d="M483 94.8l4.2-3.6-3.1-1.5-4.1 3.6zM493.4 105.9l4.1-3.7-3-1.5-4.2 3.7z"/>
<path color="#475af9" d="M420.6 125.6l4.1-3.6-3.1-1.6-4.1 3.6zM429.2 133.2l4.2-3.7-3.1-1.6-4.1 3.6zM444.3 146.8l4.1-3.7-3-1.5-4.2 3.7zM450.6 153.1l4.1-3.8-3-1.5-4.1 3.8zM457 159.2l4.1-3.7-3.1-1.5-4.1 3.8zM463.3 165.4l4.1-3.9-3-1.4-4.1 3.8zM473.6 176.6l4.1-3.9-3-1.4-4.1 3.9zM480 182.5l4.1-3.9-3.1-1.4-4 3.9z"/>
<path color="#61cd71" d="M528.5 71.1l4.2-3.7-3.1-1.4-4.1 3.7zM551.8 102.6l4.1-3.9-3-1.2-4.1 3.9zM557.4 111.1l4.1-4-3-1.1-4.1 3.9z"/>
<path color="#4367fd" d="M429 121.7l4.2-3.6-3.1-1.7-4.1 3.6zM437.7 129.1l4.1-3.6-3-1.6-4.1 3.6zM475.8 166.1l4.1-3.9-3-1.4-4.1 3.8zM490.1 182.1l4.1-3.9-3-1.3-4.1 3.9z"/>
<path color="#00b9c8" d="M491.5 90.6l4.1-3.6-3-1.5-4.1 3.7zM505.8 106.5l4.2-3.7-3.1-1.4-4.1 3.8zM509.8 111.5l4.1-3.8-3-1.4-4.1 3.8zM513.8 116.4l4.1-3.8-3-1.4-4.1 3.8zM517.8 121.2l4.1-3.8-3-1.3-4.1 3.8zM535.4 144.3l4.1-4-3-1.2-4.1 4z"/>
<path color="#3974ff" d="M437.5 117.7l4.1-3.6-3-1.6-4.1 3.6zM452.6 131.3l4.1-3.7-3.1-1.5-4.1 3.7zM458.9 137.5l4.1-3.7-3-1.5-4.1 3.7zM465.2 143.6l4.2-3.7-3.1-1.5-4.1 3.7zM500.2 181.7l4.1-4-3-1.3-4.1 3.9z"/>
<path color="#2f81fa" d="M446 113.7l4.1-3.6-3-1.6-4.1 3.6zM452.4 120l4.1-3.7-3.1-1.5-4.1 3.6zM458.7 126.2l4.1-3.7-3-1.5-4.1 3.7zM465 132.4l4.2-3.7-3.1-1.5-4.1 3.7zM471.4 138.4l4.1-3.7-3-1.5-4.1 3.8zM481.7 149.5l4.1-3.8-3-1.4-4.1 3.8zM496 165.4l4.1-3.9-3-1.3-4.1 3.9zM500 170.4l4.1-3.9-3-1.3-4.1 3.9z"/>
<path color="#14bfb8" d="M500 86.4l4.1-3.6-3-1.5-4.1 3.7zM541.5 138.8l4.1-4-3-1.2-4.1 4z"/>
<path color="#2d8df2" d="M454.5 109.6l4.1-3.6-3-1.6-4.1 3.7zM460.8 115.9l4.2-3.7-3.1-1.5-4.1 3.6zM467.2 122l4.1-3.7-3-1.5-4.1 3.7zM477.5 133.2l4.1-3.7-3-1.5-4.1 3.8zM487.8 144.2l4.1-3.8-3-1.4-4.1 3.8zM506.2 164.9l4-3.9-3-1.3-4.1 3.9zM510.1 169.8l4.1-3.9-3-1.3-4.1 4z"/>
<path color="#a7c73c" d="M545.5 62.4l4.1-3.8-3-1.3-4.1 3.7zM555.1 75.7l4.1-3.8-3-1.3-4.1 3.8zM560.8 84.1l4.1-3.8-3-1.2-4.1 3.8z"/>
<path color="#c7c129" d="M554 58l4.1-3.8-3-1.3-4.1 3.8zM570.9 83.3l4.1-3.9-3-1.1-4.1 3.8zM578.1 95.3l4.1-4-3-1-4.1 3.9z"/>
<path color="#4855f6" d="M417.5 128.1l4.1-3.6-3-1.7-4.2 3.6zM426.2 135.7l4.1-3.7-3-1.6-4.2 3.6zM434.9 143.1l4.1-3.7-3.1-1.6-4.1 3.7zM449.9 156.6l4.1-3.8-3-1.5-4.1 3.7zM456.2 162.7l4.2-3.7-3.1-1.5-4.1 3.8zM472.9 180.1l4.1-3.9-3-1.4-4.1 3.9z"/>
<path color="#54cc7c" d="M525.5 73.6l4.1-3.7-3-1.3-4.1 3.7zM529.5 78.5l4.1-3.7-3-1.4-4.2 3.7zM543.1 96.7l4.1-3.8-3-1.3-4.1 3.9z"/>
<path color="#4561fc" d="M426 124.2l4.1-3.6-3-1.7-4.2 3.6zM434.7 131.6l4.1-3.6-3.1-1.6-4.1 3.6zM449.7 145.2l4.1-3.7-3-1.5-4.1 3.7zM456 151.4l4.1-3.8-3-1.5-4.1 3.8z"/>
<path color="#05b6ce" d="M488.5 93.2l4.1-3.7-3.1-1.5-4.1 3.7zM502.8 109.1l4.1-3.7-3-1.4-4.1 3.7zM522.7 133.5l4.1-3.9-3-1.3-4.1 3.9z"/>
<path color="#3f6eff" d="M434.5 120.2l4.1-3.6-3.1-1.7-4.1 3.6zM443.2 127.6l4.1-3.7-3.1-1.6-4.1 3.7zM449.5 133.9l4.1-3.7-3-1.6-4.1 3.7zM455.8 140.1l4.1-3.7-3-1.6-4.1 3.7zM462.2 146.2l4.1-3.7-3-1.5-4.2 3.7zM468.5 152.3l4.1-3.8-3-1.5-4.1 3.8zM478.8 163.4l4.1-3.9-3-1.4-4.1 3.9zM489.2 174.3l4.1-3.9-3-1.3-4.1 3.9zM493.2 179.4l4.1-3.9-3.1-1.4-4 4z"/>
<path color="#07bcbf" d="M496.9 89l4.2-3.7-3.1-1.5-4.1 3.7zM532.8 132.8l4.1-3.9-3-1.2-4.1 3.9z"/>
<path color="#327cfc" d="M443 116.2l4.1-3.6-3.1-1.7-4.1 3.7zM474.7 147l4.1-3.8-3.1-1.4-4.1 3.8zM485 158l4.1-3.8-3-1.4-4.1 3.9zM499.3 173.9l4.1-4-3-1.3-4.1 4zM503.3 178.9l4.1-4-3-1.3-4.1 4z"/>
<path color="#2d88f6" d="M451.4 112.1l4.2-3.6-3.1-1.6-4.1 3.6zM457.8 118.4l4.1-3.7-3-1.5-4.2 3.7zM464.1 124.6l4.1-3.7-3-1.5-4.1 3.7zM470.5 130.7l4.1-3.7-3.1-1.5-4.1 3.7zM480.8 141.8l4.1-3.8-3-1.4-4.1 3.8zM491.1 152.7l4.1-3.8-3-1.4-4.1 3.8zM495.1 157.7l4.1-3.9-3-1.3-4.1 3.9z"/>
<path color="#33c79c" d="M513.9 80.5l4.1-3.7-3-1.4-4.1 3.7zM525.9 95.1l4.1-3.8-3-1.3-4.1 3.8z"/>
<path color="#bac430" d="M550.9 60.5l4.2-3.7-3.1-1.3-4.1 3.7z"/>
<path color="#47cb87" d="M522.4 76.2l4.1-3.7-3-1.4-4.1 3.7zM526.4 81.1l4.1-3.8-3-1.3-4.1 3.7zM549.6 112.5l4.1-3.9-3-1.1-4.1 3.9zM555.2 121l4.1-3.9-3-1.2-4.1 4z"/>
<path color="#484ff2" d="M414.4 130.6l4.1-3.6-3-1.7-4.1 3.6zM423.1 138.2l4.1-3.7-3-1.6-4.1 3.6zM431.8 145.6l4.1-3.7-3-1.6-4.1 3.7zM446.8 159.2l4.1-3.8-3-1.5-4.1 3.7zM453.2 165.4l4.1-3.8-3-1.5-4.2 3.8zM459.5 171.5l4.1-3.8-3-1.5-4.1 3.8zM469.9 182.8l4-3.9-3-1.4-4.1 3.9z"/>
<path color="#d8be28" d="M559.4 56.1l4.1-3.8-3-1.2-4.1 3.7zM570.7 72.9l4.1-3.8-3-1.2-4.1 3.9zM577.9 85l4.1-3.9-3-1.1-4.1 3.9zM586.8 100.6l4.1-4-3-1-4.1 4z"/>
<path color="#475bfa" d="M422.9 126.7l4.1-3.7-3-1.6-4.1 3.6zM431.6 134.1l4.1-3.6-3-1.6-4.1 3.6zM446.6 147.8l4.1-3.7-3-1.6-4.1 3.7zM453 154l4.1-3.8-3-1.5-4.2 3.8zM459.3 160.1l4.1-3.8-3-1.4-4.1 3.7zM476 177.4l4.1-3.9-3-1.4-4.1 3.9zM486.3 188.4l4.1-3.9-3-1.4-4.1 4z"/>
<path color="#0fb2d4" d="M485.4 95.7l4.1-3.7-3-1.5-4.1 3.7zM527.6 145.7l4.1-3.9-3-1.3-4.1 4z"/>
<path color="#4368fe" d="M431.4 122.7l4.1-3.6-3-1.7-4.1 3.6zM440.1 130.1l4.1-3.7-3-1.6-4.1 3.7zM446.4 136.4l4.1-3.7-3-1.5-4.1 3.6zM465.5 154.9l4.1-3.8-3.1-1.5-4.1 3.8zM471.8 160.9l4.1-3.8-3-1.4-4.1 3.8zM482.1 172l4.1-3.9-3-1.4-4.1 3.9z"/>
<path color="#3875fe" d="M439.9 118.7l4.1-3.6-3-1.7-4.2 3.7z"/>
<path color="#8acb52" d="M539.4 67.5l4.1-3.7-3-1.4-4.1 3.8z"/>
<path color="#18bfb6" d="M502.4 87.3l4.1-3.7-3-1.4-4.2 3.6zM526.3 116.6l4.1-3.8-3-1.3-4.1 3.8zM539.9 134.7l4.1-3.9-3-1.2-4.1 3.9z"/>
<path color="#2c8ff1" d="M456.9 110.6l4.1-3.7-3.1-1.5-4.1 3.6zM463.2 116.8l4.1-3.7-3-1.5-4.1 3.7zM469.5 122.9l4.2-3.7-3.1-1.5-4.1 3.7zM490.2 145l4.1-3.8-3-1.4-4.1 3.8z"/>
<path color="#acc738" d="M547.9 63.1l4.1-3.7-3-1.3-4.1 3.7zM570.4 96.9l4.1-3.9-3-1.1-4.1 3.9zM577.6 108.9l4.1-4-3-1-4.1 4z"/>
<path color="#2ec4a5" d="M510.9 83l4.1-3.7-3.1-1.4-4.1 3.7zM514.8 88l4.2-3.8-3.1-1.3-4.1 3.7zM518.8 92.9l4.1-3.8-3-1.3-4.1 3.7zM522.8 97.7l4.1-3.8-3-1.3-4.1 3.8zM526.8 102.5l4.1-3.8-3-1.3-4.1 3.8zM546 129.3l4.1-4-3-1.2-4.1 4z"/>
<path color="#3dc990" d="M519.3 78.7l4.2-3.7-3.1-1.4-4.1 3.7zM527.3 88.5l4.1-3.8-3-1.3-4.1 3.7zM540.9 106.7l4.1-3.9-3-1.2-4.1 3.8z"/>
<path color="#484aee" d="M411.4 133.1l4.1-3.6-3.1-1.7-4.1 3.6zM422.4 141.7l4.1-3.7-3-1.6-4.1 3.6zM437.4 155.5l4.1-3.7-3-1.6-4.1 3.7z"/>
<path color="#ccc028" d="M556.4 58.7l4.1-3.8-3-1.3-4.2 3.8zM567.6 75.6l4.1-3.9-3-1.1-4.1 3.8zM582.1 99.6l4.1-4-3-1-4.1 3.9z"/>
<path color="#4756f7" d="M419.8 129.1l4.2-3.6-3.1-1.6-4.1 3.6zM428.5 136.6l4.1-3.6-3-1.6-4.1 3.6zM437.2 144l4.1-3.7-3-1.5-4.1 3.6zM468.9 174.9l4.1-3.8-3-1.5-4.1 3.9zM479.3 186.1l4.1-4-3.1-1.3-4.1 3.9z"/>
<path color="#17afda" d="M482.3 98.2l4.1-3.7-3-1.4-4.1 3.6zM492.7 109.3l4.1-3.7-3.1-1.5-4.1 3.7z"/>
<path color="#4562fc" d="M428.3 125.2l4.1-3.6-3-1.7-4.1 3.6zM437 132.6l4.1-3.7-3-1.6-4.1 3.7zM443.4 138.9l4.1-3.6-3.1-1.6-4.1 3.7zM462.4 157.5l4.1-3.8-3-1.4-4.1 3.7zM468.7 163.6l4.1-3.9-3-1.4-4.1 3.8zM479.1 174.7l4.1-3.9-3.1-1.4-4.1 3.9zM489.4 185.7l4.1-4-3-1.3-4.1 3.9z"/>
<path color="#03b7cc" d="M490.8 94l4.1-3.6-3-1.5-4.1 3.7zM517.1 124.6l4.1-3.9-3-1.3-4.1 3.9z"/>
<path color="#3e6fff" d="M436.8 121.2l4.1-3.6-3-1.7-4.1 3.6zM451.8 134.8l4.2-3.7-3.1-1.6-4.1 3.7zM458.2 141l4.1-3.8-3-1.5-4.1 3.7zM474.9 158.3l4.1-3.9-3.1-1.4-4.1 3.8zM485.2 169.3l4.1-3.9-3-1.4-4.1 3.9z"/>
<path color="#7acc5d" d="M536.3 70.1l4.1-3.8-3-1.3-4.1 3.7z"/>
<path color="#317dfc" d="M445.3 117.1l4.1-3.6-3-1.6-4.1 3.6zM470.7 141.9l4.1-3.8-3.1-1.4-4.1 3.7zM481 153l4.1-3.8-3-1.5-4.1 3.9zM491.3 163.9l4.1-3.9-3-1.4-4.1 3.9zM495.3 168.9l4.1-3.9-3-1.3-4.1 3.9z"/>
<path color="#2d89f5" d="M453.8 113.1l4.1-3.6-3-1.6-4.1 3.6zM460.1 119.3l4.1-3.6-3-1.6-4.1 3.7zM466.5 125.5l4.1-3.7-3-1.5-4.2 3.7zM487.1 147.7l4.1-3.8-3-1.4-4.1 3.8zM501.4 163.4l4.1-3.9-3-1.3-4.1 3.9zM505.4 168.4l4.1-4-3-1.2-4.1 3.9zM509.4 173.3l4.1-4-3-1.2-4.1 3.9z"/>
<path color="#9ec942" d="M544.8 65.7l4.1-3.8-3-1.3-4.1 3.7zM554.4 78.9l4.1-3.8-3-1.2-4.1 3.8zM560 87.4l4.1-3.9-3-1.1-4.1 3.8zM572.9 107.9l4.1-4-3-1.1-4.1 4z"/>
<path color="#27c2ac" d="M507.8 85.6l4.1-3.7-3-1.5-4.1 3.7zM527.7 109.9l4.1-3.8-3-1.3-4.1 3.8zM541.3 128l4.1-3.9-3-1.2-4.1 3.9zM547 136.6l4-4-3-1.1-4 3.9z"/>
<path color="#35c79a" d="M516.3 81.3l4.1-3.7-3-1.4-4.1 3.7zM520.3 86.2l4.1-3.7-3-1.4-4.2 3.7zM524.2 91l4.2-3.7-3.1-1.4-4.1 3.8zM537.9 109.3l4.1-3.8-3.1-1.3-4.1 3.9zM547.5 122.6l4.1-4-3-1.2-4.1 4zM553.1 131.1l4.1-4-3-1.1-4.1 3.9z"/>
<path color="#bfc32d" d="M553.3 61.2l4.1-3.7-3-1.3-4.1 3.7zM570.2 86.5l4.1-3.8-3-1.2-4.1 3.9zM577.4 98.6l4.1-4-3-1.1-4.1 4z"/>
<path color="#4744e8" d="M408.3 135.6l4.1-3.6-3-1.7-4.2 3.6zM417 143.2l4.1-3.6-3-1.7-4.2 3.6zM434.4 158l4.1-3.7-3.1-1.5-4.1 3.7z"/>
<path color="#4850f3" d="M416.8 131.6l4.1-3.6-3.1-1.6-4.1 3.5zM425.5 139.2l4.1-3.7-3.1-1.6-4.1 3.6zM434.2 146.6l4.1-3.7-3.1-1.6-4.1 3.7zM472.2 183.6l4.1-3.9-3-1.4-4.1 3.9z"/>
<path color="#4bcb83" d="M524.8 77l4.1-3.8-3-1.3-4.2 3.7z"/>
<path color="#475dfa" d="M425.3 127.7l4.1-3.7-3.1-1.6-4.1 3.6zM434 135.1l4.1-3.6-3.1-1.6-4.1 3.6zM449 148.7l4.1-3.7-3-1.6-4.1 3.7zM455.3 154.9l4.1-3.8-3-1.5-4.1 3.8z"/>
<path color="#dcbd29" d="M561.8 56.8l4.1-3.8-3-1.2-4.1 3.7zM567.4 65.2l4.1-3.8-3-1.2-4.1 3.8zM581.9 89.3l4.1-3.9-3-1.1-4.1 3.9z"/>
<path color="#0cb3d3" d="M487.7 96.6l4.2-3.7-3.1-1.5-4.1 3.7zM502.1 112.5l4.1-3.7-3.1-1.4-4.1 3.7zM518 132.1l4.1-3.9-3-1.3-4.1 3.9zM522 136.9l4.1-3.9-3-1.3-4.1 3.9z"/>
<path color="#4269fe" d="M433.7 123.7l4.2-3.7-3.1-1.6-4.1 3.6zM448.8 137.3l4.1-3.7-3-1.5-4.2 3.7zM455.1 143.5l4.1-3.7-3-1.5-4.1 3.7zM461.5 149.7l4.1-3.8-3.1-1.5-4.1 3.8zM478.1 166.9l4.1-3.9-3-1.4-4.1 3.9zM492.5 182.9l4-3.9-3-1.4-4.1 4z"/>
<path color="#3777fe" d="M442.2 119.6l4.2-3.6-3.1-1.6-4.1 3.6zM473.9 150.5l4.1-3.8-3-1.4-4.1 3.7zM484.3 161.5l4.1-3.8-3.1-1.4-4.1 3.8z"/>
<path color="#01bac4" d="M496.2 92.3l4.1-3.6-3-1.5-4.1 3.7zM500.2 97.4l4.1-3.7-3-1.4-4.1 3.7zM528.1 131.5l4.1-3.9-3-1.3-4.1 3.9zM532.1 136.2l4.1-3.9-3-1.3-4.1 4z"/>
<path color="#2e84f9" d="M450.7 115.6l4.1-3.6-3-1.6-4.1 3.6zM457.1 121.9l4.1-3.7-3.1-1.6-4.1 3.7zM463.4 128l4.1-3.7-3-1.5-4.1 3.7zM469.7 134.1l4.2-3.7-3.1-1.5-4.1 3.7zM480.1 145.2l4.1-3.8-3-1.4-4.1 3.8zM494.4 161.2l4.1-3.9-3-1.4-4.1 3.9z"/>
<path color="#1cc0b3" d="M504.7 88.1l4.1-3.7-3-1.4-4.1 3.7zM528.6 117.3l4.2-3.8-3.1-1.3-4.1 3.8z"/>
<path color="#2c90f0" d="M459.2 111.5l4.1-3.6-3-1.6-4.1 3.7zM465.6 117.7l4.1-3.7-3.1-1.5-4.1 3.7zM471.9 123.8l4.1-3.7-3-1.5-4.1 3.7zM482.2 134.9l4.1-3.8-3-1.4-4.1 3.8zM496.5 150.8l4.1-3.9-3-1.3-4.1 3.9zM500.5 155.8l4.1-3.9-3-1.3-4.1 3.8z"/>
<path color="#259be8" d="M467.7 107.4l4.1-3.6-3-1.6-4.1 3.7zM478 118.7l4.1-3.7-3-1.5-4.1 3.7zM484.4 124.6l4.1-3.7-3-1.4-4.2 3.7zM488.4 129.7l4.1-3.8-3.1-1.4-4.1 3.8zM502.7 145.5l4.1-3.9-3-1.3-4.1 3.8zM506.7 150.4l4.1-3.9-3.1-1.3-4.1 3.9zM510.7 155.3l4-4-3-1.2-4.1 3.9zM514.6 160.1l4.1-3.9-3-1.3-4.1 4zM518.6 165l4.1-4-3-1.2-4.1 3.9z"/>
<path color="#b2c635" d="M550.2 63.8l4.1-3.7-3-1.3-4.1 3.7z"/>
<path color="#473fe2" d="M405.2 138l4.1-3.6-3-1.6-4.1 3.5zM416.3 146.7l4.1-3.6-3.1-1.7-4.1 3.6zM425 154.2l4.1-3.7-3.1-1.6-4.1 3.7zM440 167.9l4.1-3.8-3-1.5-4.1 3.7z"/>
<path color="#484bef" d="M413.7 134.1l4.1-3.6-3-1.7-4.1 3.6zM439.8 156.4l4.1-3.7-3-1.6-4.2 3.7zM446.1 162.7l4.1-3.8-3-1.5-4.1 3.7zM452.5 168.9l4.1-3.8-3.1-1.5-4.1 3.8zM458.8 175l4.1-3.8-3-1.5-4.1 3.8zM465.1 181.1l4.1-3.8-3-1.5-4.1 3.9z"/>
<path color="#4757f7" d="M422.2 130.2l4.1-3.7-3-1.6-4.2 3.6zM430.9 137.6l4.1-3.6-3-1.6-4.2 3.6zM445.9 151.3l4.1-3.8-3-1.5-4.1 3.7zM452.3 157.5l4.1-3.8-3.1-1.5-4.1 3.8zM458.6 163.6l4.1-3.8-3-1.4-4.1 3.7zM464.9 169.7l4.1-3.8-3-1.5-4.1 3.9zM475.3 180.9l4.1-3.9-3.1-1.4-4.1 3.9z"/>
<path color="#d1bf27" d="M558.7 59.3l4.1-3.7-3-1.3-4.1 3.8zM570 76.2l4.1-3.9-3-1.1-4.1 3.8zM577.2 88.2l4.1-3.9-3-1.1-4.1 3.9z"/>
<path color="#15b0d8" d="M484.7 99.1l4.1-3.7-3-1.5-4.2 3.7zM495 110.1l4.1-3.7-3-1.5-4.1 3.8zM526.9 149.1l4.1-3.9-3-1.2-4.1 3.9z"/>
<path color="#4563fd" d="M430.7 126.2l4.1-3.7-3-1.6-4.2 3.6zM445.7 139.9l4.1-3.7-3-1.6-4.1 3.7zM452.1 146.1l4.1-3.7-3.1-1.5-4.1 3.7zM458.4 152.3l4.1-3.8-3-1.5-4.1 3.8zM464.7 158.4l4.1-3.8-3-1.5-4.1 3.8z"/>
<path color="#3d71ff" d="M439.2 122.2l4.1-3.7-3.1-1.6-4.1 3.6zM454.2 135.7l4.1-3.7-3-1.5-4.1 3.7zM460.5 141.9l4.2-3.8-3.1-1.5-4.1 3.7zM477.2 159.1l4.1-3.8-3-1.4-4.1 3.8zM491.5 175.1l4.1-3.9-3-1.3-4.1 3.9z"/>
<path color="#01b7ca" d="M493.2 94.9l4.1-3.7-3-1.5-4.2 3.7zM533 143.6l4.1-3.9-3-1.2-4.1 3.9z"/>
<path color="#2796eb" d="M464.6 109.9l4.1-3.6-3-1.6-4.1 3.7zM471 116.1l4.1-3.7-3-1.5-4.2 3.6zM491.6 138.2l4.1-3.8-3-1.4-4.1 3.8z"/>
<path color="#a3c83e" d="M547.2 66.4l4.1-3.8-3-1.3-4.2 3.8z"/>
<path color="#4639da" d="M402.1 140.5l4.2-3.6-3.1-1.7-4.1 3.6zM421.9 156.7l4.1-3.6-3-1.7-4.2 3.7zM436.9 170.5l4.1-3.8-3-1.5-4.1 3.7z"/>
<path color="#4745e9" d="M410.6 136.6l4.2-3.6-3.1-1.7-4.1 3.6zM419.3 144.2l4.1-3.7-3-1.6-4.1 3.6zM428 151.6l4.1-3.6-3-1.6-4.1 3.6zM436.7 159l4.1-3.7-3-1.6-4.1 3.7zM443.1 165.3l4.1-3.8-3.1-1.5-4.1 3.7zM449.4 171.5l4.1-3.8-3-1.5-4.1 3.8zM455.7 177.7l4.1-3.8-3-1.5-4.1 3.8z"/>
<path color="#4851f4" d="M419.1 132.6l4.1-3.6-3-1.6-4.1 3.6zM427.8 140.1l4.1-3.6-3-1.6-4.1 3.6z"/>
<path color="#c4c22b" d="M555.6 61.9l4.2-3.7-3.1-1.3-4.1 3.7zM566.9 78.8l4.1-3.8-3-1.2-4.1 3.9zM581.4 102.9l4.1-4-3-1.1-4.1 4z"/>
<path color="#1aacdd" d="M481.6 101.6l4.1-3.7-3-1.4-4.1 3.6zM487.9 107.6l4.2-3.7-3.1-1.5-4.1 3.7zM491.9 112.7l4.1-3.8-3-1.4-4.1 3.7zM502.3 123.5l4.1-3.8-3-1.4-4.2 3.8zM506.3 128.4l4.1-3.8-3.1-1.4-4.1 3.8zM510.2 133.3l4.1-3.9-3-1.3-4.1 3.9zM514.2 138.1l4.1-3.8-3-1.3-4.1 3.8zM518.2 143l4.1-3.9-3-1.3-4.1 3.9z"/>
<path color="#465efb" d="M427.6 128.7l4.1-3.7-3-1.6-4.1 3.6zM436.3 136.1l4.1-3.7-3-1.6-4.1 3.7zM451.3 149.6l4.1-3.7-3-1.6-4.1 3.8zM457.7 155.8l4.1-3.8-3-1.5-4.2 3.8zM474.3 173.1l4.1-3.9-3-1.4-4.1 3.8zM484.7 184.1l4.1-3.9-3-1.4-4.1 3.9z"/>
<path color="#426bfe" d="M436.1 124.7l4.1-3.7-3-1.6-4.1 3.6zM457.5 144.4l4.1-3.7-3-1.5-4.2 3.7z"/>
<path color="#09b4d1" d="M490.1 97.4l4.1-3.7-3-1.4-4.1 3.6zM508.4 118.2l4.1-3.8-3-1.3-4.1 3.8zM512.4 123.1l4.1-3.8-3-1.3-4.1 3.8zM516.4 128l4.1-3.9-3-1.3-4.1 3.8zM534 151.1l4.1-4-3-1.2-4.1 4z"/>
<path color="#e1bc2a" d="M564.1 57.4l4.1-3.7-3-1.3-4.1 3.8zM569.8 65.8l4.1-3.8-3-1.2-4.1 3.8zM584.3 89.8l4.1-3.9-3-1.1-4.1 4z"/>
<path color="#3578fd" d="M444.6 120.6l4.1-3.6-3-1.6-4.1 3.6zM490.6 167.4l4.1-3.9-3-1.4-4.1 3.9z"/>
<path color="#20c1b1" d="M507.1 88.9l4.1-3.7-3-1.4-4.2 3.7zM527 113.3l4.1-3.9-3-1.3-4.1 3.9z"/>
<path color="#94ca4a" d="M544.1 68.9l4.1-3.7-3-1.3-4.1 3.7z"/>
<path color="#4435d1" d="M399.1 143l4.1-3.6-3-1.7-4.2 3.6zM410.1 151.7l4.1-3.6-3-1.7-4.1 3.7zM427.5 166.7l4.1-3.7-3-1.6-4.1 3.7z"/>
<path color="#473fe3" d="M407.6 139.1l4.1-3.6-3.1-1.7-4.1 3.6zM433.6 161.5l4.2-3.7-3.1-1.5-4.1 3.7z"/>
<path color="#b7c532" d="M552.6 64.5l4.1-3.8-3-1.2-4.1 3.7zM569.5 89.8l4.1-3.9-3-1.1-4.1 3.9zM576.7 101.8l4.1-3.9-3-1.1-4.1 3.9z"/>
<path color="#484cef" d="M416.1 135.1l4.1-3.6-3.1-1.6-4.1 3.6zM424.7 142.7l4.2-3.7-3.1-1.6-4.1 3.6zM433.4 150.1l4.2-3.7-3.1-1.6-4.1 3.7z"/>
<path color="#4758f8" d="M424.5 131.2l4.2-3.7-3.1-1.6-4.1 3.6zM433.2 138.6l4.1-3.7-3-1.6-4.1 3.7zM448.3 152.2l4.1-3.8-3.1-1.5-4.1 3.7zM454.6 158.4l4.1-3.8-3-1.5-4.1 3.8zM471.3 175.7l4.1-3.8-3-1.4-4.1 3.8zM481.6 186.9l4.1-4-3-1.3-4.1 3.9z"/>
<path color="#13b1d7" d="M487 100l4.1-3.7-3-1.5-4.1 3.7zM501.3 115.9l4.2-3.8-3.1-1.3-4.1 3.7zM521.3 140.3l4.1-3.9-3-1.3-4.1 3.9z"/>
<path color="#4465fd" d="M433 127.2l4.1-3.7-3-1.6-4.1 3.6zM441.7 134.5l4.1-3.7-3-1.5-4.1 3.6zM448.1 140.8l4.1-3.7-3.1-1.5-4.1 3.6zM460.7 153.2l4.2-3.8-3.1-1.5-4.1 3.8zM467.1 159.2l4.1-3.8-3-1.4-4.1 3.8zM477.4 170.4l4.1-3.9-3-1.4-4.1 3.9zM487.7 181.4l4.1-4-3-1.3-4.1 3.9z"/>
<path color="#d5be27" d="M561.1 60l4.1-3.7-3-1.3-4.1 3.8zM566.7 68.5l4.1-3.8-3-1.2-4.1 3.8zM581.2 92.6l4.1-4-3-1-4.1 3.9z"/>
<path color="#00b8c9" d="M495.5 95.7l4.1-3.7-3-1.4-4.1 3.7z"/>
<path color="#2f80fb" d="M450 119.1l4.1-3.7-3-1.6-4.1 3.7zM469 137.6l4.1-3.8-3-1.4-4.1 3.7zM489.7 159.6l4.1-3.8-3-1.4-4.1 3.9z"/>
<path color="#13beb9" d="M504 91.5l4.1-3.7-3-1.5-4.1 3.7z"/>
<path color="#85cb55" d="M541 71.5l4.1-3.7-3-1.3-4.1 3.7zM550.6 84.8l4.1-3.8-3-1.2-4.1 3.8zM561.9 101.7l4.1-3.9-3-1.1-4.1 3.9z"/>
<path color="#4331c6" d="M396 145.5l4.1-3.6-3-1.7-4.1 3.6zM407.1 154.2l4.1-3.6-3.1-1.7-4.1 3.7z"/>
<path color="#2cc3a7" d="M512.5 87.2l4.1-3.7-3-1.4-4.1 3.7z"/>
<path color="#463adc" d="M404.5 141.6l4.1-3.6-3-1.7-4.1 3.6zM424.2 157.7l4.1-3.7-3-1.6-4.1 3.7zM439.3 171.4l4.1-3.8-3.1-1.5-4.1 3.7z"/>
<path color="#a9c73b" d="M549.5 67.1l4.1-3.8-3-1.3-4.1 3.8z"/>
<path color="#4746ea" d="M413 137.6l4.1-3.6-3-1.7-4.2 3.7zM421.7 145.2l4.1-3.7-3-1.6-4.2 3.6zM430.4 152.6l4.1-3.7-3.1-1.6-4.1 3.7zM445.4 166.2l4.1-3.8-3-1.5-4.1 3.7zM451.7 172.4l4.2-3.8-3.1-1.5-4.1 3.8zM458.1 178.5l4.1-3.8-3-1.4-4.1 3.8z"/>
<path color="#4852f4" d="M421.5 133.7l4.1-3.7-3-1.6-4.2 3.6zM430.2 141.1l4.1-3.6-3.1-1.6-4.1 3.6zM436.5 147.5l4.1-3.7-3-1.5-4.1 3.6zM451.5 161l4.1-3.8-3-1.5-4.1 3.8zM457.9 167.1l4.1-3.8-3-1.4-4.1 3.7zM468.2 178.4l4.1-3.8-3-1.5-4.1 3.9zM474.6 184.4l4.1-3.9-3.1-1.4-4.1 3.9z"/>
<path color="#3ac994" d="M521 82.8l4.1-3.7-3-1.3-4.1 3.7zM525 87.7l4.1-3.7-3-1.4-4.2 3.8zM548.2 119.2l4.1-3.9-3-1.2-4.1 3.9zM553.8 127.7l4.1-4-3-1.1-4.1 4z"/>
<path color="#19addc" d="M484 102.5l4.1-3.7-3.1-1.5-4.1 3.7zM494.3 113.5l4.1-3.7-3-1.5-4.1 3.8zM526.2 152.6l4.1-4-3-1.2-4.1 3.9z"/>
<path color="#c9c129" d="M558 62.6l4.1-3.8-3-1.2-4.1 3.7zM563.6 71.1l4.1-3.8-3-1.2-4.1 3.8z"/>
<path color="#465ffb" d="M430 129.7l4.1-3.7-3.1-1.6-4.1 3.6zM438.7 137l4.1-3.6-3.1-1.6-4.1 3.6zM445 143.4l4.1-3.7-3-1.6-4.1 3.7zM464 161.9l4.1-3.8-3-1.5-4.1 3.8zM470.4 167.9l4.1-3.8-3.1-1.5-4.1 3.9zM480.7 179l4.1-3.9-3-1.4-4.1 3.9zM491 190l4.1-4-3-1.3-4.1 3.9z"/>
<path color="#06b5cf" d="M492.4 98.3l4.2-3.7-3.1-1.5-4.1 3.7zM532.3 147l4.1-3.9-3-1.2-4.1 3.9z"/>
<path color="#347afd" d="M446.9 121.6l4.2-3.7-3.1-1.6-4.1 3.7zM472.3 146.2l4.1-3.8-3-1.4-4.1 3.7zM482.6 157.2l4.1-3.8-3-1.4-4.1 3.8zM497 173.1l4-3.9-3-1.3-4.1 3.9zM500.9 178.1l4.1-3.9-3-1.3-4.1 3.9z"/>
<path color="#e5bb2c" d="M566.5 58.1l4.1-3.8-3-1.2-4.1 3.8zM572.1 66.5l4.1-3.9-3-1.1-4.1 3.8zM579.4 78.5l4.1-3.9-3-1.1-4.1 3.9zM588.3 94.1l4.1-4-3-1-4.1 4z"/>
<path color="#2e86f7" d="M455.4 117.5l4.1-3.7-3-1.5-4.1 3.6zM461.8 123.7l4.1-3.7-3.1-1.5-4.1 3.7zM478.4 141l4.1-3.8-3-1.4-4.1 3.7zM488.8 151.9l4.1-3.8-3.1-1.4-4.1 3.8zM492.8 156.9l4.1-3.8-3.1-1.4-4.1 3.9z"/>
<path color="#412cbb" d="M392.9 148l4.2-3.6-3.1-1.7-4.1 3.5zM404 156.8l4.1-3.7-3-1.7-4.2 3.7z"/>
<path color="#2a92ee" d="M463.9 113.4l4.1-3.7-3-1.5-4.1 3.6zM480.6 130.7l4.1-3.8-3-1.4-4.1 3.7zM494.9 146.6l4.1-3.8-3-1.4-4.1 3.8z"/>
<path color="#23c1af" d="M509.4 89.7l4.1-3.7-3-1.4-4.1 3.7zM513.4 94.7l4.1-3.8-3-1.3-4.1 3.7zM517.4 99.6l4.1-3.8-3-1.4-4.1 3.8zM521.4 104.4l4.1-3.8-3-1.3-4.1 3.8zM525.4 109.2l4.1-3.8-3-1.3-4.1 3.8z"/>
<path color="#4535d2" d="M401.4 144.1l4.1-3.6-3-1.7-4.1 3.6z"/>
<path color="#9ac945" d="M546.4 69.7l4.2-3.8-3.1-1.3-4.1 3.8z"/>
<path color="#4740e4" d="M409.9 140.1l4.1-3.6-3-1.7-4.1 3.6zM418.6 147.7l4.1-3.6-3-1.7-4.1 3.7zM427.3 155.2l4.1-3.7-3-1.6-4.1 3.7zM442.3 168.8l4.1-3.8-3-1.5-4.1 3.7zM448.7 175l4.1-3.8-3-1.5-4.2 3.8z"/>
<path color="#33c79d" d="M517.9 85.4l4.1-3.7-3-1.4-4.1 3.7zM521.9 90.3l4.1-3.8-3-1.3-4.1 3.7zM539.5 113.3l4.1-3.9-3-1.2-4.1 3.9z"/>
<path color="#484df0" d="M418.4 136.2l4.1-3.7-3-1.6-4.1 3.6zM427.1 143.6l4.1-3.6-3-1.6-4.1 3.6zM435.8 151l4.1-3.7-3-1.6-4.1 3.7zM442.1 157.3l4.1-3.7-3-1.5-4.1 3.7zM467.5 182l4.1-3.9-3-1.4-4.1 3.8z"/>
<path color="#bcc42f" d="M554.9 65.2l4.1-3.8-3-1.2-4.1 3.7zM566.2 82.1l4.1-3.9-3-1.1-4.1 3.8zM580.7 106.2l4.1-4-3-1.1-4.1 4z"/>
<path color="#4759f8" d="M426.9 132.2l4.1-3.7-3-1.6-4.1 3.6zM441.9 145.9l4.1-3.7-3-1.5-4.1 3.6zM461 164.5l4.1-3.8-3.1-1.5-4.1 3.8zM467.3 170.6l4.1-3.9-3-1.4-4.1 3.8zM477.6 181.7l4.1-3.9-3-1.4-4.1 3.9z"/>
<path color="#10b2d5" d="M489.4 100.8l4.1-3.7-3-1.4-4.1 3.6zM503.7 116.7l4.1-3.8-3-1.4-4.1 3.8zM507.7 121.6l4.1-3.8-3-1.3-4.1 3.8zM511.7 126.5l4.1-3.8-3-1.4-4.1 3.9zM515.7 131.3l4.1-3.8-3.1-1.3-4.1 3.8zM519.7 136.2l4-3.9-3-1.3-4.1 3.9z"/>
<path color="#dabd28" d="M563.4 60.7l4.1-3.8-3-1.2-4.1 3.7zM569 69.1l4.1-3.8-3-1.2-4.1 3.8zM576.3 81.2l4.1-3.9-3-1.1-4.1 3.9zM583.6 93.1l4.1-4-3-1-4.1 3.9z"/>
<path color="#3a73ff" d="M443.9 124.1l4.1-3.7-3-1.6-4.2 3.7zM469.2 148.8l4.1-3.8-3-1.4-4.1 3.7zM489.9 170.8l4.1-3.9-3-1.3-4.1 3.9z"/>
<path color="#67cd6d" d="M534.9 76.7l4.1-3.8-3-1.3-4.1 3.7z"/>
<path color="#3f28af" d="M389.9 150.5l4.1-3.6-3.1-1.8-4.1 3.6z"/>
<path color="#17bfb6" d="M506.4 92.3l4.1-3.7-3.1-1.4-4.1 3.7z"/>
<path color="#4331c7" d="M398.4 146.5l4.1-3.6-3.1-1.7-4.1 3.6zM418.1 162.8l4.1-3.7-3-1.6-4.1 3.7z"/>
<path color="#463bdd" d="M406.9 142.6l4.1-3.6-3.1-1.7-4.1 3.6zM432.9 165.1l4.1-3.8-3-1.5-4.1 3.7z"/>
<path color="#4747eb" d="M415.3 138.7l4.2-3.7-3.1-1.6-4.1 3.6zM424 146.2l4.1-3.7-3-1.6-4.1 3.6zM439.1 159.9l4.1-3.7-3.1-1.6-4.1 3.7z"/>
<path color="#aec637" d="M551.9 67.8l4.1-3.8-3-1.3-4.1 3.8zM568.7 93.1l4.1-3.9-3-1.2-4.1 3.9zM576 105.1l4.1-4-3-1-4.1 3.9z"/>
<path color="#4854f5" d="M423.8 134.7l4.1-3.7-3-1.6-4.1 3.6zM432.5 142.1l4.1-3.7-3-1.6-4.1 3.7zM447.6 155.7l4.1-3.8-3.1-1.5-4.1 3.7zM453.9 161.9l4.1-3.8-3-1.5-4.1 3.8zM460.2 168l4.1-3.8-3-1.5-4.1 3.8zM476.9 185.3l4.1-4-3-1.3-4.1 3.9z"/>
<path color="#18aedb" d="M486.3 103.4l4.1-3.7-3-1.5-4.1 3.7zM500.6 119.3l4.1-3.8-3-1.4-4.1 3.8zM504.6 124.2l4.1-3.8-3-1.3-4.1 3.8zM508.6 129.1l4.1-3.8-3-1.3-4.1 3.8zM512.6 134l4.1-3.8-3-1.3-4.1 3.8zM516.6 138.9l4.1-3.9-3-1.3-4.1 3.9zM520.6 143.7l4.1-3.9-3-1.3-4.1 3.9z"/>
<path color="#cec027" d="M560.3 63.3l4.2-3.8-3-1.2-4.2 3.7zM566 71.7l4.1-3.8-3-1.2-4.1 3.8z"/>
<path color="#337bfc" d="M449.3 122.5l4.1-3.6-3-1.6-4.1 3.6zM468.3 141l4.1-3.7-3-1.5-4.1 3.7z"/>
<path color="#e9bb2f" d="M568.8 58.7l4.1-3.7-3-1.3-4.1 3.8zM583.4 82.8l4.1-3.9-3-1.1-4.1 3.9z"/>
<path color="#412dbc" d="M395.3 149l4.1-3.6-3-1.7-4.2 3.6z"/>
<path color="#4536d4" d="M403.8 145.1l4.1-3.6-3-1.7-4.2 3.6z"/>
<path color="#4741e5" d="M412.3 141.1l4.1-3.6-3.1-1.6-4.1 3.6zM421 148.7l4.1-3.7-3.1-1.6-4.1 3.7zM429.7 156.1l4.1-3.7-3.1-1.6-4.1 3.7zM436 162.5l4.1-3.7-3-1.6-4.1 3.7zM451 175.9l4.1-3.8-3-1.5-4.1 3.8z"/>
<path color="#9fc941" d="M548.8 70.4l4.1-3.8-3-1.3-4.1 3.8z"/>
<path color="#484ef1" d="M420.8 137.2l4.1-3.7-3.1-1.6-4.1 3.6zM429.5 144.6l4.1-3.6-3.1-1.6-4.1 3.6zM438.1 152l4.2-3.7-3.1-1.6-4.1 3.7zM444.5 158.2l4.1-3.7-3-1.5-4.1 3.7zM450.8 164.5l4.1-3.8-3-1.5-4.1 3.8zM457.2 170.6l4.1-3.8-3.1-1.4-4.1 3.8zM463.5 176.7l4.1-3.8-3-1.4-4.1 3.8z"/>
<path color="#1caadf" d="M483.2 105.9l4.2-3.7-3.1-1.5-4.1 3.7zM493.6 116.9l4.1-3.8-3-1.4-4.2 3.8z"/>
<path color="#3975fe" d="M446.2 125l4.1-3.6-3-1.6-4.1 3.6zM471.6 149.6l4.1-3.7-3-1.5-4.1 3.8zM481.9 160.7l4.1-3.8-3-1.4-4.1 3.8zM496.2 176.6l4.1-3.9-3-1.3-4.1 3.9z"/>
<path color="#debc29" d="M565.8 61.3l4.1-3.8-3-1.2-4.1 3.8z"/>
<path color="#2f82f9" d="M454.7 120.9l4.1-3.6-3-1.6-4.1 3.7zM461.1 127.1l4.1-3.7-3.1-1.5-4.1 3.7zM467.4 133.2l4.1-3.7-3-1.5-4.1 3.8zM488.1 155.4l4.1-3.9-3.1-1.3-4.1 3.8z"/>
<path color="#3f29b1" d="M392.2 151.5l4.1-3.6-3-1.7-4.1 3.6z"/>
<path color="#4332c9" d="M400.7 147.6l4.1-3.6-3-1.7-4.1 3.6z"/>
<path color="#463cde" d="M409.2 143.6l4.1-3.6-3-1.6-4.1 3.6zM417.9 151.2l4.1-3.6-3-1.7-4.1 3.7zM426.6 158.7l4.1-3.7-3-1.6-4.1 3.7zM441.6 172.3l4.1-3.8-3-1.5-4.1 3.8z"/>
<path color="#4848ec" d="M417.7 139.7l4.1-3.7-3-1.6-4.1 3.6zM426.4 147.2l4.1-3.7-3-1.6-4.2 3.6zM441.4 160.8l4.1-3.7-3-1.5-4.1 3.7zM447.8 167.1l4.1-3.8-3.1-1.5-4.1 3.8zM454.1 173.3l4.1-3.8-3-1.5-4.1 3.8zM460.4 179.4l4.1-3.8-3-1.5-4.1 3.8z"/>
<path color="#20a5e2" d="M480.2 108.4l4.1-3.7-3-1.4-4.2 3.6zM490.5 119.5l4.1-3.8-3-1.4-4.1 3.7z"/>
<path color="#b3c534" d="M554.2 68.5l4.1-3.8-3-1.3-4.1 3.8zM559.8 77l4.1-3.9-3-1.2-4.1 3.8zM565.5 85.4l4.1-3.9-3-1.2-4.1 3.9zM572.7 97.5l4.1-4-3-1.1-4.1 4zM580 109.4l4.1-4-3-1-4.1 4z"/>
<path color="#16afd9" d="M488.7 104.2l4.1-3.7-3.1-1.4-4.1 3.6zM503 120.1l4.1-3.8-3-1.4-4.1 3.8zM507 125l4.1-3.8-3-1.4-4.1 3.8zM511 129.9l4.1-3.9-3.1-1.3-4.1 3.9zM514.9 134.7l4.1-3.8-3-1.3-4.1 3.8zM518.9 139.6l4.1-3.9-3-1.3-4.1 3.9z"/>
<path color="#317cfc" d="M451.6 123.5l4.2-3.7-3.1-1.6-4.1 3.7zM458 129.7l4.1-3.7-3-1.5-4.1 3.6zM464.3 135.8l4.1-3.7-3-1.5-4.1 3.7z"/>
<path color="#412ebe" d="M397.6 150.1l4.2-3.6-3.1-1.7-4.1 3.6z"/>
<path color="#0ebdbb" d="M505.6 95.6l4.1-3.7-3-1.4-4.1 3.7zM525.6 120l4.1-3.9-3-1.3-4.1 3.9z"/>
<path color="#edba33" d="M571.2 59.4l4.1-3.8-3-1.2-4.1 3.8zM585.7 83.4l4.1-4-3-1-4.1 3.9z"/>
<path color="#81cc58" d="M542.7 75.5l4.1-3.7-3-1.3-4.2 3.7zM557.9 97.2l4.1-3.8-3-1.2-4.1 3.9zM570.8 117.8l4.1-4-3-1.1-4.1 4z"/>
<path color="#4537d6" d="M406.1 146.1l4.2-3.6-3.1-1.7-4.1 3.7z"/>
<path color="#4742e7" d="M414.6 142.2l4.1-3.7-3-1.6-4.1 3.6z"/>
<path color="#a5c83d" d="M551.1 71l4.2-3.7-3.1-1.3-4.1 3.8zM568 96.3l4.1-3.9-3-1.1-4.1 3.9zM575.3 108.4l4.1-4-3-1.1-4.1 4z"/>
<path color="#1babde" d="M485.6 106.8l4.1-3.7-3-1.5-4.1 3.7zM495.9 117.7l4.1-3.8-3-1.4-4.1 3.8zM499.9 122.7l4.1-3.8-3-1.4-4.1 3.8zM503.9 127.6l4.1-3.8-3-1.3-4.1 3.8zM507.9 132.5l4.1-3.8-3-1.3-4.1 3.8zM511.9 137.4l4.1-3.8-3-1.3-4.1 3.8zM515.9 142.3l4.1-3.9-3-1.3-4.1 3.9zM519.9 147.1l4.1-3.9-3.1-1.3-4.1 3.9zM523.8 151.9l4.1-4-3-1.2-4.1 3.9zM527.8 156.7l4.1-4-3-1.2-4.1 3.9z"/>
<path color="#3776fe" d="M448.6 126l4.1-3.7-3-1.5-4.2 3.6zM467.6 144.5l4.1-3.8-3-1.4-4.1 3.7zM488.3 166.6l4.1-3.9-3.1-1.4-4.1 3.9z"/>
<path color="#e3bc2b" d="M568.1 62l4.1-3.8-3-1.2-4.1 3.8z"/>
<path color="#02bbc2" d="M502.6 98.2l4.1-3.7-3-1.4-4.2 3.7z"/>
<path color="#402ab3" d="M394.6 152.6l4.1-3.6-3-1.7-4.2 3.6z"/>
<path color="#4433cb" d="M403.1 148.6l4.1-3.6-3.1-1.7-4.1 3.6z"/>
<path color="#463de0" d="M411.6 144.7l4.1-3.7-3.1-1.6-4.1 3.6zM428.9 159.6l4.2-3.7-3.1-1.5-4.1 3.6zM437.6 166.9l4.1-3.7-3-1.5-4.1 3.7zM444 173.2l4.1-3.8-3.1-1.5-4.1 3.8z"/>
<path color="#96ca48" d="M548.1 73.6l4.1-3.7-3-1.3-4.1 3.8z"/>
<path color="#4849ed" d="M420 140.7l4.2-3.7-3.1-1.6-4.1 3.6zM428.7 148.1l4.1-3.6-3-1.6-4.1 3.6zM435.1 154.5l4.1-3.7-3-1.6-4.2 3.7zM443.8 161.8l4.1-3.8-3.1-1.5-4.1 3.7zM450.1 168l4.1-3.8-3-1.5-4.1 3.8zM456.5 174.1l4.1-3.8-3.1-1.4-4.1 3.8zM462.8 180.3l4.1-3.9-3-1.4-4.1 3.8z"/>
<path color="#31c6a0" d="M519.5 89.5l4.2-3.7-3.1-1.4-4.1 3.8zM537.1 112.7l4.1-3.9-3-1.2-4.1 3.8zM552.4 134.4l4.1-4-3-1.1-4.1 4z"/>
<path color="#14b0d8" d="M491 105l4.1-3.7-3-1.4-4.1 3.7zM530.9 153.9l4.1-4-3-1.2-4.1 4z"/>
<path color="#3e70ff" d="M445.5 128.5l4.1-3.7-3-1.5-4.1 3.6zM464.5 147.1l4.1-3.8-3-1.5-4.1 3.8zM495.5 180.2l4.1-4-3-1.3-4.1 3.9z"/>
<path color="#d7be28" d="M565.1 64.6l4.1-3.8-3-1.2-4.2 3.8z"/>
<path color="#63cd70" d="M536.5 80.7l4.1-3.8-3-1.3-4.1 3.8z"/>
<path color="#422fc0" d="M400 151.1l4.1-3.6-3-1.7-4.1 3.6z"/>
<path color="#4538d7" d="M408.5 147.2l4.1-3.6-3-1.7-4.2 3.6zM425.9 162.2l4.1-3.7-3.1-1.6-4.1 3.7z"/>
<path color="#f1ba37" d="M573.5 60l4.1-3.8-3-1.2-4.1 3.8zM580.8 72l4.1-3.8-3-1.1-4.1 3.8zM589.7 87.6l4.1-3.9-3-1.1-4.1 4z"/>
<path color="#87cb54" d="M545 76.2l4.1-3.7-3-1.3-4.1 3.7z"/>
<path color="#426afe" d="M442.4 131l4.2-3.6-3.1-1.6-4.1 3.6zM467.8 155.7l4.1-3.7-3-1.5-4.1 3.8zM474.1 161.7l4.1-3.8-3-1.4-4.1 3.8zM484.5 172.8l4.1-3.9-3-1.4-4.1 3.9zM488.5 177.9l4.1-4-3.1-1.3-4.1 3.9z"/>
<path color="#cbc028" d="M562 67.2l4.1-3.8-3-1.2-4.1 3.8z"/>
<path color="#3678fe" d="M450.9 126.9l4.1-3.6-3-1.6-4.1 3.7zM463.6 139.3l4.1-3.8-3-1.4-4.1 3.7zM494.6 172.4l4.1-3.9-3-1.4-4.1 3.9z"/>
<path color="#402ab5" d="M396.9 153.6l4.1-3.6-3-1.7-4.1 3.6z"/>
<path color="#4433cd" d="M405.4 149.7l4.1-3.6-3-1.7-4.1 3.6z"/>
<path color="#e7bb2e" d="M570.5 62.6l4.1-3.8-3-1.2-4.1 3.8zM585 86.6l4.1-3.9-3-1.1-4.1 3.9z"/>
<path color="#77cc60" d="M541.9 78.8l4.2-3.7-3.1-1.3-4.1 3.7z"/>
<path color="#473ee1" d="M413.9 145.7l4.1-3.6-3-1.7-4.1 3.6zM431.3 160.6l4.1-3.7-3-1.6-4.1 3.7z"/>
<path color="#9cc944" d="M550.4 74.3l4.1-3.8-3-1.2-4.1 3.8zM567.3 99.6l4.1-3.9-3-1.1-4.1 3.9zM574.6 111.7l4.1-4-3-1.1-4.1 4z"/>
<path color="#1ea8e1" d="M484.9 110.2l4.1-3.7-3-1.5-4.1 3.7zM499.2 126.1l4.1-3.8-3-1.4-4.1 3.8zM523.1 155.3l4.1-3.9-3-1.3-4.1 4z"/>
<path color="#4564fd" d="M439.4 133.6l4.1-3.7-3.1-1.6-4.1 3.7zM471.1 164.4l4.1-3.8-3-1.5-4.1 3.9zM481.4 175.5l4.1-3.9-3-1.4-4.1 3.9zM491.7 186.4l4.1-3.9-3-1.3-4.1 3.9z"/>
<path color="#3c71ff" d="M447.9 129.4l4.1-3.6-3.1-1.6-4.1 3.7zM466.9 147.9l4.1-3.7-3-1.5-4.1 3.8zM487.5 170.1l4.1-3.9-3-1.4-4.1 3.9z"/>
<path color="#2f7ffb" d="M456.3 125.3l4.2-3.7-3.1-1.5-4.1 3.7zM462.7 131.5l4.1-3.7-3-1.5-4.1 3.7zM479.4 148.7l4.1-3.8-3.1-1.4-4.1 3.8z"/>
<path color="#422fc2" d="M402.4 152.2l4.1-3.6-3.1-1.7-4.1 3.6z"/>
<path color="#68cd6c" d="M538.9 81.4l4.1-3.8-3-1.2-4.1 3.7zM548.5 94.7l4.1-3.8-3-1.2-4.1 3.8z"/>
<path color="#4639d9" d="M410.8 148.2l4.2-3.6-3.1-1.7-4.1 3.6zM428.2 163.2l4.1-3.7-3-1.6-4.1 3.7z"/>
<path color="#17bfb7" d="M510.3 97.2l4.2-3.7-3.1-1.4-4.1 3.7zM522.3 111.8l4.1-3.8-3-1.3-4.1 3.8z"/>
<path color="#8dcb50" d="M547.4 76.9l4.1-3.8-3-1.2-4.1 3.7z"/>
<path color="#f5ba3b" d="M575.9 60.6l4.1-3.8-3-1.2-4.1 3.8zM583.2 72.6l4.1-3.9-3-1.1-4.1 3.9zM592.1 88.1l4-4-2.9-1-4.1 4z"/>
<path color="#21a3e3" d="M481.8 112.7l4.1-3.7-3-1.5-4.1 3.7zM492.1 123.7l4.1-3.8-3-1.4-4.1 3.8z"/>
<path color="#416bfe" d="M444.8 132l4.1-3.7-3-1.6-4.1 3.7zM451.1 138.2l4.1-3.7-3-1.5-4.1 3.7zM463.8 150.5l4.1-3.7-3-1.5-4.1 3.8zM470.2 156.6l4.1-3.8-3.1-1.4-4.1 3.7zM480.5 167.7l4.1-3.9-3-1.4-4.1 3.9zM494.8 183.7l4.1-4-3-1.3-4.1 3.9z"/>
<path color="#04b6ce" d="M498.8 104.1l4.1-3.7-3-1.4-4.1 3.7zM526.7 138.2l4.1-3.9-3-1.2-4.1 3.9z"/>
<path color="#d0bf27" d="M564.3 67.8l4.1-3.8-3-1.2-4.1 3.8zM586.1 103.9l4.1-4-3-1-4.1 4z"/>
<path color="#5acc78" d="M535.8 84l4.1-3.8-3-1.3-4.1 3.8zM545.4 97.4l4.1-3.9-3-1.2-4.1 3.8z"/>
<path color="#402bb7" d="M399.3 154.7l4.1-3.6-3-1.7-4.2 3.6z"/>
<path color="#4434cf" d="M407.8 150.7l4.1-3.6-3.1-1.7-4.1 3.6z"/>
<path color="#ebba31" d="M572.8 63.2l4.1-3.8-3-1.2-4.1 3.8zM580.1 75.3l4.1-3.9-3-1.1-4.1 3.8zM589 90.9l4.1-4-3-1-4.1 3.9z"/>
<path color="#7dcc5b" d="M544.3 79.5l4.1-3.8-3-1.2-4.1 3.7z"/>
<path color="#1da9e0" d="M487.2 111l4.1-3.7-3-1.5-4.1 3.7zM505.5 131.8l4.1-3.8-3-1.4-4.1 3.8zM509.5 136.7l4.1-3.9-3-1.3-4.1 3.9zM513.5 141.6l4.1-3.9-3-1.3-4.1 3.9z"/>
<path color="#0eb2d4" d="M495.7 106.7l4.1-3.7-3-1.4-4.1 3.7z"/>
<path color="#c3c22b" d="M561.3 70.4l4.1-3.8-3-1.2-4.1 3.8zM574.2 90.9l4.1-3.9-3-1.1-4.1 3.9z"/>
<path color="#4230c4" d="M404.7 153.2l4.1-3.6-3-1.7-4.1 3.6z"/>
<path color="#463adb" d="M413.2 149.2l4.1-3.6-3-1.7-4.1 3.7zM430.6 164.1l4.1-3.7-3-1.6-4.2 3.7z"/>
<path color="#92ca4b" d="M549.7 77.6l4.1-3.8-3-1.2-4.1 3.7zM573.9 115l4-4-3-1.1-4 4z"/>
<path color="#f8ba3d" d="M578.2 61.2l4.1-3.8-2.9-1.2-4.2 3.8zM587.1 76.9l4.1-3.9-3-1.1-4.1 3.9z"/>
<path color="#20a4e3" d="M484.2 113.6l4.1-3.7-3.1-1.5-4.1 3.7zM498.5 129.5l4.1-3.8-3-1.4-4.1 3.8zM502.5 134.4l4.1-3.8-3-1.3-4.1 3.8zM506.5 139.4l4.1-3.9-3.1-1.3-4.1 3.8zM510.4 144.2l4.1-3.8-3-1.3-4.1 3.8zM514.4 149.1l4.1-3.9-3-1.3-4.1 3.9zM518.4 153.9l4.1-3.9-3-1.3-4.1 4zM522.4 158.8l4.1-4-3-1.2-4.1 3.9z"/>
<path color="#406cfe" d="M447.1 132.9l4.2-3.7-3.1-1.5-4.1 3.6zM453.5 139.2l4.1-3.7-3-1.6-4.1 3.7zM459.8 145.3l4.1-3.7-3-1.5-4.1 3.7zM486.8 173.6l4.1-3.9-3-1.4-4.1 3.9z"/>
<path color="#b6c532" d="M558.2 73.1l4.1-3.8-3-1.3-4.1 3.8zM563.8 81.5l4.1-3.9-3-1.1-4.1 3.8z"/>
<path color="#337bfd" d="M455.6 128.8l4.1-3.7-3-1.6-4.1 3.7zM462 134.9l4.1-3.7-3-1.5-4.2 3.7zM478.6 152.1l4.1-3.8-3-1.4-4.1 3.8zM493 168.1l4.1-3.9-3.1-1.3-4.1 3.9z"/>
<path color="#412cb9" d="M401.6 155.7l4.2-3.6-3.1-1.7-4.1 3.6z"/>
<path color="#5fcd73" d="M538.2 84.7l4.1-3.8-3-1.2-4.2 3.7zM547.8 98l4.1-3.8-3-1.2-4.1 3.8zM564.6 123.3l4.1-4-3-1.1-4 4z"/>
<path color="#0dbdbc" d="M509.6 100.6l4.1-3.7-3-1.4-4.1 3.7zM513.6 105.5l4.1-3.8-3-1.3-4.1 3.7zM517.6 110.4l4.1-3.8-3-1.4-4.1 3.8zM521.6 115.2l4.1-3.8-3-1.3-4.1 3.8z"/>
<path color="#83cc57" d="M546.6 80.2l4.2-3.8-3.1-1.2-4.1 3.7z"/>
<path color="#efba35" d="M575.2 63.8l4.1-3.8-3-1.2-4.1 3.9zM582.4 75.8l4.1-3.9-3-1.1-4.1 3.9zM593 95.1l4.1-4-3-1-4.1 4z"/>
<path color="#4759f9" d="M435.6 139.6l4.1-3.7-3-1.6-4.1 3.7zM484 187.7l4.1-4-3.1-1.3-4.1 3.9z"/>
<path color="#0bb3d2" d="M498.1 107.5l4.1-3.7-3-1.4-4.2 3.7zM526 141.6l4.1-3.9-3-1.2-4.1 3.9z"/>
<path color="#51cc7f" d="M535.1 87.3l4.1-3.8-3-1.3-4.1 3.8zM544.7 100.7l4.1-3.9-3-1.2-4.1 3.8z"/>
<path color="#463bdc" d="M415.5 150.2l4.2-3.6-3.1-1.7-4.1 3.7z"/>
<path color="#73cd63" d="M543.6 82.8l4.1-3.8-3-1.2-4.1 3.7z"/>
<path color="#fcbb3e" d="M580.6 61.8l4.1-3.8-3-1.2-4.1 3.8zM589.5 77.4l4.1-3.9-3-1-4.1 3.9z"/>
<path color="#bbc42f" d="M560.6 73.7l4.1-3.8-3-1.2-4.2 3.8zM573.4 94.2l4.1-3.9-3-1.1-4.1 3.9z"/>
<path color="#4536d3" d="M412.5 152.7l4.1-3.6-3.1-1.7-4.1 3.7zM421.2 160.2l4.1-3.6-3.1-1.6-4.1 3.6zM429.9 167.6l4.1-3.7-3.1-1.6-4.1 3.8z"/>
<path color="#64cd6f" d="M540.5 85.4l4.1-3.8-3-1.2-4.1 3.7zM555.7 107.1l4.1-3.9-3-1.1-4.1 3.9z"/>
<path color="#f3ba39" d="M577.5 64.4l4.1-3.8-3-1.2-4.1 3.9zM586.4 80.1l4.1-3.9-3-1.1-4.1 4z"/>
<path color="#23a1e4" d="M483.4 117l4.2-3.7-3.1-1.5-4.1 3.7zM497.8 132.9l4.1-3.8-3-1.4-4.2 3.8z"/>
<path color="#475bf9" d="M437.9 140.5l4.2-3.6-3.1-1.6-4.1 3.6zM469.6 171.4l4.1-3.8-3-1.5-4.1 3.9z"/>
<path color="#adc638" d="M557.5 76.3l4.1-3.8-3-1.2-4.1 3.8zM563.1 84.7l4.1-3.8-3-1.2-4.1 3.9z"/>
<path color="#3876fe" d="M454.9 132.2l4.1-3.7-3-1.5-4.1 3.7zM461.3 138.4l4.1-3.7-3.1-1.5-4.1 3.7zM477.9 155.6l4.1-3.8-3-1.4-4.1 3.8zM492.2 171.6l4.1-3.9-3-1.3-4.1 3.9z"/>
<path color="#08b4d0" d="M500.4 108.3l4.1-3.7-3-1.4-4.1 3.7z"/>
<path color="#4331c8" d="M409.4 155.3l4.1-3.7-3-1.6-4.1 3.6z"/>
<path color="#56cc7b" d="M537.4 88l4.1-3.8-3-1.2-4.1 3.7zM547.1 101.3l4.1-3.8-3-1.2-4.2 3.8zM552.7 109.8l4.1-3.9-3-1.1-4.1 3.9zM558.3 118.3l4.1-4-3-1.1-4.1 3.9z"/>
<path color="#04bcc1" d="M508.9 104l4.1-3.8-3-1.4-4.1 3.8zM516.9 113.7l4.1-3.8-3-1.3-4.1 3.8z"/>
<path color="#79cc5e" d="M545.9 83.5l4.1-3.8-3-1.3-4.1 3.8z"/>
<path color="#eaba30" d="M574.5 67.1l4.1-3.9-3-1.1-4.1 3.8zM581.7 79.1l4.1-3.9-3-1.1-4.1 3.9zM590.6 94.6l4.1-4-3-1-4.1 4z"/>
<path color="#febd3d" d="M582.9 62.4l4.2-3.9-3-1.1-4.2 3.8zM584.6 66.2l4.1-3.9-3-1.1-4.1 3.8zM593.5 81.7l4.1-4-3-1-4.1 3.9z"/>
<path color="#412dbd" d="M406.3 157.8l4.2-3.7-3.1-1.6-4.1 3.6z"/>
<path color="#4536d5" d="M414.8 153.7l4.1-3.6-3-1.6-4.1 3.6zM423.5 161.2l4.1-3.7-3-1.6-4.1 3.7z"/>
<path color="#4742e6" d="M423.3 149.7l4.1-3.7-3-1.6-4.1 3.7zM438.3 163.4l4.2-3.7-3.1-1.6-4.1 3.8zM444.7 169.7l4.1-3.8-3-1.5-4.1 3.8z"/>
<path color="#dfbc2a" d="M571.4 69.7l4.1-3.8-3-1.2-4.1 3.8z"/>
<path color="#475cfa" d="M440.3 141.5l4.1-3.7-3-1.6-4.1 3.7zM465.7 166.2l4.1-3.8-3.1-1.5-4.1 3.9zM472 172.2l4.1-3.8-3-1.4-4.1 3.8zM482.3 183.3l4.1-3.9-3-1.4-4.1 3.9z"/>
<path color="#f7ba3d" d="M579.9 65l4.1-3.8-3-1.2-4.1 3.9z"/>
<path color="#3677fe" d="M457.3 133.1l4.1-3.7-3.1-1.5-4.1 3.7zM498.6 177.4l4.1-4-3-1.3-4.1 4z"/>
<path color="#4332ca" d="M411.8 156.3l4.1-3.7-3.1-1.6-4.1 3.6zM420.5 163.8l4.1-3.7-3.1-1.6-4.1 3.7z"/>
<path color="#463ddf" d="M420.2 152.2l4.2-3.6-3.1-1.7-4.1 3.7z"/>
<path color="#5bcc76" d="M539.8 88.7l4.1-3.8-3-1.2-4.1 3.7zM555 110.5l4.1-4-3-1.1-4.1 3.9z"/>
<path color="#2b92ef" d="M474.2 124.7l4.2-3.7-3.1-1.5-4.1 3.7zM502.9 156.5l4.1-3.9-3-1.3-4.1 3.9z"/>
<path color="#259de6" d="M482.7 120.4l4.1-3.7-3-1.5-4.1 3.7zM497 136.3l4.2-3.8-3.1-1.4-4.1 3.8zM501 141.3l4.1-3.9-3-1.3-4.1 3.8z"/>
<path color="#eeba34" d="M576.8 67.7l4.1-3.9-3-1.1-4.1 3.8zM584.1 79.6l4.1-3.9-3-1.1-4.1 3.9z"/>
<path color="#a4c83e" d="M556.8 79.6l4.1-3.8-3-1.2-4.1 3.8zM562.4 88l4.1-3.8-3-1.2-4.1 3.8z"/>
<path color="#fec03a" d="M585.3 62.9l4.1-3.8-3-1.1-4.1 3.8z"/>
<path color="#422ebf" d="M408.7 158.8l4.1-3.7-3-1.6-4.1 3.6z"/>
<path color="#4dcc82" d="M536.7 91.3l4.1-3.8-3-1.2-4.1 3.7zM552 113.2l4.1-3.9-3-1.2-4.1 3.9zM557.6 121.6l4.1-3.9-3-1.2-4.1 4z"/>
<path color="#4537d7" d="M417.2 154.7l4.1-3.6-3-1.6-4.2 3.6z"/>
<path color="#4743e8" d="M425.7 150.7l4.1-3.7-3.1-1.6-4.1 3.7zM440.7 164.3l4.1-3.7-3-1.5-4.1 3.7z"/>
<path color="#6fcd66" d="M545.2 86.8l4.1-3.8-3-1.3-4.1 3.8z"/>
<path color="#e4bb2c" d="M573.7 70.3l4.1-3.8-3-1.2-4.1 3.8zM581 82.3l4.1-3.9-3-1.1-4.1 3.9zM589.9 97.8l4.1-4-3-1-4.1 4z"/>
<path color="#465dfb" d="M442.6 142.4l4.2-3.7-3.1-1.5-4.1 3.6zM468 167.1l4.1-3.9-3-1.4-4.1 3.8zM488.7 189.2l4.1-3.9-3.1-1.4-4 4z"/>
<path color="#fbbb3e" d="M582.2 65.6l4.1-3.9-3-1.1-4.1 3.9zM591.1 81.2l4.1-4-3-1-4.1 3.9z"/>
<path color="#3579fd" d="M459.6 134l4.1-3.7-3-1.5-4.1 3.7zM476.3 151.3l4.1-3.8-3-1.4-4.1 3.8zM486.6 162.3l4.1-3.9-3-1.3-4.1 3.8z"/>
<path color="#4433cc" d="M414.1 157.3l4.1-3.7-3-1.6-4.1 3.6zM422.8 164.8l4.1-3.7-3-1.6-4.1 3.6z"/>
<path color="#463ee1" d="M422.6 153.2l4.1-3.7-3-1.6-4.1 3.7z"/>
<path color="#484bee" d="M431.1 149.1l4.1-3.7-3-1.6-4.1 3.7z"/>
<path color="#4757f8" d="M439.6 145l4.1-3.7-3-1.6-4.2 3.7z"/>
<path color="#f2ba38" d="M579.2 68.2l4.1-3.8-3-1.1-4.1 3.8zM588.1 83.9l4.1-4-3-1-4.1 3.9z"/>
<path color="#aac73a" d="M559.1 80.2l4.1-3.8-3-1.2-4.1 3.8zM572 100.7l4.1-3.9-3-1.1-4.1 3.9z"/>
<path color="#422fc1" d="M411 159.8l4.2-3.6-3.1-1.7-4.1 3.7z"/>
<path color="#fec338" d="M587.7 63.5l4.1-3.9-3-1.1-4.1 3.9zM598.2 82.6l4.1-3.9-3-1-4.1 3.9zM599.8 86.3l4.1-4-3-1-4.1 4z"/>
<path color="#4538d9" d="M419.5 155.7l4.1-3.6-3-1.6-4.1 3.6z"/>
<path color="#53cc7e" d="M539.1 92l4.1-3.8-3-1.2-4.1 3.8z"/>
<path color="#2d8ef2" d="M473.5 128.1l4.1-3.7-3-1.5-4.1 3.7zM483.9 139.2l4.1-3.8-3.1-1.4-4.1 3.8zM502.2 160l4.1-3.9-3.1-1.3-4.1 3.9z"/>
<path color="#269ae9" d="M482 123.8l4.1-3.7-3-1.5-4.1 3.8zM496.3 139.7l4.1-3.8-3-1.4-4.1 3.9z"/>
<path color="#e8bb2e" d="M576.1 70.9l4.1-3.9-3-1.1-4.1 3.8z"/>
<path color="#9bc945" d="M556.1 82.9l4.1-3.9-3-1.2-4.2 3.8z"/>
<path color="#4434ce" d="M416.5 158.3l4.1-3.7-3.1-1.6-4.1 3.6zM425.2 165.7l4.1-3.7-3.1-1.6-4.1 3.7z"/>
<path color="#2995ec" d="M478.9 126.4l4.2-3.8-3.1-1.4-4.1 3.7z"/>
<path color="#11beb9" d="M516 106.3l4.1-3.8-3-1.4-4.1 3.8z"/>
<path color="#ddbd29" d="M573 73.5l4.1-3.8-3-1.2-4.1 3.9zM580.3 85.5l4.1-3.9-3-1.1-4.1 3.9zM589.2 101.1l4.1-4-3-1-4.1 4z"/>
<path color="#f6ba3c" d="M581.5 68.8l4.1-3.8-3-1.2-4.1 3.9zM590.4 84.4l4.1-4-3-1-4.1 3.9z"/>
<path color="#4230c3" d="M413.4 160.8l4.1-3.7-3-1.6-4.1 3.7z"/>
<path color="#3bc993" d="M532.9 97.3l4.1-3.8-3-1.3-4.1 3.8z"/>
<path color="#08b4d1" d="M504.4 113.3l4.1-3.8-3-1.3-4.1 3.7zM520.4 132.8l4.1-3.9-3-1.3-4.1 3.9z"/>
<path color="#fec636" d="M590 64.1l4.1-3.9-3-1.1-4.1 3.9zM600.5 83.1l4.1-4-3-1-4 4zM602.2 86.8l4.1-4-3-1-4.1 4z"/>
<path color="#58cc79" d="M541.4 92.7l4.1-3.8-3-1.2-4.1 3.8z"/>
<path color="#4853f5" d="M438.9 148.5l4.1-3.7-3.1-1.6-4.1 3.7zM464.2 173.2l4.1-3.8-3-1.5-4.1 3.9zM470.6 179.3l4.1-3.9-3.1-1.4-4.1 3.8z"/>
<path color="#ecba32" d="M578.4 71.5l4.2-3.9-3-1.1-4.1 3.8zM587.3 87.1l4.1-3.9-2.9-1.1-4.1 4z"/>
<path color="#4435d0" d="M418.8 159.3l4.1-3.7-3-1.6-4.1 3.6z"/>
<path color="#febf3b" d="M586.9 66.7l4.1-3.9-3-1.1-4.1 3.9zM599.1 89.5l4.1-4-3-.9-4.1 3.9z"/>
<path color="#4acb85" d="M538.4 95.3l4.1-3.8-3-1.2-4.1 3.8z"/>
<path color="#2896eb" d="M481.3 127.2l4.1-3.7-3-1.5-4.1 3.8zM495.6 143.2l4.1-3.9-3-1.3-4.1 3.8z"/>
<path color="#e2bc2b" d="M575.4 74.1l4.1-3.8-3-1.2-4.1 3.9zM582.6 86.1l4.1-4-3-1-4.1 3.9z"/>
<path color="#4368fd" d="M452.8 142.6l4.1-3.7-3.1-1.5-4.1 3.7zM459.1 148.8l4.1-3.7-3-1.5-4.1 3.7zM486.1 177.1l4.1-3.9-3-1.4-4.1 3.9z"/>
<path color="#91ca4c" d="M555.3 86.1l4.1-3.8-3-1.2-4.1 3.8z"/>
<path color="#4330c5" d="M415.7 161.8l4.2-3.7-3.1-1.6-4.1 3.7z"/>
<path color="#fabb3e" d="M583.9 69.4l4.1-3.9-3-1.1-4.1 3.9zM592.8 84.9l4.1-4-3-1-4.1 3.9z"/>
<path color="#4847eb" d="M432.7 153.6l4.1-3.7-3-1.6-4.1 3.7z"/>
<path color="#fec934" d="M592.4 64.6l4.1-3.9-3-1.1-4.1 3.9zM604.5 87.2l4.1-4-3-1-4.1 4z"/>
<path color="#4854f6" d="M441.2 149.4l4.1-3.7-3-1.6-4.1 3.7zM466.6 174.1l4.1-3.9-3-1.4-4.1 3.8z"/>
<path color="#d6be27" d="M572.3 76.8l4.1-3.9-3-1.1-4.1 3.8zM579.6 88.8l4.1-3.9-3-1.1-4.1 3.9z"/>
<path color="#36c899" d="M532.2 100.6l4.1-3.8-3-1.3-4.1 3.8zM541.8 114l4.1-3.9-3-1.2-4.1 3.8z"/>
<path color="#fec239" d="M589.3 67.3l4.1-3.9-3-1.1-4.1 3.9zM590.9 71l4.1-3.9-3-1.1-4.1 3.9zM601.5 90l4-4-2.9-1-4.1 4z"/>
<path color="#c9c128" d="M569.2 79.4l4.1-3.8-3-1.2-4.1 3.9zM576.5 91.5l4.1-3.9-3-1.1-4.1 3.9z"/>
<path color="#e7bb2d" d="M577.7 74.7l4.1-3.9-3-1.1-4.1 3.9z"/>
<path color="#fdbc3e" d="M586.2 69.9l4.1-3.9-3-1-4.1 3.8zM596.8 89.1l4-4-2.9-1-4.1 4zM598.4 92.8l4.1-4-3-1-4.1 4z"/>
<path color="#03b6cc" d="M509.1 114.8l4.1-3.7-3-1.4-4.1 3.8zM513.1 119.7l4.1-3.8-3-1.3-4.1 3.8zM534.7 147.7l4.1-4-3-1.2-4.1 4z"/>
<path color="#4756f6" d="M443.6 150.3l4.1-3.7-3.1-1.5-4.1 3.7zM462.6 168.9l4.1-3.9-3-1.4-4.1 3.8z"/>
<path color="#fdcc32" d="M594.7 65.1l4.1-3.9-3-1-4.1 3.8z"/>
<path color="#dbbd28" d="M574.7 77.4l4.1-3.9-3-1.1-4.1 3.8z"/>
<path color="#88cb53" d="M554.6 89.4l4.1-3.8-3-1.2-4.1 3.8zM560.2 97.9l4.1-3.9-3-1.2-4.1 3.9z"/>
<path color="#38c895" d="M534.6 101.3l4.1-3.8-3-1.3-4.1 3.8zM544.2 114.6l4.1-3.9-3-1.2-4.1 3.9z"/>
<path color="#4743e7" d="M432 157.1l4.1-3.7-3-1.6-4.1 3.7zM447 170.6l4.1-3.8-3-1.5-4.1 3.8zM453.4 176.8l4.1-3.8-3-1.5-4.1 3.8z"/>
<path color="#fec537" d="M591.6 67.8l4.1-3.9-3-1.1-4.1 3.9zM593.3 71.5l4.1-3.9-3-1-4.1 3.9z"/>
<path color="#4850f2" d="M440.5 152.9l4.1-3.7-3-1.6-4.1 3.7zM465.9 177.6l4.1-3.9-3.1-1.4-4.1 3.8z"/>
<path color="#febf3c" d="M588.6 70.5l4.1-3.9-3-1.1-4.1 3.9z"/>
<path color="#c2c32c" d="M568.5 82.7l4.1-3.9-3-1.1-4.1 3.8z"/>
<path color="#fccf30" d="M597.1 65.6l4.1-3.9-3-1-4.1 3.9zM598.7 69.3l4.1-3.9-3-1-4.1 3.9z"/>
<path color="#4464fd" d="M454.4 147l4.1-3.7-3-1.5-4.1 3.7z"/>
<path color="#e0bc2a" d="M577 77.9l4.1-3.8-3-1.2-4.1 3.9zM585.9 93.6l4.1-4-3-1-4.1 3.9z"/>
<path color="#8ecb4e" d="M557 90.1l4.1-3.9-3-1.2-4.1 3.9z"/>
<path color="#f9ba3e" d="M585.5 73.1l4.1-3.8-3-1.1-4.1 3.8zM596 92.3l4.1-4-3-1-4 4z"/>
<path color="#4851f3" d="M442.8 153.8l4.2-3.7-3.1-1.5-4.1 3.7zM449.2 160.1l4.1-3.8-3-1.5-4.1 3.7zM455.5 166.2l4.1-3.7-3-1.5-4.1 3.8zM461.9 172.4l4.1-3.9-3.1-1.4-4.1 3.8z"/>
<path color="#fec834" d="M594 68.3l4.1-3.9-3-1-4.1 3.8z"/>
<path color="#d4bf27" d="M573.9 80.6l4.2-3.9-3-1.1-4.1 3.9z"/>
<path color="#7ecc5b" d="M553.9 92.7l4.1-3.8-3-1.2-4.1 3.8z"/>
<path color="#6ecd67" d="M550.8 95.4l4.1-3.9-3-1.2-4.1 3.9zM556.5 103.8l4.1-3.9-3-1.1-4.1 3.9z"/>
<path color="#fbd32f" d="M599.4 66.1l4.1-3.9-3-1-4.1 3.9z"/>
<path color="#fcbc3e" d="M587.9 73.7l4.1-3.9-3-1.1-4.1 3.9z"/>
<path color="#b9c430" d="M567.8 85.9l4.1-3.8-3-1.2-4.1 3.9z"/>
<path color="#4853f4" d="M445.2 154.7l4.1-3.7-3-1.5-4.1 3.7z"/>
<path color="#fdcb32" d="M596.3 68.8l4.1-3.9-2.9-1-4.1 3.9z"/>
<path color="#85cc56" d="M556.3 93.3l4.1-3.8-3-1.2-4.1 3.8z"/>
<path color="#f4ba3a" d="M584.8 76.4l4.1-3.9-3-1.1-4.1 3.9zM593.7 91.8l4.1-4-3-1-4.1 4zM595.3 95.5l4.1-4-3-.9-4.1 3.9z"/>
<path color="#37c898" d="M536.2 105.3l4.1-3.8-3-1.3-4.1 3.8z"/>
<path color="#2d8af4" d="M479.2 137.5l4.1-3.7-3.1-1.5-4.1 3.8z"/>
<path color="#cdc028" d="M573.2 83.9l4.1-3.9-3-1.1-4.1 3.8z"/>
<path color="#74cd62" d="M553.2 96l4.1-3.9-3-1.1-4.1 3.8zM558.8 104.4l4.1-3.9-3-1.1-4.1 3.9z"/>
<path color="#f9d62d" d="M601.8 66.6l4.1-3.9-3-1-4.1 3.9z"/>
<path color="#9bc944" d="M561.7 91.3l4.1-3.9-3-1.1-4.1 3.8z"/>
<path color="#febe3c" d="M590.2 74.2l4.1-3.9-3-1.1-4.1 3.9zM591.8 77.9l4.1-3.9-2.9-1-4.1 3.9z"/>
<path color="#64cd6e" d="M550.1 98.7l4.1-3.9-3-1.2-4.1 3.9z"/>
<path color="#dfbc29" d="M578.7 81.7l4.1-3.9-3-1.1-4.1 3.9zM587.6 97.4l4-4-2.9-1.1-4.1 4z"/>
<path color="#1ca9e0" d="M501.5 126.9l4.2-3.8-3.1-1.4-4.1 3.8zM517.5 146.4l4.1-3.9-3-1.3-4.1 3.9z"/>
<path color="#39c994" d="M538.6 106l4.1-3.9-3-1.2-4.1 3.8z"/>
<path color="#b1c635" d="M567.1 89.2l4.1-3.9-3-1.1-4.1 3.9z"/>
<path color="#2699ea" d="M490 133.9l4.1-3.8-3-1.3-4.1 3.7z"/>
<path color="#fec835" d="M595.6 72l4.1-3.9-3-1-4.1 3.9z"/>
<path color="#d2bf27" d="M575.6 84.4l4.1-3.9-3-1.1-4.1 3.9zM584.5 100.1l4.1-4-3-1-4.1 4z"/>
<path color="#f8d92b" d="M604.1 67.1l4.1-3.9-3-1-4.1 3.9zM605.8 70.8l4-4-2.9-1-4.1 4z"/>
<path color="#33c69e" d="M535.5 108.6l4.1-3.8-3-1.3-4.1 3.9z"/>
<path color="#fec13a" d="M592.6 74.7l4.1-3.9-3-1-4.1 3.9zM594.2 78.4l4.1-3.9-3-1-4.1 3.9z"/>
<path color="#c5c22a" d="M572.5 87.1l4.1-3.9-3-1.1-4.1 3.9z"/>
<path color="#6acd69" d="M552.5 99.3l4.1-3.9-3-1.2-4.1 3.9zM558.1 107.7l4.1-3.9-3-1.1-4.1 3.9z"/>
<path color="#fbd22f" d="M601 69.8l4.1-3.9-2.9-1-4.1 3.9zM602.7 73.5l4.1-4-3-1-4.1 4z"/>
<path color="#92ca4c" d="M561 94.6l4.1-3.9-3-1.2-4.1 3.9z"/>
<path color="#fdcb33" d="M598 72.5l4.1-3.9-3-1-4.1 3.9z"/>
<path color="#463cdf" d="M435.3 166l4.1-3.7-3-1.6-4.2 3.7z"/>
<path color="#f7dd2a" d="M606.5 67.6l4.1-4-3-1-4.1 4zM608.1 71.2l4.1-4-3-.9-4.1 3.9z"/>
<path color="#a8c73b" d="M566.4 92.5l4.1-3.9-3-1.1-4.1 3.8z"/>
<path color="#fec437" d="M594.9 75.2l4.1-3.9-3-1-4.1 3.9z"/>
<path color="#cbc128" d="M574.9 87.7l4.1-3.9-3-1.1-4.1 3.9z"/>
<path color="#4537d5" d="M432.2 168.6l4.1-3.7-3-1.6-4.1 3.7z"/>
<path color="#fad62d" d="M603.4 70.3l4.1-4-3-1-4.1 4z"/>
<path color="#2f82fa" d="M477.7 144.4l4.1-3.8-3-1.4-4.1 3.8zM492 160.4l4.1-3.9-3-1.3-4.1 3.8z"/>
<path color="#bdc32e" d="M571.8 90.4l4.1-3.9-3-1.1-4.1 3.8zM579.1 102.4l4.1-4-3-1.1-4.1 4z"/>
<path color="#fdce31" d="M600.3 73l4.1-3.9-3-1-4.1 3.9zM602 76.7l4.1-4-3-1-4.1 4zM603.6 80.3l4.1-3.9-3-1-4.1 4z"/>
<path color="#f6e028" d="M608.8 68l4.1-3.9-3-1-4.1 3.9zM610.5 71.7l4.1-4-3-1-4.1 4zM612.1 75.3l4.1-4-3-1-4.1 4zM613.7 78.9l4.1-4-3-1-4.1 4z"/>
<path color="#f7ba3c" d="M588.8 80.6l4.1-3.9-3-1-4.1 3.9z"/>
<path color="#fec735" d="M597.3 75.7l4.1-3.9-3-1-4.1 3.9zM598.9 79.4l4.1-3.9-3-1-4.1 3.9z"/>
<path color="#4538d8" d="M434.6 169.5l4.1-3.7-3.1-1.6-4.1 3.8z"/>
<path color="#77cc5f" d="M557.2 100.5l4.1-3.8-3-1.2-4.1 3.9z"/>
<path color="#9fc942" d="M565.7 95.8l4.1-3.9-3-1.2-4.1 3.9z"/>
<path color="#307efc" d="M477 147.9l4.1-3.8-3-1.5-4.1 3.8z"/>
<path color="#484cf0" d="M448.5 163.6l4.1-3.8-3-1.5-4.2 3.8zM454.8 169.8l4.1-3.8-3-1.5-4.1 3.8zM461.2 175.9l4.1-3.8-3.1-1.5-4.1 3.8z"/>
<path color="#f5e427" d="M611.2 68.5l4.1-4-3-1-4.1 4zM612.8 72.1l4.1-4-3-.9-4.1 3.9zM614.4 75.7l4.1-4-2.9-.9-4.1 4z"/>
<path color="#fecb33" d="M599.6 76.2l4.1-3.9-3-1.1-4.1 4z"/>
<path color="#7ecc5a" d="M559.5 101.1l4.1-3.9-3-1.1-4.1 3.9z"/>
<path color="#13beb8" d="M527.9 120.7l4.1-3.9-3-1.3-4.1 3.9z"/>
<path color="#fec438" d="M596.5 78.9l4.1-3.9-2.9-1-4.1 3.9z"/>
<path color="#3d70ff" d="M470.9 153.1l4.1-3.8-3-1.4-4.2 3.8zM481.2 164.2l4.1-3.9-3-1.3-4.1 3.8z"/>
<path color="#fad52d" d="M605 73.9l4.1-3.9-3-1-4 3.9zM606.7 77.6l4.1-4-3-1-4.1 4z"/>
<path color="#f5e825" d="M613.5 68.9l4.1-4-3-.9-4.1 4z"/>
<path color="#23a1e5" d="M501.8 137.8l4.1-3.8-3.1-1.3-4.1 3.8zM521.7 162.2l4.1-4-3-1.2-4.1 4z"/>
<path color="#f8d92c" d="M607.4 74.4l4.1-4-3-.9-4.1 3.9zM609 78l4.1-4-3-.9-4.1 4z"/>
<path color="#465dfa" d="M461.7 161l4.1-3.8-3.1-1.5-4.1 3.8zM478.3 178.2l4.1-3.9-3-1.4-4.1 3.9z"/>
<path color="#0abdbd" d="M527.2 124l4.1-3.8-3-1.3-4.1 3.9zM540.8 142.1l4.1-3.9-3-1.2-4.1 4z"/>
<path color="#fec03b" d="M595.8 82.1l4.1-3.9-3-1-4.1 3.9zM597.5 85.8l4.1-3.9-3-1-4.1 3.9z"/>
<path color="#f5eb23" d="M615.9 69.3l4.1-3.9-3-1-4.1 4zM617.5 72.9l4.1-4-3-.9-4.1 4z"/>
<path color="#29c3ab" d="M535.7 119.3l4.1-3.8-3-1.3-4.1 3.9z"/>
<path color="#fcd12f" d="M604.3 77.1l4.1-3.9-3-1-4.1 4zM606 80.8l4.1-4-3-1-4.1 4zM607.6 84.4l4.1-4-3-.9-4.1 4z"/>
<path color="#8ccb50" d="M564.2 102.3l4.1-3.9-3-1.1-4.1 3.9z"/>
<path color="#3a74ff" d="M475.6 154.8l4.1-3.8-3-1.4-4.1 3.8zM485.9 165.8l4.1-3.9-3-1.4-4.1 3.9z"/>
<path color="#feca33" d="M601.3 79.9l4-4-2.9-1-4.1 4zM602.9 83.6l4.1-4-3-1-4.1 4z"/>
<path color="#a3c83f" d="M569.7 100.2l4.1-3.9-3-1.2-4.1 4zM576.9 112.2l4.1-4-3-1-4.1 4z"/>
<path color="#f7dc2a" d="M609.7 74.8l4.1-3.9-2.9-1-4.1 4zM611.4 78.5l4.1-4-3-1-4.1 4z"/>
<path color="#f5ef21" d="M618.2 69.8l4.1-4-3-1-4.1 4zM619.9 73.3l4.1-4-3-.9-4.1 4z"/>
<path color="#2bc3a7" d="M538.1 120l4.1-3.9-3.1-1.2-4 3.9z"/>
<path color="#e6bb2d" d="M586.6 90.4l4.1-4-3-1-4.1 3.9z"/>
<path color="#4467fd" d="M469.4 160.1l4.1-3.8-3-1.5-4.1 3.8z"/>
<path color="#fdbd3d" d="M595.1 85.4l4.1-4-3-1-4.1 4z"/>
<path color="#f5e725" d="M615.2 72.5l4.1-4-3-.9-4.1 4zM616.8 76.1l4.1-4-3-.9-4.1 4z"/>
<path color="#15bfb8" d="M531.9 125.4l4.1-3.9-3-1.2-4.1 3.8z"/>
<path color="#473ee2" d="M446.3 174.1l4.1-3.8-3-1.5-4.1 3.8z"/>
<path color="#cdc027" d="M580.5 95.8l4.1-3.9-3-1.1-4.1 3.9z"/>
<path color="#f6f21e" d="M620.6 70.2l4.1-4-3-1-4.1 4z"/>
<path color="#2ec4a4" d="M540.4 120.7l4.1-3.9-3-1.3-4.1 3.9z"/>
<path color="#9ac946" d="M568.9 103.5l4.1-4-3-1.1-4.1 4z"/>
<path color="#06bcbf" d="M528.9 128.1l4.1-3.9-3.1-1.2-4.1 3.8z"/>
<path color="#faba3e" d="M594.4 88.6l4.1-4-3-1-4.1 4z"/>
<path color="#1ac0b5" d="M534.3 126.1l4.1-3.9-3-1.3-4.1 3.9zM543.9 139.4l4.1-4-3-1.2-4.1 4z"/>
<path color="#f7f61a" d="M622.9 70.6l4.1-4.1-3-.9-4 4z"/>
<path color="#a0c840" d="M571.3 104l4.1-3.9-3-1.1-4.1 3.9z"/>
<path color="#f0ba36" d="M591.3 91.4l4.1-4-3-1-4.1 3.9z"/>
<path color="#45cb89" d="M551.2 116.5l4.1-3.9-3-1.2-4.1 3.9z"/>
<path color="#2ac3aa" d="M539.7 124l4.1-3.9-3-1.2-4.1 3.9z"/>
<path color="#fad52e" d="M608.3 81.2l4.1-4-3-.9-4.1 4z"/>
<path color="#2896ec" d="M499.6 148.1l4.1-3.8-3-1.4-4.1 3.9z"/>
<path color="#d9be28" d="M585.2 96.9l4.1-4-3-1.1-4.1 4z"/>
<path color="#fdcd31" d="M605.2 84l4.1-4-2.9-1-4.1 4z"/>
<path color="#a7c73b" d="M573.6 104.6l4.1-4-3-1.1-4.1 4z"/>
<path color="#11beba" d="M533.6 129.4l4.1-3.9-3.1-1.2-4 3.9z"/>
<path color="#6ecd66" d="M562.1 112.2l4.1-3.9-3-1.1-4.1 3.9z"/>
<path color="#2cc4a6" d="M542 124.6l4.1-3.9-3-1.2-4.1 3.9z"/>
<path color="#2797ea" d="M502 148.9l4.1-3.9-3.1-1.3-4.1 3.8zM505.9 153.8l4.1-3.9-3-1.3-4.1 3.9z"/>
<path color="#3dca8f" d="M550.5 119.8l4.1-3.9-3-1.2-4.1 4z"/>
<path color="#f8d82c" d="M610.7 81.7l4.1-4.1-3-.9-4.1 4z"/>
<path color="#5fcd74" d="M559 115l4.1-4-3-1.1-4.1 3.9z"/>
<path color="#24c1af" d="M539 127.4l4.1-4-3-1.2-4.1 4z"/>
<path color="#2e84f8" d="M490.4 156.2l4.1-3.9-3-1.4-4.1 3.9z"/>
<path color="#2b92ee" d="M498.9 151.6l4.1-3.9-3-1.3-4.1 3.8z"/>
<path color="#249fe6" d="M507.4 146.9l4.1-3.8-3-1.3-4.1 3.8zM511.4 151.8l4.1-3.9-3-1.3-4.1 3.9zM515.4 156.7l4.1-4-3.1-1.2-4.1 3.9z"/>
<path color="#4661fc" d="M472.7 168.7l4.1-3.8-3-1.4-4.1 3.8zM483 179.8l4.1-3.9-3-1.4-4.1 3.9z"/>
<path color="#8dcb4f" d="M569.9 110.6l4.1-4-3-1-4.1 3.9z"/>
<path color="#4563fc" d="M475.1 169.6l4.1-3.9-3.1-1.4-4.1 3.8zM485.4 180.6l4.1-3.9-3-1.4-4.1 3.9z"/>
<path color="#e9ba2f" d="M592.3 98.3l4-4-2.9-1-4.1 4z"/>
<path color="#327bfc" d="M489 163.1l4.1-3.9-3-1.3-4.1 3.8z"/>
<path color="#72cd63" d="M566.1 116.7l4.1-4-3-1.1-4.1 4z"/>
<path color="#08bdbe" d="M536.8 137.5l4.1-4-3-1.2-4.1 4z"/>
<path color="#68cd6b" d="M565.4 120l4.1-4-3-1.1-4.1 4z"/>
<path color="#12b1d7" d="M525.3 145l4.1-3.9-3-1.2-4.1 3.9z"/>
<path color="#2993ed" d="M505.2 157.3l4.1-3.9-3-1.4-4.1 3.9z"/>
<path color="#00bac6" d="M533.8 140.2l4.1-3.9-3-1.2-4.1 3.9z"/>
<path color="#2d87f6" d="M499.1 162.7l4.1-3.9-3-1.3-4.1 3.9z"/>
<path color="#6fcd65" d="M567.7 120.5l4.1-4-3-1-4.1 4z"/>
<path color="#2fc5a4" d="M550 133.8l4.1-3.9-3-1.2-4.1 4z"/>
<path color="#2d8bf3" d="M503.8 164.2l4.1-3.9-3-1.3-4.1 3.9z"/>
<path color="#0eb3d4" d="M531.6 150.5l4.1-4-3-1.2-4.1 3.9z"/>
<path color="#3b72ff" d="M497.9 180.9l4.1-4-3.1-1.3-4 4z"/>
</g>
<line x1="387.7" y1="168.6" x2="387.7" y2="44.7" stroke="#333333" stroke-width="0.6"/>
<line x1="491.2" y1="225.8" x2="387.7" y2="168.6" stroke="#333333" stroke-width="0.6"/>
<line x1="491.2" y1="225.8" x2="626.2" y2="183" stroke="#333333" stroke-width="0.6"/>
<line x1="387.7" y1="168.6" x2="384.81" y2="167" stroke="#333333" stroke-width="0.6"/>
<line x1="387.7" y1="147.95" x2="384.81" y2="146.35" stroke="#333333" stroke-width="0.6"/>
<line x1="387.7" y1="127.3" x2="384.81" y2="125.7" stroke="#333333" stroke-width="0.6"/>
<line x1="387.7" y1="106.65" x2="384.81" y2="105.05" stroke="#333333" stroke-width="0.6"/>
<line x1="387.7" y1="86" x2="384.81" y2="84.4" stroke="#333333" stroke-width="0.6"/>
<line x1="387.7" y1="65.35" x2="384.81" y2="63.75" stroke="#333333" stroke-width="0.6"/>
<line x1="387.7" y1="44.7" x2="384.81" y2="43.1" stroke="#333333" stroke-width="0.6"/>
<line x1="491.2" y1="225.8" x2="488.05" y2="226.8" stroke="#333333" stroke-width="0.6"/>
<line x1="439.45" y1="197.2" x2="436.3" y2="198.2" stroke="#333333" stroke-width="0.6"/>
<line x1="387.7" y1="168.6" x2="384.55" y2="169.6" stroke="#333333" stroke-width="0.6"/>
<line x1="491.2" y1="225.8" x2="494.09" y2="227.4" stroke="#333333" stroke-width="0.6"/>
<line x1="524.95" y1="215.1" x2="527.84" y2="216.7" stroke="#333333" stroke-width="0.6"/>
<line x1="558.7" y1="204.4" x2="561.59" y2="206" stroke="#333333" stroke-width="0.6"/>
<line x1="592.45" y1="193.7" x2="595.34" y2="195.3" stroke="#333333" stroke-width="0.6"/>
<line x1="626.2" y1="183" x2="629.09" y2="184.6" stroke="#333333" stroke-width="0.6"/>
<defs><linearGradient id="cb651" x1="0" y1="1" x2="0" y2="0">
<stop offset="0.0000" stop-color="#3e26a8"/>
<stop offset="0.0312" stop-color="#422ebf"/>
<stop offset="0.0625" stop-color="#4536d5"/>
<stop offset="0.0938" stop-color="#4741e5"/>
<stop offset="0.1250" stop-color="#484cef"/>
<stop offset="0.1562" stop-color="#4757f7"/>
<stop offset="0.1875" stop-color="#4562fc"/>
<stop offset="0.2188" stop-color="#3f6eff"/>
<stop offset="0.2500" stop-color="#347afd"/>
<stop offset="0.2812" stop-color="#2e85f8"/>
<stop offset="0.3125" stop-color="#2c90f0"/>
<stop offset="0.3438" stop-color="#269ae9"/>
<stop offset="0.3750" stop-color="#21a3e3"/>
<stop offset="0.4062" stop-color="#1aacdd"/>
<stop offset="0.4375" stop-color="#0cb3d3"/>
<stop offset="0.4688" stop-color="#00b9c6"/>
<stop offset="0.5000" stop-color="#12beb9"/>
<stop offset="0.5312" stop-color="#28c2ab"/>
<stop offset="0.5625" stop-color="#34c79c"/>
<stop offset="0.5938" stop-color="#43cb8a"/>
<stop offset="0.6250" stop-color="#5ccc76"/>
<stop offset="0.6562" stop-color="#77cc60"/>
<stop offset="0.6875" stop-color="#94ca4a"/>
<stop offset="0.7188" stop-color="#afc636"/>
<stop offset="0.7500" stop-color="#c8c129"/>
<stop offset="0.7812" stop-color="#debc29"/>
<stop offset="0.8125" stop-color="#f1ba37"/>
<stop offset="0.8438" stop-color="#febe3c"/>
<stop offset="0.8750" stop-color="#feca33"/>
<stop offset="0.9062" stop-color="#f9d62d"/>
<stop offset="0.9375" stop-color="#f5e327"/>
<stop offset="0.9688" stop-color="#f6ef20"/>
<stop offset="1.0000" stop-color="#f9fb15"/>
</linearGradient></defs>
<rect x="651.2" y="1.8" width="14.199999999999932" height="224.1" fill="url(#cb651)" stroke="#333333" stroke-width="0.5"/>
<line x1="663.2" y1="6.7" x2="665.4" y2="6.7" stroke="#333333" stroke-width="0.8"/>
<line x1="663.2" y1="31.05" x2="665.4" y2="31.05" stroke="#333333" stroke-width="0.8"/>
<line x1="663.2" y1="55.4" x2="665.4" y2="55.4" stroke="#333333" stroke-width="0.8"/>
<line x1="663.2" y1="79.75" x2="665.4" y2="79.75" stroke="#333333" stroke-width="0.8"/>
<line x1="663.2" y1="104.1" x2="665.4" y2="104.1" stroke="#333333" stroke-width="0.8"/>
<line x1="663.2" y1="128.45" x2="665.4" y2="128.45" stroke="#333333" stroke-width="0.8"/>
<line x1="663.2" y1="152.8" x2="665.4" y2="152.8" stroke="#333333" stroke-width="0.8"/>
<line x1="663.2" y1="177.15" x2="665.4" y2="177.15" stroke="#333333" stroke-width="0.8"/>
<line x1="663.2" y1="201.5" x2="665.4" y2="201.5" stroke="#333333" stroke-width="0.8"/>
<line x1="663.2" y1="225.85" x2="665.4" y2="225.85" stroke="#333333" stroke-width="0.8"/>
<g style="filter:grayscale(1)">
<text x="36.2" y="169.7" font-size="8.8" text-anchor="end" font-weight="normal" fill="#333333" stroke="#333333" stroke-width="0.12" >2.5</text>
<text x="36.2" y="144.8" font-size="8.8" text-anchor="end" font-weight="normal" fill="#333333" stroke="#333333" stroke-width="0.12" >3</text>
<text x="36.2" y="119.9" font-size="8.8" text-anchor="end" font-weight="normal" fill="#333333" stroke="#333333" stroke-width="0.12" >3.5</text>
<text x="36.2" y="95" font-size="8.8" text-anchor="end" font-weight="normal" fill="#333333" stroke="#333333" stroke-width="0.12" >4</text>
<text x="36.2" y="70.1" font-size="8.8" text-anchor="end" font-weight="normal" fill="#333333" stroke="#333333" stroke-width="0.12" >4.5</text>
<text x="36.2" y="45.2" font-size="8.8" text-anchor="end" font-weight="normal" fill="#333333" stroke="#333333" stroke-width="0.12" >5</text>
<text x="138.2" y="237.8" font-size="8.8" text-anchor="end" font-weight="normal" fill="#333333" stroke="#333333" stroke-width="0.12" >0</text>
<text x="112.57" y="223.5" font-size="8.8" text-anchor="end" font-weight="normal" fill="#333333" stroke="#333333" stroke-width="0.12" >0.05</text>
<text x="86.95" y="209.2" font-size="8.8" text-anchor="end" font-weight="normal" fill="#333333" stroke="#333333" stroke-width="0.12" >0.1</text>
<text x="61.32" y="194.9" font-size="8.8" text-anchor="end" font-weight="normal" fill="#333333" stroke="#333333" stroke-width="0.12" >0.15</text>
<text x="35.7" y="180.6" font-size="8.8" text-anchor="end" font-weight="normal" fill="#333333" stroke="#333333" stroke-width="0.12" >0.2</text>
<text x="152.2" y="238.3" font-size="8.8" text-anchor="start" font-weight="normal" fill="#333333" stroke="#333333" stroke-width="0.12" >0</text>
<text x="196.73" y="223.87" font-size="8.8" text-anchor="start" font-weight="normal" fill="#333333" stroke="#333333" stroke-width="0.12" >0.1</text>
<text x="241.27" y="209.43" font-size="8.8" text-anchor="start" font-weight="normal" fill="#333333" stroke="#333333" stroke-width="0.12" >0.2</text>
<text x="285.8" y="195" font-size="8.8" text-anchor="start" font-weight="normal" fill="#333333" stroke="#333333" stroke-width="0.12" >0.3</text>
<text x="67.6" y="241.3" font-size="13" text-anchor="start" font-weight="bold" fill="#333333" stroke="#333333" stroke-width="0.3" >η</text>
<text x="75.8" y="247.8" font-size="11" text-anchor="start" font-weight="bold" fill="#333333" stroke="#333333" stroke-width="0.3" >ca</text>
<text x="205.6" y="244.2" font-size="13" text-anchor="start" font-weight="bold" fill="#333333" stroke="#333333" stroke-width="0.3" >η</text>
<text x="213.7" y="250.5" font-size="11" text-anchor="start" font-weight="bold" fill="#333333" stroke="#333333" stroke-width="0.3" >cp</text>
<g transform="translate(10.5,115.5) rotate(-90)"><text x="-0.3" y="0" font-size="13" font-weight="bold" fill="#333333" stroke="#333333" stroke-width="0.3">R</text><text x="10.2" y="6.4" font-size="10" font-weight="bold" fill="#333333" stroke="#333333" stroke-width="0.4">0</text></g>
<text x="178.5" y="282.6" font-size="18" text-anchor="middle" font-weight="normal" fill="#000" font-family='"Liberation Serif", serif'>(a)</text>
<text x="321" y="17.3" font-size="8.2" text-anchor="start" font-weight="normal" fill="#333333" stroke="#333333" stroke-width="0.12" >4.4</text>
<text x="321" y="40.02" font-size="8.2" text-anchor="start" font-weight="normal" fill="#333333" stroke="#333333" stroke-width="0.12" >4.2</text>
<text x="321" y="62.74" font-size="8.2" text-anchor="start" font-weight="normal" fill="#333333" stroke="#333333" stroke-width="0.12" >4</text>
<text x="321" y="85.46" font-size="8.2" text-anchor="start" font-weight="normal" fill="#333333" stroke="#333333" stroke-width="0.12" >3.8</text>
<text x="321" y="108.18" font-size="8.2" text-anchor="start" font-weight="normal" fill="#333333" stroke="#333333" stroke-width="0.12" >3.6</text>
<text x="321" y="130.9" font-size="8.2" text-anchor="start" font-weight="normal" fill="#333333" stroke="#333333" stroke-width="0.12" >3.4</text>
<text x="321" y="153.62" font-size="8.2" text-anchor="start" font-weight="normal" fill="#333333" stroke="#333333" stroke-width="0.12" >3.2</text>
<text x="321" y="176.34" font-size="8.2" text-anchor="start" font-weight="normal" fill="#333333" stroke="#333333" stroke-width="0.12" >3</text>
<text x="321" y="199.06" font-size="8.2" text-anchor="start" font-weight="normal" fill="#333333" stroke="#333333" stroke-width="0.12" >2.8</text>
<text x="321" y="221.78" font-size="8.2" text-anchor="start" font-weight="normal" fill="#333333" stroke="#333333" stroke-width="0.12" >2.6</text>
<text x="381.2" y="169.2" font-size="8.8" text-anchor="end" font-weight="normal" fill="#333333" stroke="#333333" stroke-width="0.12" >2</text>
<text x="381.2" y="148.55" font-size="8.8" text-anchor="end" font-weight="normal" fill="#333333" stroke="#333333" stroke-width="0.12" >4</text>
<text x="381.2" y="127.9" font-size="8.8" text-anchor="end" font-weight="normal" fill="#333333" stroke="#333333" stroke-width="0.12" >6</text>
<text x="381.2" y="107.25" font-size="8.8" text-anchor="end" font-weight="normal" fill="#333333" stroke="#333333" stroke-width="0.12" >8</text>
<text x="381.2" y="86.6" font-size="8.8" text-anchor="end" font-weight="normal" fill="#333333" stroke="#333333" stroke-width="0.12" >10</text>
<text x="381.2" y="65.95" font-size="8.8" text-anchor="end" font-weight="normal" fill="#333333" stroke="#333333" stroke-width="0.12" >12</text>
<text x="381.2" y="45.3" font-size="8.8" text-anchor="end" font-weight="normal" fill="#333333" stroke="#333333" stroke-width="0.12" >14</text>
<text x="484.2" y="237.3" font-size="8.8" text-anchor="end" font-weight="normal" fill="#333333" stroke="#333333" stroke-width="0.12" >0.05</text>
<text x="432.45" y="208.7" font-size="8.8" text-anchor="end" font-weight="normal" fill="#333333" stroke="#333333" stroke-width="0.12" >0.1</text>
<text x="380.7" y="180.1" font-size="8.8" text-anchor="end" font-weight="normal" fill="#333333" stroke="#333333" stroke-width="0.12" >0.15</text>
<text x="498.2" y="237.8" font-size="8.8" text-anchor="start" font-weight="normal" fill="#333333" stroke="#333333" stroke-width="0.12" >0.5</text>
<text x="531.95" y="227.1" font-size="8.8" text-anchor="start" font-weight="normal" fill="#333333" stroke="#333333" stroke-width="0.12" >0.6</text>
<text x="565.7" y="216.4" font-size="8.8" text-anchor="start" font-weight="normal" fill="#333333" stroke="#333333" stroke-width="0.12" >0.7</text>
<text x="599.45" y="205.7" font-size="8.8" text-anchor="start" font-weight="normal" fill="#333333" stroke="#333333" stroke-width="0.12" >0.8</text>
<text x="633.2" y="195" font-size="8.8" text-anchor="start" font-weight="normal" fill="#333333" stroke="#333333" stroke-width="0.12" >0.9</text>
<text x="430.5" y="241.3" font-size="14" text-anchor="middle" font-weight="bold" fill="#333333" stroke="#333333" stroke-width="0.3" >θ</text>
<text x="556" y="244.3" font-size="14" text-anchor="middle" font-weight="bold" fill="#333333" stroke="#333333" stroke-width="0.3" >β</text>
<g transform="translate(358.4,115.5) rotate(-90)"><text x="-0.3" y="0" font-size="13" font-weight="bold" fill="#333333" stroke="#333333" stroke-width="0.3">R</text><text x="10.2" y="6.4" font-size="10" font-weight="bold" fill="#333333" stroke="#333333" stroke-width="0.4">0</text></g>
<text x="526.2" y="282.6" font-size="18" text-anchor="middle" font-weight="normal" fill="#000" font-family='"Liberation Serif", serif'>(b)</text>
<text x="668.5" y="9.6" font-size="8.2" text-anchor="start" font-weight="normal" fill="#333333" stroke="#333333" stroke-width="0.12" >14</text>
<text x="668.5" y="33.95" font-size="8.2" text-anchor="start" font-weight="normal" fill="#333333" stroke="#333333" stroke-width="0.12" >12.6</text>
<text x="668.5" y="58.3" font-size="8.2" text-anchor="start" font-weight="normal" fill="#333333" stroke="#333333" stroke-width="0.12" >11.2</text>
<text x="668.5" y="82.65" font-size="8.2" text-anchor="start" font-weight="normal" fill="#333333" stroke="#333333" stroke-width="0.12" >9.8</text>
<text x="668.5" y="107" font-size="8.2" text-anchor="start" font-weight="normal" fill="#333333" stroke="#333333" stroke-width="0.12" >8.4</text>
<text x="668.5" y="131.35" font-size="8.2" text-anchor="start" font-weight="normal" fill="#333333" stroke="#333333" stroke-width="0.12" >7</text>
<text x="668.5" y="155.7" font-size="8.2" text-anchor="start" font-weight="normal" fill="#333333" stroke="#333333" stroke-width="0.12" >5.6</text>
<text x="668.5" y="180.05" font-size="8.2" text-anchor="start" font-weight="normal" fill="#333333" stroke="#333333" stroke-width="0.12" >4.2</text>
<text x="668.5" y="204.4" font-size="8.2" text-anchor="start" font-weight="normal" fill="#333333" stroke="#333333" stroke-width="0.12" >2.8</text>
<text x="668.5" y="228.75" font-size="8.2" text-anchor="start" font-weight="normal" fill="#333333" stroke="#333333" stroke-width="0.12" >1.4</text>
</g>
</svg>
</body></html>
